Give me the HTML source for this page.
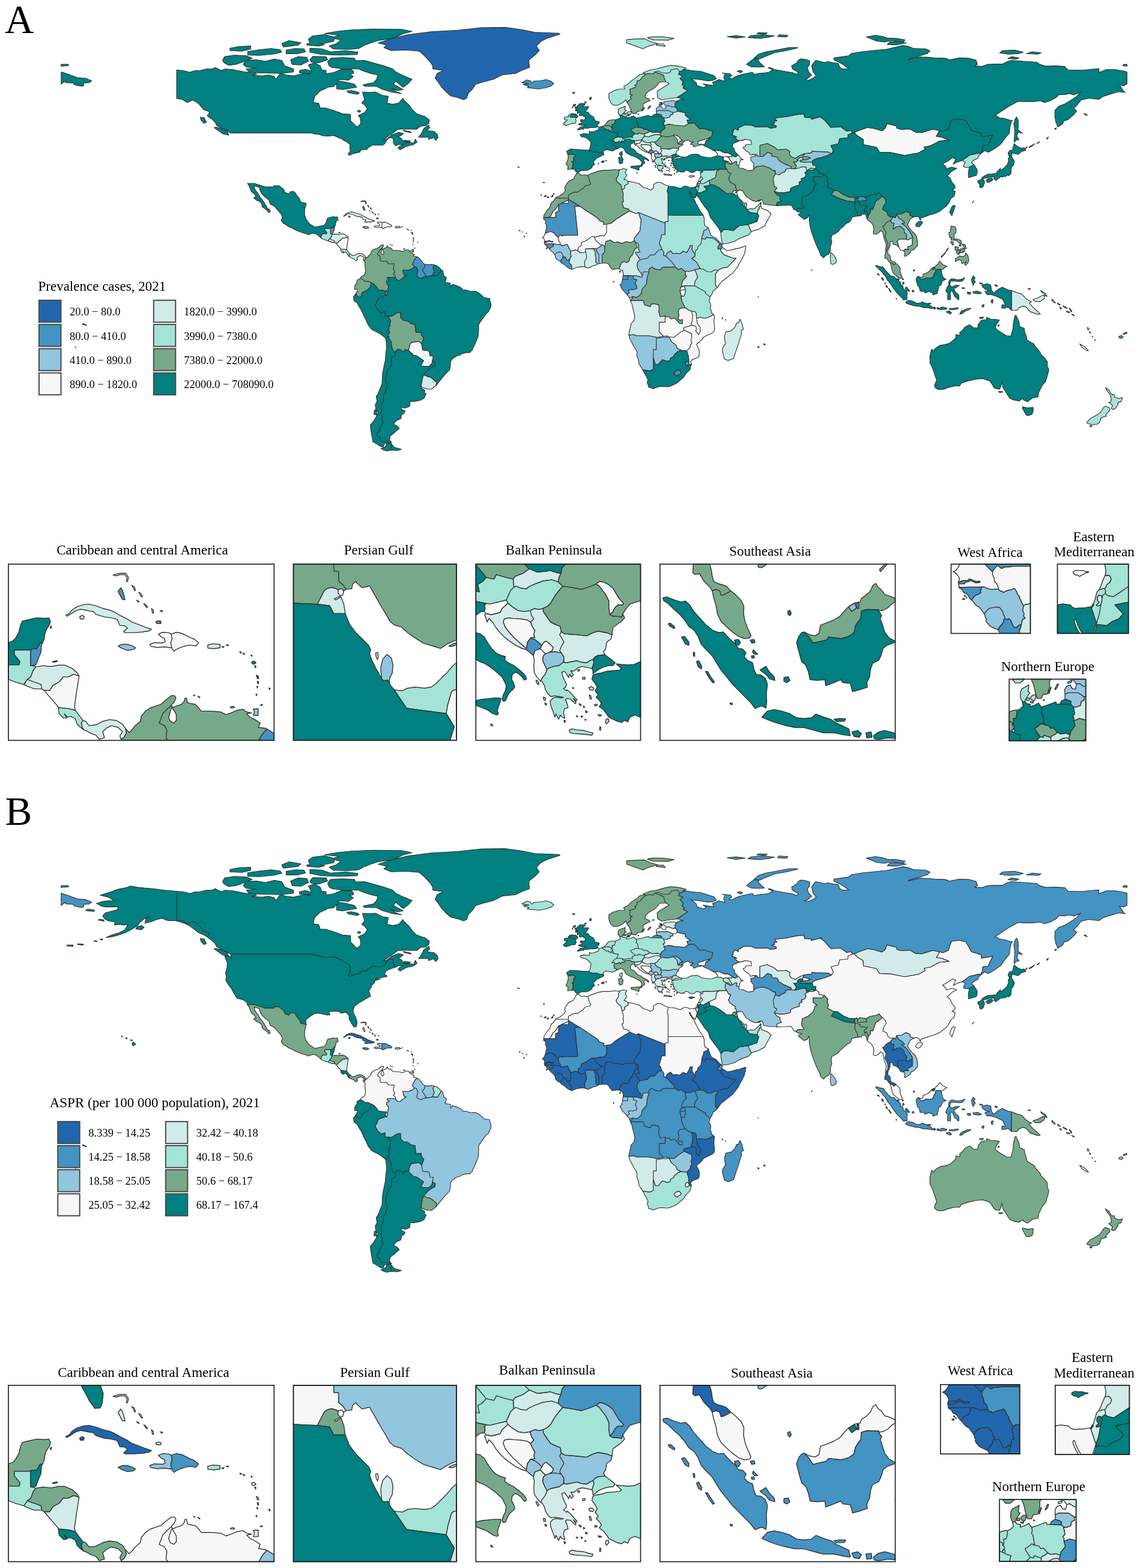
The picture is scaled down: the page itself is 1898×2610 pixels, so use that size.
<!DOCTYPE html><html><head><meta charset="utf-8"><title>Figure</title><style>html,body{margin:0;padding:0;background:#fff}svg{display:block}text{font-family:"Liberation Serif",serif;fill:#000}</style></head><body>
<svg xmlns="http://www.w3.org/2000/svg" width="1898" height="2610" viewBox="0 0 1898 2610">
<rect width="1898" height="2610" fill="#fff"/>
<g id="mapA"><g stroke="#333" stroke-width="1.15" stroke-linejoin="round"><path fill="#4393c3" d="M907.5,401.9 910,401.3 912.7,401.2 913.7,400.2 915.2,400.6 917.1,401.7 918.9,401.9 920.7,401.7 920.9,402.4 919.7,402.8 917.8,402.8 916,401.9 914.5,401.3 913,402.1 910.8,402.4 910.4,403.6 907.1,403.6 906.3,403.6 906.2,402.6ZM909,413.9 910,413.5 910.6,414 909.7,414.4ZM911.9,413.4 911.3,412.9 912,412.7ZM910.2,411.6 910.8,411.4 911,412.2 910.3,412.2ZM920,410.7 918.2,411.2 916.7,412.5 915.2,414.8 914.5,414 913.4,412.5 912.7,411.4 911.9,410.3 910,409.7 909.3,408.8 909,407.9 908.2,407.1 907.1,406.5 907.1,406.6 907.1,406.5 906.6,405.9 906.7,405.8 909,406 912.7,405.8 916.3,405.8 921.5,405.8 921.9,407.3 921.1,408.1 921.5,409.5ZM947.7,437.8 951.6,441.3 952.1,448.2 951.1,448.2 944.7,444.9 939.8,440.6 935.9,438.3 934.4,437.5 933.7,436.1 933,434.9 934,433.1 935.5,431.2 937,429.4 936.7,428.6 937.5,427.1 938.5,427.9 940.3,427.3 941.4,428.2 942.5,430.5 943.7,433.1 945.5,433.5 947,431.9 948.8,431.2 948.4,433.5 947.7,434.9 947.6,436ZM962,391.6 943.3,391.6 942.7,391.6 940.3,392 937.7,392 935.5,393.1 934.8,392.7 933.2,391.3 932.4,391.1 930,394 929.3,395.4 927.8,393.8 925.9,392 924.1,390.1 923.1,388.5 918.6,386 915.2,385.5 907.8,388.5 907.7,388.5 910.2,378.4 909.3,373.3 907.8,371.7 909,368.2 905.1,364.6 905.6,361.9 914.2,361.9 925,361.9 925,353.5 930,351.2 930,340.8 934.9,338.2 946.4,338.2 946.4,333.1 946.4,331.6 965.3,343.3 957.1,343.3 962,391.6ZM1036.4,465.2 1037.4,458.6 1045,458.6 1045,465.2ZM1033.2,452 1032,453.8 1031.5,451.2ZM1045,458.6 1054.2,459.1 1054.7,463.7 1060.6,465.7 1057.6,471.3 1060.1,476.9 1060.1,480.5 1053.2,482.5 1050.7,482 1046.3,482.5 1047.8,487.6 1043.8,490.4 1040.9,486.6 1036.4,482.5 1034.9,480 1032.2,473.9 1034.9,472.3 1035.7,468.3 1036.4,465.2 1045,465.2ZM1130.6,615.6 1134.3,619.7 1132.5,622.4 1128.6,624.2 1127.6,626 1124.2,624.2 1122.2,620.7 1125.6,617.1ZM1143.9,600.9 1146.8,602.4 1147.3,606.7 1143.4,609 1141.7,608.5 1140.9,606.4 1141.9,601.9ZM1202.5,407.3 1201.8,411.4 1202.3,412.1 1200.6,414.7 1195.1,414.4 1194.9,411.4 1198.1,406.8 1201.5,405.8ZM703.2,450 710.6,460.6 706.7,460.4 700.8,463.7 695.3,461.2 693.9,458.6 695.8,450.5 694.3,447.9 693.4,444.9 689.9,443.9 686.5,440.1 687.9,436.3 689.9,432.7 690.9,431.1 692.5,429 694.1,427.5 698.2,430 700.8,433.2 702.5,435.8 706.2,439.3 707.7,440.1 706.7,444.9ZM722.9,452 720,458.6 713.6,460.1 710.6,460.6 703.2,450 706.7,444.9 707.7,440.1 713.1,440.6 717.5,440.1 722.9,440.8 721,444.9ZM554.3,379.4 556.3,375.8 557.7,376.1 557.4,376.8 557.1,377.3 556.8,381.4 555.3,385 553.7,389.1 551.2,389.6 550.4,389.5 550.4,379.7ZM628.1,362.7 629.6,363 629.6,364.3 627,364.3 626.5,363.3ZM605.2,343 606.2,344.5 607.3,347.6 607.8,350.2 606.2,350 604.6,347.1 603.6,345ZM1082.8,249.3 1085.2,250 1087.7,251.5 1089.2,252.6 1088.3,254 1087,254.5 1085.2,254.9 1084.3,257 1082.8,256.1 1081,254.9 1080.3,254.5 1080.2,254.4 1080.3,254 1081,251.2ZM1439.1,327.8 1441.1,329.1 1442.6,330.6 1443.1,333.9 1431.7,334.7 1427.8,334.2 1427.3,331.6 1430.7,327ZM868.8,137.6 877.2,133 883.1,134.5 885.6,138.1 889,135 899.4,134.5 909.3,132.5 917.1,135 922.1,139.1 917.6,143.1 907.8,146.2 896.4,148.2 889,147.2 877.7,145.9 880.7,143.7 870.8,140.6 880.7,139.6ZM1605.2,516 1610.2,513.5 1616.6,513 1612.6,516 1605.7,518.6ZM1867.4,558.2 1869.9,561.2 1866.5,563.3 1863,562.2 1863,559.7ZM1875.8,552.6 1876.3,554.6 1871.4,556.7 1869.9,555.6Z"/><path fill="#f7f7f7" d="M930.7,402.1 932.2,403.6 933.1,405.8 933.3,407.3 931.1,407.1 928.5,407.5 925.9,406.7 923.7,405.8 921.5,405.8 916.3,405.8 912.7,405.8 909,406 906.7,405.8 906.6,405.9 906.5,405.8 906.7,405.1 906.3,404 906.2,402.6 906.9,400.6 906.7,399.3 905.8,398 904.9,396.6 903.4,395.5 902.6,395.4 904.5,394.4 906,392.4 907.1,390.1 907.5,389 907.6,388.5 907.7,388.5 907.8,388.5 915.2,385.5 918.6,386 923.1,388.5 924.1,390.1 925.9,392 927.8,393.8 929.3,395.4 929.4,397.6 930.3,399.5ZM906.3,403.6 907.1,403.6 910.4,403.6 910.8,402.4 913,402.1 914.5,401.3 916,401.9 917.8,402.8 919.7,402.8 920.9,402.4 920.7,401.7 918.9,401.9 917.1,401.7 915.2,400.6 913.7,400.2 912.7,401.2 910,401.3 907.5,401.9 906.2,402.6ZM967.4,409.3 967.9,403.8 974.3,401.2 979.2,398.2 985.6,393.6 990.1,394.6 991.1,399.2 994,402.2 999.9,407.3 1000.9,407.8 1000.9,409.8 996,412.4 993.5,414.4 988.4,413.9 975.3,414.4 974.8,417.5 975.2,419.5 974.3,420 966.4,421 962,417.5 963,411.4ZM1131.5,554.1 1138.9,549.5 1143.4,551.6 1151.3,555.1 1151.8,561.2 1150.3,566.3 1151.8,570.9 1149.3,574.9 1148.8,578.5 1143.4,584.1 1134,583.1 1127.1,579.5 1125.6,574.4 1118.2,568.9 1113.6,560.7 1122.2,561.5ZM1159.2,521.1 1159.6,529.2 1161.1,538.9 1165.6,544.5 1166.1,551.6 1163.1,557.2 1158.2,550.6 1159.6,548 1158.7,543.5 1152.7,541.4 1150.3,539.4 1152.7,533.8 1153.2,525.2 1151.5,518.1 1156.7,518.6ZM1146.8,601.9 1146.3,593.7 1143.4,584.1 1148.8,578.5 1149.3,574.9 1151.8,570.9 1150.3,566.3 1151.8,561.2 1151.3,555.1 1143.4,551.6 1138.9,549.5 1138,545.5 1152.7,541.4 1158.7,543.5 1159.6,548 1158.2,550.6 1163.1,557.2 1166.1,551.6 1165.6,544.5 1161.1,538.9 1159.6,529.2 1161.4,529.1 1165.6,528.2 1173.9,529.7 1178.9,528.2 1188.5,523.6 1189.4,525.7 1188.7,534.3 1188.7,536.3 1189.2,542.4 1190,546.5 1188.7,551.6 1185.8,554.1 1181.8,556.2 1176.9,558.2 1171.5,561.2 1168,565.8 1163.6,569.9 1160.9,571.1 1160.1,574.4 1162.1,578.5 1164.1,582.6 1164.3,587.6 1164.1,591.7 1162.6,594.8 1157.7,596.5 1151.8,599.1 1149.8,602.1 1151.3,606.7 1147.3,606.7 1146.8,602.4 1146.8,601.9ZM1151.5,518.1 1153.2,525.2 1152.7,533.8 1150.3,539.4 1152.7,541.4 1138,545.5 1138.9,549.5 1131.5,554.1 1122.2,561.5 1113.6,560.7 1110.4,559.2 1104.4,559.7 1097.5,552.6 1097.5,536.3 1107.4,536.3 1107.4,525.7 1109.4,527.7 1113.8,527.2 1117.3,530.8 1123.2,529.2 1127.1,533.3 1131.5,538.4 1136,538.6 1136,532 1132,533.3 1128.8,530.8 1130.3,524.7 1129.1,517.5 1131.5,513.5 1140.7,512 1146.8,516.3ZM1141.2,482 1136.7,482.2 1132,484.5 1133,478.4 1135,477.4 1139.4,475.6ZM1141.2,482 1141.2,487.1 1138.9,492.9 1134,492.9 1133,487.1 1132,484.5 1136.7,482.2ZM1191.2,455.8 1195.6,450.2 1196.1,449 1203.5,445.9 1210.9,444.9 1225.7,429.7 1220.8,429.7 1206,424.6 1201,419.5 1199.6,416.5 1200.6,414.7 1202.3,412.1 1203.5,412.6 1210.9,417.2 1218.3,415.9 1225.7,413.9 1231.6,412.9 1237,410.9 1241,409.3 1241.9,410.2 1241,413.4 1241,417.2 1240,418.5 1239.5,422.5 1236,429.2 1234.6,432.2 1231.1,438.3 1228.6,443.4 1224.2,449 1218.8,455.6 1212.6,460 1206.5,465 1201.5,468.8 1198.8,472.1 1194.1,478.7 1191.2,474.4ZM1063,353.5 1067.5,366.7 1065.5,384.4 1055.6,397.1 1056.1,400.7 1050.7,403.8 1041.8,402.2 1035.9,405.3 1028.5,402.7 1022.6,403.8 1016.2,399.7 1008.8,401.7 1006.8,410.9 1003.1,407.3 1000.9,407.8 999.9,407.3 994,402.2 991.1,399.2 990.1,394.6 999,392.6 1006.4,392.1 1009.8,387 1010,373 1017.7,371.5 1026.1,364.4 1048.2,350.9 1059.1,355.5ZM943.7,406.8 942.9,407.3 941,407.8 940.7,407.9 938.5,408.4 936.7,409.5 935.5,408.4 934.8,408.7 933.8,408 933.3,407.3 933.1,405.8 932.2,403.6 930.7,402.1 930.3,399.5 929.4,397.6 929.3,395.4 930,394 932.4,391.1 933.2,391.2 934.8,392.7 935.5,393.1 937.7,392 940.3,392 942.7,391.6 943.3,391.6 962,391.6 957.1,343.3 965.3,343.3 995,363.1 998,367.2 1005.4,369.7 1004.9,373.8 1010,373 1009.8,387 1006.4,392.1 999,392.6 990.1,394.6 985.6,393.6 979.2,398.2 974.3,401.2 967.9,403.8 967.4,409.3 963,411.4 962,417.5 958.5,415.9 952.7,417.7 952.1,417.4 950.6,418.3 950.3,418.5 949.2,416.7 948.7,415.8 948.2,414.4 947.3,413.1 947.7,412.5 946.2,410.7 945.5,408.8 944.4,407 943.7,406.8ZM713.1,583.6 715,585.6 716,592.2 721.5,592.5 720,600.3 719,605.4 714.6,609.5 710.6,610 700.3,609 705.2,600.3 699.3,596.3 693.4,592.2 688.4,591.2 680.3,583.3 682,574.4 685,569.9 697.8,568.3 702.2,572.7 703.7,582.6ZM562.1,404.4 564.1,401.4 567.8,399.3 570.4,396.2 573.5,396.2 576.6,394.7 579.9,395.7 579.2,400.3 578.2,406.5 577.6,410.6 577.1,414.2 577.6,416.2 573.5,415.2 567.8,414.7 567.2,414.2 564.1,410.6 561,407 558.7,404.4 560,404.4ZM622.8,376.8 623.6,378 627.5,378.7 631.7,378.3 635.8,378.9 636.1,378.9 635.6,375.8 636.3,373.2 635.8,370.6 634.3,369.8 630.7,369.6 628.1,370.6 629.6,372.2 631.7,373.2 632.2,375.3 630.7,376 625.4,375.8ZM635.8,370.6 638.9,369.6 642,370.1 645.2,371.6 647.3,372.7 649.9,373.7 652.4,375.8 650.9,377.8 647.3,377.3 644.2,377.8 641,378.9 638.9,379.9 637.4,380.9 636.1,378.9 635.6,375.8 636.3,373.2ZM1066.3,233.1 1068.8,232.6 1069.7,234 1068.2,235.1 1066.3,236.3 1065.1,238.2 1062.6,238.7 1060.2,239.1 1057.2,238.7 1055.9,237.7 1056.6,236.3 1055.9,234.9 1056.5,234.8 1056.6,234.1 1059.3,234.4 1062.6,233.7 1062.7,233.7ZM1070,240.5 1073,240.7 1077.3,240.9 1081,241.4 1082.8,242.4 1083.7,244.2 1085.2,246.1 1084.6,247.9 1085.2,249.1 1082.8,249.3 1081,251.2 1080.3,254 1079.2,253.3 1076.1,251.2 1073,249.1 1070.6,247 1068.2,244.7 1066.9,242.4 1067.5,240.9ZM1091.9,250.7 1094.1,252.1 1095.9,253.5 1095.3,254.9 1093.8,255.6 1091.3,256.3 1089.5,254.9 1088.3,254 1089.2,252.6 1090.7,251ZM1088.3,254 1089.5,254.9 1091.3,256.3 1090.1,257.3 1089.8,259.4 1091.3,261.9 1092.3,263.3 1091.3,265.2 1089.5,267 1088.6,268.4 1086.4,266.6 1084.9,264.7 1084.6,261.9 1084.9,259.1 1084.3,257 1085.2,254.9 1087,254.5ZM1124.9,224.7 1127.9,225.9 1130.4,227.5 1132.2,229.8 1134.1,232.1 1136.5,234 1135.9,234.9 1133.4,234.7 1131.6,235.9 1130.4,237.7 1128.5,239.1 1127.9,236.3 1127.9,233.1 1126.1,230.3 1124.3,228.4 1122.4,226.5 1120.6,225.6 1122.4,224.4ZM1019.4,215.5 1021.1,217.3 1020.4,219.1 1017.7,218.6 1017.4,216.8ZM1277.9,366.7 1274,373.8 1273.5,376.3 1267.6,378.9 1261.2,382.4 1255.3,383.9 1250.8,385.7 1245.4,373.8 1260.2,368.7 1262,363.3 1263.3,359.1 1260.7,355.2 1261.3,352.5 1262.5,348.7 1263,348.2 1264,348 1264.1,343.8 1266.8,343.6 1266.9,343.5 1268.1,346.9 1277.9,350.4 1283.9,356 1277.9,366.7ZM1267,339.9 1266.8,340.3 1265.9,340 1265.6,338 1267.1,336.8ZM1205.5,253.9 1212.4,254.4 1218.1,257.4 1218.8,261 1210.9,260.5 1204,261.5 1198.6,259.7 1193.7,259.5 1194.6,256.4 1191.2,251.9 1186.3,249.8 1198.6,250.8ZM1215.8,267.1 1218.3,269.6 1218.3,272.7 1216.3,272.9 1213.4,269.6 1209.9,268.6 1204.3,266.6 1204,261.5 1210.9,260.5 1213.9,263ZM1496.8,398.2 1507.6,397.7 1511.6,399.2 1519.2,395.6 1519,407.8 1511.1,411.4 1512.6,415.4 1507.1,414.9 1504.2,417.5 1499.3,416.5 1496.8,411.9 1496.3,411.1 1493.8,401.2ZM1444,212.2 1453.9,213.5 1468.7,217.6 1473.6,213.8 1476.6,205.6 1492.8,209.7 1493.3,213.3 1500.2,215.5 1515,214.5 1524.4,219.9 1534.7,220.6 1552.5,215 1564.3,217.3 1558.9,227 1567.8,228.2 1580.1,233.1 1564.3,234.8 1549,242.7 1538.2,244.7 1540.7,248.3 1528.8,254.7 1506.2,258.7 1482,253.9 1464.3,253.4 1459.3,245.3 1437.6,240.7 1437.1,232 1427.3,226 1421.9,220.4 1431.2,216.8Z"/><path fill="#92c5de" d="M949.8,421.3 949.8,421.4 949.9,422.2 950.7,423.8 950.3,425.6 951.4,427.1 949.6,427.9 949.2,429.7 948.8,431.2 947,431.9 945.5,433.5 943.7,433.1 942.5,430.5 941.4,428.2 940.3,427.3 938.5,427.9 937.5,427.1 937.5,426 936.7,424.5 936.3,422.6 935.2,421.1 934,419.7 931.8,419.4 929.3,419.8 927,420.4 925.2,422.2 923.7,424.1 923,423 921.9,421.5 921.1,420.4 920,419.2 918.5,418.5 917.4,417.4 916.3,415.9 915.2,414.8 916.7,412.5 918.2,411.2 920,410.7 921.5,409.5 921.1,408.1 921.9,407.3 921.5,405.8 923.7,405.8 925.9,406.7 928.5,407.5 931.1,407.1 933.3,407.3 933.8,408 934.8,408.7 935.5,408.4 936.7,409.5 938.5,408.4 940.7,407.9 942.9,407.3 943.7,406.7 944.4,407 945.5,408.8 946.2,410.7 947.7,412.5 947.3,413.1 948.2,414.4 948.7,415.8 949.2,416.7 950.3,418.5 949.8,421.3ZM927,420.4 929.3,419.8 931.8,419.4 934,419.7 935.2,421.1 936.3,422.6 936.7,424.5 937.5,426 937.5,427.1 936.7,428.6 937,429.4 935.5,431.2 934,433.1 933,434.9 930.3,433.8 928.5,432.9 927.4,432.1 926.6,431.2 925.6,430.1 924.8,428.6 925.2,427.5 924.4,426.8 924.3,425.2 923.7,424.1 925.2,422.2ZM992.1,428.6 991.1,425.6 991.1,419.5 989.1,416.5 988.4,413.9 993.5,414.4 993,417.5 996,422 997,424.6 997.2,438.8 997.2,438.9 995,439.3 991.6,435.8ZM995,439.3 997.2,438.9 997.2,438.8 997,424.6 996,422 993,417.5 993.5,414.4 996,412.4 1000.9,409.8 1000.9,407.8 1003.1,407.3 1006.8,410.9 1006.8,419.5 1002.4,424.6 1002.7,430.7 1002.4,438 1000.9,438.3 995,439.3ZM1046.3,482.5 1050.7,482 1053.2,482.5 1060.1,480.5 1060.1,476.9 1057.6,471.3 1060.6,465.7 1054.7,463.7 1054.2,459.1 1060.6,459.1 1068.5,461.7 1068.9,459.1 1070.4,456.1 1070.9,452.5 1080.8,452.5 1078.3,458.6 1077.3,465.2 1076.3,472.8 1068.9,481.5 1068,488.1 1064.5,492.1 1060.1,495.2 1053.7,493.7 1048.2,495.7 1047.9,495.5 1047.5,494.7 1043.8,490.4 1047.8,487.6ZM1059.1,558.7 1079.8,558.7 1094.6,561.5 1104.4,559.7 1110.4,559.2 1113.6,560.7 1108.4,561.7 1103.9,561.7 1092.6,563.3 1092.6,582.1 1087.7,582.1 1087.7,614.6 1082.8,617.1 1077.8,617.1 1074.9,616.1 1070.2,615.6 1063.8,605.7 1062.8,598.8 1060.3,592.2 1060.6,586.9 1059.3,582.6 1055.1,576.5 1052.2,570.4 1049.2,565.3 1047,557.9 1055.6,556.7ZM1108.4,561.7 1113.6,560.7 1118.2,568.9 1125.6,574.4 1127.1,579.5 1134,583.1 1128.6,585.1 1122.7,590.2 1121.4,593.5 1116.8,595.8 1115.3,600.3 1110.8,601.4 1102.5,598.8 1096.1,606.7 1091.1,606.7 1087.7,596.3 1087.7,582.1 1092.6,582.1 1092.6,563.3 1103.9,561.7ZM1194.6,401.7 1190.7,398.7 1186.3,396.6 1181.3,396.1 1175.9,394.6 1174.4,398.2 1168.5,397.1 1168.5,394.1 1171,388 1171.5,383.9 1175.9,381.9 1179.4,378.9 1183.5,391.1 1186.8,394.1 1192.2,396.6 1198.1,403.2 1201.5,405.8 1198.1,406.8ZM1116.3,417.5 1120.2,422 1126.6,421.5 1131.5,422.5 1134.5,420.5 1137,418 1143.4,420.5 1148.8,410.9 1148.3,409.3 1152.7,408.3 1152.2,415.9 1156.2,422 1157.2,422 1157.2,426.6 1151.8,430.2 1156.7,433.7 1160.1,436.8 1163.1,442.4 1166.1,446.9 1156.7,449 1151.8,450.7 1146.8,452 1142.9,451 1141.2,452.5 1134.5,446.9 1129.1,448.5 1124.2,444.4 1119.2,436.8 1113.3,430.7 1108.4,426.1 1111.3,420.5ZM1107.4,390.5 1102,390.5 1099.5,399.2 1097.5,405.8 1100,409.3 1102,414.9 1096.1,416.5 1089.7,424.1 1082.8,424.6 1077.8,429.7 1070.4,431.2 1065.5,432.2 1064,429.7 1057.9,421.5 1058.1,420 1065.5,419.5 1063,414.9 1063,408.8 1062.5,405.3 1058.6,403.8 1056.1,400.7 1055.6,397.1 1065.5,384.4 1067.5,366.7 1063,353.5 1107.4,371.2ZM1077.8,429.7 1082.8,424.6 1089.7,424.1 1096.1,416.5 1102,414.9 1105.4,420 1104.9,425.1 1108.4,426.1 1113.3,430.7 1119.2,436.8 1124.2,444.4 1113.8,444.9 1109.4,444.4 1102,445.9 1099.5,449.5 1090.6,447.9 1085.2,444.4 1080.3,448.5 1080.8,452.5 1070.9,452.5 1070.4,456.1 1068.9,459.1 1067.5,455.1 1063,449.5 1061.1,444.9 1060.6,440.3 1061.6,436.3 1065.5,432.2 1070.4,431.2ZM603.6,377.8 606.2,376.8 609.3,376.8 612.5,377.8 614.2,378.9 613,379.9 609.3,380.4 606.2,379.4ZM685.7,415.5 688.6,415.3 688.6,419.3 685.7,419.3 686.4,417.2ZM1093.2,262.6 1092.3,263.3 1091.3,261.9 1089.8,259.4 1090.1,257.2 1091.3,256.3 1093.8,255.6 1096.8,255.4 1100.5,255.9 1102,257.7 1101.7,260 1099.3,261.5 1096.2,261.9 1093.2,262.6ZM1111.8,183.8 1120.2,187.3 1120.2,190.4 1116.3,191.4 1115.3,195 1109.4,196.5 1104.9,196.2 1101.5,194.2 1101.5,191.4 1097.5,190.4 1093.1,189.4 1092.9,185.3 1097.5,183.8ZM1119.7,178.2 1123.9,177.9 1126.6,179.7 1128.1,185.1 1125.1,186.8 1120.2,187.3 1111.8,183.8 1097.5,183.8 1092.9,185.3 1092.6,180.7 1095.6,177.9 1100.5,176.9 1103.5,180.2 1107.9,180.5 1109.4,176.2 1113.8,175.7ZM1102,174.6 1097.5,175.7 1097,174.1 1103.5,172.6ZM1109.4,176.2 1104.9,172.6 1104.9,169.6 1111.1,168.3 1117.3,167.5 1127.1,168.3 1124.2,171.6 1123.9,177.9 1119.7,178.2 1113.8,175.7ZM1102,171.9 1099,171.9 1098,170.8 1102.5,170.6ZM1240.4,345.3 1239.7,344.9 1239.4,341.4 1240.1,338.8 1241.5,337.4 1242.8,338.5 1243.4,340.4 1243.2,342.9 1242.4,344.5 1242.2,345.6 1241.7,345.2ZM1262.7,260.5 1265.1,260.5 1270.1,260.5 1277.9,253.4 1284.8,255.9 1285.3,260 1294.2,261.5 1296.7,267.1 1305.5,272.4 1317.1,277.3 1316.9,280.6 1312.4,280.8 1308.5,281.8 1307,285.9 1300.6,288.2 1297.7,291.2 1290.8,289.5 1290.8,284.1 1287.3,284.1 1281.4,279.8 1271,276 1260.2,277.3 1254.8,280.6 1254.8,272.2 1250.3,267.1 1249.8,261.5 1258.7,259.5 1255.5,257.2 1258.7,256.7ZM1351.9,251.4 1358.8,252.4 1363.7,252.4 1379,252.9 1384.4,255.9 1376,259.5 1368.1,262 1357.8,264.6 1352.9,267.6 1352.4,269.6 1339.1,270.1 1332.2,269.1 1331.7,267.1 1337.1,266.1 1344,265.6 1349.4,262.8 1344,261 1336.6,260 1340,255.9 1338.6,255.7 1351.4,254.4ZM1492.8,356.5 1496.8,363.6 1501.7,366.2 1506.2,371.2 1501.2,372.3 1507.6,376.3 1514,384.4 1519,393.1 1519.2,395.6 1511.6,399.2 1507.6,397.7 1509.1,397.1 1509.6,391.1 1505.7,387 1505.2,381.9 1498.8,376.8 1492.4,377.8 1486.9,381.4 1488.4,371.2 1484.5,371.2 1482.5,366.9 1487.7,360.8 1490.9,362.6ZM1555.1,447.5 1552.9,449.2 1551.3,446.9 1554.4,445ZM1556.3,447.6 1555.5,447.6 1555.5,445.2 1556.2,444.5 1556.3,444.5Z"/><path fill="#76a98a" d="M980.7,299.1 983.2,305.2 982.7,307.2 974.3,309.3 971.1,313.3 964.5,317.9 961,319.9 954.1,320.4 946.4,324.5 946.4,329.7 924.7,329.7 925.5,328.3 931.4,326.5 934.4,324 938.8,320.9 941.5,315.9 940.3,314.9 940.8,310.3 943.5,306.2 947.2,301.4 951.6,299.6 955.3,297.3 958,292 960,288.4 963,287.9 967.9,291.5 974.3,291 978.3,292 980.2,295.5ZM946.4,333.1 941.8,335.2 934.9,338.2 930,340.8 925,348.4 920.6,352.4 917.1,359.6 914.2,361.9 905.6,361.9 905.1,364.6 905.3,361.6 905.8,357.5 908.8,353.5 910.7,349.9 915.2,345.8 917.6,337.7 921.1,335.2 923.1,332.6 924.7,329.7 946.4,329.7ZM1029.5,292.5 1026.1,297.6 1026.6,301.1 1030.5,305.2 1033.7,307.2 1035.9,316.4 1037.9,323 1037.4,328.1 1038.1,335.7 1035.4,337.7 1038.4,345.8 1046.3,347.9 1048.2,350.9 1026.1,364.4 1017.7,371.5 1010,373 1004.9,373.8 1005.4,369.7 998,367.2 995,363.1 965.3,343.3 946.4,331.6 946.4,329.7 946.4,324.5 954.1,320.4 961,319.9 964.5,317.9 971.1,313.3 974.3,309.3 982.7,307.2 983.2,305.2 980.7,299.1 980.2,295.5 978.3,292 984.2,288.9 989.6,287.4 995.5,284.9 1004.2,283.4 1013.7,283.4 1023.1,282.3 1027.5,282.8 1031.5,282.6 1030,287.4ZM1002.4,424.6 1006.8,419.5 1006.8,410.9 1008.8,401.7 1016.2,399.7 1022.6,403.8 1028.5,402.7 1035.9,405.3 1041.8,402.2 1050.7,403.8 1056.1,400.7 1058.6,403.8 1059.1,406.8 1061.1,411.9 1057.1,414.4 1052.2,425.6 1049.2,427.6 1047.3,434.7 1043.3,437.3 1038.9,435.2 1034.4,437.8 1031.5,445.9 1031,447.2 1026.1,447.7 1023.6,447.9 1019.2,448.5 1015.7,444.4 1013.7,440.3 1010.8,438.3 1005.9,437.8 1002.4,438 1002.7,430.7ZM1134.7,498.8 1134.8,498.8 1135,500.8 1137,504.7 1140.7,512 1131.5,513.5 1129.1,517.5 1130.3,524.7 1128.8,530.8 1132,533.3 1136,532 1136,538.6 1131.5,538.4 1127.1,533.3 1123.2,529.2 1117.3,530.8 1113.8,527.2 1109.4,527.7 1107.4,525.7 1099,527.2 1096.6,518.6 1097.5,513.5 1096.6,507.4 1090.1,505.9 1084.7,505.9 1082.8,510.4 1072.9,507.4 1070.9,500.3 1053.2,500.3 1049.7,501.3 1049.4,499.5 1050.7,499.8 1053.7,493.7 1060.1,495.2 1064.5,492.1 1068,488.1 1068.9,481.5 1076.3,472.8 1077.3,465.2 1078.3,458.6 1080.8,452.5 1080.3,448.5 1085.2,444.4 1090.6,447.9 1099.5,449.5 1102,445.9 1109.4,444.4 1113.8,444.9 1124.2,444.4 1129.1,448.5 1134.5,446.9 1141.2,452.5 1140.9,458.1 1143.4,459.4 1139.4,464.2 1136.7,467.3 1135,472.8 1135,477.4 1133,478.4 1132,484.5 1133,487.1 1134,492.9 1134.7,498.8ZM607.1,432.5 608.6,429.9 608.1,427.1 610.4,429.5 611.9,428 614,425.4 617.1,422.9 617.7,419.8 620.3,416.7 623.4,414.7 626.5,413.7 629.6,412.6 633.2,409.5 635.8,407.5 637.9,407.5 638.7,409 637.4,411.6 635.8,413.2 636,413.3 635.8,413.5 633.2,415.7 630.7,418.3 629.6,421.3 628.5,423.9 631.7,425.4 633.2,428 632.7,432.7 634.2,434.7 643.6,434.7 647,439.3 656.4,438.8 654.7,447.4 657.4,453 654.7,456.1 657.9,458.6 659.3,464.2 658.4,461.7 653.9,461.7 645.1,461.7 644.8,464.7 648,465.2 647,467.3 643.8,467.5 643.8,471.3 647,475.9 644.3,491.6 640.6,489.6 643.8,484 629.8,482.5 628.3,479.4 622.4,472.8 617.9,470.8 613,468.3 607.6,468.3 605.1,466.2 600.4,463.2 600.7,461.2 607.1,457.1 608.6,451 607.6,442.4 607.8,435.8 605.4,433.5ZM607.6,468.3 613,468.3 617.9,470.8 616.5,477.9 611,483.5 605.6,485.5 602.7,487.6 601.2,493.7 599.2,495.7 592.6,490.6 593.3,487.6 595.3,483.5 594.8,481.5 590.3,481.5 590.8,475.4 594.3,470.3 594.5,466.2 600.4,463.2 605.1,466.2ZM689.9,432.7 687.9,436.3 686.5,440.1 689.9,443.9 686.5,447.4 679.6,450 673.6,449.5 670.7,449.5 672.7,457.6 676.6,459.1 673.6,460.6 666.3,466.2 662.3,466.5 659.3,464.2 657.9,458.6 654.7,456.1 657.4,453 654.7,447.4 656.4,438.8 647,439.3 643.6,434.7 634.2,434.7 632.7,432.7 633.2,428 631.7,425.4 628.5,423.9 629.6,421.3 630.7,418.3 633.2,415.7 635.8,413.5 636,413.3 635.8,413.2 635.8,413.1 636.9,414.7 638.9,413.7 642,412.6 643.6,411.1 644.2,409 645.2,409 645.7,411.6 647.3,412.1 650.4,412.6 652.4,414.7 654,416.7 659.7,416.7 666,417.2 669.1,418.8 672.2,417.8 675.9,416.2 679.5,415.7 681.6,417.2 684.7,417.8 681.6,418.3 683.6,420.3 686.8,421.8 689.9,423.9 688.8,426.5 693,427 694.1,427.5 692.5,429 690.9,431.1ZM635.3,422.9 637.4,423.9 638.9,422.3 638.9,418.8 637.4,416.2 636.4,414.7 635.9,414.9 635.3,417.2 634.3,420.3ZM660.8,520.6 666.7,519.6 667.2,528.7 671.7,533.3 678.6,534.3 684.5,538.9 690.9,539.9 692.4,553.1 701.2,553.1 701.7,558.2 705.7,562.8 704.2,566.8 702.5,570.9 702.2,572.7 697.8,568.3 685,569.9 682,574.4 680.3,583.3 674.1,582.1 672.2,586.1 667.7,582.6 662.3,581 657.9,586.1 654.4,583.1 652.9,579.5 651.5,573.9 651.5,568.9 649,566.3 646.5,559.2 646,558.2 649,552.6 646,549.5 648,548 647,545.5 649.5,542.4 649,539.4 650.5,533.8 646,525.9 652.4,526.2ZM1107.2,227.2 1112.1,227.9 1115.7,227 1120.6,225.6 1122.4,226.5 1124.3,228.4 1126.1,230.3 1127.9,233.1 1127.9,236.3 1128.5,239.1 1130.4,239.8 1133.4,239.8 1135.2,240.3 1136,238.7 1137.1,240.5 1134.7,242.4 1130.4,244.7 1129.8,247.9 1126.7,247 1121.8,246.3 1118.8,247 1115.1,248.4 1109.6,247.9 1105.4,247.7 1102.3,247.5 1100.5,246.5 1099.9,244.2 1096.8,243.3 1094.4,242.4 1092.6,240.5 1090.1,237.7 1090.1,236.3 1092.6,235.4 1094.4,234 1096.8,230.7 1099.3,228.4 1101.4,226.5 1103.6,226.8ZM906.8,303.9 905.8,304.4 904.3,303.4ZM861.9,277.8 864.9,278 863.4,278.8ZM954.6,268.6 952.1,269.1 954.6,272.7 953.1,275.2 954.6,277.3 952.1,279.8 952.6,281.3 945.2,282.3 945.7,275.7 942.3,273.5 945.2,266.1 946.2,261.3 945.5,257.4 948.7,256.4 956.6,257.2 958.5,259 955.1,262ZM1013.7,208.9 1017.9,210.5 1017.2,212.2 1018.7,212.5 1020.6,214.5 1019.4,215.5 1017.4,216.8 1017.7,218.6 1013.3,217.3 1013,215.5 1009.8,216.3 1004.4,212.2 1001.7,210.7 1005.6,209.4 1010.3,209.2ZM1022.6,206.4 1018.7,206.9 1019.7,209.2 1018.7,212.5 1017.2,212.2 1017.9,210.5 1013.7,208.9 1010.3,209.2 1005.6,209.4 1008.8,206.4 1011.8,201.6 1015.7,200 1023.1,199 1024.6,199.5 1023.8,204.1ZM1069.4,213 1072.4,215.3 1076.3,214.8 1082,218.8 1078.3,220.9 1073.9,222.1 1072.6,223.4 1068.5,222.7 1063,221.4 1061.6,223.4 1057.1,222.7 1050.7,216.8 1049.7,215.3 1053.2,214 1059.6,211 1062,212 1064.5,212.2ZM1101.4,226.5 1098.7,224.7 1098.7,224.6 1099.1,223 1100.2,220.9 1101,218.3 1107.4,213.3 1105.4,208.7 1113.8,206.6 1123.2,208.2 1133.5,209.2 1139.9,209.7 1145.8,205.6 1155.7,204.4 1164.6,214.3 1173.4,214.3 1180.8,217.3 1186.8,218.3 1184.8,227.5 1177.4,231 1173.9,231.5 1170,233.1 1162.6,235.1 1161.6,238.1 1164.1,240.2 1169,239.7 1166.5,241.7 1163.6,241.7 1159.2,243 1155.2,244.7 1154.2,241.7 1149.3,239.7 1154.7,236.1 1149.3,236.1 1146,233.1 1143.8,233.5 1140.1,234.4 1137.7,236.8 1136,238.7 1135.3,240.2 1134.4,240.1 1133.4,239.8 1132,239.8 1129.8,239.6 1128.5,239.1 1130.4,237.7 1131.6,235.9 1133.4,234.7 1135.9,234.9 1136.5,234 1134.1,232.1 1132.2,229.8 1130.4,227.5 1127.9,225.9 1124.9,224.7 1122.4,224.4 1121.8,224.8 1120.6,225.6 1115.7,227 1112.1,227.9 1112,227.9 1107.2,227.2 1103.6,226.8 1101.4,226.5ZM1069.9,183.3 1072.4,179.2 1073.4,179 1069.9,184.8ZM1081.8,179.2 1079.3,181 1078.3,180.7 1081.8,176.2 1083.7,176.2ZM1048.7,156.9 1049.2,150.3 1048.2,148.7 1057.6,145.2 1058.6,142.6 1056.6,142.1 1060.6,138.6 1060.6,134.5 1065.5,133.5 1069.9,127.4 1074.4,124.4 1078.3,122.3 1087.7,122.8 1090.4,119.5 1104.9,125.4 1105.9,129.9 1107.4,133.5 1108.4,136 1098.5,136.5 1094.1,142.1 1089.2,146.7 1079.3,152.3 1074.9,156.9 1073.9,161.9 1080.8,165 1082.3,167.5 1078.3,169.1 1070.9,173.1 1070.9,178.7 1068,184.8 1061.6,185.3 1059.1,188.9 1053.2,188.9 1050.7,184.3 1048.2,177.2 1044.3,171.1 1043.8,170.1 1047.3,167 1050.7,164.5 1049.2,160.4 1052.7,158.4ZM1192.2,289.5 1193.2,284.9 1197.8,281.8 1209.9,281.6 1212.9,287.4 1216.8,288.9 1212.9,297.6 1215.8,302.7 1224.7,308.8 1224.1,310.4 1224.2,312.4 1225.6,312.5 1225.7,315.5 1227.2,316.6 1228.1,317.8 1227.5,318.2 1225.6,318.2 1225.1,317.7 1223.4,317.3 1222,317.5 1221,318.2 1218.7,322.3 1209.4,322 1196.6,312.3 1188.2,308 1182.3,307 1180.3,300.6 1191.2,295.5ZM1277.4,238.7 1289.8,244.7 1294.7,249.3 1309,248.3 1314.9,251.9 1314.4,256.9 1317.9,261.3 1324.3,263.5 1329.2,260 1338.6,255.7 1340,255.9 1336.6,260 1344,261 1349.4,262.8 1344,265.6 1337.1,266.1 1336.1,262 1330.7,263 1327.2,266.1 1329.2,266.6 1326.2,269.6 1321.3,269.6 1326.2,276.2 1323.3,281.3 1316.9,280.6 1317.1,277.3 1305.5,272.4 1296.7,267.1 1294.2,261.5 1285.3,260 1284.8,255.9 1277.9,253.4 1270.1,260.5 1265.1,260.5 1265.1,241.7ZM1263,334.2 1264,333.9 1266.1,333.4 1266.1,333.9 1262.5,335.1 1261.6,334.9ZM1218.3,272.7 1220.8,271.2 1225.7,268.6 1227.2,270.1 1225.7,273.2 1228.6,275.2 1230.1,275.2 1230.6,279.8 1237,280.3 1245.4,284.4 1255,282.9 1255.3,282.8 1254.8,280.6 1260.2,277.3 1271,276 1281.4,279.8 1287.3,284.1 1290.8,284.1 1290.8,289.5 1287.8,296.1 1287.3,299.1 1289.3,310.3 1293.7,312.8 1289,318.7 1293.7,324.5 1298.6,326.8 1298.4,331.6 1301.1,334.7 1293.7,337.2 1292.7,342.3 1279.9,341.3 1271.5,339.7 1269.1,332.6 1266.6,332.4 1264,333.1 1263,333.4 1260.9,334.4 1258.9,335.6 1256.8,335 1253.3,334.1 1250.6,332.5 1248.2,330.9 1246.3,329.3 1243.7,328.5 1242.4,327.4 1241.1,325.3 1239.7,323.3 1238.6,321.4 1236.8,318.5 1235.8,316.8 1233.4,317.4 1231.7,316 1231.3,315.5 1230.3,316.3 1229.9,317.7 1228.1,317.8 1227.2,316.6 1225.7,315.5 1225.6,312.5 1224.2,312.4 1224.1,310.4 1224.7,308.8 1215.8,302.7 1212.9,297.6 1216.8,288.9 1212.9,287.4 1209.9,281.6 1207,277.3 1207.9,270.1 1209.9,268.6 1210.7,270.1 1212.9,272.2 1216.3,272.9ZM1404.1,324 1413,328.1 1423.3,328.6 1423.3,336.2 1409.1,334.4 1399.7,331.1 1383.9,324 1388.8,316.9 1394.8,317.4ZM1449.5,353.5 1449,347.9 1452.9,349.1 1455.4,342.3 1457.8,335.2 1463.3,331.6 1468.9,326.8 1472.6,329.6 1475.6,335.7 1470.7,344.3 1469.7,348.9 1476.6,352.4 1478.1,358 1482.5,361.1 1487.7,360.8 1482.5,366.9 1476.6,370 1471.2,376.3 1469.2,376.3 1475.6,387.5 1473.1,393.6 1478.1,404.3 1478.1,411.9 1474.6,420 1474.6,414.4 1475.6,406.8 1472.6,399.2 1470.2,389 1470.2,386.5 1466.2,383.9 1463.3,387 1458.8,390 1453.9,389 1454.9,381.4 1453.4,374.8 1450,369.7 1447,368.2 1444,365.1 1445.5,358.6ZM1487.2,440.9 1488.7,440.6 1492,438.7 1492.1,438.6 1494.8,440.9 1497.4,443.6 1498.7,446.7 1498.5,450.6 1499.3,454.5 1500.7,458.3 1502.3,461.8 1501.5,463 1498.9,463.3 1495.9,462.2 1492.9,459.9 1489.9,457.1 1487.2,454.5 1485.4,450.6 1484.6,446 1483.5,442.1 1482.7,438.6 1484.6,437.8 1486.5,438.6 1487.2,440.9ZM1557.8,449.1 1557.4,452.9 1555.9,454.9 1554.8,456.8 1554,460.2 1551.4,462.2 1547.7,463.3 1541.2,462.6 1540.2,464.1 1536.4,464.9 1533.4,465.7 1531.1,462.2 1528.9,459.9 1531.9,461.4 1534.5,461.8 1536.4,460.6 1537.2,456.4 1540.2,455.2 1543.9,453.7 1546.9,451.8 1549.5,448.7 1551.3,446.9 1551.4,446.7 1554.4,444.8 1556.2,444.5 1555.5,445.2 1555.5,447.6 1556.3,447.6 1556.3,444.5 1557,444.4 1557.8,442.5 1560.4,440.5 1562.3,438.6 1563.4,435.9 1564.9,434.7 1566,436.7 1567.9,438.2 1569.4,440.5 1572.1,441.3 1574.8,442.7 1576.6,443.4 1573.1,445.2 1570.9,447.5 1568.7,448.7 1566.4,449.1 1566.4,448.4 1560.4,448.3ZM1552.9,449.2 1555.1,447.5 1554.4,445 1551.3,446.9ZM1508.1,351.9 1515,354.5 1515,358.5 1521.4,361.1 1515.5,364.6 1511.1,373.8 1513.5,378.9 1519.5,386 1522.9,388.5 1526.4,395.1 1527.8,404.3 1527.3,409.3 1521.4,415.4 1516.5,417.5 1515,421.5 1507.6,426.6 1506.5,426.6 1505.7,426.1 1506.6,419.5 1504.2,417.5 1507.1,414.9 1512.6,415.4 1511.1,411.4 1519,407.8 1519.2,395.6 1519,393.1 1514,384.4 1507.6,376.3 1501.2,372.3 1506.2,371.2 1501.7,366.2 1496.8,363.6 1492.8,356.5 1501.2,356ZM1484.6,437.8 1482.7,438.6 1481.6,436.7 1478.6,433.6 1476.4,429.7 1474.1,430.1 1473,429.3 1473.2,425.1 1474.6,420 1478.1,411.9 1478.1,404.3 1473.1,393.6 1475.6,387.5 1469.2,376.3 1471.2,376.3 1476.6,370 1482.5,366.9 1484.5,371.2 1488.4,371.2 1486.9,381.4 1492.4,377.8 1498.8,376.8 1505.2,381.9 1505.7,387 1509.6,391.1 1509.1,397.1 1507.6,397.7 1496.8,398.2 1493.8,401.2 1496.3,411.1 1492.8,408.3 1486.9,406.3 1486.4,402.2 1484.5,401.7 1482,402.7 1481.8,409.3 1478.1,417.5 1478.5,423.1 1481.6,425.1 1482.4,428.2 1482.7,430.9 1483.5,433.6 1485.4,434.7 1488,435.5 1489.9,436.3 1492.1,438.6 1492,438.7 1488.7,440.6 1487.2,440.9 1486.5,438.6 1484.6,437.8ZM1573.2,422 1567.3,428.6 1566.8,427.6 1570.7,423.6 1574.7,419.2ZM1597.8,415.4 1596.4,424.1 1593.4,422.5 1592.4,419.5 1594.9,414.9ZM1577.1,414.4 1579.1,412.4 1577.1,416.5 1574.7,419.2ZM1593.4,417 1590.4,417 1589.9,410.4 1595.9,411.9ZM1588,406.3 1586,408.3 1584.5,405.8 1582.1,402.2 1586.5,402.2ZM1600.8,406.3 1596.8,404.3 1593.4,401.2 1589,399.4 1583.5,399.7 1583.5,396.6 1585.3,396.1 1581.1,395.1 1580.1,390 1579.6,387.5 1582.1,386 1582.6,381.4 1583.5,376.3 1589.9,377.3 1591.9,381.9 1591.4,387.5 1588.5,389.5 1588.5,397.7 1593.9,397.7 1599.8,400.2ZM1613.1,433.2 1611.1,438.3 1607.2,441.9 1606.2,438.8 1608.7,435.2 1607.2,436.8 1601.3,438.8 1600.3,433.7 1596.8,432.2 1590.4,435.2 1590.9,430.7 1597.3,426.1 1603.7,427.1 1607.7,424.1 1607.7,420.5 1611.6,425.6ZM1602.8,421 1599.3,420.5 1602.8,419ZM1597.3,418.5 1600.3,413.4 1600.3,417.5 1597.3,422ZM1604.2,419.5 1602.3,416.5 1602.3,412.4 1605.2,414.4 1606.2,418.5ZM1608.7,413.9 1605.2,413.9 1604.7,410.4 1601.8,406.8 1606.7,406.8ZM1598.3,406.3 1599.8,408.3 1600.3,409.8 1596.4,409.3Z"/><path fill="#ffffff" d="M925,353.5 925,361.9 914.2,361.9 917.1,359.6 920.6,352.4 925,348.4 930,340.8 930,351.2ZM941.8,335.2 946.4,333.1 946.4,338.2 934.9,338.2ZM565,386.8 566.7,386.5 566.5,387 564.7,387.4 563.6,387.2ZM562.3,366.6 563.1,365.8 562.9,367.4ZM629.1,356.6 630.7,356.8 630.4,357.3ZM624.9,356.3 625.1,358 624.4,358 624.2,356.5 623.9,355.3ZM620,353.6 619.2,352.4 620.8,353.5 621.5,354.6 620.9,354.7ZM616.1,351.7 614.8,350.5 616.3,351.2ZM616.1,345.5 617.7,346.6 618.4,348.3 617.7,348.3 616.9,346.9ZM614.2,344.5 613.6,344.7 612.8,342.8 611.9,341.5 613.5,342.5ZM609,337.1 607.8,335.1 604.6,335.1 602.6,335.8 600.5,335.3 602.6,334.8 604.6,334.3 608.3,334.3 609.9,336.8 609.3,339.4 608.6,339.1ZM671.7,414.3 673.8,413.9 674.3,414.7 672.2,414.9ZM691.1,412.6 690.9,413.5 689.9,413.2ZM652,407.7 653.3,408.3 653.1,408.7ZM649.3,407 650.2,407.4 649.9,407.7ZM684.7,383.9 684.2,383.2 685,383.4ZM680.5,382.7 680.1,382.9 679.3,381.9ZM667.8,378 667.6,378.7 666.5,378.3ZM669.1,377.3 670.6,377.1 670.4,377.6ZM686.5,389.6 687.3,389.9 687.1,390.9ZM687.8,401.9 688.4,402.1 688.1,402.9ZM687.3,406.5 688,406.7 687.6,407.5ZM677.4,381.4 678.4,381.4 678.1,382.1ZM1786.6,525.2 1784.1,522.6 1789.1,525.2ZM1781.7,519.6 1779.7,520.6 1775.8,519.1 1775.8,517.5ZM1783.7,519.1 1780.7,514.5 1780.7,512.5 1784.6,518.1ZM1767.9,513.5 1765.9,514.5 1764.4,510.9ZM1775.8,513.5 1770.3,510.4 1770.3,508.9 1776.8,513ZM1760.5,504.3 1765.4,507.4 1763.9,507.9 1760.5,505.4ZM1822.6,566.3 1823.1,565.3 1824.1,566.8ZM1818.2,559.7 1819.6,560.7 1818.2,560.7ZM1814.2,554.1 1813.7,551.6 1816.2,554.1ZM1813.2,546.5 1812.2,549.5 1810.3,548 1810.3,545ZM1797.5,572.4 1804.8,576.5 1812.2,583.6 1809.3,583.6 1801.4,578ZM144.3,540.9 142.3,541.7 140.8,540.4ZM140.3,538.9 139.8,540.4 137.9,540.4 137.4,538.9ZM125,577.5 126.5,577.5 126,578.2ZM1147,293.4 1147.7,292.7 1149.1,292.3 1150.9,292.6 1152.7,292.4 1154.6,293 1155.8,293.1 1156.4,293.3 1155.7,293.6 1154.6,293.6 1153.7,294.3 1152.2,294.8 1150.9,295.6 1149.7,294.9 1148.2,294.7 1147.3,294ZM873.5,394.1 872.3,394.4 872.3,392.6ZM876.5,389 876,388 877.2,388.5ZM870.3,386 869.8,386.5 868.8,386ZM865.4,384.4 864.4,383.4 865.9,383.4ZM1208.4,532.8 1207.5,532.8 1207.5,531.8ZM1203.5,530.8 1202.3,530.2 1202.5,528.2ZM1272,571.9 1274,572.9 1273,574.4 1271.5,573.4ZM1261.7,576.5 1264.1,577.5 1263.2,578.8 1261.4,578ZM1262.2,493.7 1262.9,494.2 1262.4,494.4ZM1021.1,468.3 1022.4,468.8 1021.6,470ZM1350.9,449 1351.9,449 1351.4,450.5ZM1225.6,317.8 1226.8,317.7 1227.4,318.5 1227,319.6 1226.1,319.8 1225.4,318.8ZM1059.6,287.3 1060.5,287.4 1061,288.1 1060.1,288ZM953.1,153.8 957.1,153.8 955.6,155.8 953.6,155.3Z"/><path fill="#a3e4d7" d="M1039.9,309.3 1039.9,313.3 1035.9,316.4 1033.7,307.2 1030.5,305.2 1026.6,301.1 1026.1,297.6 1029.5,292.5 1030,287.4 1031.5,282.6 1037.9,280.7 1043.8,281.8 1041.3,285.4 1041.3,288.4 1043.8,291.5 1042.3,294 1038.9,298.1 1042.8,299.6 1045.8,301.9 1045.8,305.7ZM1140.7,512 1137,504.7 1135,500.8 1134,492.9 1138.9,492.9 1141.2,487.1 1141.2,482 1139.4,475.6 1156.2,475.4 1174.9,486 1174.4,488.1 1182.3,494.1 1181.8,496.2 1180.3,501.3 1182.8,505.1 1183.5,508.4 1182.3,513.5 1183.8,515.8 1184.8,521.1 1187.2,522.6 1188.5,523.6 1178.9,528.2 1173.9,529.7 1165.6,528.2 1161.4,529.1 1159.6,529.2 1159.2,521.1 1156.7,518.6 1151.5,518.1 1146.8,516.3 1140.7,512ZM1174.9,486 1156.2,475.4 1156.7,469.3 1159.2,464.7 1161.6,461.7 1159.2,454.6 1156.7,449 1166.1,446.9 1166.5,447.7 1171,447.9 1176.9,452 1183.8,452.8 1190.2,449 1195.6,450.2 1191.2,455.8 1191.2,474.4 1194.1,478.7 1190.7,482 1186.8,484.5 1186.8,486.6 1184.5,490.9 1182.3,494.1 1174.4,488.1ZM1171.5,383.9 1171,388 1168.5,394.1 1168.5,397.1 1167,405.8 1162.1,410.4 1161.1,414.9 1158.2,416.5 1157.2,422 1156.2,422 1152.2,415.9 1152.7,408.3 1148.3,409.3 1148.8,410.9 1143.4,420.5 1137,418 1134.5,420.5 1131.5,422.5 1126.6,421.5 1120.2,422 1116.3,417.5 1111.3,420.5 1108.4,426.1 1104.9,425.1 1105.4,420 1102,414.9 1100,409.3 1097.5,405.8 1099.5,399.2 1102,390.5 1107.4,390.5 1107.4,371.2 1107.4,368.7 1112.3,368.7 1112.3,358.5 1171,358.5 1172.5,363.6 1172.5,370.7 1173.7,375.8 1179.4,378.9 1175.9,381.9ZM1175.9,394.6 1181.3,396.1 1186.3,396.6 1190.7,398.7 1194.6,401.7 1198.1,406.8 1194.9,411.4 1195.1,414.4 1200.6,414.7 1199.6,416.5 1201,419.5 1206,424.6 1220.8,429.7 1225.7,429.7 1210.9,444.9 1203.5,445.9 1196.1,449 1195.6,450.2 1190.2,449 1183.8,452.8 1176.9,452 1171,447.9 1166.5,447.7 1166.1,446.9 1163.1,442.4 1160.1,436.8 1156.7,433.7 1151.8,430.2 1157.2,426.6 1157.2,422 1158.2,416.5 1161.1,414.9 1162.1,410.4 1167,405.8 1168.5,397.1 1174.4,398.2ZM543.5,389 544,387 540.6,382.9 540.6,380.1 550.4,380.1 550.4,389.5 551.2,389.6 552.4,389.8 553.7,390.3 552.2,392.2 550.6,396.2 548.5,397.8 546.5,400.9 541.3,399.3 537.1,397.8 534.6,396.4 534.6,393.6 536.9,389ZM573.5,415.2 577.6,416.2 580.7,420.3 582.3,422.3 581.3,423.9 581.8,426.5 582.9,428 580.7,426.5 578.7,424.4 577.6,421.3 574.5,419.8 572.9,420.3 570.9,418.3 572.5,420.8 570.4,420.8 567.8,418.3 567.2,414.2 567.8,414.7ZM1071.2,228.4 1073,227 1074.3,226.5 1077.3,227.5 1080.3,227.7 1081.9,226.8 1085.2,225.6 1090.1,224.2 1095,223.7 1098.7,224.7 1101.4,226.5 1099.3,228.4 1096.8,230.7 1094.4,234 1092.6,235.4 1090.1,236.3 1087.7,236.8 1085.2,236.3 1082.5,237.2 1079.2,237.7 1075.5,237.2 1071.8,235.4 1069.7,234 1068.8,232.6ZM1116.4,290.8 1118.8,291.2 1118.2,292.2 1115.1,291.9 1111.5,291.7 1107.8,291.5 1105.4,291 1105.1,290.1 1106.6,289.4 1109.6,289.9 1113.3,290.1ZM1103,285.9 1102.5,286.7 1102,285.6ZM1112.8,283.9 1112.3,284.4 1111.8,283.6ZM1109.1,283.6 1110.1,283.9 1109.4,284.1ZM1110.7,278.6 1110.8,278.2 1112.1,278.9 1111.8,279.2ZM1092.1,278.3 1091.8,278.9 1091.1,278.7 1091,278ZM1091.3,275.6 1091.3,276.8 1090.4,276.7 1090.1,275.4ZM1101.1,265.6 1102.3,268 1103.6,269.8 1102.9,271 1101.7,271.7 1103.6,272.6 1103.6,272.7 1103.8,272.2 1105.7,273.3 1107.5,275 1109.6,276.6 1109,277.1 1107.5,276 1107.8,276.3 1109,277.8 1108.7,278.3 1107.2,277.3 1106,276.3 1103.8,276 1102.9,276.6 1103.8,278.2 1104.4,280.1 1102.3,280.6 1101.7,282.4 1102.6,284.7 1101.1,284.3 1099.9,283.3 1099,285.2 1097.4,282.8 1096.8,284.3 1095.6,281.5 1094.4,279.1 1094.1,277.3 1095.6,275.9 1097.4,275.4 1100.5,275.8 1101.7,275.5 1096.8,274.9 1094.4,275.2 1092.9,274 1091.3,272.2 1090.7,270.3 1089.5,268.7 1088.6,268.4 1089.5,267 1091.3,265.2 1092.3,263.3 1093.2,262.6 1096.2,261.9 1099.3,261.5 1101.7,260 1103.6,260.3 1106.6,259.8 1109.6,259.4 1112.1,260 1115.1,260.3 1117.5,259.1 1118.8,258.9 1119.4,260 1118.2,262.8 1115.7,262.4 1112.7,261.9 1110.3,262.4 1109,263.3 1107.2,264 1106,263.8 1107.5,265.6 1106.3,266.6 1105.4,265.2 1104.7,266.8 1103.8,265.6 1103.2,264.9 1102.3,264 1100.8,264.5ZM1106.9,271.2 1107.9,271.4 1107.1,271.7ZM1086.7,268.2 1087.7,269.6 1087,269.9 1086.2,268.9 1085.9,268ZM1111,263.2 1111,263.8 1110.1,264 1110,263.3ZM1122.6,289.9 1122.8,288.4 1123.4,288.7 1123.2,290.1ZM1126.4,285.2 1127.7,285 1128,286.1 1126.7,287.2 1126,286.6ZM1114.3,285.6 1114.1,285.1 1114.8,285.4ZM1123.9,283.4 1122.7,283.9 1121.7,283.1ZM1115.4,281.6 1115.3,282.3 1114.5,282.2 1114.5,281.5ZM1114.1,279.8 1113.3,280.1 1113.3,279.3ZM1119.7,278.7 1121.2,278.6 1121.1,279.1 1119.9,279.2ZM1117.9,276.3 1117,276.1 1116.7,274.5 1117.5,274.7ZM1118.8,272.4 1117,272.2 1116.4,271.2 1117.9,270.8 1119.4,271.5ZM1112.7,266.8 1114.2,266.6 1114.2,267.5 1113,267.6ZM1036.4,228.7 1036.4,231 1040.6,232.3 1038.9,235.1 1034.9,234.6 1033.5,237.4 1031,235.1 1028,236.9 1023.6,237.1 1022.6,234.6 1018.7,235.9 1019.2,235.1 1023.6,229.5 1026.6,228.5 1031.5,228ZM1043.8,192.4 1043.3,191.7 1047.8,191.4 1047.3,192.9ZM1063,190.9 1061.6,189.9 1063.5,190.1ZM1047.3,185.8 1051.2,185.6 1051.2,187.9 1049.2,190.9 1044.3,189.9 1043.8,187.3ZM1036.4,189.9 1035.7,191.7 1031.7,191.4 1029,188.1 1029.3,182.8 1031.5,180.2 1041.3,176.9 1039.9,182.8 1042.8,183.8 1039.4,186.8 1037.9,188.4 1042.3,188.4 1041.8,190.6 1037.9,190.4 1037.5,188.8ZM1070.6,229.4 1068.8,232.6 1066.3,233.1 1066.1,233.1 1062.6,233.7 1059.3,234.4 1056.6,234.1 1050.2,233.1 1049.2,231.3 1044.3,231.8 1040.6,232.3 1036.4,231 1036.4,228.7 1039.4,230 1042.8,229 1049.2,228.2 1053.2,229 1052.2,225.7 1055.1,224.4 1057.1,222.7 1061.6,223.4 1063,221.4 1068.5,222.7 1072.6,223.4 1072.9,224.3 1072.7,224.4 1073,227 1071.2,228.4 1070.6,229.4ZM1116.3,119.8 1112.3,121.8 1102.5,121.3 1095.6,118.3 1090.4,119.5 1087.7,122.8 1078.3,122.3 1074.4,124.4 1069.9,127.4 1065.5,133.5 1060.6,134.5 1060.6,138.6 1056.6,142.1 1058.6,142.6 1057.6,145.2 1048.2,148.7 1049.2,150.3 1048.7,156.9 1052.7,158.4 1049.2,160.4 1050.7,164.5 1047.3,167 1043.8,170.1 1041.8,166 1037.4,170.6 1028.5,175.2 1021.6,175.2 1016.7,171.1 1013.7,163.5 1013.7,155.8 1021.1,151.3 1031,148.2 1040.4,148 1038.4,143.7 1045.8,140.1 1050.7,135 1060.1,128.4 1065.5,123.8 1074.9,122.6 1070.4,121.3 1082.3,116.5 1092.6,114.7 1105.9,111.1 1116.3,108.9 1125.6,109.6 1132,110.6 1142.4,113.2 1137,116 1141.4,115.7 1137,117.2 1131.5,119.5 1132,119.3 1127.1,114.2 1117.3,116.2ZM1104.9,73 1107.4,77.1 1092.6,75.1 1095.1,73ZM1095.1,72.5 1080.3,76.6 1070.4,81.2 1058.1,76.6 1043.3,71.5 1043.3,65.9 1058.1,64.9 1072.9,64.4 1082.8,69ZM1112.3,66.9 1087.7,66.4 1077.8,62.9 1085.2,61.4 1102.5,61.4 1122.2,63.9ZM1089.2,163.7 1088.7,165 1085.7,164.5ZM1112.3,121.8 1116.3,119.8 1117.3,116.2 1127.1,114.2 1132,119.3 1131.5,119.5 1129.6,123.8 1137,126.4 1132,130.4 1137.5,136.5 1135.5,141.1 1139.4,144.2 1137,146.4 1144.9,150.8 1132,159.4 1126.1,162.7 1112.3,164.5 1102,166.3 1094.6,162.5 1094.6,157.4 1094.1,152.3 1099,148.7 1109.9,142.1 1114.3,139.6 1108.4,136 1107.4,133.5 1105.9,129.9 1104.9,125.4 1090.4,119.5 1095.6,118.3 1102.5,121.3ZM1157.8,311.4 1158.2,311.8 1159.4,310.3 1159.2,309.8 1158.8,310.1 1158.7,310.2 1159.2,309.7 1160,307.6 1160.7,305.5 1161.3,303.6 1162.7,302.3 1163.5,302.4 1164.9,301.8 1165.9,302 1166.4,303.3 1166.1,304.4 1164.6,305.5 1164.3,307 1163.8,305.6 1162.8,305.3 1161.9,305.7 1161.4,306.5 1161.6,308.1 1162.5,308.9 1161.9,309.7 1161,310.3 1161.3,311 1162.5,310.7 1163.5,310.2 1163.1,312.9 1162.5,315.5 1161.6,318.2 1161.1,320 1161,319.9 1160,317.4 1158.9,314.2 1157.8,311.4ZM1162.5,315.5 1163.1,312.9 1163.5,310.2 1164,308.9 1164.3,307 1164.6,305.5 1166.1,304.4 1167.7,305.5 1171,306.1 1180.3,300.6 1182.3,307 1179.9,308.9 1171.9,310.3 1176.8,315 1174.3,317.5 1170.4,319 1167,321.1 1161.9,320.5 1160.9,321.5 1161.1,320 1161.6,318.2ZM1170,286.1 1169.5,283.4 1176.4,283.1 1186.3,283.4 1197.8,281.8 1193.2,284.9 1192.2,289.5 1191.2,295.5 1180.3,300.6 1171,306.1 1167.7,305.5 1166.1,304.4 1166.4,303.3 1165.9,302 1166.7,300.9 1167.3,299.6 1168.9,298.8 1169.8,297 1169.2,295.6 1168.3,294.9 1166.1,295.1 1166.6,293 1166.3,291.1 1165.9,289.1 1166.1,287.7 1167.5,287.4ZM1264.1,343.8 1264,348 1263,348.2 1262.5,348.7 1261.3,352.5 1260.7,355.2 1247.8,353.6 1243.7,348 1244.7,348.2 1246.4,348.3 1248.2,347.6 1250.6,347.3 1253.7,347.6 1255.8,347.3 1257.5,346.1 1259.2,344.5 1260.9,342.9 1262.7,341.1 1264,339.9 1265.6,338 1265.9,340 1266.8,340.3 1266.8,343.3 1266.8,343.6ZM1246.4,391.1 1238,394.1 1230.6,397.1 1223.2,401.7 1210.9,405.3 1203.5,406 1202,402.7 1200.6,394.6 1200.1,387 1202,385.5 1205,381.9 1212.9,382.4 1220.8,383.9 1230.6,375.8 1245.4,373.8 1250.8,385.7ZM1321.3,269.6 1326.2,269.6 1329.2,266.6 1327.2,266.1 1330.7,263 1336.1,262 1337.1,266.1 1331.7,267.1 1332.2,269.1 1339.1,270.1 1352.4,269.6 1353.4,274.7 1358.3,275.2 1358.3,281.1 1350.4,280.1 1343,283.9 1341.5,277.8 1335.1,277.8 1331.7,279.3 1323.3,281.3 1326.2,276.2ZM1222.2,227.5 1226.7,228 1218.3,224.4 1220.8,220.4 1219.8,219.9 1223.2,214 1229.1,216.8 1229.1,213.3 1239.5,207.7 1252.3,208.7 1257.7,211.2 1267.6,211.2 1277.4,210.7 1282.9,213.5 1291.7,212.2 1292.7,209.7 1284.8,206.1 1289.8,204.6 1288.8,201.6 1293.2,201.1 1289.8,196.5 1309.5,194.2 1325.3,190.9 1338.1,189.4 1340,195.5 1351.4,196 1350.9,198.5 1368.1,193.7 1366.2,195 1372.6,199.5 1383.4,212 1400.2,211.2 1409.5,218.3 1416.9,217.3 1419.6,220.9 1412,224.4 1411.5,229.5 1398.2,230.5 1395.7,239.2 1383.4,242.2 1387.4,250.8 1384.4,255.9 1379,252.9 1363.7,252.4 1358.8,252.4 1351.9,251.4 1351.4,254.4 1338.6,255.7 1329.2,260 1324.3,263.5 1317.9,261.3 1314.4,256.9 1314.9,251.9 1309,248.3 1294.7,249.3 1289.8,244.7 1277.4,238.7 1265.1,241.7 1265.1,260.5 1262.7,260.5 1258.7,256.7 1255.5,257.2 1254.3,256.4 1250.1,258.2 1249.8,258.2 1249.2,258 1247.9,254.4 1241.5,250.8 1237,245.3 1240.5,244.2 1242,240.7 1251.3,240.2 1250.3,233.6 1241.5,232 1231.2,234.5 1228.2,233.6ZM1620,256.9 1628.4,254.9 1632.8,254.9 1633.7,255.1 1633.3,255.4 1628.9,259.5 1628.4,263 1620,267.6 1617.5,270.7 1621.7,274.2 1613.6,278.3 1607.2,278.8 1603.7,276.8 1606.2,272.2 1606.7,269.6 1602,267.1 1614.6,258ZM953.6,189.2 953.1,190.6 951.9,190.9 948.9,193.7 950.2,195 953.1,195.2 956.1,195 958.3,195.5 959,195.7 959.5,195.7 962,194.5 959,196 958.5,199.5 959.5,201.3 957.6,205.1 951.6,205.6 948.2,207.2 942.3,208.9 938.3,207.2 937.8,205.4 941.8,203.1 940.3,203.1 943.3,200.6 944.7,200 939.3,198.5 939.8,195 946.7,194.5 945.7,192.7 947.7,190.9 948.2,190.1 952.6,189.1ZM1818.2,708.6 1817.2,710.1 1814.7,710.1 1814.7,708ZM1845.3,685.7 1840.8,690.8 1842.3,692.8 1833.4,695.3 1830.5,703.5 1825.6,706.5 1818.7,707 1809.8,704.5 1809.8,702.5 1816.2,695.9 1821.6,693.3 1829.5,688.7 1833.4,684.7 1837.4,678.1 1840.3,676 1846.3,678.1 1848.2,682.1ZM1851.7,657.2 1854.6,656.2 1856.1,660.8 1862.5,663.3 1868.9,661.8 1866.5,668.4 1861.5,669.9 1861.5,673.5 1856.6,680.1 1853.2,681.6 1850.2,680.1 1852.2,675 1849.7,672.5 1845.8,669.9 1849.7,667.9 1850.2,662.8 1848.2,656.7 1843.8,651.1 1841.8,648.1 1840.3,645.1 1846.3,649.1 1849.2,654.2ZM1382.7,420.8 1384.4,420.5 1387.9,425.1 1389.8,427.1 1392.5,432.7 1391.8,437.3 1388.8,439.1 1386.4,440.2 1383.7,439.3 1382.7,435.2 1382.4,429.7 1382.9,425.1Z"/><path fill="#d1ece8" d="M1112.3,322 1112.3,368.7 1107.4,368.7 1107.4,371.2 1063,353.5 1059.1,355.5 1048.2,350.9 1046.3,347.9 1038.4,345.8 1035.4,337.7 1038.1,335.7 1037.4,328.1 1037.9,323 1035.9,316.4 1039.9,313.3 1039.9,309.3 1045.8,305.7 1045.8,301.9 1054.2,303.2 1064,305.7 1070.9,311.8 1077.8,313.8 1083.2,316.4 1087.9,313.3 1087.9,307.2 1095.1,303.2 1100.5,303.7 1107.4,307.7 1113.1,309.8 1110.8,317.9ZM948.4,433.5 948.8,431.2 949.2,429.7 949.6,427.9 950.6,427.4 951.4,427.1 950.3,425.6 950.7,423.8 949.9,422.2 949.8,421.3 950.3,418.5 950.3,418.4 950.6,418.3 952.1,417.4 952.7,417.7 958.5,415.9 962,417.5 966.4,421 974.3,420 975.3,419.5 975.8,422 976.8,428.6 973.3,435.8 973.8,444.4 969.4,443.6 964.5,444.4 959.5,445.2 952.1,448.2 951.6,441.3 947.7,437.8 947.6,436 947.7,434.9ZM976.8,428.6 975.8,422 975.3,419.5 975.2,419.5 974.8,417.5 975.3,414.4 988.4,413.9 989.1,416.5 991.1,419.5 991.1,425.6 992.1,428.6 991.6,435.8 995,439.3 994,440.8 989.1,441.9 988.1,442.1 984.2,443.9 978.7,446.2 973.8,444.4 973.3,435.8ZM1034.4,437.8 1038.9,435.2 1043.3,437.3 1047.3,434.7 1049.2,427.6 1052.2,425.6 1057.1,414.4 1061.1,411.9 1059.1,406.8 1058.6,403.8 1062.5,405.3 1063,408.8 1063,414.9 1065.5,419.5 1058.1,420 1057.9,421.5 1064,429.7 1065.5,432.2 1061.6,436.3 1060.6,440.3 1061.1,444.9 1063,449.5 1067.5,455.1 1068.9,459.1 1068.5,461.7 1060.6,459.1 1054.2,459.1 1045,458.6 1037.4,458.6 1037.9,455.3 1036.4,452 1036.9,449.7 1033.5,450 1031,447.2 1031.5,445.9ZM1047.9,495.5 1048.2,495.7 1048.3,495.7 1053.7,493.7 1050.7,499.8 1049.4,499.5 1049.2,498.8 1047.9,495.5ZM1070.9,500.3 1072.9,507.4 1082.8,510.4 1084.7,505.9 1090.1,505.9 1096.6,507.4 1097.5,513.5 1096.6,518.6 1099,527.2 1107.4,525.7 1107.4,536.3 1097.5,536.3 1097.5,552.6 1104.4,559.7 1094.6,561.5 1079.8,558.7 1059.1,558.7 1055.6,556.7 1047,557.9 1047.3,554.1 1049,547.5 1050.7,538.9 1055.1,534.3 1056.9,527.7 1056.6,524.7 1054.2,515 1053.2,512 1052.2,505.9 1049.7,501.3 1053.2,500.3ZM1161.6,461.7 1159.2,464.7 1156.7,469.3 1156.2,475.4 1139.4,475.6 1135,477.4 1135,472.8 1136.7,467.3 1139.4,464.2 1143.4,459.4 1140.9,458.1 1141.2,452.5 1142.9,451 1146.8,452 1151.8,450.7 1156.7,449 1159.2,454.6ZM1232.1,531.3 1235.1,537.9 1237.8,548.5 1234.1,549.5 1234.6,555.6 1232.6,561.7 1229.6,571.9 1225.2,584.6 1221.3,596.8 1211.9,600.1 1206,597.3 1202.5,583.6 1203.5,578.5 1207.9,571.9 1206,560.7 1208.4,552.6 1217.3,550.6 1222.2,546 1225.2,541.4 1225.7,538.4 1229.6,537.4ZM702.2,635.4 703.2,630.3 705.2,623.7 713.1,627.3 715,627 720,630.3 726.9,636.4 725.9,641.8 718.3,647.8 712.1,647.6 704.2,645.3 701.2,643 701.2,642.5ZM551.2,398.8 554.3,399.8 556.8,400.9 557.4,403.4 552.7,403.4 548.5,401.9 546.5,400.9 548.5,397.8ZM554.3,399.8 551.2,398.8 548.5,397.8 550.6,396.2 552.2,392.2 553.7,390.3 557.9,389.6 563.1,390.1 567.2,389.3 571.4,389.3 575.6,391.1 578.7,393.7 579.9,395.7 576.6,394.7 573.5,396.2 570.4,396.2 567.8,399.3 564.1,401.4 562.1,404.4 560,404.4 558.7,404.4 557.4,403.4 556.8,400.9ZM581.3,423.9 582.3,422.3 583.9,422.9 586,425.4 590.1,424.9 594.3,422.9 598.4,421.8 602.6,422.3 606.2,424.4 608.1,427.1 608.6,429.9 607.1,432.5 605.4,433.5 604.6,431.6 606.2,429 603.6,426.5 599.5,425.4 596.4,427 594.3,429 595.3,432.6 592.2,433.6 590.1,431.1 587,430 584.4,428.5 582.9,428 581.8,426.5ZM574,358.3 575.6,356.3 578.7,354.3 582.9,353.1 586,352.7 590.1,353.8 594.3,355.3 598.4,356.3 601,357.3 604.6,359.4 608.8,361.4 611.9,363.5 616.1,365 620.3,366.6 623.9,367.8 622.3,368.8 618.1,369.4 613,369.8 607.8,369.8 607,369.1 609.3,367.1 607.8,365.8 604.6,365.5 603.1,361.9 599.5,360.9 595.3,360.4 590.1,358.8 588.6,357.1 586,356.8 583.9,356.3 580.7,355.8 577.6,356.8 575,358.5 572.5,360 571.9,359.4ZM581.8,359.4 583,360.2 582.6,361.6 580.7,361.6 580.2,360.4ZM658,377.3 660.8,376.5 665.5,376.8 665.5,378.9 661.8,379.4 658.2,379.1ZM1092.6,240.5 1094.4,242.4 1096.8,243.3 1099.9,244.2 1100.5,246.5 1099.6,247.9 1101.1,249.8 1102,251.2 1100.5,253.1 1099.6,254.9 1100.5,255.9 1096.8,255.4 1093.8,255.6 1095.3,254.9 1095.9,253.5 1094.1,252.1 1091.9,250.7 1090.7,251 1089.2,252.6 1087.7,251.5 1085.2,250 1082.8,249.3 1085.2,249.1 1084.6,247.9 1085.2,246.1 1083.7,244.2 1082.8,242.4 1084.6,240.9 1083.4,239.6 1082.5,237.2 1085.2,236.3 1087.7,236.8 1090.1,236.3 1090.1,237.7ZM1097.4,220.5 1098.1,220.6 1100.3,220.9 1099.1,223 1098.7,224.7 1095,223.7 1090.1,224.2 1085.2,225.6 1081.9,226.8 1080.3,227.7 1077.3,227.5 1074.3,226.5 1073,227 1072.7,224.4 1072.9,224.3 1072.6,223.4 1073.9,222.1 1078.3,220.9 1082,218.8 1086.3,220.2 1086.4,220.3 1086.5,220.3 1087.3,220.3 1092.1,219.8 1092.4,219.9 1093.8,219.6ZM1121.8,257 1121.8,257.1 1120,257.7 1118.8,258.9 1117.6,259.1 1117.5,259.1 1115.1,260.3 1112.1,260 1109.6,259.4 1106.6,259.8 1103.6,260.3 1102,260 1102,257.7 1100.5,255.9 1099.6,254.9 1100.5,253.1 1102,251.2 1101.1,249.8 1099.6,247.9 1100.5,246.5 1102.3,247.5 1105.4,247.7 1109.6,247.9 1115.1,248.4 1118.8,247 1121.8,246.3 1126.7,247 1129.8,247.9 1129.2,249.8 1126.7,251.2 1126.1,254 1124.9,255.4 1125.8,256.8 1121.8,257ZM1069.7,234 1071.8,235.4 1075.5,237.2 1079.2,237.7 1082.5,237.2 1083.4,239.6 1084.6,240.9 1082.8,242.4 1081,241.4 1077.3,240.9 1073,240.7 1070,240.5 1067.5,240.9 1066.9,242.4 1068.2,244.7 1070.6,247 1073,249.1 1076.1,251.2 1079.2,253.3 1080.3,254 1080.2,254.4 1080.3,254.4 1077.9,254 1074.3,252.6 1070.6,250.7 1067.5,248.9 1065.1,247 1062.6,244.7 1060.8,242.4 1058.7,240.7 1057.8,242.4 1056.2,239.1 1057.2,238.7 1060.2,239.1 1062.6,238.7 1065.1,238.2 1066.3,236.3 1068.2,235.1ZM1103.5,204.6 1106.9,202.6 1104.9,196.2 1109.4,196.5 1115.3,195 1116.3,191.4 1120.2,190.4 1120.2,187.3 1125.1,186.8 1128.1,185.1 1134,186.1 1141.4,187.9 1140.9,191.9 1145.8,196 1150.3,198.8 1143.9,200 1145.8,205.6 1139.9,209.7 1133.5,209.2 1123.2,208.2 1113.8,206.6 1105.4,208.7 1105.4,205.6ZM1169.2,295.6 1169.8,297 1168.9,298.8 1167.3,299.6 1166.7,300.9 1165.9,302 1164.9,301.8 1163.5,302.4 1162.7,302.3 1163.7,300.1 1164.6,298 1165.5,296.2 1166.1,295.1 1168.3,294.9ZM1158.2,311.8 1157.8,311.4 1158.8,310.1 1159.2,309.8 1159.4,310.3ZM1163.8,305.6 1164.3,307 1164,308.9 1163.5,310.2 1162.5,310.7 1161.3,311 1161,310.3 1161.9,309.7 1162.5,308.9 1161.6,308.1 1161.4,306.5 1161.9,305.7 1162.8,305.3ZM1222,317.5 1223.4,317.3 1225.1,317.7 1225.6,318.2 1226.3,319.8 1224.3,320.7 1224.8,321 1226.5,320.1 1227.4,322.3 1227.9,325.2 1224.1,325.2 1222.7,322.8 1218.7,322.3 1221,318.2ZM1212.9,272.2 1210.7,270.1 1209.9,268.6 1213.4,269.6 1216.3,272.9ZM1228.6,257.7 1231.6,260.5 1233.6,264.1 1237.5,265.6 1233.1,266.1 1231.6,270.7 1230.1,275.2 1228.6,275.2 1225.7,273.2 1227.2,270.1 1225.7,268.6 1220.8,271.2 1218.3,272.7 1218.3,269.6 1215.8,267.1 1213.9,263 1210.9,260.5 1218.8,261 1218.1,257.4 1222.2,260.5 1225.2,261ZM1289.3,310.3 1287.3,299.1 1287.8,296.1 1290.8,289.5 1297.7,291.2 1300.6,288.2 1307,285.9 1308.5,281.8 1312.4,280.8 1316.9,280.6 1323.3,281.3 1331.7,279.3 1335.1,277.8 1341.5,277.8 1343,283.9 1350.4,280.1 1358.3,281.1 1353.8,283.1 1346.9,283.4 1340,287.2 1342,291.5 1339.6,295.8 1333.6,297.6 1335.6,300.6 1330.7,302.7 1330.7,308.2 1324.3,309.8 1316.4,313.3 1315.9,318.7 1305,320.9 1297.2,320.9 1289,318.7 1293.7,312.8ZM1751.1,499.8 1751.6,497.7 1757.5,504.3 1754.1,503.3ZM1731.9,501.8 1723.5,501.8 1720.1,499.3 1720.1,498.2 1728.5,495.7 1735.8,491.6 1739.8,492.1 1738.3,497.2ZM1732.4,483.5 1740.8,488.6 1743.2,493.7 1741.8,492.7 1733.4,485ZM1715.1,481.5 1711.7,481.5 1711.7,480.5 1715.6,480.5ZM1237.8,336.9 1238.5,336.8 1238.6,338.2 1238.4,339 1237.9,338.2ZM1691.5,486.6 1696.9,488.3 1701.3,489.6 1707.7,496.7 1713.7,500.8 1717.6,502.3 1713.7,504.3 1719.6,511.4 1725,516 1731.9,522.6 1727.5,523.1 1714.6,518.6 1708.7,511.4 1703.3,509.4 1695.9,512.5 1693.9,516.5 1684.1,516.5 1684.1,483.5Z"/><path fill="#008080" d="M1112.3,322 1110.8,317.9 1113.1,309.8 1123.2,310.8 1132,313.6 1136.5,311.8 1137.7,310.3 1140.9,309.8 1143.9,310.2 1145.2,310.3 1146.7,311.7 1148.5,312.2 1151.2,312 1153.7,312 1155.8,311.6 1157.8,311.4 1158.9,314.2 1160,317.4 1161,319.9 1160.5,320.5 1159.7,322.9 1159,325.2 1157.9,329.4 1154.7,328.1 1152.4,325.2 1152.2,324.8 1150.9,322.9 1149.7,320.8 1148.9,318.6 1148.4,317.9 1147.7,318.3 1147.9,319.5 1148.8,321.6 1150,323.7 1150.9,325.2 1153.2,328.6 1154.7,329.1 1155.9,332.1 1158.7,338.2 1164.1,348.4 1164.1,348.9 1171,358.5 1112.3,358.5ZM1077.8,617.1 1082.8,617.1 1087.7,614.6 1087.7,596.3 1091.1,606.7 1096.1,606.7 1102.5,598.8 1110.8,601.4 1115.3,600.3 1116.8,595.8 1121.4,593.5 1122.7,590.2 1128.6,585.1 1134,583.1 1143.4,584.1 1146.3,593.7 1146.8,601.9 1146.8,602.4 1143.9,600.9 1141.9,601.9 1140.9,606.4 1141.7,608.5 1143.4,609 1147.3,606.7 1151.3,606.7 1149.8,610 1149.3,614.6 1147.3,616.6 1142.1,621.9 1138,628.3 1126.6,637.9 1119.2,641.5 1115.8,643 1110.8,644 1102.5,643.3 1097.5,643.5 1092.1,645.1 1087.7,647.2 1083.7,645.6 1082,644.8 1080.1,644.8 1079.8,642.5 1077.3,636.4 1079.1,632.9 1075.9,626.3 1073.4,622.2 1070.2,615.6 1074.9,616.1ZM1132.5,622.4 1134.3,619.7 1130.6,615.6 1125.6,617.1 1122.2,620.7 1124.2,624.2 1127.6,626 1128.6,624.2ZM728.4,459.1 720,458.6 722.9,452 721,444.9 722.9,440.8 727.9,442.6 731.3,445.4 734.3,448.5 734.5,449.5 730.3,456.1ZM599.2,495.7 601.2,493.7 602.7,487.6 605.6,485.5 611,483.5 616.5,477.9 617.9,470.8 622.4,472.8 628.3,479.4 629.8,482.5 643.8,484 640.6,489.6 644.3,491.6 639.1,492.7 629.8,496.2 628.3,501.3 624.4,507.9 629.3,516 632.7,518.6 633.2,521.1 641.1,518.6 641.1,526.2 646,525.9 650.5,533.8 649,539.4 649.5,542.4 647,545.5 648,548 646,549.5 649,552.6 646,558.2 646.5,559.2 642.3,563.5 637.2,558.7 630.8,554.6 622.9,550.6 618.4,548 613,540.9 608.8,531.5 606.1,526.2 601.7,516.5 597.2,509.4 594.8,504.3 589.4,500.8 588.4,494.2 593.3,487.6 592.6,490.6ZM644.1,750.7 639.1,749.2 634.2,746.7 639.6,744.6 642.6,742.1 643.6,739 647.5,737.5 651,737.8 651,749.2ZM625.8,682.6 624.8,673.5 627.8,668.4 626.3,659.3 628.8,656.7 631.3,650.6 636.2,637.9 636.7,624.2 637.7,617.6 639.6,608 641.6,599.3 642.1,590.2 643.6,579 643.3,572.9 642.3,563.5 646.5,559.2 649,566.3 651.5,568.9 651.5,573.9 652.9,579.5 654.4,583.1 657.9,586.1 658.9,587.1 657.4,592.2 652,594.8 651.5,603.9 652.4,607 648,612 644.6,618.6 644.1,624.7 641.6,629.8 643.6,638.4 645.1,644 642.1,649.1 642.1,653.7 638.6,656.2 638.2,667.4 635.7,671.5 634.7,677.6 635.4,684.2 633.7,688.7 636.7,693.8 635.7,698.4 637.7,702.5 634.7,708.6 632.2,712.6 631.3,718.7 627.3,720.7 628.3,726.3 632.7,727.9 632.7,731.4 634.7,734.5 644.1,734.5 652,736.5 646.5,737 639.6,738.5 639.6,740.3 637.7,744.1 631.7,742.1 626.8,738.5 620.9,735.5 619.4,726.8 617.5,716.7 616.5,707.5 621.9,701.4 626.3,693.8 629.8,686.2 626.8,683.6 627.3,690.8 622.4,689.8 623.4,682.6 626.3,683.1ZM652.7,740 656.4,744.6 668.2,747.9 661.3,750 651,749.2 651,737.8ZM672.2,586.1 674.1,582.1 680.3,583.3 688.4,591.2 693.4,592.2 699.3,596.3 705.2,600.3 700.3,609 710.6,610 714.6,609.5 719,605.4 720,600.3 724.7,603.4 723.9,608.2 718,611.5 713.1,615.1 705.2,623.7 703.2,630.3 702.2,635.4 701.2,642.5 701.2,643 701.2,646.1 707.2,649.6 706.7,654.2 709.6,655.2 705.7,663.3 699.3,666.4 688.4,668.4 683,667.9 682,676.5 674.6,679.3 668.7,677.6 668.2,681.1 674.6,684.2 672.2,688.2 668.7,690.3 667.2,696.9 660.3,699.9 656.4,704 655.9,706.5 661.3,709.1 664.8,713.1 655.9,720.7 649.5,725.8 648.5,732.4 652,736.5 644.1,734.5 634.7,734.5 632.7,731.4 632.7,727.9 628.3,726.3 627.3,720.7 631.3,718.7 632.2,712.6 634.7,708.6 637.7,702.5 635.7,698.4 636.7,693.8 633.7,688.7 635.4,684.2 634.7,677.6 635.7,671.5 638.2,667.4 638.6,656.2 642.1,653.7 642.1,649.1 645.1,644 643.6,638.4 641.6,629.8 644.1,624.7 644.6,618.6 648,612 652.4,607 651.5,603.9 652,594.8 657.4,592.2 658.9,587.1 657.9,586.1 662.3,581 667.7,582.6ZM787,582.1 782.1,586.9 781.2,586.9 776.2,586.9 769.3,588.7 765.3,591.2 760.9,592.2 753,597.3 750,601.9 749.6,610.5 748.6,615.6 742.6,621.7 736.7,628.3 732.3,633.9 725.9,641.8 726.9,636.4 720,630.3 715,627 713.1,627.3 705.2,623.7 713.1,615.1 718,611.5 723.9,608.2 724.7,603.4 720,600.3 721.5,592.5 716,592.2 715,585.6 713.1,583.6 703.7,582.6 702.2,572.7 702.5,570.9 704.2,566.8 705.7,562.8 701.7,558.2 701.2,553.1 692.4,553.1 690.9,539.9 684.5,538.9 678.6,534.3 671.7,533.3 667.2,528.7 666.7,519.6 660.8,520.6 652.4,526.2 646,525.9 641.1,526.2 641.1,518.6 633.2,521.1 632.7,518.6 629.3,516 624.4,507.9 628.3,501.3 629.8,496.2 639.1,492.7 644.3,491.6 647,475.9 643.8,471.3 643.8,467.5 647,467.3 648,465.2 644.8,464.7 645.1,461.7 653.9,461.7 658.4,461.7 659.3,464.2 662.3,466.5 666.3,466.2 673.6,460.6 676.6,459.1 672.7,457.6 670.7,449.5 673.6,449.5 679.6,450 686.5,447.4 689.9,443.9 693.4,444.9 694.3,447.9 695.8,450.5 693.9,458.6 695.3,461.2 700.8,463.7 706.7,460.4 710.6,460.6 713.6,460.1 720,458.6 728.4,459.1 730.3,456.1 734.5,449.5 737.2,450.5 739.2,459.6 743.1,461.7 742.6,465.7 740.7,469.8 749.6,471.3 750.5,477.4 753.5,473.3 759.9,475.4 765.8,477.9 769.3,480.5 770.7,483 775.2,482.5 783.1,485 791.9,484.8 799.3,489.1 805.7,495.2 815.1,496.7 815.6,499.8 817.6,506.4 817.1,511.2 813.1,519.1 807.2,524.7 806.5,526.2 799.3,536.3 796.9,540.4 796.9,550.6 795.9,560.2 793.4,566.3 790.5,573.4 790.4,573.5 790.4,573.6 787,580ZM550.4,380.1 540.6,380.1 540.6,382.7 540.6,382.9 544,387 543.5,389 536.9,389 536.5,389.7 534.6,393.6 534.6,396.4 530.7,392.6 525.8,389 519.9,388.3 513.5,390.8 511,389.5 503.6,387.5 496.7,384.7 491.3,382.4 485.4,379.1 481.4,377.8 475,373.3 471.6,371.7 468.1,366.7 469.1,364.6 470.1,361.1 468.6,357 464.7,352.4 456.8,343.3 449.9,339.7 447.9,333.1 442,328.6 436.1,323 433.1,316.9 431.6,311.8 423.3,309.3 424.2,314.9 429.2,321.5 433.1,328.1 437.1,333.1 440.5,338.2 443.5,343.3 445.4,347.4 448.4,348.4 449.9,352.4 447.2,354 445.4,350.9 439.5,346.3 436.6,344.3 435.6,338.2 431.1,334.7 426.7,333.1 422.3,329.1 426.2,327.6 423.7,323 418.8,319.4 417.3,315.9 414.4,308.8 411.9,305.2 423.3,305.2 441.6,311.1 455.8,311.1 455.8,309 464.2,309 472,314.9 474.5,320.4 480.9,323 483.9,318.9 489.3,318.9 491.8,321.2 494.2,325.5 498.7,330.6 500.6,336.2 510,338.5 507.3,348.4 507,357.3 510,365.7 515.4,372.8 519.9,375.3 523.8,378.1 530.7,376.8 536.6,375.6 537.1,375.8 539.7,374.7 541.3,373.2 543.3,369.6 544.4,365.5 545.4,363 549.6,361.9 554.3,360.9 559.4,361.2 561.5,360.9 562.5,363 562.1,365 560,368.1 559.1,370.6 558.7,373.7 557.7,376.1 556.3,375.8 554.3,379.4 550.4,379.7 550.4,380.1ZM371.5,214.8 378.9,219.9 380.9,224.9 370.5,222.4 356.2,212.2 360.7,211.7ZM343.4,203.6 339.5,205.1 334.5,199.5 333.5,195 340,196ZM427.2,123.3 419.8,125.4 437.1,126.4 446.9,124.9 456.8,127.4 459.2,132 466.6,122.3 476.5,124.9 488.8,126.4 503.6,122.8 508.5,122.3 515.9,123.8 517.4,119.9 515.9,122.3 498.7,121.3 498.7,117.2 508.5,115.2 518,118.2 518.4,117.2 513.5,108.1 523.3,104.5 533.2,109.6 535.6,116.2 543,117.2 543,122.8 555.3,120.8 567.7,115.7 584.9,115.7 588.4,118.8 588.4,122.3 582.5,123.8 588.4,127.4 580,133.5 567.7,132.5 561.8,133.5 564.7,135.5 565.2,135 575.1,136.5 589.9,140.1 593.8,145.2 584.9,146.7 570.1,149.2 560.3,147.7 560.3,140.1 562,138.3 560.3,138.6 555.3,144.2 545.5,145.2 541.5,147.7 533.2,151.3 524.8,159.4 522.3,165.5 521.8,170.6 530.7,172.1 533.2,179.7 542,179.7 555.3,183.8 570.1,189.4 583.4,190.4 583.9,201.1 587.9,205.1 592.3,209.7 596.3,210.7 600.7,205.1 599.7,196 596.3,192.4 607.1,187.3 611.5,180.7 607.1,174.6 602.2,171.6 607.1,165.5 604.6,157.9 603.7,153.3 617,153.8 625.3,153.1 636.7,158.9 646.5,160.4 645.1,168 644.1,171.6 653.9,173.6 663.8,171.6 670.7,163.7 673.6,168 681,174.6 686,181.8 693.4,189.4 703.2,192.9 706.7,193.4 714.6,199.5 714.1,205.1 708.6,209.2 699.8,210.2 693.4,215.3 678.6,214.8 661.8,215.3 656.4,219.9 649,224.4 644.1,228.5 638.2,232.6 644.1,231.5 651.5,224.9 663.8,220.4 671.7,222.4 666.3,226.5 662.3,226.5 669.2,231.5 670.7,235.6 676.1,237.1 684,237.1 688.4,238.7 691.4,231.5 694.3,236.6 688.4,240.7 676.1,243.7 666.3,249.3 662.8,246.8 664.8,243.7 671.7,240.2 666.3,240.4 663.3,240.4 658.9,242.7 656.9,240.7 654.9,238.1 654.9,231 652.4,229.8 648,229.3 644.1,233.1 642.6,235.6 640.1,239.7 636.7,241.7 619.4,241.7 613,245.8 610.6,248.8 604.6,248.8 599.5,250.6 599.7,252.9 587.4,255.9 582,258.5 579.5,256.4 583,251.9 582.5,240.2 577,236.1 572.6,234.1 570.6,232 555.3,225.4 548,226.5 538.1,226.2 530.7,223.4 522.8,222.9 520.1,221.4 384.1,221.4 381.8,219.9 375.4,216.3 368,212.7 360.7,208.7 358.2,203.6 353.3,198.5 347.3,194.5 344.9,192.4 347.8,189.9 348.3,185.8 339.5,182.8 331.6,173.6 328.6,171.1 321.2,166.5 311.4,170.6 303.5,165.5 294.1,164 294.1,116.5 304,117.2 316.3,120.3 323.7,117.7 333.5,117.2 343.4,114.7 353.3,114.7 358.2,112.2 368,117.2 375.4,114.7 387.8,115.7 407.5,119.8 418.6,120.2 414.9,119.8 409.9,114.7 427.2,113.2 409.9,111.7 405,107.1 409.4,101.2 405,103 392.7,107.1 380.4,108.6 373,104.5 370.5,100.5 374,94.4 390.2,91.8 409.9,92.9 419.8,96.9 411.4,100.4 427.2,99.5 442,102 456.8,98.4 469.1,100.5 474,109.6 488.8,114.7 488.8,119.8 469.1,122.3 446.9,121.8 429.7,121.3 422.8,120.6ZM511,95.4 513.5,102 501.1,108.1 486.3,107.1 483.9,99.5 496.2,94.4ZM530.7,104.5 518.4,103.5 515.9,99.5 520.8,93.9 543,94.4 545.5,99.5ZM412.4,91.8 412.4,85.7 432.1,82.7 451.8,80.7 466.6,82.7 469.1,86.8 456.8,89.8 432.1,92.3ZM476.5,89.3 476.5,83.2 491.3,80.7 506.1,81.2 508.5,86.3 496.2,89.3ZM402.5,85.2 382.8,84.2 382.8,80.2 397.6,77.6 417.3,76.6 417.3,81.7ZM496.2,75.1 471.6,78.1 469.1,72.5 481.4,67.5 501.1,71ZM671.7,233.6 683.5,234.3 681,236.6 673.6,235.6ZM722.9,218.8 727.9,223.4 729.3,229 725.4,233.6 721.9,229 713.6,232 713.1,228.5 696.8,228.5 700.8,223.4 705.7,213.8 713.6,208.2 715.5,212.7 710.6,217.3ZM671.2,216.8 683.5,219.3 684.5,220.9 673.6,218.8ZM594.8,185.8 597.2,183.3 600.7,184.8 598.7,186.8ZM577.5,151.3 584.9,150.8 594.8,152.8 598.2,155.3 594.8,156.9 580,154.3ZM671.2,149.2 661.3,150.8 651.5,146.7 659.8,152.8 668.7,155.8 653.9,153.8 636.7,148.7 626.8,143.7 607.1,143.7 604.6,141.1 621.9,137.6 626.8,132.5 629.3,124.9 617,122.3 602.2,117.2 597.2,114.7 584.9,114.7 570.1,114.7 552.9,112.2 548,109.6 545.5,103 550.4,96.9 570.1,95.9 589.9,96.9 592.3,101 607.1,100.5 624.4,105.6 639.1,109.6 653.9,114.7 658.9,119.8 671.2,125.9 686,132 678.6,140.1 671.2,145.2 658.9,135 654.9,140.1ZM594.8,90.8 565.2,91.8 535.6,90.8 515.9,86.8 515.9,80.2 535.6,81.2 550.4,86.3 575.1,84.2 595.8,86.8ZM565.2,58.8 540.6,55.8 560.3,52.2 584.9,49.7 619.4,48.2 668.7,48.7 686,52.2 671.2,56.3 653.9,63.9 629.3,67.5 617,71.5 607.1,75.1 597.2,80.7 580,82.2 555.3,81.7 548,76.6 560.3,72.5 567.7,66.4 557.1,64.3 555.3,69 535.6,73 532.6,73 540.6,74.1 530.7,76.6 511,75.1 511,72.5 515.9,72.4 513.5,64.9 520.8,59.8 540.6,57.3 555.1,61.6ZM695.1,402.9 695.9,403.1 695.6,403.9ZM688.1,398.8 688.8,399.1 688.8,400.3 688.2,400.1ZM684.7,387.2 686.3,386.8 687.3,387.9 686.3,388.8 684.9,388.3ZM687.5,395.2 688.6,395.7 689,397.2 688.1,397.2ZM995,272.7 997,271.7 996.5,272.9ZM1000.9,269.4 1004.4,267.4 1006.1,268.4 1004.4,270.7 1001.9,270.1ZM955.1,262 958.5,259 956.6,257.2 948.7,256.4 945.5,257.4 943.3,251.9 949.7,248.1 960.5,248.8 970.4,249.6 980.2,250.1 982.2,251.6 985.6,252.6 992.6,252.9 996.2,253.9 997.7,254.4 1004.6,254.7 1005.4,257.4 999.9,260.2 993.3,263.3 987.6,269.6 990.1,273.5 986.1,276.2 985.6,279.3 979.7,282.8 978.3,283.6 971.4,283.9 967.4,283.9 962.7,286.7 961.5,287.4 958,284.9 957.6,283.1 954.6,281.3 952.6,281.3 952.1,279.8 954.6,277.3 953.1,275.2 954.6,272.7 952.1,269.1 954.6,268.6ZM1009.8,267.9 1007.8,266.8 1010.3,267.6ZM1035.4,251.9 1036.2,256.4 1034.9,260 1031.5,257.4 1031.5,254.9ZM992.6,252.9 985.6,252.6 982.2,251.6 980.2,250.1 982.2,246.8 983.7,239.2 983.4,235.9 978.3,231 975.3,229 967.9,227.5 965.7,224.4 971.8,222.4 981.2,223.2 981.2,218.1 983.2,219.6 989.6,218.8 996.5,215.8 997,211.7 1001.7,210.7 1004.4,212.2 1009.8,216.3 1013,215.5 1013.3,217.3 1017.7,218.6 1020.4,219.1 1023.6,220.4 1029.5,221.4 1026.6,228.5 1023.6,229.5 1019.2,235.1 1018.7,235.9 1022.6,234.6 1023.6,237.1 1021.9,241.2 1023.6,243.2 1023.1,245 1027.1,246 1026.1,247.9 1023.1,249.8 1019.4,251.4 1015.5,250.3 1008.8,249.3 1004.4,251.4 1004.6,254.7 997.7,254.4 996.2,253.9ZM1058.8,201.8 1061.1,203.3 1061.8,205.9 1063,211.2 1062,212 1059.6,211 1053.2,214 1049.7,215.3 1050.7,216.8 1057.1,222.7 1055.1,224.4 1052.2,225.7 1053.2,229 1049.2,228.2 1042.8,229 1039.4,230 1036.4,228.7 1031.5,228 1026.6,228.5 1029.5,221.4 1023.6,220.4 1020.4,219.1 1021.1,217.3 1019.4,215.5 1020.6,214.5 1018.7,212.5 1019.7,209.2 1018.7,206.9 1022.6,206.4 1023.8,204.1 1024.6,199.5 1029,198 1031.5,196.5 1033,196 1031.7,191.4 1035.7,191.7 1038.4,193.4 1043.3,193.9 1042.8,196.2 1048.7,195 1055.1,192.9 1059.1,196.5 1060.1,199.5ZM1104.9,196.2 1106.9,202.6 1103.5,204.6 1105.4,205.6 1105.4,208.7 1107.4,213.3 1101,218.3 1100.2,220.9 1098,220.6 1097.4,220.5 1093.8,219.6 1092.4,219.9 1092.1,219.9 1087.3,220.3 1086.4,220.3 1086.3,220.2 1082,218.8 1076.3,214.8 1072.4,215.3 1069.4,213 1064.5,212.2 1062,212 1063,211.2 1061.8,205.9 1061.1,203.3 1058.8,201.8 1060.1,199.5 1059.1,196.5 1068.9,194.5 1079.8,191.9 1081.3,193.9 1085.7,193.7 1101.5,194.2ZM1101.5,191.4 1101.5,194.2 1085.7,193.7 1087.7,191.2 1093.1,189.4 1097.5,190.4ZM1058.4,276.1 1062,275.8 1065.7,275.9 1065.1,277.8 1064.2,279.6 1063.6,281.5 1064.2,282.8 1063.3,283.3 1060.8,282.6 1057.8,281 1054.7,280.1 1050.5,278.9 1050.5,277.1 1054.7,276.3ZM1037.4,264.6 1036.4,271.2 1033,272.7 1030.5,270.7 1030.5,265.6 1029.5,262.5 1034.4,260.8ZM1023.6,237.1 1028,236.9 1031,235.1 1033.5,237.4 1034.9,234.6 1038.9,235.1 1040.6,232.3 1044.3,231.8 1049.2,231.3 1050.2,233.1 1056.6,234.1 1056.5,234.8 1055.9,234.9 1056.4,235.9 1056.2,237.1 1055.9,237.7 1053.7,237.9 1049.7,240.2 1049.7,245.3 1051.2,247 1053.5,247.5 1055.9,248.9 1057.8,251.2 1060.2,254 1062.6,255.9 1065.7,257 1068.2,257.5 1067.9,259.1 1070,260.3 1073,261.5 1076.1,263.3 1078.5,264.9 1080,266.3 1080.3,267.5 1079.2,268 1077.3,266.1 1075.5,264.9 1073.6,264.5 1072.1,265.6 1071.8,267.5 1073,269.4 1073.6,271 1072.7,271.9 1070.9,273.1 1069.3,275 1068.8,276.3 1068.2,277.1 1066.9,277.3 1066.3,276.3 1066.9,274.5 1068.2,272.6 1068.8,270.3 1067.5,268.4 1066.3,266.6 1063.9,264.9 1061.5,263.3 1059,261.9 1055.9,260.5 1053.5,259.8 1051.2,258.9 1049.7,258.2 1043.3,254.9 1040.9,252.1 1039.6,248.8 1037.4,246.3 1033,244.7 1029,247.3 1026.1,247.9 1027.1,246 1023.1,245 1023.6,243.2 1021.9,241.2ZM1167,321.1 1170.4,319 1174.3,317.5 1176.8,315 1171.9,310.3 1179.9,308.9 1182.3,307 1188.2,308 1196.6,312.3 1209.4,322 1218.7,322.3 1222.7,322.8 1224.1,325.2 1227.9,325.2 1229.2,328.4 1231.3,330.9 1233.4,332.8 1235.5,334.7 1236.1,336 1235.8,337.3 1236.5,339.1 1237.9,341.7 1239.2,343.9 1239.7,344.9 1240.4,345.3 1241.7,345.2 1242.2,345.6 1242.5,346.6 1243.7,348 1247.8,353.6 1260.7,355.2 1263.3,359.1 1262,363.3 1260.2,368.7 1245.4,373.8 1230.6,375.8 1220.8,383.9 1212.9,382.4 1205,381.9 1202,385.5 1200.1,387 1196.6,379.9 1191.7,373.3 1182.3,361.1 1178.9,350.9 1172.5,343.3 1167.5,335.7 1162.6,328.1 1160.9,326.5 1159.7,325.2 1160.7,322.2 1160.8,321.6 1160.9,321.5 1161.9,320.5ZM1204.3,266.6 1209.9,268.6 1207.9,270.1 1207,277.3 1209.9,281.6 1197.8,281.8 1186.3,283.4 1176.4,283.1 1169.5,283.4 1170,286.1 1167.5,287.4 1166.1,287.7 1167.5,284.4 1164.6,284.4 1159.6,283.4 1155.2,286.7 1150.8,287.2 1146.8,284.9 1146,284.3 1143.2,283.3 1140.1,284.3 1138.9,286.4 1137.1,285.6 1135.2,286.6 1132.8,286.1 1130.4,285.2 1127.9,284.3 1126.7,282.8 1124.9,281 1122.4,279.6 1123.7,278.2 1122.4,276.8 1120.6,275.4 1121.8,274.5 1120,272.6 1121.2,271.2 1120,269.4 1118.2,267.5 1118.8,265.6 1120.6,265.2 1123.7,264.7 1126.7,264 1129.8,263.8 1134.1,263.5 1135.2,262.8 1132.2,260.8 1135.2,261 1138.9,261.2 1142.6,261 1146,259.8 1148.3,258.2 1153.2,256.9 1161.6,256.7 1168,260.5 1178.4,262.3 1184.8,262 1193.7,259.5 1198.6,259.7 1204,261.5ZM1120,257.7 1121.8,257 1125.8,256.8 1127.3,257.7 1129.8,259.1 1131.6,260.3 1130.4,261.5 1127.3,261.7 1124.3,262.4 1121.8,263.3 1120,264.5 1118.8,265.1 1118.8,263.8 1118.2,262.8 1119.4,260 1118.8,258.9ZM1301.1,334.7 1298.4,331.6 1298.6,326.8 1293.7,324.5 1289,318.7 1297.2,320.9 1305,320.9 1315.9,318.7 1316.4,313.3 1324.3,309.8 1330.7,308.2 1330.7,302.7 1335.6,300.6 1333.6,297.6 1339.6,295.8 1342,291.5 1340,287.2 1346.9,283.4 1353.8,283.1 1358.3,281.1 1363.2,284.1 1363.7,288.4 1372.6,290 1368.1,294.3 1353.8,294 1353.8,301.6 1360.7,306.2 1356.8,307.7 1355.8,312.8 1353.4,317.9 1345.5,324.5 1335.6,329.1 1334.6,339.7 1339.1,346.3 1328.2,346.9 1325.3,349.9 1321.3,348.4 1319.3,344.3 1316.9,341.3 1307,342 1297.2,342.3 1292.7,342.3 1293.7,337.2ZM1423.3,345.8 1423.3,339.2 1424.8,335.7 1431.7,338.2 1432.2,341.8 1444.5,343.3 1438.6,348.4 1440.1,353.5 1442.1,350.4 1444,353.5 1445.5,358.6 1444,365.1 1442.6,361.1 1441.6,357 1435.7,356 1434.2,359 1428.3,359.6 1427.3,354ZM1626.9,282.3 1626.9,287.4 1625.4,292 1620,293.5 1612.6,295.8 1612.1,290 1613.1,282.3 1613.6,278.3 1621.7,274.2ZM1371.4,429.2 1371.4,429.3 1371.3,429.3 1366.2,424.6 1364.7,419.5 1360.3,410.4 1357.8,404.8 1354.3,395.1 1352.9,391.6 1350.4,383.9 1348.2,373.8 1347.4,367.7 1347.4,362.6 1346.5,357.5 1344.5,362.6 1338.6,365.1 1330.2,358.5 1329.2,356.5 1335.1,353.5 1327.7,352.4 1325.3,349.9 1328.2,346.9 1339.1,346.3 1334.6,339.7 1335.6,329.1 1345.5,324.5 1353.4,317.9 1355.8,312.8 1356.8,307.7 1360.7,306.2 1353.8,301.6 1353.8,294 1368.1,294.3 1372.6,290 1378,296.1 1377,302.7 1379.5,305.2 1377.5,311.3 1388.8,316.9 1383.9,324 1399.7,331.1 1409.1,334.4 1423.3,336.2 1423.3,328.6 1426.8,327.6 1427.3,331.6 1427.8,334.2 1431.7,334.7 1443.1,333.9 1442.6,330.6 1441.1,329.1 1448.5,325 1459.3,323 1463.3,320.7 1468.9,326.8 1463.3,331.6 1457.8,335.2 1455.4,342.3 1452.9,349.1 1449,347.9 1449.5,353.5 1445.5,358.6 1444,353.5 1442.1,350.4 1440.1,353.5 1438.6,348.4 1444.5,343.3 1432.2,341.8 1431.7,338.2 1424.8,335.7 1423.3,339.2 1423.3,345.8 1427.3,354 1428.3,359.6 1423.8,360.1 1417.9,361.6 1417.4,365.1 1415,369 1408.6,372.3 1403.6,377.3 1399.7,380.4 1394.8,386 1389.3,389.5 1384.9,391.6 1383.9,396.6 1384.9,403.8 1382.4,410.9 1382.7,418 1379.5,423.1 1374.5,425.6 1371.4,429.2ZM1529.3,368.7 1534.7,368.2 1536.2,370.7 1531.3,376.8 1528.8,377.8 1524.9,376.3 1524.9,372.8ZM1352.4,269.6 1352.9,267.6 1357.8,264.6 1368.1,262 1376,259.5 1384.4,255.9 1387.4,250.8 1383.4,242.2 1395.7,239.2 1398.2,230.5 1411.5,229.5 1412,224.4 1419.6,220.9 1421.9,220.4 1427.3,226 1437.1,232 1437.6,240.7 1459.3,245.3 1464.3,253.4 1482,253.9 1506.2,258.7 1528.8,254.7 1540.7,248.3 1538.2,244.7 1549,242.7 1564.3,234.8 1580.1,233.1 1567.8,228.2 1558.9,227 1564.3,217.3 1569.7,218.8 1579.1,214.8 1580.6,208.2 1584.5,199.5 1598.3,198.3 1608.2,200.8 1617.5,217.3 1633.3,221.9 1634.3,228 1653,224.4 1645.1,241.2 1636.3,242.2 1635.8,249.3 1632.8,254.9 1628.4,254.9 1620,256.9 1614.6,258 1602,267.1 1595.4,269.1 1587,273.2 1591.4,264.6 1585.5,262.5 1578.1,268.1 1569.2,272.7 1574.7,277.3 1575.7,280.8 1584.5,278.3 1592.9,280.3 1585.5,284.4 1582.1,287.4 1577.1,292.5 1582.1,296.6 1585,303.7 1589.9,309.3 1589.9,313.3 1585,316.4 1590.4,318.4 1588.5,326.5 1583.5,330.1 1579.1,338.7 1574.2,344.3 1571.2,346.3 1564.3,351.9 1552,357 1548.5,357.5 1540.2,360.6 1533.3,362.6 1532.4,366.5 1531.9,366.3 1529.8,361.1 1524.4,360.1 1521.4,361.1 1515,358.5 1515,354.5 1508.1,351.9 1501.2,356 1492.8,356.5 1490.9,362.6 1487.7,360.8 1482.5,361.1 1478.1,358 1476.6,352.4 1469.7,348.9 1470.7,344.3 1475.6,335.7 1472.6,329.6 1468.9,326.8 1463.3,320.7 1459.3,323 1448.5,325 1441.1,329.1 1439.1,327.8 1430.7,327 1427.3,331.6 1426.8,327.6 1423.3,328.6 1413,328.1 1404.1,324 1394.8,317.4 1388.8,316.9 1377.5,311.3 1379.5,305.2 1377,302.7 1378,296.1 1372.6,290 1363.7,288.4 1363.2,284.1 1358.3,281.1 1358.3,275.2 1353.4,274.7ZM152.6,134.5 148.7,137.6 139.8,138.1 138.8,143.1 133.9,143.1 124.1,141.1 121.6,138.1 109.3,137.6 108.3,135 101.9,140.1 101.9,119.9 114.2,123.8 129,129.4 142.3,130.4ZM1233.1,121.3 1227.2,118.3 1232.1,117.2 1236.5,118.8ZM1281.4,112.2 1287.3,114.2 1286.3,116.2 1278.9,112.7ZM101.9,110.1 101.9,107.1 113.7,107.1 114.2,109.1ZM1255.3,97.4 1262.7,97.9 1262.7,102 1267.6,106.6 1272.5,111.1 1262.7,111.7 1250.3,111.1 1242.9,107.1 1247.9,103ZM1275,86.3 1294.7,82.7 1314.4,79.1 1328.2,79.1 1326.7,80.2 1309.5,84.2 1289.8,87.8 1275,93.4 1265.1,97.9 1255.3,96.9 1262.7,90.3ZM1491.9,74.6 1477.1,74.1 1482,69.5 1494.3,69 1509.1,71.5ZM1459.8,68.5 1450,64.4 1442.6,61.4 1457.4,58.8 1469.7,60.9 1477.1,63.4 1491.9,63.9 1506.6,66.4 1504.2,70 1484.5,67.5 1472.1,70ZM1210.9,60.9 1225.7,59.3 1240.5,61.4 1225.7,63.4ZM1245.4,62.4 1250.3,59.3 1270.1,57.8 1289.8,59.8 1279.9,61.9 1265.1,63.9ZM1309.5,61.4 1294.7,60.9 1297.2,57.8 1311.9,58.8ZM1277.4,54.8 1275,56.8 1260.2,56.3 1262.7,54.2ZM1705.8,247.8 1710.2,244.2 1708.7,246.8ZM1718.6,242.7 1713.7,245.8 1713.2,244.7 1722.5,239.2ZM1728.5,238.1 1726,238.7 1730.9,235.6ZM1742.3,230.5 1745.7,228 1743.7,231.5ZM1689,226.5 1689.5,216.3 1688,206.1 1690,198.5 1692.5,194.5 1694.9,199.5 1695.4,206.1 1694.9,216.3 1702.3,221.9 1694.9,219.9 1693,226.5 1696.4,232.6 1692,233.1 1688.5,237.1 1688.5,233.6ZM1755.6,214.8 1758.5,212.7 1758,215.3ZM1804.8,189.4 1807.3,189.4 1810.3,191.9 1808.8,191.9ZM1319.3,114.7 1317.9,109.6 1326.7,104.5 1329.2,100 1334.1,97.9 1341.5,99 1347.9,101 1347.9,107.1 1344,113.2 1346.5,119.8 1351.4,124.9 1344,131 1339.1,132.5 1346.5,133.5 1353.8,129.9 1358.8,125.9 1353.8,119.8 1351.4,109.6 1356.3,102 1358.8,100.5 1368.6,103 1373.6,104 1378.5,102.5 1388.3,104.5 1395.7,105.6 1398.2,112.2 1403.1,114.7 1413,114.2 1403.1,107.1 1388.3,99.5 1388.3,96.4 1413,92.9 1417.9,88.8 1437.6,85.7 1457.4,83.7 1477.1,81.7 1503.2,75.6 1511.6,77.1 1521.4,80.7 1541.1,81.2 1548.5,84.7 1543.6,89.3 1526.4,94.4 1514,97.9 1511.6,99.5 1531.3,94.9 1546.1,95.4 1555.9,96.4 1573.2,96.9 1580.6,99.5 1597.8,96.4 1612.6,96.9 1624.9,100 1627.4,107.1 1622.5,110.1 1629.9,110.1 1634.8,110.6 1644.7,107.1 1659.4,106.6 1669.3,106.6 1678.2,102 1684.1,100.5 1703.8,102 1726,103.5 1730.9,107.1 1740.8,110.1 1758,109.6 1772.8,110.6 1777.7,116.2 1790.1,116.7 1802.4,116.7 1817.2,115.2 1829.5,114.2 1829.5,119.8 1832,119.8 1841.8,115.7 1856.6,115.7 1871.4,118.3 1876.3,119.9 1876.3,140.1 1871.4,142.6 1864,141.6 1871.4,152.8 1873.9,153.8 1861.5,152.8 1849.2,156.4 1836.9,160.4 1829.5,165.5 1812.2,163.5 1799.9,166.5 1792.5,175.7 1787.6,180.7 1792.5,184.8 1787.6,190.9 1777.7,199.5 1771.3,201.1 1769.4,206.1 1761.5,211.2 1758,203.6 1756.1,193.4 1756.5,183.3 1763,176.7 1772.8,173.1 1785.1,165.5 1792.5,160.4 1797.5,154.3 1799.9,152.8 1787.6,157.9 1780.2,155.8 1772.8,157.4 1763,157.4 1758,162.5 1748.2,168 1738.3,170.6 1732.4,167.8 1721.1,169.1 1703.8,169.1 1694.9,168.8 1679.2,177.2 1669.3,183.8 1657,191.9 1664.4,196 1671.8,197 1681.6,200 1686.1,200.6 1684.1,201.6 1681.6,211.2 1680.6,221.4 1674.2,229 1666.8,239.2 1657,246.8 1645.6,253.4 1639.7,250.8 1633.3,255.4 1633.7,255.1 1632.8,254.9 1635.8,249.3 1636.3,242.2 1645.1,241.2 1653,224.4 1634.3,228 1633.3,221.9 1617.5,217.3 1608.2,200.8 1598.3,198.3 1584.5,199.5 1580.6,208.2 1579.1,214.8 1569.7,218.8 1564.3,217.3 1552.5,215 1534.7,220.6 1524.4,219.9 1515,214.5 1500.2,215.5 1493.3,213.3 1492.8,209.7 1476.6,205.6 1473.6,213.8 1468.7,217.6 1453.9,213.5 1444,212.2 1431.2,216.8 1421.9,220.4 1419.6,220.9 1416.9,217.3 1409.5,218.3 1400.2,211.2 1383.4,212 1372.6,199.5 1366.2,195 1368.1,193.7 1350.9,198.5 1351.4,196 1340,195.5 1338.1,189.4 1325.3,190.9 1309.5,194.2 1289.8,196.5 1293.2,201.1 1288.8,201.6 1289.8,204.6 1284.8,206.1 1292.7,209.7 1291.7,212.2 1282.9,213.5 1277.4,210.7 1267.6,211.2 1257.7,211.2 1252.3,208.7 1239.5,207.7 1229.1,213.3 1229.1,216.8 1223.2,214 1219.8,219.9 1220.8,220.4 1218.3,224.4 1226.7,228 1222.2,227.5 1228.2,233.6 1231.2,234.5 1241.5,232 1230.6,234.6 1225.7,236.6 1220.8,238.7 1219.3,244.2 1222.7,247.8 1223.2,251.9 1228.6,257.7 1225.2,261 1222.2,260.5 1218.1,257.4 1212.4,254.4 1205.5,253.9 1198.6,250.8 1186.3,249.8 1181.3,246.8 1176.4,244.7 1173,243.2 1169.5,240.7 1173.9,239.7 1175.4,233.6 1177.9,233.1 1182.3,230.5 1177.4,231 1184.8,227.5 1186.8,218.3 1180.8,217.3 1173.4,214.3 1164.6,214.3 1155.7,204.4 1145.8,205.6 1143.9,200 1150.3,198.8 1145.8,196 1140.9,191.9 1141.4,187.9 1134,186.1 1128.1,185.1 1126.6,179.7 1123.9,177.9 1124.2,171.6 1127.1,168.3 1132,165.8 1138,166 1130.6,163 1126.1,162.7 1132,159.4 1144.9,150.8 1137,146.4 1139.4,144.2 1135.5,141.1 1137.5,136.5 1132,130.4 1137,126.4 1129.6,123.8 1131.5,119.5 1137,117.2 1141.4,115.7 1151.8,117.5 1166.5,118.8 1188.7,125.9 1192.7,131 1186.3,134 1178.9,134.8 1161.6,132 1151.8,131.5 1149.3,129.4 1159.2,137.6 1160.6,142.6 1171.5,145.7 1176.4,143.1 1170.5,139.6 1178.9,141.1 1188.7,142.4 1186.3,137.1 1197.1,132.5 1207,135 1205,128.9 1207,122.3 1202.5,121.6 1215.8,122.8 1218.3,125.9 1213.4,129.9 1218.3,131 1225.7,126.9 1235.5,123.8 1252.8,120.3 1255.3,123.8 1262.7,122.3 1272.5,121.3 1279.9,120.3 1287.3,115.7 1289.8,115.7 1309.5,119.3 1319.3,120.8 1326.7,123.8 1329.2,120.3ZM1876.3,107.1 1876.3,110.1 1868.9,109.1 1871.4,107.1ZM1696.4,96.4 1691.5,98.4 1678.2,97.4 1684.1,94.4ZM1733.4,87.8 1728.5,90.3 1708.7,89.3 1718.6,86.3ZM1689,83.2 1703.8,86.8 1696.4,89.3 1679.2,90.3 1664.4,88.3 1669.3,84.2ZM968.9,201.6 965.9,202.1 967.4,200 966.4,199 973.8,199.5 974.3,196.5 974.8,195 971.4,193.4 972.3,191.4 967.4,192.4 964.9,192.7 964.5,189.4 965.9,187.9 964.9,186.3 961.5,189.4 961,185.3 962,183.3 958.5,182.3 960.2,180.2 957.6,180.2 957.1,177.7 959.5,178.2 960.4,180 961,179.2 960.5,176.7 964,174.1 964.5,172.6 974.3,172.4 973.8,174.1 969.4,177.2 979.2,177.2 980.2,178.2 978.7,180.2 976.8,183.3 975.3,184.3 973.3,185.8 979.2,186.8 981.7,190.9 986.6,193.4 988.6,195.5 989.6,198 990.6,200.6 991.1,201.3 997.5,202.6 997.7,203.6 997,206.1 994,207.2 993.5,208.7 996,209.4 995.8,210.7 993.5,211.7 990.1,212.5 983.2,212.5 979.2,213.3 977,213.8 971.8,213.3 971.4,215.3 968.4,214.5 964,216.3 961,216 964.5,213.3 966.9,211.2 974.3,210.2 975.8,208.2 973.3,209.2 968.4,208.4 964,207.7 963,206.6 968.9,204.6ZM953.1,190.6 953.6,189.2 959,189.9 961.7,192.7 962,194.5 959.5,195.7 959,195.7 958.3,195.5 956.1,195 953.1,195.2 950.2,195 948.9,193.7 951.9,190.9ZM958,184.3 958,182.8 961,183.3 960,184.3ZM952.6,179.2 954.1,177.4 953.6,179.7ZM954.6,174.6 958.5,173.4 958,175.7 954.6,176.7 954.1,177.4ZM975.3,171.3 972.8,170.1 976.3,169.6ZM984.7,161.9 983.7,166 981.7,165.5 981.7,162.5ZM1620,336.2 1618.5,337.7 1621.5,334.2ZM1633.3,312.8 1630.9,310.8 1630.9,306.2 1628.4,304.2 1627.9,301.1 1631.8,299.6 1634.3,298.1 1638.2,299.6 1639.2,303.7 1636.8,310.8ZM1644.7,303.9 1641.7,300.4 1644.7,297.6 1651.1,296.1 1653.3,298.3 1650.6,301.4ZM1677.7,291 1674.7,293 1673.5,294.5 1671.8,292.5 1670.3,294.5 1664.4,294.5 1663.9,296.1 1660.9,298.1 1658.5,300.4 1655,298.1 1655,294.5 1649.6,294.5 1642.2,296.1 1634.8,297.8 1634.8,295.5 1639.7,292.5 1645.1,289.7 1651.1,289.7 1656,288.9 1659.4,288.9 1659.9,285.9 1663.1,282.8 1665.9,279.8 1664.4,283.4 1669.3,281.8 1673.2,278.3 1676.7,274.7 1679.2,268.1 1678.7,264.1 1680.6,261 1683.6,259.5 1686.6,264.6 1689,269.1 1686.6,275.7 1684.1,278.3 1683.6,282.8 1683.1,288.9 1679.2,292.5ZM1700.4,246.8 1704.8,245.8 1707.7,250.1 1700.8,252.1 1695.4,256.9 1684.1,254.4 1685.1,258 1680.6,260 1679.7,259 1678.2,255.4 1681.1,250.3 1685.6,250.3 1687,244.2 1688.5,239.2 1693.9,243.7ZM1588,341.8 1590.4,343.3 1588.5,348.4 1584.8,359 1581.1,353.5 1583.5,346.9 1585.5,343.3ZM1545,507 1548.4,508.6 1551.4,510.1 1552.1,513.6 1549.1,513.2 1543.9,512.1 1538.6,512.1 1534.1,510.9 1528.9,509.4 1524.4,509.4 1519.1,508.2 1513.9,506.6 1510.1,505.1 1507.7,503.9 1510.5,500.8 1513.9,500.1 1517.6,500.8 1521.4,502 1525.1,504.3 1528.9,504.7 1532.6,504.3 1534.9,502.4 1538.6,503.9 1542.4,505.1ZM1549.9,504.8 1549.1,506.1 1545,506.3 1543.9,505.1 1546.9,504.7ZM1491.8,496.6 1492.9,496.8 1492.7,497.6 1491.9,497.4ZM1521,483.1 1521.8,485 1520.2,486.1 1518.8,485.4 1518.8,483.5ZM1482,483.1 1483.9,485.8 1483.1,486.3 1481.3,483.8 1479.4,480.4 1480.5,480.4ZM1506.7,479.6 1509.8,477.7 1511.6,480.8 1513.9,483.1 1514.2,485 1511.6,484.2 1509.8,481.9ZM1474.9,475.3 1476,474.8 1477.5,477.7 1477.3,479 1475.8,478ZM1502.7,473.4 1502.5,472.2 1503.7,472.1 1504,473.4ZM1474,470.7 1474,472.6 1473.4,472.2 1473.2,470.3ZM1482.7,472.2 1479.7,469.1 1477.1,466 1475.6,462.2 1473.7,459.1 1471.1,457.1 1468.9,453.7 1466.2,450.6 1463.6,448.3 1460.6,445.2 1458.3,443.6 1458,442.3 1459.9,441.7 1463.6,443.2 1467,444.4 1469.2,443.9 1471.5,446 1473.4,449.1 1476.4,452.5 1479.4,456 1483.1,459.1 1486.1,460.2 1488.4,459.9 1491.4,463.3 1494.4,466 1495.9,468.4 1498.1,468.8 1499.8,470.7 1498.9,472.6 1500.4,474.6 1503,475.7 1503.7,479.2 1504.9,481.9 1507.1,482.1 1509.4,483.8 1510.5,486.9 1510,491.6 1510.1,496.2 1509.8,499.3 1507.7,498.1 1505.6,498.9 1504.3,499.5 1501.9,496.2 1498.9,493.1 1495.9,490 1492.9,486.9 1489.9,483.1 1486.9,479.2 1485,476.1ZM1503.4,469.1 1504.9,470.7 1505.6,471.5 1504,471.5 1503,470.3ZM1563.4,476.1 1562.3,479.2 1561.9,483.1 1560.4,486.1 1560.8,488.5 1557.4,489.7 1553.3,490.8 1552.1,486.6 1548.4,486.1 1547.3,484.6 1543.9,486.1 1539.8,487.7 1539.4,484.6 1535.6,485 1531.9,484.6 1531.1,480.8 1529.7,476.9 1527.7,475.3 1526.7,471.5 1525.9,468.4 1525.1,465.3 1526.3,462.2 1527.7,460.2 1528.9,459.9 1531.1,462.2 1533.4,465.7 1536.4,464.9 1540.2,464.1 1541.2,462.6 1547.7,463.3 1551.4,462.2 1554,460.2 1554.8,456.8 1555.9,454.9 1557.4,452.9 1557.8,449.1 1560.4,448.3 1566.4,448.4 1566.4,449.1 1567.9,451.4 1567.2,452.9 1568.3,456 1569.4,459.9 1571.7,463 1575.2,465 1570.5,466.8 1568.7,468.4 1567.5,472.2 1566.4,474.6ZM1494,464.1 1495.9,463.7 1497,465.3 1495.9,466.8 1494.4,466ZM1503.7,463.7 1504.3,465.3 1502.7,465.7 1501.9,464.1ZM1469.2,466 1467.4,462.6 1468.9,462.2 1471.1,465.3 1471,466.8ZM1461.7,455.4 1464,457.4 1463.6,458.2 1461.3,456.8 1460.6,455.6ZM1520.6,449.2 1521.8,448.7 1522.5,450.2 1521.8,451.5 1520.8,450.7ZM1580.6,517.5 1584.5,521.1 1581.6,522.6 1576.6,520.1 1575.7,518.6ZM1600.3,518.1 1605.2,516 1605.7,518.6 1602.3,522.1 1597.8,522.6ZM1594.4,514.5 1585.5,515.5 1580.6,515 1580.1,513.5 1588,513 1595.4,512ZM1570.9,514.8 1566.4,515.6 1564.2,515.2 1563.8,513.6 1566.4,511.7 1569.4,510.9 1572.4,511.7 1576.6,513 1574.7,515ZM1562.6,511.7 1563,514.4 1560.4,514.8 1560,512.1ZM1554,514 1552.9,511.7 1555.9,510.9 1557.8,512.5 1556.6,514.4ZM1673,507.8 1673.7,506.9 1669.3,498.2 1659,493.2 1649.6,490.1 1643.7,490.6 1639.7,485 1648.1,483 1641.2,482 1635.8,477.9 1634.8,474.4 1643.2,472.3 1649.6,474.4 1650.6,482.5 1654.5,487.6 1661.9,481.5 1668.8,477.9 1678.2,482.5 1684.1,483.5 1684.1,516.5 1678.7,511.4 1673.7,512.3 1673.7,513 1669.3,513 1667.8,513 1668.3,507.4ZM1634.8,508.4 1638.2,506.9 1637.8,510.9 1635.3,510.9ZM1652.5,504.8 1650.1,503.3 1650.6,499.3 1653.5,498.7ZM1616.1,486.6 1615.6,489.6 1611.1,489.1 1610.2,486.6ZM1629.9,489.1 1621.5,488.1 1619.5,485.5 1627.4,484.5 1634.3,487.6ZM1590.4,494.7 1588,490.6 1585.5,484 1582.1,485.5 1582.6,494.7 1582.6,498.7 1577.6,498.7 1577.6,496.2 1578.1,488.1 1574.7,484.5 1577.1,477.9 1579.6,474.4 1579.6,469.3 1581.1,466.2 1585,463.7 1594.9,465.7 1602.3,464.2 1606.2,462.2 1602.8,467.8 1597.8,468.8 1588,467.8 1583,467.8 1581.1,474.9 1585.5,477.4 1590.4,474.9 1597.3,474.9 1591.9,478.9 1588,480 1589.5,484.5 1592.4,487.6 1595.9,490.6 1595.7,492.6 1596.4,492.1 1596.4,498.7 1593.4,497.7 1593.4,495.3ZM1606.7,479.4 1605.2,480.5 1601.8,480 1601.8,478.9ZM1657,475.4 1656.5,473.9 1660.9,475.4 1659.4,476.9ZM1634.8,472.8 1631.3,472.3 1630.9,470.8 1635.8,471.3ZM1624,468.8 1620,474.9 1618.5,470.3 1617.5,465.2 1620,459.1 1623.5,462.7 1621,466.2ZM1708.7,691.3 1705.3,685.2 1702.3,679.6 1702.3,677.1 1711.2,679.1 1720.1,678.1 1720.1,684.7 1718.1,689.8 1712.7,691.8ZM1669.8,652.7 1664.4,653.4 1662.4,651.7 1668.8,651.7ZM1712.7,567.8 1721.1,572.4 1724.5,578 1732.4,587.1 1732.4,589.2 1738.3,594.8 1743.7,601.9 1743.7,610 1745.2,612.5 1746.2,616.1 1743.2,627.3 1740.8,634.9 1734.9,642 1729.4,653.2 1728.2,660.8 1718.6,662.8 1710.7,668.9 1703.8,665.4 1703.3,663.3 1696.4,667.4 1686.6,665.4 1681.1,662.8 1677.7,657.8 1674.2,651.7 1671.8,648.1 1669.3,644 1668.8,637.9 1668.3,635.9 1666.3,643 1664.4,647.6 1659.4,647.1 1655.5,645.6 1650.6,637.9 1647.6,633.9 1635.8,630.3 1624.9,631.3 1610.6,634.4 1600.3,637.9 1597.8,642.5 1589.9,642.5 1578.1,645.1 1570.7,648.1 1560.9,648.1 1556.4,644.5 1555.9,641 1559.4,632.9 1555.9,622.7 1554,616.6 1551,609 1548,603.4 1548.5,601.4 1548,593.7 1550,585.1 1551.5,581 1554,584.1 1558.4,579 1564.8,574.9 1573.7,573.4 1580.6,571.4 1588,565.8 1591.4,561.7 1591.4,556.7 1598.3,558.2 1597.8,553.6 1603.3,549 1606.2,544.5 1610.2,542.4 1614.6,540.4 1620.5,545.5 1627.9,546 1628.4,540.4 1633.8,533.3 1642.7,531.8 1642.7,528.2 1649.6,531.3 1659,531.8 1663.9,532.8 1659.4,538.9 1657,546 1662.9,551.1 1669.3,555.1 1675.7,558.7 1683.1,559.2 1686.6,546.5 1687,538.9 1688.5,531.3 1689.5,526.2 1691.5,524.7 1696.4,535.3 1697.9,543.5 1705.3,546.5 1706.3,554.1 1707.7,556.2 1710.2,566.3ZM1661.4,542.4 1661.9,540.4 1663.9,541.4 1662.9,542.9ZM1637.3,527.7 1636.3,530.2 1631.8,530.2 1630.4,528.2ZM913.2,329.1 911.2,329.1 911.2,327.6 913.2,327.3ZM909.7,325.3 907.8,327.8 905.8,326.3ZM920.8,327 918.6,327.8 917.6,327.6 920.6,324.5ZM900.4,324 901.6,324 901.1,325.5ZM922.6,323.5 920.8,323 922.8,322Z"/><path fill="#2166ac" d="M629.3,71.5 653.9,63.9 678.6,57.8 718,52.7 762.4,50.2 801.8,46.1 841.2,45.6 870.8,49.7 890.5,53.7 930,55.3 932.4,56.8 910.2,63.9 900.4,69 893,76.6 897.9,84.2 890.5,91.8 880.7,99.5 880.7,104.5 881.6,112.2 868.3,117.2 858.5,122.3 836.3,124.4 821.5,132 804.3,136.5 791.9,140.1 787,147.7 779.6,155.3 777.2,163 772.2,166 762.4,162.5 750,159.4 742.6,152.8 735.3,145.2 730.3,137.6 724.4,129.9 727.9,122.3 737.7,117.2 720.5,114.7 720.5,109.6 715.5,102 705.7,91.8 698.3,85.2 676.1,83.2 651.5,84.2 639.1,79.1 644.1,75.1Z"/></g></g>
<g id="legA"><text x="63.5" y="483.9" font-size="23">Prevalence cases, 2021</text><rect x="65" y="499.8" width="36.5" height="36.5" fill="#2166ac" stroke="#4a4a4a" stroke-width="2"/><text x="116" y="525.2" font-size="18.5">20.0 − 80.0</text><rect x="65" y="540.1" width="36.5" height="36.5" fill="#4393c3" stroke="#4a4a4a" stroke-width="2"/><text x="116" y="565.5" font-size="18.5">80.0 − 410.0</text><rect x="65" y="580.4" width="36.5" height="36.5" fill="#92c5de" stroke="#4a4a4a" stroke-width="2"/><text x="116" y="605.8" font-size="18.5">410.0 − 890.0</text><rect x="65" y="620.7" width="36.5" height="36.5" fill="#f7f7f7" stroke="#4a4a4a" stroke-width="2"/><text x="116" y="646.1" font-size="18.5">890.0 − 1820.0</text><rect x="255.8" y="499.8" width="36.5" height="36.5" fill="#d1ece8" stroke="#4a4a4a" stroke-width="2"/><text x="306.3" y="525.2" font-size="18.5">1820.0 − 3990.0</text><rect x="255.8" y="540.1" width="36.5" height="36.5" fill="#a3e4d7" stroke="#4a4a4a" stroke-width="2"/><text x="306.3" y="565.5" font-size="18.5">3990.0 − 7380.0</text><rect x="255.8" y="580.4" width="36.5" height="36.5" fill="#76a98a" stroke="#4a4a4a" stroke-width="2"/><text x="306.3" y="605.8" font-size="18.5">7380.0 − 22000.0</text><rect x="255.8" y="620.7" width="36.5" height="36.5" fill="#008080" stroke="#4a4a4a" stroke-width="2"/><text x="306.3" y="646.1" font-size="18.5">22000.0 − 708090.0</text></g>
<g id="inA_car"><g stroke="#333" stroke-width="1.4" stroke-linejoin="round"><path fill="#76a98a" d="M210.3,1220.4 208.9,1212.6 215.1,1219.3 219.5,1215 225.1,1207.9 233.7,1200.7 235.2,1192.2 242.3,1183.6 250.8,1178 259.3,1175.1 267.9,1172.3 277.9,1163.7 285,1158 290.7,1158 293,1162.3 289.4,1169.5 285,1173.7 285.3,1174.2 285,1174.6 277.9,1180.8 270.8,1188 267.9,1196.5 265,1203.6 273.7,1207.9 277.9,1215 276.5,1228.2 279.6,1232.4 203.7,1232.4 201.5,1230.3 206.2,1227.5ZM431,1232.4 279.6,1232.4 276.5,1228.2 277.9,1215 273.7,1207.9 265,1203.6 267.9,1196.5 270.8,1188 277.9,1180.8 285,1174.6 285.3,1174.2 285,1173.7 287.9,1178 293.5,1175.1 302.1,1172.3 306.4,1167.9 307.9,1162.3 310.7,1162.3 312.1,1169.5 316.4,1170.9 324.9,1172.3 330.6,1178 334.9,1183.6 350.6,1183.6 367.6,1185 376.3,1189.4 384.8,1186.6 394.8,1182.2 404.8,1180.8 410.5,1185 419,1186.6 410.5,1188 416.2,1193.7 424.7,1197.9 433.2,1203.6 430.3,1210.8 441.8,1212.2 444.7,1213.6 440.3,1217.8 436,1223.6 433.3,1228.2ZM289.4,1203.6 293.5,1199.3 293.5,1189.4 289.4,1182.2 286.7,1178 285.3,1178.7 283.5,1185 280.7,1193.7 283.5,1200.7Z"/><path fill="#4393c3" d="M433.3,1228.2 436,1223.6 440.3,1217.8 444.7,1213.6 456,1220.7 456.3,1221 456.3,1232.4 431,1232.4ZM67,1069.7 70.7,1070.5 69.8,1072.5 69,1074 68.3,1085.3 64.2,1095.2 59.8,1106.7 52.8,1108.1 50.8,1108 50.8,1080.5 61.3,1079.7ZM267.9,1034 267.9,1037.7 260.8,1037.7 259.3,1034.9 263.7,1033.2ZM203.8,982.7 206.6,991.3 208.1,998.4 203.8,997.8 199.5,989.9 196.6,984.1 201,978.4Z"/><path fill="#a3e4d7" d="M33.2,1100.9 23.7,1089.6 23.7,1081.8 50.8,1081.8 50.8,1108 52.8,1108.1 56.2,1108.7 59.8,1110.1 55.6,1115.3 51.3,1126.6 45.6,1130.9 40,1139.5 25.6,1135.3 14.3,1130.9 14,1130.7 14,1106.6 31.8,1106.6ZM125.4,1182.2 133.9,1193.7 138.2,1199.3 135.4,1203.6 136.9,1210.8 139.7,1215 133.9,1210.8 128.2,1205.1 125.4,1196.5 116.9,1192.2 112.5,1193.7 106.9,1188 111.2,1195.1 105.5,1195.1 98.4,1188 96.9,1176.5 98.4,1178 114,1179.4Z"/><path fill="#d1ece8" d="M61.3,1136.7 68.3,1139.5 69.8,1146.6 57,1146.6 45.6,1142.3 40,1139.5 45.6,1130.9 52.8,1133.8ZM52.8,1133.8 45.6,1130.9 51.3,1126.6 55.6,1115.3 59.8,1110.1 71.3,1108.1 85.5,1109.5 96.9,1107.3 108.4,1107.3 119.7,1112.4 128.2,1119.6 131.7,1125.2 122.5,1122.4 114,1126.6 105.5,1126.6 98.4,1135.3 88.3,1140.9 82.7,1149.4 77,1149.4 73.5,1149.4 69.8,1146.6 68.3,1139.5 61.3,1136.7ZM138.2,1199.3 142.6,1200.7 148.2,1207.9 159.6,1206.5 171.1,1200.7 182.4,1197.9 193.8,1199.3 203.8,1205.1 208.9,1212.6 210.3,1220.4 206.2,1227.5 201.5,1230.3 199.5,1225 203.8,1217.8 196.6,1210.8 185.3,1207.9 176.8,1212.2 171.1,1217.8 173.9,1227.9 165.3,1230.7 159.6,1223.6 151.1,1220.7 143.9,1216.4 139.7,1215 136.9,1210.8 135.4,1203.6ZM119.7,1015.5 128.2,1009.8 139.7,1006.4 148.2,1005.6 159.6,1008.4 171.1,1012.7 182.4,1015.5 189.6,1018.3 199.5,1024.1 211,1029.8 219.5,1035.4 230.8,1039.7 242.3,1044.1 252.2,1047.5 248,1050.3 236.5,1052 222.3,1053.1 208.1,1053.1 205.8,1051.1 212.3,1045.5 208.1,1041.8 199.5,1041.1 195.3,1031.2 185.3,1028.4 173.9,1026.9 159.6,1022.6 155.4,1017.8 148.2,1016.9 142.6,1015.5 133.9,1014.1 125.4,1016.9 118.2,1021.7 111.2,1025.8 109.7,1024.1 115.4,1021.2ZM140.3,1026.4 139,1030.3 133.9,1030.3 132.6,1026.9 136.9,1024.1ZM353.4,1071.6 366.3,1072.5 366.3,1078.3 356.3,1079.7 346.3,1078.8 345.7,1073.9Z"/><path fill="#f7f7f7" d="M88.3,1140.9 98.4,1135.3 105.5,1126.6 114,1126.6 122.5,1122.4 131.7,1125.2 129.7,1138.1 126.9,1155.2 125.4,1166.5 124,1176.5 125.4,1182.2 114,1179.4 98.4,1178 96.9,1176.5 88.3,1166.5 79.8,1156.6 73.5,1149.4 77,1149.4 82.7,1149.4ZM256.5,1069.7 270.8,1070.2 275,1068.2 273.7,1062.6 267.9,1059.8 263.7,1055.4 270.8,1052.5 280.7,1053.1 285,1055.4 286.4,1062.6 284.5,1069.7 285.8,1078.3 285,1078.3 273.7,1076.7 262.2,1077.7 251.4,1075.9 249.3,1072.5ZM293.5,1052.5 302.1,1054 310.7,1058.2 316.4,1061.2 323.6,1064 330.6,1069.7 326.4,1075.3 316.4,1073.9 307.9,1075.3 299.2,1078.3 293.5,1081.1 289.4,1083.9 285.8,1078.3 284.5,1069.7 286.4,1062.6 285,1055.4Z"/><path fill="#008080" d="M50.8,1081.8 23.7,1081.8 23.7,1088.9 23.7,1089.6 33.2,1100.9 31.9,1106.6 31.8,1106.6 14,1106.6 14,1069.5 14.3,1069.7 21.4,1066.8 25.6,1062.6 31.3,1052.5 34.1,1041.1 37.1,1034 48.5,1031.2 61.3,1028.4 75.5,1029.2 81.2,1028.4 84,1034 82.7,1039.7 77,1048.3 74.7,1055.4 73.5,1064 70.7,1070.5 67,1069.7 61.3,1079.7 50.8,1080.6 50.8,1081.8ZM449.8,1145.7 448.9,1148 447.5,1145.2ZM430.3,1134.7 430.3,1138.1 428.7,1137.5 428.5,1133.8ZM423.3,1100.5 426.2,1103.3 423.3,1105.8 419.5,1104.4 419,1101.6ZM429.8,1125.2 430.9,1129.5 428.5,1129.5 426.7,1123.8Z"/><path fill="#92c5de" d="M203.8,1072.5 212.3,1072.5 221,1075.3 225.7,1078.3 222.3,1081.1 212.3,1082.5 203.8,1079.7 196.6,1075.3ZM429.8,1179.7 429.8,1190.8 421.8,1190.8 423.6,1185 421.8,1180.2Z"/><path fill="#ffffff" d="M95.5,1099.6 95,1101 89.8,1102.2 87,1101.6 90.6,1100.5ZM85.5,1041.8 85,1046.3 83.5,1044.1ZM270.8,1016.9 270.2,1018.3 266.5,1016.3ZM255.7,1020.3 253.7,1020.3 253.1,1016.1 252.2,1012.7 255.2,1015.5ZM239.5,1004.6 243.7,1007.6 245.7,1010.7 243.9,1011 241.6,1007.9ZM227.4,999.2 231.5,1001.2 230.8,1002.6ZM235.2,988.5 237.2,993.3 235.4,993.3 233.1,989.3 230.8,985.5ZM224.1,983.3 221.8,977.9 219.5,974.2 223.8,977 225.7,982.7ZM208.1,956.5 199.5,956.5 193.8,958.5 188.1,957.1 193.8,955.7 199.5,954.3 209.5,954.3 213.8,961.3 212.3,968.4 210.4,967.6 211.5,961.9ZM389.1,1175.7 390.5,1178 384.8,1178.5 383.3,1176.8ZM436,1174.6 433.2,1173.7 436.7,1172.3ZM332.9,1160.3 332.3,1161.4 329.2,1158.6ZM324.4,1157.7 323.6,1158.6 322.1,1156.6ZM417.8,1090.3 419.8,1091 419.1,1092.4ZM406.3,1089.6 404.3,1086.8 407.6,1088.9ZM372.2,1077.7 369.1,1076.7 372.8,1075.9ZM380.5,1073.3 379.9,1074.7 376.3,1073.9ZM426.2,1109 425.5,1111.8 423.9,1108.1ZM429.3,1142.9 428.5,1145.2 427.5,1142.3ZM428,1155.8 427,1158 426.2,1155.2ZM401.8,1085.3 401,1087.3 399,1085.3Z"/></g><rect x="14" y="939" width="442.3" height="293.4" fill="none" stroke="#1a1a1a" stroke-width="1.6"/></g>
<g id="inA_gulf"><g stroke="#333" stroke-width="1.4" stroke-linejoin="round"><path fill="#d1ece8" d="M552.2,977.8 560.8,980.1 563.6,982.9 567.1,991.6 556.5,996.9 559,998.6 567.8,993.3 572.4,1005.7 574.9,1021.4 555.7,1021.4 548.7,1008.2 528.3,1005.7 539.9,982.9 545.2,979.2ZM629,1086.1 629.8,1093.4 628.5,1097.9 626.3,1093.4 625.5,1086.4Z"/><path fill="#76a98a" d="M555.7,939.6 556,950.8 563.6,951.1 564.1,967.7 571.4,973.9 575.9,980.9 573.1,982.9 563.6,982.9 560.8,980.1 552.2,977.8 545.2,979.2 539.9,982.9 528.3,1005.7 488.5,1004 488.5,939 555.9,939ZM759.7,1069.8 760,1069.7 760,1073.4 751.7,1076.3 747.4,1075.2 754.5,1071.5ZM759.7,1065.3 754.5,1067.3 743.9,1072.3 733.3,1079.4 722.7,1076 705.1,1070.7 691,1061.9 678.7,1053.2 669.1,1044.2 656,1040 648.9,1033.8 642.6,1022.3 635.6,1011 629.5,1000.3 620.7,984.6 615.4,975.3 603.1,978.4 594.3,970.5 592.5,967.7 587.2,972.2 585.5,980.1 575.9,980.9 571.4,973.9 564.1,967.7 563.6,951.1 556,950.8 555.7,939.6 555.9,939 760,939 760,1065.2Z"/><path fill="#92c5de" d="M635.6,1130.6 633.8,1111.2 637.3,1097.1 644.4,1089.2 651.5,1095.4 654.2,1105.8 653.2,1119.9 648.9,1128.6 647.9,1134.8 645.4,1132.3 639.1,1133.1Z"/><path fill="#a3e4d7" d="M759.7,1148 754.5,1148.9 751.7,1151.7 745.6,1172.8 742.9,1187.7 676.9,1179 656,1148 661,1148.9 669.8,1149.7 678.7,1145.5 691,1143.8 706.9,1145.5 717.4,1143.8 726.3,1137.6 735.1,1128.6 743.9,1119.9 752.7,1109.5 759.7,1103.3 760,1102.9 760,1136.3Z"/><path fill="#f7f7f7" d="M756.2,1209.6 742.9,1187.7 745.6,1172.8 751.7,1151.7 754.5,1148.9 759.7,1148 760,1136.3 760,1232.4 749.2,1232.4Z"/><path fill="#008080" d="M528.3,1005.7 548.7,1008.2 555.7,1021.4 574.9,1021.4 581.9,1039.1 592.5,1053.2 603.1,1063.6 613.7,1074.3 617.2,1081.3 615.4,1088.4 619,1098.8 626,1112.8 633.1,1125.2 635.6,1130.6 639.1,1133.1 645.4,1132.3 647.9,1134.8 649.7,1140.1 656,1148 676.9,1179 742.9,1187.7 756.2,1209.6 749.2,1232.4 488.5,1232.4 488.5,1004Z"/><path fill="#ffffff" d="M569.6,980.1 572.4,984.6 570.6,990.8 566.1,991.6 562.5,986.3 563.6,980.9Z"/></g><rect x="488.5" y="939" width="271.5" height="293.4" fill="none" stroke="#1a1a1a" stroke-width="1.6"/></g>
<g id="inA_balk"><g stroke="#333" stroke-width="1.4" stroke-linejoin="round"><path fill="#f7f7f7" d="M843,998.7 845.7,1003.9 841.3,1008.3 836.1,1012.7 832.5,1019.8 825.4,1021.5 818.4,1023.2 809.6,1021.5 806.1,1017.9 807.9,1012.7 806.1,1007.3 807.8,1007 808,1004.2 808.1,1004.2 815.7,1005.3 825.4,1002.9 836.1,1000.4ZM855.4,1029.4 867.6,1030.1 878.3,1032.1 883.5,1035.5 886.1,1042.6 890.5,1049.5 888.8,1056.6 890.5,1061 883.5,1061.8 878.3,1068.9 876.4,1079.5 873,1076.8 864.2,1068.9 855.4,1061 848.3,1053.2 841.3,1044.3 837.8,1035.5 839.5,1030.1 846.6,1028.4ZM916,1072.4 921.3,1077.7 919.6,1082.9 915.2,1085.6 908.1,1088.3 902.8,1082.9 899.3,1079.5 902,1074.3 906.4,1068.1 909.8,1067.2ZM902.8,1082.9 908.1,1088.3 904.6,1091.8 904.5,1091.8 903.7,1099.8 908.1,1109.4 910.8,1114.6 908.1,1121.7 902.8,1128.8 900.1,1134 894,1127.1 889.6,1120 888.8,1109.4 889.6,1098.8 887.9,1091 890.5,1082.9 895.7,1081.2 899.3,1079.5ZM1013.6,973.2 1020.6,979.3 1025.9,988.1 1031.3,996.8 1038.2,1003.9 1036.5,1007.3 1029.4,1006.5 1024.2,1011 1020.6,1017.9 1015.4,1023.2 1013.6,1012.7 1013.6,1000.4 1008.4,989.9 1003.1,982.8 997.7,975.7 992.5,972.2 997.7,967.8 1004.8,968.7Z"/><path fill="#4393c3" d="M890.5,1064.5 897.6,1069.9 902,1074.3 899.3,1079.5 895.7,1081.2 890.5,1082.9 887.9,1091 883.5,1087.3 878.3,1082.9 876.4,1081.2 875.9,1081.1 876.4,1079.5 878.3,1068.9 883.5,1061.8Z"/><path fill="#92c5de" d="M913.4,1112.1 910.8,1114.6 908.1,1109.4 903.7,1099.8 904.5,1091.7 908.1,1088.3 915.2,1085.6 924,1084.8 934.5,1086.6 938.9,1093.5 938.1,1102.3 931,1107.7 922.2,1109.4 913.4,1112.1Z"/><path fill="#d1ece8" d="M916.9,1035.5 924,1039 932.7,1042.6 934.5,1051.3 931.8,1056.6 936.2,1063.7 938.9,1068.9 934.5,1076 931.8,1082.9 934.5,1086.6 924,1084.8 915.2,1085.6 919.6,1082.9 921.3,1077.7 916,1072.4 909.8,1067.2 906.4,1068.1 902,1074.3 897.6,1069.9 890.5,1064.5 883.5,1061.8 890.5,1061 888.8,1056.6 890.5,1049.5 886.1,1042.6 883.5,1035.5 888.8,1030.1 885.2,1025 882.7,1016.1 890.5,1012.7 897.5,1014.4 897.6,1014.4 904.5,1012.6 904.5,1012.7 904.6,1012.7 904.6,1017.9 911.6,1028.4ZM925.7,952.8 927.5,953.3 933.8,954.3 933.8,954.4 930.4,962.4 929.3,968.7 918.6,965.1 904.5,967 890.5,972.2 880.8,976.6 876.4,980.1 867.6,979.3 858.9,975.7 855.4,977.6 854.5,967.8 855,967.3 854.2,964 854.2,963.9 857.8,959.1 870.6,954.3 881.2,946.6 893.6,951.9 894,952 894.1,952 894.1,952.1 896.4,952.2 910.4,950.5 911.2,950.6 915.2,949.4 925.7,952.8ZM996.1,1091 996,1091 990.8,1093.5 987.2,1097.9 983.7,1098.9 983.6,1098.9 976.7,1103.3 967.9,1102.3 960.8,1099.8 952.1,1101.5 943.3,1103.3 938.9,1102.3 938.9,1093.5 934.5,1086.6 931.8,1082.9 934.5,1076 938.9,1068.9 936.2,1063.7 931.8,1056.6 934.5,1051.3 939.8,1054.9 948.6,1055.7 960.8,1056.6 976.7,1058.4 987.2,1053.2 996,1050.5 1010.1,1053.2 1018.9,1056.6 1017.2,1063.7 1010.1,1068.9 1008.4,1079.5 1004.8,1084.8 1007.4,1090 996.1,1091ZM851.8,1009.2 862.3,1016.1 873,1017.9 882.7,1016.1 885.2,1025 888.8,1030.1 883.5,1035.5 878.3,1032.1 867.6,1030.1 855.4,1029.4 846.6,1028.4 839.5,1030.1 837.8,1035.5 841.3,1044.3 848.3,1053.2 855.4,1061 864.2,1068.9 873,1076.8 876.4,1079.5 875.9,1081.1 876.4,1081.2 869.4,1079.5 858.9,1074.3 848.3,1067.2 839.5,1060.1 832.5,1053.2 825.4,1044.3 820.1,1035.5 814,1029.4 811.3,1035.5 806.9,1023.2 809.6,1021.5 818.4,1023.2 825.4,1021.5 832.5,1019.8 836.1,1012.7 841.3,1008.3 845.7,1003.9Z"/><path fill="#a3e4d7" d="M855.4,977.6 858.9,975.7 867.6,979.3 876.4,980.1 880.8,976.6 890.5,972.2 904.5,967 918.6,965.1 929.3,968.7 937.1,975.7 931,982.8 924,991.6 916.9,1003.9 911.6,1009.2 904.5,1012.7 897.6,1014.4 890.5,1012.7 882.7,1016.1 873,1017.9 862.3,1016.1 851.8,1009.2 845.7,1003.9 843,998.7 850.1,982.8ZM987.2,1220.1 985.5,1223.8 976.7,1222.8 966.2,1221.8 955.5,1221.1 948.6,1219.4 947.7,1215.7 952.1,1213.2 960.8,1214.9 971.5,1215.7 980.3,1218.4ZM940.2,1202.8 938.8,1199 941.6,1200ZM968.6,1194.2 967.2,1191.3 970,1192.3ZM962.2,1192.3 960.1,1193.3 959.4,1191.3ZM964.3,1171 967.9,1173.5 967,1174.8 964.1,1172.3ZM909.5,1173.5 907.5,1172.7 907.2,1170 910.2,1171.4ZM908.1,1165.6 905.5,1165.2 904.5,1160.4 908.1,1161.2ZM939.8,1132.2 943.3,1139.3 941.5,1143.7 938.1,1146.2 943.3,1149.9 943.5,1150.1 944.2,1148.2 949.4,1152.4 954.7,1158.7 960.8,1164.9 959.1,1166.6 954.6,1162.6 955.5,1163.9 959.1,1169.3 958.2,1171.4 953.8,1167.3 950.3,1163.9 944.2,1162.6 941.5,1164.9 944.2,1171 945.9,1177.9 939.8,1179.8 938.1,1186.7 940.6,1195.6 936.2,1193.8 932.7,1190.2 930.1,1197.3 925.7,1188.5 924,1193.8 920.4,1183.3 916.9,1174.4 916,1167.3 920.4,1162.2 925.7,1160.4 934.5,1161.8 938.1,1160.8 924,1158.3 916.9,1159.5 912.5,1155.1 908.1,1148.2 906.4,1141.1 902.8,1134.9 900.1,1134 902.8,1128.8 908.1,1121.7 910.8,1114.6 913.3,1112.1 922.2,1109.4 931,1107.7 938.1,1102.3 943.3,1103.3 952.1,1101.5 960.8,1099.8 967.9,1102.3 976.7,1103.3 983.7,1098.8 987.2,1097.9 989.1,1102.3 985.5,1112.9 978.4,1111.1 969.6,1109.4 962.6,1111.1 959.1,1114.6 953.8,1117.3 950.3,1116.5 954.7,1123.4 951.1,1127.1 948.6,1121.7 946.7,1127.8 944.2,1123.4 942.3,1120.7 939.8,1117.3 935.4,1119 936.2,1123.4ZM955.8,1145.3 953.7,1146.2 953,1144.3ZM897.6,1138.4 895.7,1139.7 893.2,1135.7 892.3,1132.2 894.9,1133.2ZM964.8,1116.7 962.2,1117.1 961.8,1114.6 964.8,1114.4ZM998.7,1209.6 1000.4,1210.5 999.9,1215.7 998.2,1214.9ZM1012.8,1196.5 1013.9,1200.7 1010.1,1204.8 1008,1202.7 1009.2,1197.3ZM973.6,1197.1 975.7,1198.1 974.3,1199ZM998.4,1192.3 995.6,1189.4 1002,1190.4ZM977.3,1186.3 974.9,1186 974.9,1183.3 977.6,1183.7ZM971.5,1177.9 971.5,1175 973.6,1176.9ZM994.3,1172.3 993.9,1174.4 990.3,1174.8 989.9,1172.7ZM982,1162.9 981.1,1156.8 983.7,1157.8 984.7,1163.9ZM982,1148.2 980.3,1144.5 984.7,1142.8 989.1,1145.5 987.2,1148.9ZM974,1127.2 974,1130.5 970.6,1130.9 969.6,1127.8ZM848.4,986.6 843,998.7 836.1,1000.4 835.3,1000.6 825.4,1002.9 815.7,1005.4 808.1,1004.2 792.3,1001 792.3,983.6 798.1,985.1 795.3,972.6 803.8,967.8 809.5,961.1 822.3,963.9 826.5,956.3 842.2,961.1 854.2,963.9 855.1,967.2 854.5,967.8 855.4,977.6 850.1,982.8 848.4,986.6Z"/><path fill="#76a98a" d="M967.9,981 978.4,977.6 992.5,972.2 997.7,975.7 1003.1,982.8 1008.4,989.9 1013.6,1000.4 1013.6,1012.7 1015.4,1023.2 1020.6,1025.9 1029.4,1025.9 1034.7,1027.7 1036.8,1021.5 1039.9,1028.4 1033,1035.5 1020.6,1044.3 1018.9,1056.6 1010.1,1053.2 996,1050.5 987.2,1053.2 976.7,1058.4 960.8,1056.6 948.6,1055.7 939.8,1054.9 934.5,1051.3 932.7,1042.6 924,1039 916.9,1035.5 911.6,1028.4 904.5,1017.9 904.5,1012.7 911.6,1009.2 916.9,1003.9 924,991.6 931,982.8 937.1,975.7 943.3,976.6 953.8,978.3ZM881.2,946.7 870.6,954.4 857.8,959.1 854.2,963.9 842.2,961.1 826.5,956.3 822.3,963.9 809.5,961.1 792.3,940.5 792.3,939 873.1,939ZM937.1,975.7 929.2,968.8 929.2,968.7 929.3,968.6 930.4,962.4 933.8,954.4 935.9,944.8 941.5,939 1066.5,939 1066.5,1001.3 1065.8,1000.4 1059.4,1002.1 1048.7,1005.6 1041.8,1014.4 1036.8,1021.5 1034.8,1027.2 1032.2,1026.8 1029.4,1025.9 1025.4,1025.9 1018.9,1025 1015.4,1023.2 1020.6,1017.9 1024.2,1011 1029.4,1006.5 1036.5,1007.3 1038.2,1003.9 1031.2,996.8 1025.8,988.1 1020.6,979.3 1013.6,973.2 1004.8,968.8 997.7,967.8 996,969.3 992.5,972.2 978.4,977.6 967.9,981.1 967.7,981 953.9,978.3 953.9,978.4 953.8,978.4 943.3,976.6 937.1,975.7Z"/><path fill="#008080" d="M809.5,961.1 803.8,967.8 795.3,972.6 798.1,985.1 792.3,983.6 792.3,940.5ZM935.9,944.8 933.8,954.4 927.5,953.3 925.7,952.8 915.2,949.4 911.2,950.7 910.4,950.5 896.4,952.2 894,952 893.6,951.9 881.2,946.7 873.1,939 941.5,939ZM823.7,1161.8 834.2,1162.2 832.5,1169.3 829.8,1176.2 828.1,1183.3 829.8,1188.5 827.2,1190.2 820.1,1187.7 811.3,1181.5 802.5,1177.9 792.3,1174.2 792.3,1166.1 802.5,1163.9 813.2,1162.9ZM808.1,1004.2 807.8,1007 806.1,1007.3 807.4,1011 806.9,1015.7 806.1,1017.9 799.5,1018.6 792.3,1024.1 792.3,1001ZM792.4,1053.2 799.1,1054.9 806.1,1060.1 811.3,1068.9 818.4,1079.5 825.4,1086.6 834.2,1091 841.3,1092.7 840.5,1098.8 846.6,1103.3 855.4,1107.7 864.2,1114.6 871.2,1120.7 875.6,1126.1 876.4,1130.5 873,1132.2 867.6,1125.1 862.3,1120.7 857.1,1119 852.7,1123.4 851.8,1130.5 855.4,1137.6 857.1,1143.7 854.5,1147.2 849.1,1151.6 844.7,1158.7 843,1163.9 841.3,1166.6 837.8,1167.3 836.1,1163.9 837.8,1156.8 841.3,1149.9 843,1141.1 839.5,1134 836.1,1127.1 829,1120.7 822,1114.6 814.9,1109.4 806.1,1104 799.1,1101.5 792.4,1097.9 792.3,1097.8 792.3,1053ZM1065.8,1193.8 1057.5,1190.2 1048.7,1193.8 1045.3,1201.7 1039.9,1199 1034.7,1202.7 1027.7,1200.7 1020.6,1197.3 1013.6,1193.8 1010.1,1188.5 1004.8,1181.5 997.7,1176.2 1001.3,1171 997.7,1165.6 992.5,1160.4 996,1156.8 990.8,1149.9 994.3,1144.5 990.8,1137.6 985.5,1130.5 987.2,1123.4 992.5,1121.7 1001.3,1120 1010.1,1117.3 1018.9,1116.5 1031.3,1115.5 1034.7,1112.9 1025.9,1105 1034.7,1105.9 1045.3,1106.7 1055.8,1105.9 1065.8,1101.5 1066.5,1100.9 1066.5,1194.5ZM996,1091 1007.4,1090 1011.8,1093.5 1018.9,1098.8 1024.2,1103.3 1020.6,1107.7 1011.8,1108.4 1003.1,1111.1 996,1114.6 990.8,1119 987.2,1121.3 987.2,1116.5 985.5,1112.9 989.1,1102.3 987.2,1097.9 990.8,1093.5Z"/><path fill="#ffffff" d="M819.3,1205.7 820.6,1208.2 818,1207.8 816.6,1205.2Z"/></g><rect x="792.3" y="939" width="274.2" height="293.4" fill="none" stroke="#1a1a1a" stroke-width="1.6"/></g>
<g id="inA_sea"><g stroke="#333" stroke-width="1.4" stroke-linejoin="round"><path fill="#76a98a" d="M1200.6,990.9 1205.4,989.9 1216.4,983.9 1216.7,983.4 1216.8,983.4 1216.8,983.5 1225.6,990.9 1234.2,999.6 1238.5,1009.6 1238,1022 1240.4,1034.4 1245.3,1046.8 1250.4,1058.1 1247.9,1061.8 1239.1,1063 1229.3,1059.2 1219.3,1051.9 1209.4,1043.1 1200.6,1034.4 1194.4,1022 1191.9,1007.1 1188.1,994.7 1185.7,983.4 1191.9,981 1198.1,983.4 1200.6,990.9ZM1433.2,1029.5 1428.1,1035.7 1424.3,1041.9 1421.9,1053 1413.2,1059.2 1400.8,1063 1379.6,1060.5 1376,1065.4 1363.4,1068.1 1353.6,1070.5 1346.1,1059.2 1338.6,1051.9 1348.6,1056.8 1357.2,1058.1 1363.4,1054.3 1366,1040.6 1376,1036.9 1388.4,1032 1398.4,1025.7 1407,1015.8 1412.7,1010.1 1413.2,1009.6 1423.2,1003.4 1429.2,1002.5 1427,1004.7 1427,1012.5 1429.6,1012.5 1429.6,1002.4 1431.9,1002.1 1434.3,995.9 1443.1,989.6 1449.3,983.4 1452.9,974.8 1458,971 1461.8,977.2 1468,982.3 1472.9,989.6 1481.7,992.1 1490.5,996.5 1490.5,1002 1485.3,1004.7 1477.9,1012 1470.4,1015.8 1462.9,1017.1 1462.9,1015 1443.1,1014.5 1434.3,1017.1ZM1418.1,1017.6 1425.7,1012 1423.2,1003.9 1412.7,1010.1ZM1268.2,944.9 1264.6,944.9 1261.9,943.3 1262.5,939 1277,939ZM1191.9,981 1185.7,983.5 1181.9,977.2 1172,967.3 1164.6,954.8 1157.1,956.2 1153.4,953.5 1154.2,940 1154.4,939 1180.4,939 1181.9,940 1184.6,949.9 1185.7,958.6 1188.1,967.3 1194.4,971 1203.2,973.5 1209.4,975.9 1216.7,983.4 1216.4,983.9 1205.4,990 1200.6,990.9 1198.1,983.4 1191.9,981ZM1465.8,951.4 1464.2,948.1 1473.3,939 1477.3,939Z"/><path fill="#008080" d="M1403.3,1208.5 1413.2,1213.4 1415.7,1224.6 1405.7,1223.4 1388.4,1219.7 1370.9,1219.7 1356.1,1215.9 1338.6,1211 1323.7,1211 1306.2,1207.2 1288.9,1202.2 1276.5,1197.3 1268.5,1193.5 1277.7,1183.6 1288.9,1181.1 1301.3,1183.6 1313.8,1187.3 1326.2,1194.8 1338.6,1196 1351,1194.8 1358.5,1188.6 1370.9,1193.5 1383.3,1197.3 1392.2,1203.5ZM1405.7,1200.5 1392.2,1201 1388.4,1197.3 1398.4,1196 1408.2,1196.5ZM1219.3,1170.6 1218.9,1173.1 1216.1,1172.4 1215.6,1170ZM1315.1,1132.6 1310,1136.3 1305.1,1133.9 1305.1,1127.7 1312.5,1126.4ZM1189.5,1135.2 1187,1136.8 1180.8,1128.8 1174.6,1117.7 1178.2,1117.7 1183.2,1126.4ZM1275.2,1109.1 1281.4,1119 1288.9,1126.4 1290.1,1132.6 1281.4,1130.1 1275.2,1122.6 1265.2,1115.3ZM1163.3,1099.7 1168.4,1109.1 1167.6,1113.5 1162.7,1110.2 1159.6,1101.5ZM1251,1091.6 1255.3,1091.1 1256.1,1095.3 1251.7,1095.3ZM1156.6,1092.9 1154.7,1091.6 1154.2,1085.4 1156.6,1086.7ZM1175.7,1081.6 1167.1,1071.7 1162.2,1059.2 1155.8,1049.3 1147.1,1043.1 1139.8,1032 1131,1022 1122.3,1014.5 1112.4,1004.7 1104.8,999.6 1103.7,995.2 1109.9,993.4 1122.3,998.3 1133.6,1002.1 1140.9,1000.4 1148.5,1007.1 1154.7,1017.1 1164.6,1028.2 1174.6,1039.5 1187,1049.3 1197,1053 1204.3,1051.9 1214.3,1063 1224.2,1071.7 1229.3,1079.2 1236.7,1080.5 1242.2,1086.7 1239.1,1092.9 1244.2,1099.1 1252.8,1102.9 1255.3,1114 1259,1122.6 1266.6,1123.4 1274.1,1128.8 1277.7,1138.8 1276,1153.8 1276.5,1168.7 1275.2,1178.7 1268.5,1174.9 1261.5,1177.3 1257.1,1179.3 1249.1,1168.7 1239.1,1158.7 1229.3,1148.8 1219.3,1138.8 1209.4,1126.4 1199.4,1114 1193.2,1104 1185.7,1091.6ZM1259,1086.7 1261.5,1089.1 1256.1,1089.1 1252.8,1085.4 1254.1,1081.6ZM1449.3,1114 1448,1126.4 1443.1,1136.3 1444.3,1143.9 1433.2,1147.6 1419.4,1151.2 1415.7,1137.6 1403.3,1136.3 1399.5,1131.4 1388.4,1136.3 1374.7,1141.4 1373.4,1131.4 1361,1132.6 1348.6,1131.4 1346.1,1119 1341.2,1106.6 1334.8,1101.5 1331.2,1089.1 1328.6,1079.2 1326.2,1069.2 1329.9,1059.2 1334.8,1053 1338.6,1051.9 1346.1,1059.2 1353.6,1070.5 1363.4,1068.1 1376,1065.4 1379.6,1060.5 1400.8,1063 1413.2,1059.2 1421.9,1053 1424.3,1041.9 1428.1,1035.7 1433.2,1029.5 1434.3,1017.1 1443.1,1014.5 1462.9,1015 1462.9,1017.1 1468,1024.4 1465.5,1029.5 1469.1,1039.5 1472.9,1051.9 1480.4,1061.8 1490.5,1067.4 1490.5,1068.8 1476.6,1074.3 1470.4,1079.2 1466.7,1091.6 1462.9,1099.1 1452.9,1104ZM1229.3,1064.3 1232.9,1069.2 1229.3,1074.3 1224.2,1071.7 1222.9,1065.4ZM1257.1,1069.2 1251.7,1070.5 1249.1,1065.4 1255.3,1064.3ZM1134.7,1060.5 1139.8,1059.2 1147.1,1069.2 1146.7,1074.3 1140.9,1071.7ZM1123.6,1043.9 1122.3,1046.3 1114.8,1041.9 1112.4,1038.2 1116.1,1037.3ZM1315.1,1015.8 1317.5,1020.7 1315.1,1024.9 1312,1022.5 1311.3,1017.6ZM1462.9,1230.9 1455.5,1229.6 1454.2,1224.6 1462.9,1218.4 1472.9,1215.9 1482.8,1218.4 1490.5,1220.7 1490.5,1229 1490.3,1229.1 1477.9,1228.3ZM1451.8,1227.2 1443.1,1228.3 1441.8,1219.7 1450.5,1218.4ZM1418.1,1218.4 1428.1,1215.9 1434.3,1221 1430.6,1227.2 1421.9,1225.9ZM1490.3,1131.1 1490.5,1130.7 1490.5,1131.3Z"/><path fill="#92c5de" d="M1418.1,1017.6 1412.7,1010.1 1423.2,1003.9 1425.7,1012ZM1427,1012.5 1427,1004.7 1429.2,1002.5 1429.6,1002.4 1429.6,1012.5Z"/></g><rect x="1098.8" y="939" width="391.7" height="293.4" fill="none" stroke="#1a1a1a" stroke-width="1.6"/></g>
<g id="inA_waf"><g stroke="#333" stroke-width="1.4" stroke-linejoin="round"><path fill="#4393c3" d="M1605,966.3 1611.4,966 1614.1,963.6 1617.7,964.6 1622.4,967.3 1626.9,967.7 1631.3,967.3 1631.8,969.1 1628.7,970 1624.2,970 1619.6,967.7 1615.9,966.3 1612.3,968.2 1606.8,969.1 1606,971.9 1597.7,971.9 1595.8,971.8 1595.5,969.6 1598.7,967.7ZM1605,995.9 1606.3,997.3 1604.1,998.2 1602.3,996.9ZM1608.2,994.5 1609.7,994.2 1609.6,995.6ZM1606.8,990.9 1607.3,992.8 1605.7,992.9 1605.5,991.4ZM1625,990.5 1621.4,993.7 1617.7,999.1 1615.9,997.3 1613.3,993.7 1611.4,990.9 1609.6,988.2 1605,986.9 1603.2,984.5 1602.3,982.3 1600.5,980.4 1597.7,979.1 1596.4,977.4 1596.9,977.3 1602.3,977.7 1611.4,977.3 1620.5,977.3 1633.2,977.3 1634.1,980.9 1632.3,982.8 1633.2,986.4 1629.5,989.1ZM1663.3,1050.9 1661.5,1048.2 1664.1,1043.8 1667.8,1039.2 1671.4,1034.6 1670.6,1032.8 1672.8,1029.2 1675.1,1031 1679.6,1029.7 1682.3,1031.9 1685,1037.3 1687.8,1043.8 1692.3,1044.6 1695.9,1040.9 1700.6,1039.2 1699.6,1044.6 1697.8,1048.2 1697.4,1050.8 1697.7,1054.4 1665.1,1054.4ZM1686.8,942.6 1685.5,942.7 1679.6,943.7 1673.2,943.7 1667.8,946.4 1666,945.4 1662,941.8 1660.1,941.4 1654.3,948.6 1652.4,951.9 1652.3,951.9 1648.7,948.2 1644.1,943.7 1639.6,939.1 1639.5,939 1715.5,939 1715.5,942.6Z"/><path fill="#f7f7f7" d="M1659.6,971.9 1661.8,977.3 1662.3,980.9 1656.8,980.4 1650.5,981.4 1644.1,979.6 1638.6,977.3 1633.2,977.3 1620.5,977.3 1611.4,977.3 1602.3,977.7 1596.9,977.3 1596.4,977.4 1596.4,977.3 1596.9,975.5 1595.9,972.8 1595.5,969.6 1597.3,964.6 1596.9,961.4 1594.6,958.2 1592.2,955 1588.6,952.2 1586.8,951.9 1591.4,949.5 1595,944.6 1597.7,939.1 1597.8,939 1639.5,939 1639.6,939.1 1644.1,943.7 1648.7,948.2 1652.4,951.9 1652.7,957.3 1655,961.9 1656,968.2ZM1595.8,971.8 1597.7,971.9 1606,971.9 1606.8,969.1 1612.3,968.2 1615.9,966.3 1619.6,967.7 1624.2,970 1628.7,970 1631.8,969.1 1631.3,967.3 1626.9,967.7 1622.4,967.3 1617.7,964.6 1614.1,963.6 1611.4,966 1605,966.3 1598.7,967.7 1595.5,969.6ZM1687.8,979.6 1686,980.9 1681.4,982.1 1680.5,982.3 1675.1,983.7 1670.6,986.4 1667.8,983.7 1665.9,984.3 1663.6,982.6 1662.3,980.9 1661.8,977.3 1659.6,971.9 1656,968.2 1655,961.9 1652.7,957.3 1652.4,951.9 1654.2,948.6 1660.1,941.4 1662,941.8 1666,945.4 1667.8,946.4 1673.2,943.7 1679.6,943.7 1685.5,942.7 1686.8,942.6 1715.5,942.6 1715.5,1004.6 1710.2,1006.2 1708.7,1005.5 1705,1007.8 1704.1,1008.1 1701.4,1003.7 1700.3,1001.7 1699,998.2 1696.8,994.9 1697.8,993.7 1694.1,989.1 1692.3,984.5 1689.6,980.1 1687.8,979.6Z"/><path fill="#92c5de" d="M1702.9,1015.1 1703.2,1017.3 1705.1,1021 1704.2,1025.5 1706.9,1029.2 1702.4,1031 1701.4,1035.5 1700.6,1039.2 1695.9,1040.9 1692.3,1044.6 1687.8,1043.8 1685,1037.3 1682.3,1031.9 1679.6,1029.7 1675.1,1031 1672.8,1029.2 1672.8,1026.4 1670.6,1022.7 1669.6,1018.3 1666.9,1014.6 1664.1,1011 1658.7,1010.5 1652.4,1011.4 1646.9,1012.7 1642.3,1017.3 1638.6,1021.9 1636.8,1019.1 1634.1,1015.6 1632.3,1012.7 1629.5,1010 1625.9,1008.3 1623.2,1005.5 1620.5,1001.8 1617.7,999.1 1621.4,993.7 1625,990.5 1629.5,989.1 1633.2,986.4 1632.3,982.8 1634.1,980.9 1633.2,977.3 1638.6,977.3 1644.1,979.6 1650.5,981.4 1656.8,980.4 1662.3,980.9 1663.6,982.6 1663.6,982.5 1663.6,982.6 1665.9,984.2 1665.9,984.3 1667.8,983.7 1670.6,986.4 1675.1,983.7 1680.5,982.3 1686,980.9 1687.8,979.6 1689.6,980.1 1692.3,984.5 1694.1,989.1 1697.8,993.7 1696.8,994.9 1699,998.2 1700.3,1001.7 1701.4,1003.7 1704.2,1008.3 1702.9,1015.1ZM1652.4,1011.4 1658.7,1010.5 1664.1,1011 1666.9,1014.6 1669.6,1018.3 1670.6,1022.7 1672.8,1026.4 1672.8,1029.2 1670.6,1032.8 1671.4,1034.6 1667.8,1039.2 1664.1,1043.8 1661.5,1048.2 1655,1045.5 1650.5,1043.3 1647.7,1041.4 1645.9,1039.2 1643.2,1036.5 1641.4,1032.8 1642.3,1030 1640.5,1028.3 1640.1,1024.6 1638.6,1021.9 1642.3,1017.3 1646.9,1012.7Z"/><path fill="#d1ece8" d="M1700.6,1039.2 1701.4,1035.5 1702.4,1031 1704.9,1030 1705,1030 1706.9,1029.2 1704.2,1025.5 1705.1,1021 1703.2,1017.3 1702.9,1015.1 1704.2,1008.3 1704.1,1008.1 1705,1007.8 1708.7,1005.5 1710.2,1006.2 1715.5,1004.6 1715.5,1054.4 1697.7,1054.4 1697.4,1050.8 1697.8,1048.2 1699.6,1044.6Z"/></g><rect x="1583.5" y="939" width="132.0" height="115.4" fill="none" stroke="#1a1a1a" stroke-width="1.6"/></g>
<g id="inA_emed"><g stroke="#333" stroke-width="1.4" stroke-linejoin="round"><path fill="#008080" d="M1760.6,1006.8 1769.6,1005.2 1778,1006.5 1781.4,1006.8 1785.7,1011 1790.8,1012.8 1798.3,1012 1805.2,1012 1811.1,1010.7 1816.6,1010.2 1819.7,1019.1 1823,1029.4 1825.6,1037.3 1824.3,1039.4 1822.1,1047.1 1820.1,1054.4 1801.8,1054.4 1801,1053.1 1797.5,1047.1 1794.2,1040.4 1792,1033.1 1790.4,1031 1788.6,1032.3 1789.1,1036.2 1791.6,1042.9 1795,1049.7 1797.5,1054.4 1760.5,1054.4 1760.5,1007ZM1851.9,1034.4 1862.9,1029.7 1869.8,1021.7 1856.1,1006.8 1878.4,1002.2 1878.7,1002 1878.7,1054.4 1822.1,1054.4 1824.8,1044.6 1825,1042.9 1825.3,1042.4 1828.1,1039.4 1842.5,1041.2Z"/><path fill="#d1ece8" d="M1850.2,964 1847.6,969.9 1843.3,972.5 1841.7,976.7 1839.2,980.1 1836.6,979.6 1832.7,981.4 1830.3,980.9 1833.2,974.1 1835.8,967.3 1838.2,961.4 1840,958 1846,957.5 1848.4,959.6ZM1816.7,1010.1 1819.5,1006.1 1820.5,1005 1821.2,1006.6 1817.7,1011.5ZM1834.9,996.2 1834.1,1002.2 1832.7,1006.5 1829.9,1008.1 1826.4,1008.9 1825.6,1006.8 1828.1,1004.7 1829.9,1002.2 1827.2,999.6 1826.8,994.6 1828.1,992 1830.7,990.7 1833.6,991.5Z"/><path fill="#a3e4d7" d="M1817.7,1011.5 1821.2,1006.6 1820.5,1005 1819.5,1006.1 1819.2,1006.5 1820.5,1004.7 1823,998 1824.8,991.2 1826.4,985.2 1830.3,980.9 1832.7,981.4 1836.6,979.6 1839.2,980.1 1840.9,984.3 1840,987.8 1835.8,991.2 1834.9,996.2 1833.6,991.5 1830.7,990.7 1828.1,992 1826.8,994.6 1827.2,999.6 1829.9,1002.2 1828.1,1004.7 1825.6,1006.8 1826.4,1008.9 1829.9,1008.1 1832.7,1006.5 1831.5,1014.9 1829.9,1023.4 1827.2,1031.8 1825.9,1037.7 1825.6,1037.3 1823,1029.4 1819.7,1019.1 1816.6,1010.2 1816.7,1010.1ZM1831.5,1014.9 1832.7,1006.5 1834.1,1002.2 1834.9,996.2 1835.8,991.2 1840,987.8 1844.3,991.2 1853.5,993.3 1878.7,976.4 1878.7,1002 1878.4,1002.2 1856.1,1006.8 1869.8,1021.7 1862.9,1029.7 1851.9,1034.4 1842.5,1041.2 1828.1,1039.4 1825.3,1042.4 1825.9,1037.7 1827.2,1031.8 1829.9,1023.4ZM1853.5,993.3 1844.3,991.2 1840,987.8 1840.9,984.3 1839.2,980.1 1841.7,976.7 1843.3,972.5 1847.6,969.9 1850.2,964 1848.4,959.6 1846,957.5 1840,958 1841.3,951.2 1840.4,945.3 1839.2,939 1878.7,939 1878.7,976.4Z"/><path fill="#ffffff" d="M1788.6,950.4 1792.4,949.1 1797.5,949.9 1802.6,949.6 1807.7,951.2 1811.1,951.7 1812.8,952.2 1810.7,953.3 1807.7,953.3 1805.2,955.4 1801,957.2 1797.5,959.6 1794.2,957.5 1789.9,956.7 1787.3,954.6 1786.5,952.5Z"/></g><rect x="1760.5" y="939" width="118.2" height="115.4" fill="none" stroke="#1a1a1a" stroke-width="1.6"/></g>
<g id="inA_neu"><g stroke="#333" stroke-width="1.4" stroke-linejoin="round"><path fill="#a3e4d7" d="M1764.1,1231.6 1769.8,1229 1775.4,1228.1 1779.7,1229.9 1782.8,1233.2 1761.2,1233.2ZM1715.4,1167.9 1720.5,1167.4 1720,1170.3 1716,1169.3ZM1736.6,1164.5 1738.9,1165 1738.3,1166.4ZM1724.6,1156.4 1724.6,1160.7 1722.3,1166.4 1716.5,1164.5 1716,1159.8 1720,1156.9ZM1706.5,1167.9 1701.9,1167.4 1698.8,1161.2 1699.1,1151.2 1701.6,1146.4 1713.1,1140.2 1711.4,1151.2 1714.8,1153.1 1710.8,1158.8 1709.1,1161.7 1714.2,1161.7 1713.7,1166 1709.1,1165.5 1708.6,1162.4 1707.4,1164.5ZM1725.7,1231.8 1729.1,1229.4 1731.4,1226 1736.6,1227.5 1738.3,1223.7 1744.6,1226 1749.5,1227.5 1749.8,1229.1 1749.6,1229.4 1749.9,1233.2 1726,1233.2ZM1698.2,1136.9 1690.2,1136.9 1685.4,1130.5 1705.9,1130.5Z"/><path fill="#d1ece8" d="M1778.3,1221.9 1779,1222.2 1781.6,1222.7 1780.2,1226.7 1779.7,1229.9 1775.4,1228.1 1769.8,1229 1764.1,1231.6 1761.2,1233.2 1749.9,1233.2 1749.6,1229.4 1749.8,1229.1 1749.5,1227.5 1750.9,1225.1 1756.1,1222.7 1760.4,1218.9 1765.3,1221.5 1765.5,1221.5 1765.5,1221.6 1766.5,1221.7 1766.5,1221.6 1772.1,1220.8 1772.5,1220.9 1774.1,1220.2 1778.3,1221.9ZM1789.3,1188.4 1787,1176.5 1792.2,1176.9 1799,1174.1 1800.2,1167.4 1804.8,1165.5 1804.8,1159.8 1807.7,1159.3 1807.7,1198.7 1797.3,1196 1787.6,1199.8 1787.6,1194.1 1785.3,1192.2Z"/><path fill="#f7f7f7" d="M1805.2,1231.6 1807.4,1229.4 1807.7,1229.4 1807.7,1233.2 1807.2,1233.2ZM1689.6,1216 1688.7,1219.4 1685.6,1218.4 1685.3,1215.1 1687.6,1212.7Z"/><path fill="#76a98a" d="M1805.2,1231.6 1807.2,1233.2 1801.8,1233.2ZM1685.9,1203.2 1685,1206.5 1686.7,1207 1689,1210.8 1687.6,1212.7 1685.3,1215.1 1685.6,1218.4 1680.4,1216 1680.2,1213.4 1680.2,1200.4 1681,1200.3ZM1686.7,1196.5 1687.9,1200.8 1686.7,1207 1685,1206.5 1685.9,1203.2 1681,1200.3 1680.2,1200.4 1680.2,1185.5 1683.3,1183.6 1691.9,1181.7 1693.6,1182.7 1692.7,1191.2 1691.3,1195.5ZM1749.2,1212.2 1753.8,1211.3 1760.4,1218.9 1756.1,1222.7 1750.9,1225.1 1749.5,1227.5 1744.6,1226 1738.3,1223.7 1736.6,1227.5 1731.4,1226 1724,1215.1 1722.8,1212.2 1726.8,1209.8 1734.3,1204.1 1737.2,1206 1740,1206.5 1745.8,1207.9ZM1779.7,1229.9 1779.7,1229.8 1780.2,1226.7 1781.6,1222.7 1782.4,1217.9 1789.9,1208.4 1787.6,1199.8 1797.3,1196 1807.7,1198.7 1807.7,1229.5 1807.4,1229.4 1807.3,1229.4 1806.6,1230.1 1806.7,1230.1 1806.6,1230.1 1805.2,1231.6 1801.8,1233.2 1782.8,1233.2ZM1749.2,1144.5 1750.3,1144 1746.3,1155 1746.3,1152.1ZM1757.2,1147.9 1756.1,1147.4 1760.1,1138.8 1762.4,1138.8 1760.1,1144.5ZM1747.5,1133.1 1747.5,1143.6 1744,1155 1736.6,1156 1733.7,1162.6 1726.8,1162.6 1724,1154.1 1721.1,1140.7 1717,1130.5 1750.4,1130.5Z"/><path fill="#008080" d="M1680.4,1216 1685.6,1218.4 1688.7,1219.4 1692.5,1221.8 1699.3,1223.7 1696.9,1233.2 1680.2,1233.2 1680.2,1213.4ZM1736,1189.8 1736.9,1194.6 1738.3,1204.6 1737.2,1206 1734.3,1204.1 1726.8,1209.8 1722.8,1212.2 1724,1215.1 1731.4,1226 1729.1,1229.4 1725.7,1231.8 1726,1233.2 1696.9,1233.2 1699.3,1223.7 1692.5,1221.8 1688.7,1219.4 1689.6,1216 1687.6,1212.7 1689,1210.8 1686.7,1207 1687.9,1200.8 1686.7,1196.5 1691.3,1195.5 1692.7,1191.2 1693.6,1182.7 1698.8,1179.8 1701.6,1176.9 1703.4,1176 1701.9,1167.4 1706.5,1167.9 1709.7,1171.2 1715.4,1172.2 1714.8,1176.5 1721.7,1174.1 1729.1,1170.3 1733.7,1176.9 1734.9,1182.7 1733.4,1187ZM1789.3,1188.4 1785.3,1192.2 1787.6,1194.1 1787.6,1199.8 1789.9,1208.4 1782.4,1217.9 1781.6,1222.7 1779,1222.2 1778.3,1221.9 1774.1,1220.2 1772.5,1220.9 1772.1,1220.8 1766.5,1221.7 1765.5,1221.6 1765.3,1221.5 1760.4,1218.9 1753.8,1211.3 1749.2,1212.2 1745.8,1207.9 1740,1206.5 1737.2,1206 1738.3,1204.6 1736.9,1194.6 1736,1189.8 1733.4,1187 1734.9,1182.7 1733.7,1176.9 1745.2,1173.1 1757.8,1168.4 1759.5,1172.2 1764.7,1171.7 1783,1172.6 1787,1176.5ZM1783,1172.6 1764.7,1171.7 1767,1166.9 1773.3,1163.6 1778.4,1165.5 1783,1167.4Z"/><path fill="#92c5de" d="M1804.8,1159.8 1804.8,1165.5 1800.2,1167.4 1799,1174.1 1792.2,1176.9 1787,1176.5 1783,1172.6 1783,1167.4 1778.4,1165.5 1773.3,1163.6 1773,1156 1778.4,1153.1 1795,1153.1ZM1807.7,1142.3 1807.7,1159.3 1804.8,1159.8 1795,1153.1 1778.4,1153.1 1773,1156 1772.7,1147.4 1776.1,1142.1 1781.9,1140.2 1785.3,1146.4 1790.5,1146.9 1792.2,1138.8 1797.3,1137.8 1804.2,1142.6ZM1778.4,1137.8 1777.8,1135 1785.3,1132.1 1783.6,1135.9ZM1787,1132.1 1787,1130.5 1807.7,1130.5 1807.7,1142.3 1804.2,1142.6 1797.3,1137.8 1792.2,1138.8ZM1780.1,1130.7 1780,1130.5 1783.6,1130.5 1783.6,1130.7Z"/></g><rect x="1680.2" y="1130.5" width="127.5" height="102.7" fill="none" stroke="#1a1a1a" stroke-width="1.6"/></g>
<text x="236.9" y="923.1" font-size="23" text-anchor="middle">Caribbean and central America</text><text x="630.5" y="923" font-size="23" text-anchor="middle">Persian Gulf</text><text x="922" y="923" font-size="23" text-anchor="middle">Balkan Peninsula</text><text x="1282.2" y="925.4" font-size="23" text-anchor="middle">Southeast Asia</text><text x="1648.4" y="926.5" font-size="23" text-anchor="middle">West Africa</text><text x="1821" y="900.8" font-size="23" text-anchor="middle">Eastern</text><text x="1821.7" y="925.8" font-size="23" text-anchor="middle">Mediterranean</text><text x="1744.3" y="1116.7" font-size="23" text-anchor="middle">Northern Europe</text>
<g id="mapB"><g stroke="#333" stroke-width="1.15" stroke-linejoin="round"><path fill="#2166ac" d="M907.5,1768.9 910,1768.3 912.7,1768.2 913.7,1767.2 915.2,1767.6 917.1,1768.7 918.9,1768.9 920.7,1768.7 920.9,1769.4 919.7,1769.8 917.8,1769.8 916,1768.9 914.5,1768.3 913,1769.1 910.8,1769.4 910.4,1770.6 907.1,1770.6 906.3,1770.6 906.2,1769.6ZM930.7,1769.1 932.2,1770.6 933.1,1772.8 933.3,1774.3 931.1,1774.1 928.5,1774.5 925.9,1773.7 923.7,1772.8 921.5,1772.8 916.3,1772.8 912.7,1772.8 909,1773 906.7,1772.8 906.6,1772.9 906.5,1772.8 906.7,1772.1 906.3,1771 906.2,1769.6 906.9,1767.6 906.7,1766.3 905.8,1765 904.9,1763.6 903.4,1762.5 902.6,1762.4 904.5,1761.4 906,1759.4 907.1,1757.1 907.5,1756 907.6,1755.5 907.7,1755.5 907.8,1755.5 915.2,1752.5 918.6,1753 923.1,1755.5 924.1,1757.1 925.9,1759 927.8,1760.8 929.3,1762.4 929.4,1764.6 930.3,1766.5ZM906.3,1770.6 907.1,1770.6 910.4,1770.6 910.8,1769.4 913,1769.1 914.5,1768.3 916,1768.9 917.8,1769.8 919.7,1769.8 920.9,1769.4 920.7,1768.7 918.9,1768.9 917.1,1768.7 915.2,1767.6 913.7,1767.2 912.7,1768.2 910,1768.3 907.5,1768.9 906.2,1769.6ZM909,1780.9 910,1780.5 910.6,1781 909.7,1781.4ZM911.9,1780.4 911.3,1779.9 912,1779.7ZM910.2,1778.6 910.8,1778.4 911,1779.2 910.3,1779.2ZM920,1777.7 918.2,1778.2 916.7,1779.5 915.2,1781.8 914.5,1781 913.4,1779.5 912.7,1778.4 911.9,1777.3 910,1776.7 909.3,1775.8 909,1774.9 908.2,1774.1 907.1,1773.5 907.1,1773.6 907.1,1773.5 906.6,1772.9 906.7,1772.8 909,1773 912.7,1772.8 916.3,1772.8 921.5,1772.8 921.9,1774.3 921.1,1775.1 921.5,1776.5ZM949.8,1788.3 949.8,1788.4 949.9,1789.2 950.7,1790.8 950.3,1792.6 951.4,1794.1 949.6,1794.9 949.2,1796.7 948.8,1798.2 947,1798.9 945.5,1800.5 943.7,1800.1 942.5,1797.5 941.4,1795.2 940.3,1794.3 938.5,1794.9 937.5,1794.1 937.5,1793 936.7,1791.5 936.3,1789.6 935.2,1788.1 934,1786.7 931.8,1786.4 929.3,1786.8 927,1787.4 925.2,1789.2 923.7,1791.1 923,1790 921.9,1788.5 921.1,1787.4 920,1786.2 918.5,1785.5 917.4,1784.4 916.3,1782.9 915.2,1781.8 916.7,1779.5 918.2,1778.2 920,1777.7 921.5,1776.5 921.1,1775.1 921.9,1774.3 921.5,1772.8 923.7,1772.8 925.9,1773.7 928.5,1774.5 931.1,1774.1 933.3,1774.3 933.8,1775 934.8,1775.7 935.5,1775.4 936.7,1776.5 938.5,1775.4 940.7,1774.9 942.9,1774.3 943.7,1773.7 944.4,1774 945.5,1775.8 946.2,1777.7 947.7,1779.5 947.3,1780.1 948.2,1781.4 948.7,1782.8 949.2,1783.7 950.3,1785.5 949.8,1788.3ZM927,1787.4 929.3,1786.8 931.8,1786.4 934,1786.7 935.2,1788.1 936.3,1789.6 936.7,1791.5 937.5,1793 937.5,1794.1 936.7,1795.6 937,1796.4 935.5,1798.2 934,1800.1 933,1801.9 930.3,1800.8 928.5,1799.9 927.4,1799.1 926.6,1798.2 925.6,1797.1 924.8,1795.6 925.2,1794.5 924.4,1793.8 924.3,1792.2 923.7,1791.1 925.2,1789.2ZM947.7,1804.8 951.6,1808.3 952.1,1815.2 951.1,1815.2 944.7,1811.9 939.8,1807.6 935.9,1805.3 934.4,1804.5 933.7,1803.1 933,1801.9 934,1800.1 935.5,1798.2 937,1796.4 936.7,1795.6 937.5,1794.1 938.5,1794.9 940.3,1794.3 941.4,1795.2 942.5,1797.5 943.7,1800.1 945.5,1800.5 947,1798.9 948.8,1798.2 948.4,1800.5 947.7,1801.9 947.6,1803ZM962,1758.6 943.3,1758.6 942.7,1758.6 940.3,1759 937.7,1759 935.5,1760.1 934.8,1759.7 933.2,1758.3 932.4,1758.1 930,1761 929.3,1762.4 927.8,1760.8 925.9,1759 924.1,1757.1 923.1,1755.5 918.6,1753 915.2,1752.5 907.8,1755.5 907.7,1755.5 910.2,1745.4 909.3,1740.3 907.8,1738.7 909,1735.2 905.1,1731.6 905.6,1728.9 914.2,1728.9 925,1728.9 925,1720.5 930,1718.2 930,1707.8 934.9,1705.2 946.4,1705.2 946.4,1700.1 946.4,1698.6 965.3,1710.3 957.1,1710.3 962,1758.6ZM948.4,1800.5 948.8,1798.2 949.2,1796.7 949.6,1794.9 950.6,1794.4 951.4,1794.1 950.3,1792.6 950.7,1790.8 949.9,1789.2 949.8,1788.3 950.3,1785.5 950.3,1785.4 950.6,1785.3 952.1,1784.4 952.7,1784.7 958.5,1782.9 962,1784.5 966.4,1788 974.3,1787 975.3,1786.5 975.8,1789 976.8,1795.6 973.3,1802.8 973.8,1811.4 969.4,1810.6 964.5,1811.4 959.5,1812.2 952.1,1815.2 951.6,1808.3 947.7,1804.8 947.6,1803 947.7,1801.9ZM992.1,1795.6 991.1,1792.6 991.1,1786.5 989.1,1783.5 988.4,1780.9 993.5,1781.4 993,1784.5 996,1789 997,1791.6 997.2,1805.8 997.2,1805.9 995,1806.3 991.6,1802.8ZM995,1806.3 997.2,1805.9 997.2,1805.8 997,1791.6 996,1789 993,1784.5 993.5,1781.4 996,1779.4 1000.9,1776.8 1000.9,1774.8 1003.1,1774.3 1006.8,1777.9 1006.8,1786.5 1002.4,1791.6 1002.7,1797.7 1002.4,1805 1000.9,1805.3 995,1806.3ZM967.4,1776.3 967.9,1770.8 974.3,1768.2 979.2,1765.2 985.6,1760.6 990.1,1761.6 991.1,1766.2 994,1769.2 999.9,1774.3 1000.9,1774.8 1000.9,1776.8 996,1779.4 993.5,1781.4 988.4,1780.9 975.3,1781.4 974.8,1784.5 975.2,1786.5 974.3,1787 966.4,1788 962,1784.5 963,1778.4ZM1002.4,1791.6 1006.8,1786.5 1006.8,1777.9 1008.8,1768.7 1016.2,1766.7 1022.6,1770.8 1028.5,1769.7 1035.9,1772.3 1041.8,1769.2 1050.7,1770.8 1056.1,1767.7 1058.6,1770.8 1059.1,1773.8 1061.1,1778.9 1057.1,1781.4 1052.2,1792.6 1049.2,1794.6 1047.3,1801.7 1043.3,1804.3 1038.9,1802.2 1034.4,1804.8 1031.5,1812.9 1031,1814.2 1026.1,1814.7 1023.6,1814.9 1019.2,1815.5 1015.7,1811.4 1013.7,1807.3 1010.8,1805.3 1005.9,1804.8 1002.4,1805 1002.7,1797.7ZM1034.4,1804.8 1038.9,1802.2 1043.3,1804.3 1047.3,1801.7 1049.2,1794.6 1052.2,1792.6 1057.1,1781.4 1061.1,1778.9 1059.1,1773.8 1058.6,1770.8 1062.5,1772.3 1063,1775.8 1063,1781.9 1065.5,1786.5 1058.1,1787 1057.9,1788.5 1064,1796.7 1065.5,1799.2 1061.6,1803.3 1060.6,1807.3 1061.1,1811.9 1063,1816.5 1067.5,1822.1 1068.9,1826.1 1068.5,1828.7 1060.6,1826.1 1054.2,1826.1 1045,1825.6 1037.4,1825.6 1037.9,1822.3 1036.4,1819 1036.9,1816.7 1033.5,1817 1031,1814.2 1031.5,1812.9ZM1159.2,1888.1 1159.6,1896.2 1161.1,1905.9 1165.6,1911.5 1166.1,1918.6 1163.1,1924.2 1158.2,1917.6 1159.6,1915 1158.7,1910.5 1152.7,1908.4 1150.3,1906.4 1152.7,1900.8 1153.2,1892.2 1151.5,1885.1 1156.7,1885.6ZM1146.8,1968.9 1146.3,1960.7 1143.4,1951.1 1148.8,1945.5 1149.3,1941.9 1151.8,1937.9 1150.3,1933.3 1151.8,1928.2 1151.3,1922.1 1143.4,1918.6 1138.9,1916.5 1138,1912.5 1152.7,1908.4 1158.7,1910.5 1159.6,1915 1158.2,1917.6 1163.1,1924.2 1166.1,1918.6 1165.6,1911.5 1161.1,1905.9 1159.6,1896.2 1161.4,1896.1 1165.6,1895.2 1173.9,1896.7 1178.9,1895.2 1188.5,1890.6 1189.4,1892.7 1188.7,1901.3 1188.7,1903.3 1189.2,1909.4 1190,1913.5 1188.7,1918.6 1185.8,1921.1 1181.8,1923.2 1176.9,1925.2 1171.5,1928.2 1168,1932.8 1163.6,1936.9 1160.9,1938.1 1160.1,1941.4 1162.1,1945.5 1164.1,1949.6 1164.3,1954.6 1164.1,1958.7 1162.6,1961.8 1157.7,1963.5 1151.8,1966.1 1149.8,1969.1 1151.3,1973.7 1147.3,1973.7 1146.8,1969.4 1146.8,1968.9ZM1191.2,1822.8 1195.6,1817.2 1196.1,1816 1203.5,1812.9 1210.9,1811.9 1225.7,1796.7 1220.8,1796.7 1206,1791.6 1201,1786.5 1199.6,1783.5 1200.6,1781.7 1202.3,1779.1 1203.5,1779.6 1210.9,1784.2 1218.3,1782.9 1225.7,1780.9 1231.6,1779.9 1237,1777.9 1241,1776.3 1241.9,1777.2 1241,1780.4 1241,1784.2 1240,1785.5 1239.5,1789.5 1236,1796.2 1234.6,1799.2 1231.1,1805.3 1228.6,1810.4 1224.2,1816 1218.8,1822.6 1212.6,1827 1206.5,1832 1201.5,1835.8 1198.8,1839.1 1194.1,1845.7 1191.2,1841.4ZM1194.6,1768.7 1190.7,1765.7 1186.3,1763.6 1181.3,1763.1 1175.9,1761.6 1174.4,1765.2 1168.5,1764.1 1168.5,1761.1 1171,1755 1171.5,1750.9 1175.9,1748.9 1179.4,1745.9 1183.5,1758.1 1186.8,1761.1 1192.2,1763.6 1198.1,1770.2 1201.5,1772.8 1198.1,1773.8ZM1116.3,1784.5 1120.2,1789 1126.6,1788.5 1131.5,1789.5 1134.5,1787.5 1137,1785 1143.4,1787.5 1148.8,1777.9 1148.3,1776.3 1152.7,1775.3 1152.2,1782.9 1156.2,1789 1157.2,1789 1157.2,1793.6 1151.8,1797.2 1156.7,1800.7 1160.1,1803.8 1163.1,1809.4 1166.1,1813.9 1156.7,1816 1151.8,1817.7 1146.8,1819 1142.9,1818 1141.2,1819.5 1134.5,1813.9 1129.1,1815.5 1124.2,1811.4 1119.2,1803.8 1113.3,1797.7 1108.4,1793.1 1111.3,1787.5ZM1175.9,1761.6 1181.3,1763.1 1186.3,1763.6 1190.7,1765.7 1194.6,1768.7 1198.1,1773.8 1194.9,1778.4 1195.1,1781.4 1200.6,1781.7 1199.6,1783.5 1201,1786.5 1206,1791.6 1220.8,1796.7 1225.7,1796.7 1210.9,1811.9 1203.5,1812.9 1196.1,1816 1195.6,1817.2 1190.2,1816 1183.8,1819.8 1176.9,1819 1171,1814.9 1166.5,1814.7 1166.1,1813.9 1163.1,1809.4 1160.1,1803.8 1156.7,1800.7 1151.8,1797.2 1157.2,1793.6 1157.2,1789 1158.2,1783.5 1161.1,1781.9 1162.1,1777.4 1167,1772.8 1168.5,1764.1 1174.4,1765.2ZM1107.4,1757.5 1102,1757.5 1099.5,1766.2 1097.5,1772.8 1100,1776.3 1102,1781.9 1096.1,1783.5 1089.7,1791.1 1082.8,1791.6 1077.8,1796.7 1070.4,1798.2 1065.5,1799.2 1064,1796.7 1057.9,1788.5 1058.1,1787 1065.5,1786.5 1063,1781.9 1063,1775.8 1062.5,1772.3 1058.6,1770.8 1056.1,1767.7 1055.6,1764.1 1065.5,1751.4 1067.5,1733.7 1063,1720.5 1107.4,1738.2ZM1063,1720.5 1067.5,1733.7 1065.5,1751.4 1055.6,1764.1 1056.1,1767.7 1050.7,1770.8 1041.8,1769.2 1035.9,1772.3 1028.5,1769.7 1022.6,1770.8 1016.2,1766.7 1008.8,1768.7 1006.8,1777.9 1003.1,1774.3 1000.9,1774.8 999.9,1774.3 994,1769.2 991.1,1766.2 990.1,1761.6 999,1759.6 1006.4,1759.1 1009.8,1754 1010,1740 1017.7,1738.5 1026.1,1731.4 1048.2,1717.9 1059.1,1722.5ZM574,1725.3 575.6,1723.3 578.7,1721.3 582.9,1720.1 586,1719.7 590.1,1720.8 594.3,1722.3 598.4,1723.3 601,1724.3 604.6,1726.4 608.8,1728.4 611.9,1730.5 616.1,1732 620.3,1733.6 623.9,1734.8 622.3,1735.8 618.1,1736.4 613,1736.8 607.8,1736.8 607,1736.1 609.3,1734.1 607.8,1732.8 604.6,1732.5 603.1,1728.9 599.5,1727.9 595.3,1727.4 590.1,1725.8 588.6,1724.1 586,1723.8 583.9,1723.3 580.7,1722.8 577.6,1723.8 575,1725.5 572.5,1727 571.9,1726.4ZM581.8,1726.4 583,1727.2 582.6,1728.6 580.7,1728.6 580.2,1727.4ZM1496.8,1765.2 1507.6,1764.7 1511.6,1766.2 1519.2,1762.6 1519,1774.8 1511.1,1778.4 1512.6,1782.4 1507.1,1781.9 1504.2,1784.5 1499.3,1783.5 1496.8,1778.9 1496.3,1778.1 1493.8,1768.2ZM1484.6,1804.8 1482.7,1805.6 1481.6,1803.7 1478.6,1800.6 1476.4,1796.7 1474.1,1797.1 1473,1796.3 1473.2,1792.1 1474.6,1787 1478.1,1778.9 1478.1,1771.3 1473.1,1760.6 1475.6,1754.5 1469.2,1743.3 1471.2,1743.3 1476.6,1737 1482.5,1733.9 1484.5,1738.2 1488.4,1738.2 1486.9,1748.4 1492.4,1744.8 1498.8,1743.8 1505.2,1748.9 1505.7,1754 1509.6,1758.1 1509.1,1764.1 1507.6,1764.7 1496.8,1765.2 1493.8,1768.2 1496.3,1778.1 1492.8,1775.3 1486.9,1773.3 1486.4,1769.2 1484.5,1768.7 1482,1769.7 1481.8,1776.3 1478.1,1784.5 1478.5,1790.1 1481.6,1792.1 1482.4,1795.2 1482.7,1797.9 1483.5,1800.6 1485.4,1801.7 1488,1802.5 1489.9,1803.3 1492.1,1805.6 1492,1805.7 1488.7,1807.6 1487.2,1807.9 1486.5,1805.6 1484.6,1804.8Z"/><path fill="#f7f7f7" d="M980.7,1666.1 983.2,1672.2 982.7,1674.2 974.3,1676.3 971.1,1680.3 964.5,1684.9 961,1686.9 954.1,1687.4 946.4,1691.5 946.4,1696.7 924.7,1696.7 925.5,1695.3 931.4,1693.5 934.4,1691 938.8,1687.9 941.5,1682.9 940.3,1681.9 940.8,1677.3 943.5,1673.2 947.2,1668.4 951.6,1666.6 955.3,1664.3 958,1659 960,1655.4 963,1654.9 967.9,1658.5 974.3,1658 978.3,1659 980.2,1662.5ZM946.4,1700.1 941.8,1702.2 934.9,1705.2 930,1707.8 925,1715.4 920.6,1719.4 917.1,1726.6 914.2,1728.9 905.6,1728.9 905.1,1731.6 905.3,1728.6 905.8,1724.5 908.8,1720.5 910.7,1716.9 915.2,1712.8 917.6,1704.7 921.1,1702.2 923.1,1699.6 924.7,1696.7 946.4,1696.7ZM1029.5,1659.5 1026.1,1664.6 1026.6,1668.1 1030.5,1672.2 1033.7,1674.2 1035.9,1683.4 1037.9,1690 1037.4,1695.1 1038.1,1702.7 1035.4,1704.7 1038.4,1712.8 1046.3,1714.9 1048.2,1717.9 1026.1,1731.4 1017.7,1738.5 1010,1740 1004.9,1740.8 1005.4,1736.7 998,1734.2 995,1730.1 965.3,1710.3 946.4,1698.6 946.4,1696.7 946.4,1691.5 954.1,1687.4 961,1686.9 964.5,1684.9 971.1,1680.3 974.3,1676.3 982.7,1674.2 983.2,1672.2 980.7,1666.1 980.2,1662.5 978.3,1659 984.2,1655.9 989.6,1654.4 995.5,1651.9 1004.2,1650.4 1013.7,1650.4 1023.1,1649.3 1027.5,1649.8 1031.5,1649.6 1030,1654.4ZM1112.3,1689 1112.3,1735.7 1107.4,1735.7 1107.4,1738.2 1063,1720.5 1059.1,1722.5 1048.2,1717.9 1046.3,1714.9 1038.4,1712.8 1035.4,1704.7 1038.1,1702.7 1037.4,1695.1 1037.9,1690 1035.9,1683.4 1039.9,1680.3 1039.9,1676.3 1045.8,1672.7 1045.8,1668.9 1054.2,1670.2 1064,1672.7 1070.9,1678.8 1077.8,1680.8 1083.2,1683.4 1087.9,1680.3 1087.9,1674.2 1095.1,1670.2 1100.5,1670.7 1107.4,1674.7 1113.1,1676.8 1110.8,1684.9ZM1112.3,1689 1110.8,1684.9 1113.1,1676.8 1123.2,1677.8 1132,1680.6 1136.5,1678.8 1137.7,1677.3 1140.9,1676.8 1143.9,1677.2 1145.2,1677.3 1146.7,1678.7 1148.5,1679.2 1151.2,1679 1153.7,1679 1155.8,1678.5 1157.8,1678.4 1158.9,1681.2 1160,1684.4 1161,1686.9 1160.5,1687.5 1159.7,1689.9 1159,1692.2 1157.9,1696.4 1154.7,1695.1 1152.4,1692.2 1152.2,1691.8 1150.9,1689.9 1149.7,1687.8 1148.9,1685.6 1148.4,1684.9 1147.7,1685.3 1147.9,1686.5 1148.8,1688.6 1150,1690.7 1150.9,1692.2 1153.2,1695.6 1154.7,1696.1 1155.9,1699.1 1158.7,1705.2 1164.1,1715.4 1164.1,1715.9 1171,1725.5 1112.3,1725.5ZM1130.6,1982.6 1134.3,1986.7 1132.5,1989.4 1128.6,1991.2 1127.6,1993 1124.2,1991.2 1122.2,1987.7 1125.6,1984.1ZM1143.9,1967.9 1146.8,1969.4 1147.3,1973.7 1143.4,1976 1141.7,1975.5 1140.9,1973.4 1141.9,1968.9ZM1171.5,1750.9 1171,1755 1168.5,1761.1 1168.5,1764.1 1167,1772.8 1162.1,1777.4 1161.1,1781.9 1158.2,1783.5 1157.2,1789 1156.2,1789 1152.2,1782.9 1152.7,1775.3 1148.3,1776.3 1148.8,1777.9 1143.4,1787.5 1137,1785 1134.5,1787.5 1131.5,1789.5 1126.6,1788.5 1120.2,1789 1116.3,1784.5 1111.3,1787.5 1108.4,1793.1 1104.9,1792.1 1105.4,1787 1102,1781.9 1100,1776.3 1097.5,1772.8 1099.5,1766.2 1102,1757.5 1107.4,1757.5 1107.4,1738.2 1107.4,1735.7 1112.3,1735.7 1112.3,1725.5 1171,1725.5 1172.5,1730.6 1172.5,1737.7 1173.7,1742.8 1179.4,1745.9 1175.9,1748.9ZM607.1,1799.5 608.6,1796.9 608.1,1794.1 610.4,1796.5 611.9,1795 614,1792.4 617.1,1789.9 617.7,1786.8 620.3,1783.7 623.4,1781.7 626.5,1780.7 629.6,1779.6 633.2,1776.5 635.8,1774.5 637.9,1774.5 638.7,1776 637.4,1778.6 635.8,1780.2 636,1780.3 635.8,1780.5 633.2,1782.7 630.7,1785.3 629.6,1788.3 628.5,1790.9 631.7,1792.4 633.2,1795 632.7,1799.7 634.2,1801.7 643.6,1801.7 647,1806.3 656.4,1805.8 654.7,1814.4 657.4,1820 654.7,1823.1 657.9,1825.6 659.3,1831.2 658.4,1828.7 653.9,1828.7 645.1,1828.7 644.8,1831.7 648,1832.2 647,1834.3 643.8,1834.5 643.8,1838.3 647,1842.9 644.3,1858.6 640.6,1856.6 643.8,1851 629.8,1849.5 628.3,1846.4 622.4,1839.8 617.9,1837.8 613,1835.3 607.6,1835.3 605.1,1833.2 600.4,1830.2 600.7,1828.2 607.1,1824.1 608.6,1818 607.6,1809.4 607.8,1802.8 605.4,1800.5ZM689.9,1799.7 687.9,1803.3 686.5,1807.1 689.9,1810.9 686.5,1814.4 679.6,1817 673.6,1816.5 670.7,1816.5 672.7,1824.6 676.6,1826.1 673.6,1827.6 666.3,1833.2 662.3,1833.5 659.3,1831.2 657.9,1825.6 654.7,1823.1 657.4,1820 654.7,1814.4 656.4,1805.8 647,1806.3 643.6,1801.7 634.2,1801.7 632.7,1799.7 633.2,1795 631.7,1792.4 628.5,1790.9 629.6,1788.3 630.7,1785.3 633.2,1782.7 635.8,1780.5 636,1780.3 635.8,1780.2 635.8,1780.1 636.9,1781.7 638.9,1780.7 642,1779.6 643.6,1778.1 644.2,1776 645.2,1776 645.7,1778.6 647.3,1779.1 650.4,1779.6 652.4,1781.7 654,1783.7 659.7,1783.7 666,1784.2 669.1,1785.8 672.2,1784.8 675.9,1783.2 679.5,1782.7 681.6,1784.2 684.7,1784.8 681.6,1785.3 683.6,1787.3 686.8,1788.8 689.9,1790.9 688.8,1793.5 693,1794 694.1,1794.5 692.5,1796 690.9,1798.1ZM635.3,1789.9 637.4,1790.9 638.9,1789.3 638.9,1785.8 637.4,1783.2 636.4,1781.7 635.9,1781.9 635.3,1784.2 634.3,1787.3ZM1070,1607.5 1073,1607.7 1077.3,1607.9 1081,1608.4 1082.8,1609.4 1083.7,1611.2 1085.2,1613.1 1084.6,1614.9 1085.2,1616.1 1082.8,1616.3 1081,1618.2 1080.3,1621 1079.2,1620.3 1076.1,1618.2 1073,1616.1 1070.6,1614 1068.2,1611.7 1066.9,1609.4 1067.5,1607.9ZM1091.9,1617.7 1094.1,1619.1 1095.9,1620.5 1095.3,1621.9 1093.8,1622.6 1091.3,1623.3 1089.5,1621.9 1088.3,1621 1089.2,1619.6 1090.7,1618ZM1069.7,1601 1071.8,1602.4 1075.5,1604.2 1079.2,1604.7 1082.5,1604.2 1083.4,1606.6 1084.6,1607.9 1082.8,1609.4 1081,1608.4 1077.3,1607.9 1073,1607.7 1070,1607.5 1067.5,1607.9 1066.9,1609.4 1068.2,1611.7 1070.6,1614 1073,1616.1 1076.1,1618.2 1079.2,1620.3 1080.3,1621 1080.2,1621.4 1080.3,1621.4 1077.9,1621 1074.3,1619.6 1070.6,1617.7 1067.5,1615.9 1065.1,1614 1062.6,1611.7 1060.8,1609.4 1058.7,1607.7 1057.8,1609.4 1056.2,1606.1 1057.2,1605.7 1060.2,1606.1 1062.6,1605.7 1065.1,1605.2 1066.3,1603.3 1068.2,1602.1ZM1119.7,1545.2 1123.9,1544.9 1126.6,1546.7 1128.1,1552.1 1125.1,1553.8 1120.2,1554.3 1111.8,1550.8 1097.5,1550.8 1092.9,1552.3 1092.6,1547.7 1095.6,1544.9 1100.5,1543.9 1103.5,1547.2 1107.9,1547.5 1109.4,1543.2 1113.8,1542.7ZM1103.5,1571.6 1106.9,1569.6 1104.9,1563.2 1109.4,1563.5 1115.3,1562 1116.3,1558.4 1120.2,1557.4 1120.2,1554.3 1125.1,1553.8 1128.1,1552.1 1134,1553.1 1141.4,1554.9 1140.9,1558.9 1145.8,1563 1150.3,1565.8 1143.9,1567 1145.8,1572.6 1139.9,1576.7 1133.5,1576.2 1123.2,1575.2 1113.8,1573.6 1105.4,1575.7 1105.4,1572.6ZM1192.2,1656.5 1193.2,1651.9 1197.8,1648.8 1209.9,1648.6 1212.9,1654.4 1216.8,1655.9 1212.9,1664.6 1215.8,1669.7 1224.7,1675.8 1224.1,1677.4 1224.2,1679.4 1225.6,1679.5 1225.7,1682.5 1227.2,1683.6 1228.1,1684.8 1227.5,1685.2 1225.6,1685.2 1225.1,1684.7 1223.4,1684.3 1222,1684.5 1221,1685.2 1218.7,1689.3 1209.4,1689 1196.6,1679.3 1188.2,1675 1182.3,1674 1180.3,1667.6 1191.2,1662.5ZM1205.5,1620.9 1212.4,1621.4 1218.1,1624.4 1218.8,1628 1210.9,1627.5 1204,1628.5 1198.6,1626.7 1193.7,1626.5 1194.6,1623.4 1191.2,1618.9 1186.3,1616.8 1198.6,1617.8ZM1222.2,1594.5 1226.7,1595 1218.3,1591.4 1220.8,1587.4 1219.8,1586.9 1223.2,1581 1229.1,1583.8 1229.1,1580.3 1239.5,1574.7 1252.3,1575.7 1257.7,1578.2 1267.6,1578.2 1277.4,1577.7 1282.9,1580.5 1291.7,1579.2 1292.7,1576.7 1284.8,1573.1 1289.8,1571.6 1288.8,1568.6 1293.2,1568.1 1289.8,1563.5 1309.5,1561.2 1325.3,1557.9 1338.1,1556.4 1340,1562.5 1351.4,1563 1350.9,1565.5 1368.1,1560.7 1366.2,1562 1372.6,1566.5 1383.4,1579 1400.2,1578.2 1409.5,1585.3 1416.9,1584.3 1419.6,1587.9 1412,1591.4 1411.5,1596.5 1398.2,1597.5 1395.7,1606.2 1383.4,1609.2 1387.4,1617.8 1384.4,1622.9 1379,1619.9 1363.7,1619.4 1358.8,1619.4 1351.9,1618.4 1351.4,1621.4 1338.6,1622.7 1329.2,1627 1324.3,1630.5 1317.9,1628.3 1314.4,1623.9 1314.9,1618.9 1309,1615.3 1294.7,1616.3 1289.8,1611.7 1277.4,1605.7 1265.1,1608.7 1265.1,1627.5 1262.7,1627.5 1258.7,1623.7 1255.5,1624.2 1254.3,1623.4 1250.1,1625.2 1249.8,1625.2 1249.2,1625 1247.9,1621.4 1241.5,1617.8 1237,1612.3 1240.5,1611.2 1242,1607.7 1251.3,1607.2 1250.3,1600.6 1241.5,1599 1231.2,1601.5 1228.2,1600.6ZM1301.1,1701.7 1298.4,1698.6 1298.6,1693.8 1293.7,1691.5 1289,1685.7 1297.2,1687.9 1305,1687.9 1315.9,1685.7 1316.4,1680.3 1324.3,1676.8 1330.7,1675.2 1330.7,1669.7 1335.6,1667.6 1333.6,1664.6 1339.6,1662.8 1342,1658.5 1340,1654.2 1346.9,1650.4 1353.8,1650.1 1358.3,1648.1 1363.2,1651.1 1363.7,1655.4 1372.6,1657 1368.1,1661.3 1353.8,1661 1353.8,1668.6 1360.7,1673.2 1356.8,1674.7 1355.8,1679.8 1353.4,1684.9 1345.5,1691.5 1335.6,1696.1 1334.6,1706.7 1339.1,1713.3 1328.2,1713.9 1325.3,1716.9 1321.3,1715.4 1319.3,1711.3 1316.9,1708.3 1307,1709 1297.2,1709.3 1292.7,1709.3 1293.7,1704.2ZM1449.5,1720.5 1449,1714.9 1452.9,1716.1 1455.4,1709.3 1457.8,1702.2 1463.3,1698.6 1468.9,1693.8 1472.6,1696.6 1475.6,1702.7 1470.7,1711.3 1469.7,1715.9 1476.6,1719.4 1478.1,1725 1482.5,1728.1 1487.7,1727.8 1482.5,1733.9 1476.6,1737 1471.2,1743.3 1469.2,1743.3 1475.6,1754.5 1473.1,1760.6 1478.1,1771.3 1478.1,1778.9 1474.6,1787 1474.6,1781.4 1475.6,1773.8 1472.6,1766.2 1470.2,1756 1470.2,1753.5 1466.2,1750.9 1463.3,1754 1458.8,1757 1453.9,1756 1454.9,1748.4 1453.4,1741.8 1450,1736.7 1447,1735.2 1444,1732.1 1445.5,1725.6ZM1487.2,1807.9 1488.7,1807.6 1492,1805.7 1492.1,1805.6 1494.8,1807.9 1497.4,1810.6 1498.7,1813.7 1498.5,1817.6 1499.3,1821.5 1500.7,1825.3 1502.3,1828.8 1501.5,1830 1498.9,1830.3 1495.9,1829.2 1492.9,1826.9 1489.9,1824.1 1487.2,1821.5 1485.4,1817.6 1484.6,1813 1483.5,1809.1 1482.7,1805.6 1484.6,1804.8 1486.5,1805.6 1487.2,1807.9ZM1557.8,1816.1 1557.4,1819.9 1555.9,1821.9 1554.8,1823.8 1554,1827.2 1551.4,1829.2 1547.7,1830.3 1541.2,1829.6 1540.2,1831.1 1536.4,1831.9 1533.4,1832.7 1531.1,1829.2 1528.9,1826.9 1531.9,1828.4 1534.5,1828.8 1536.4,1827.6 1537.2,1823.4 1540.2,1822.2 1543.9,1820.7 1546.9,1818.8 1549.5,1815.7 1551.3,1813.9 1551.4,1813.7 1554.4,1811.8 1556.2,1811.5 1555.5,1812.2 1555.5,1814.6 1556.3,1814.6 1556.3,1811.5 1557,1811.4 1557.8,1809.5 1560.4,1807.5 1562.3,1805.6 1563.4,1802.9 1564.9,1801.7 1566,1803.7 1567.9,1805.2 1569.4,1807.5 1572.1,1808.3 1574.8,1809.7 1576.6,1810.4 1573.1,1812.2 1570.9,1814.5 1568.7,1815.7 1566.4,1816.1 1566.4,1815.4 1560.4,1815.3ZM1552.9,1816.2 1555.1,1814.5 1554.4,1812 1551.3,1813.9ZM1529.3,1735.7 1534.7,1735.2 1536.2,1737.7 1531.3,1743.8 1528.8,1744.8 1524.9,1743.3 1524.9,1739.8ZM1352.4,1636.6 1352.9,1634.6 1357.8,1631.6 1368.1,1629 1376,1626.5 1384.4,1622.9 1387.4,1617.8 1383.4,1609.2 1395.7,1606.2 1398.2,1597.5 1411.5,1596.5 1412,1591.4 1419.6,1587.9 1421.9,1587.4 1427.3,1593 1437.1,1599 1437.6,1607.7 1459.3,1612.3 1464.3,1620.4 1482,1620.9 1506.2,1625.7 1528.8,1621.7 1540.7,1615.3 1538.2,1611.7 1549,1609.7 1564.3,1601.8 1580.1,1600.1 1567.8,1595.2 1558.9,1594 1564.3,1584.3 1569.7,1585.8 1579.1,1581.8 1580.6,1575.2 1584.5,1566.5 1598.3,1565.3 1608.2,1567.8 1617.5,1584.3 1633.3,1588.9 1634.3,1595 1653,1591.4 1645.1,1608.2 1636.3,1609.2 1635.8,1616.3 1632.8,1621.9 1628.4,1621.9 1620,1623.9 1614.6,1625 1602,1634.1 1595.4,1636.1 1587,1640.2 1591.4,1631.6 1585.5,1629.5 1578.1,1635.1 1569.2,1639.7 1574.7,1644.3 1575.7,1647.8 1584.5,1645.3 1592.9,1647.3 1585.5,1651.4 1582.1,1654.4 1577.1,1659.5 1582.1,1663.6 1585,1670.7 1589.9,1676.3 1589.9,1680.3 1585,1683.4 1590.4,1685.4 1588.5,1693.5 1583.5,1697.1 1579.1,1705.7 1574.2,1711.3 1571.2,1713.3 1564.3,1718.9 1552,1724 1548.5,1724.5 1540.2,1727.6 1533.3,1729.6 1532.4,1733.5 1531.9,1733.3 1529.8,1728.1 1524.4,1727.1 1521.4,1728.1 1515,1725.5 1515,1721.5 1508.1,1718.9 1501.2,1723 1492.8,1723.5 1490.9,1729.6 1487.7,1727.8 1482.5,1728.1 1478.1,1725 1476.6,1719.4 1469.7,1715.9 1470.7,1711.3 1475.6,1702.7 1472.6,1696.6 1468.9,1693.8 1463.3,1687.7 1459.3,1690 1448.5,1692 1441.1,1696.1 1439.1,1694.8 1430.7,1694 1427.3,1698.6 1426.8,1694.6 1423.3,1695.6 1413,1695.1 1404.1,1691 1394.8,1684.4 1388.8,1683.9 1377.5,1678.3 1379.5,1672.2 1377,1669.7 1378,1663.1 1372.6,1657 1363.7,1655.4 1363.2,1651.1 1358.3,1648.1 1358.3,1642.2 1353.4,1641.7Z"/><path fill="#ffffff" d="M925,1720.5 925,1728.9 914.2,1728.9 917.1,1726.6 920.6,1719.4 925,1715.4 930,1707.8 930,1718.2ZM941.8,1702.2 946.4,1700.1 946.4,1705.2 934.9,1705.2ZM565,1753.8 566.7,1753.5 566.5,1754 564.7,1754.4 563.6,1754.2ZM562.3,1733.6 563.1,1732.8 562.9,1734.4ZM629.1,1723.6 630.7,1723.8 630.4,1724.3ZM624.9,1723.3 625.1,1725 624.4,1725 624.2,1723.5 623.9,1722.3ZM620,1720.6 619.2,1719.4 620.8,1720.5 621.5,1721.6 620.9,1721.7ZM616.1,1718.7 614.8,1717.5 616.3,1718.2ZM616.1,1712.5 617.7,1713.6 618.4,1715.3 617.7,1715.3 616.9,1713.9ZM614.2,1711.5 613.6,1711.7 612.8,1709.8 611.9,1708.5 613.5,1709.5ZM609,1704.1 607.8,1702.1 604.6,1702.1 602.6,1702.8 600.5,1702.3 602.6,1701.8 604.6,1701.3 608.3,1701.3 609.9,1703.8 609.3,1706.4 608.6,1706.1ZM671.7,1781.3 673.8,1780.9 674.3,1781.7 672.2,1781.9ZM691.1,1779.6 690.9,1780.5 689.9,1780.2ZM652,1774.7 653.3,1775.3 653.1,1775.7ZM649.3,1774 650.2,1774.4 649.9,1774.7ZM684.7,1750.9 684.2,1750.2 685,1750.4ZM680.5,1749.7 680.1,1749.9 679.3,1748.9ZM667.8,1745 667.6,1745.7 666.5,1745.3ZM669.1,1744.3 670.6,1744.1 670.4,1744.6ZM695.1,1769.9 695.9,1770.1 695.6,1770.9ZM688.1,1765.8 688.8,1766.1 688.8,1767.3 688.2,1767.1ZM684.7,1754.2 686.3,1753.8 687.3,1754.9 686.3,1755.8 684.9,1755.3ZM687.5,1762.2 688.6,1762.7 689,1764.2 688.1,1764.2ZM686.5,1756.6 687.3,1756.9 687.1,1757.9ZM687.8,1768.9 688.4,1769.1 688.1,1769.9ZM687.3,1773.5 688,1773.7 687.6,1774.5ZM677.4,1748.4 678.4,1748.4 678.1,1749.1ZM1588,1708.8 1590.4,1710.3 1588.5,1715.4 1584.8,1726 1581.1,1720.5 1583.5,1713.9 1585.5,1710.3ZM1786.6,1892.2 1784.1,1889.6 1789.1,1892.2ZM1781.7,1886.6 1779.7,1887.6 1775.8,1886.1 1775.8,1884.5ZM1783.7,1886.1 1780.7,1881.5 1780.7,1879.5 1784.6,1885.1ZM1767.9,1880.5 1765.9,1881.5 1764.4,1877.9ZM1775.8,1880.5 1770.3,1877.4 1770.3,1875.9 1776.8,1880ZM1760.5,1871.3 1765.4,1874.4 1763.9,1874.9 1760.5,1872.4ZM1822.6,1933.3 1823.1,1932.3 1824.1,1933.8ZM1818.2,1926.7 1819.6,1927.7 1818.2,1927.7ZM1814.2,1921.1 1813.7,1918.6 1816.2,1921.1ZM1813.2,1913.5 1812.2,1916.5 1810.3,1915 1810.3,1912ZM1797.5,1939.4 1804.8,1943.5 1812.2,1950.6 1809.3,1950.6 1801.4,1945ZM144.3,1907.9 142.3,1908.7 140.8,1907.4ZM140.3,1905.9 139.8,1907.4 137.9,1907.4 137.4,1905.9ZM125,1944.5 126.5,1944.5 126,1945.2ZM913.2,1696.1 911.2,1696.1 911.2,1694.6 913.2,1694.3ZM909.7,1692.3 907.8,1694.8 905.8,1693.3ZM920.8,1694 918.6,1694.8 917.6,1694.6 920.6,1691.5ZM900.4,1691 901.6,1691 901.1,1692.5ZM922.6,1690.5 920.8,1690 922.8,1689ZM873.5,1761.1 872.3,1761.4 872.3,1759.6ZM876.5,1756 876,1755 877.2,1755.5ZM870.3,1753 869.8,1753.5 868.8,1753ZM865.4,1751.4 864.4,1750.4 865.9,1750.4ZM1208.4,1899.8 1207.5,1899.8 1207.5,1898.8ZM1203.5,1897.8 1202.3,1897.2 1202.5,1895.2ZM1272,1938.9 1274,1939.9 1273,1941.4 1271.5,1940.4ZM1261.7,1943.5 1264.1,1944.5 1263.2,1945.8 1261.4,1945ZM1262.2,1860.7 1262.9,1861.2 1262.4,1861.4ZM1021.1,1835.3 1022.4,1835.8 1021.6,1837ZM1350.9,1816 1351.9,1816 1351.4,1817.5ZM1237.8,1703.9 1238.5,1703.8 1238.6,1705.2 1238.4,1706 1237.9,1705.2ZM1225.6,1684.8 1226.8,1684.7 1227.4,1685.5 1227,1686.6 1226.1,1686.8 1225.4,1685.8ZM1059.6,1654.3 1060.5,1654.4 1061,1655.1 1060.1,1655ZM953.1,1520.8 957.1,1520.8 955.6,1522.8 953.6,1522.3Z"/><path fill="#d1ece8" d="M1039.9,1676.3 1039.9,1680.3 1035.9,1683.4 1033.7,1674.2 1030.5,1672.2 1026.6,1668.1 1026.1,1664.6 1029.5,1659.5 1030,1654.4 1031.5,1649.6 1037.9,1647.7 1043.8,1648.8 1041.3,1652.4 1041.3,1655.4 1043.8,1658.5 1042.3,1661 1038.9,1665.1 1042.8,1666.6 1045.8,1668.9 1045.8,1672.7ZM1059.1,1925.7 1079.8,1925.7 1094.6,1928.5 1104.4,1926.7 1110.4,1926.2 1113.6,1927.7 1108.4,1928.7 1103.9,1928.7 1092.6,1930.3 1092.6,1949.1 1087.7,1949.1 1087.7,1981.6 1082.8,1984.1 1077.8,1984.1 1074.9,1983.1 1070.2,1982.6 1063.8,1972.7 1062.8,1965.8 1060.3,1959.2 1060.6,1953.9 1059.3,1949.6 1055.1,1943.5 1052.2,1937.4 1049.2,1932.3 1047,1924.9 1055.6,1923.7ZM1108.4,1928.7 1113.6,1927.7 1118.2,1935.9 1125.6,1941.4 1127.1,1946.5 1134,1950.1 1128.6,1952.1 1122.7,1957.2 1121.4,1960.5 1116.8,1962.8 1115.3,1967.3 1110.8,1968.4 1102.5,1965.8 1096.1,1973.7 1091.1,1973.7 1087.7,1963.3 1087.7,1949.1 1092.6,1949.1 1092.6,1930.3 1103.9,1928.7ZM562.1,1771.4 564.1,1768.4 567.8,1766.3 570.4,1763.2 573.5,1763.2 576.6,1761.7 579.9,1762.7 579.2,1767.3 578.2,1773.5 577.6,1777.6 577.1,1781.2 577.6,1783.2 573.5,1782.2 567.8,1781.7 567.2,1781.2 564.1,1777.6 561,1774 558.7,1771.4 560,1771.4ZM628.1,1729.7 629.6,1730 629.6,1731.3 627,1731.3 626.5,1730.3ZM605.2,1710 606.2,1711.5 607.3,1714.6 607.8,1717.2 606.2,1717 604.6,1714.1 603.6,1712ZM685.7,1782.5 688.6,1782.3 688.6,1786.3 685.7,1786.3 686.4,1784.2ZM1066.3,1600.1 1068.8,1599.6 1069.7,1601 1068.2,1602.1 1066.3,1603.3 1065.1,1605.2 1062.6,1605.7 1060.2,1606.1 1057.2,1605.7 1055.9,1604.7 1056.6,1603.3 1055.9,1601.9 1056.5,1601.8 1056.6,1601.1 1059.3,1601.4 1062.6,1600.7 1062.7,1600.7ZM1088.3,1621 1089.5,1621.9 1091.3,1623.3 1090.1,1624.3 1089.8,1626.4 1091.3,1628.9 1092.3,1630.3 1091.3,1632.2 1089.5,1634 1088.6,1635.4 1086.4,1633.6 1084.9,1631.7 1084.6,1628.9 1084.9,1626.1 1084.3,1624 1085.2,1621.9 1087,1621.5ZM1071.2,1595.4 1073,1594 1074.3,1593.5 1077.3,1594.5 1080.3,1594.7 1081.9,1593.8 1085.2,1592.6 1090.1,1591.2 1095,1590.7 1098.7,1591.7 1101.4,1593.5 1099.3,1595.4 1096.8,1597.7 1094.4,1601 1092.6,1602.4 1090.1,1603.3 1087.7,1603.8 1085.2,1603.3 1082.5,1604.2 1079.2,1604.7 1075.5,1604.2 1071.8,1602.4 1069.7,1601 1068.8,1599.6ZM1097.4,1587.5 1098.1,1587.6 1100.3,1587.9 1099.1,1590 1098.7,1591.7 1095,1590.7 1090.1,1591.2 1085.2,1592.6 1081.9,1593.8 1080.3,1594.7 1077.3,1594.5 1074.3,1593.5 1073,1594 1072.7,1591.4 1072.9,1591.3 1072.6,1590.4 1073.9,1589.1 1078.3,1587.9 1082,1585.8 1086.3,1587.2 1086.4,1587.3 1086.5,1587.3 1087.3,1587.3 1092.1,1586.8 1092.4,1586.9 1093.8,1586.6ZM1116.4,1657.8 1118.8,1658.2 1118.2,1659.2 1115.1,1658.9 1111.5,1658.7 1107.8,1658.5 1105.4,1658 1105.1,1657.1 1106.6,1656.4 1109.6,1656.9 1113.3,1657.1ZM1103,1652.9 1102.5,1653.7 1102,1652.6ZM1112.8,1650.9 1112.3,1651.4 1111.8,1650.6ZM1109.1,1650.6 1110.1,1650.9 1109.4,1651.1ZM1110.7,1645.6 1110.8,1645.2 1112.1,1645.9 1111.8,1646.2ZM1092.1,1645.3 1091.8,1645.9 1091.1,1645.7 1091,1645ZM1091.3,1642.6 1091.3,1643.8 1090.4,1643.7 1090.1,1642.4ZM1101.1,1632.6 1102.3,1635 1103.6,1636.8 1102.9,1638 1101.7,1638.7 1103.6,1639.6 1103.6,1639.7 1103.8,1639.2 1105.7,1640.3 1107.5,1642 1109.6,1643.6 1109,1644.1 1107.5,1643 1107.8,1643.3 1109,1644.8 1108.7,1645.3 1107.2,1644.3 1106,1643.3 1103.8,1643 1102.9,1643.6 1103.8,1645.2 1104.4,1647.1 1102.3,1647.6 1101.7,1649.4 1102.6,1651.7 1101.1,1651.3 1099.9,1650.3 1099,1652.2 1097.4,1649.8 1096.8,1651.3 1095.6,1648.5 1094.4,1646.1 1094.1,1644.3 1095.6,1642.9 1097.4,1642.4 1100.5,1642.8 1101.7,1642.5 1096.8,1641.9 1094.4,1642.2 1092.9,1641 1091.3,1639.2 1090.7,1637.3 1089.5,1635.7 1088.6,1635.4 1089.5,1634 1091.3,1632.2 1092.3,1630.3 1093.2,1629.6 1096.2,1628.9 1099.3,1628.5 1101.7,1627 1103.6,1627.3 1106.6,1626.8 1109.6,1626.4 1112.1,1627 1115.1,1627.3 1117.5,1626.1 1118.8,1625.9 1119.4,1627 1118.2,1629.8 1115.7,1629.4 1112.7,1628.9 1110.3,1629.4 1109,1630.3 1107.2,1631 1106,1630.8 1107.5,1632.6 1106.3,1633.6 1105.4,1632.2 1104.7,1633.8 1103.8,1632.6 1103.2,1631.9 1102.3,1631 1100.8,1631.5ZM1106.9,1638.2 1107.9,1638.4 1107.1,1638.7ZM1086.7,1635.2 1087.7,1636.6 1087,1636.9 1086.2,1635.9 1085.9,1635ZM1111,1630.2 1111,1630.8 1110.1,1631 1110,1630.3ZM1122.6,1656.9 1122.8,1655.4 1123.4,1655.7 1123.2,1657.1ZM1126.4,1652.2 1127.7,1652 1128,1653.1 1126.7,1654.2 1126,1653.6ZM1114.3,1652.6 1114.1,1652.1 1114.8,1652.4ZM1123.9,1650.4 1122.7,1650.9 1121.7,1650.1ZM1115.4,1648.6 1115.3,1649.3 1114.5,1649.2 1114.5,1648.5ZM1114.1,1646.8 1113.3,1647.1 1113.3,1646.3ZM1119.7,1645.7 1121.2,1645.6 1121.1,1646.1 1119.9,1646.2ZM1117.9,1643.3 1117,1643.1 1116.7,1641.5 1117.5,1641.7ZM1118.8,1639.4 1117,1639.2 1116.4,1638.2 1117.9,1637.8 1119.4,1638.5ZM1112.7,1633.8 1114.2,1633.6 1114.2,1634.5 1113,1634.6ZM1102,1541.6 1097.5,1542.7 1097,1541.1 1103.5,1539.6ZM1109.4,1543.2 1104.9,1539.6 1104.9,1536.6 1111.1,1535.3 1117.3,1534.5 1127.1,1535.3 1124.2,1538.6 1123.9,1544.9 1119.7,1545.2 1113.8,1542.7ZM1102,1538.8 1099,1538.8 1098,1537.8 1102.5,1537.6ZM1169.2,1662.6 1169.8,1664 1168.9,1665.8 1167.3,1666.6 1166.7,1667.9 1165.9,1669 1164.9,1668.8 1163.5,1669.4 1162.7,1669.3 1163.7,1667.1 1164.6,1665 1165.5,1663.2 1166.1,1662.1 1168.3,1661.9ZM1157.8,1678.4 1158.2,1678.8 1159.4,1677.3 1159.2,1676.8 1158.8,1677.1 1158.7,1677.2 1159.2,1676.7 1160,1674.6 1160.7,1672.5 1161.3,1670.6 1162.7,1669.3 1163.5,1669.4 1164.9,1668.8 1165.9,1669 1166.4,1670.3 1166.1,1671.4 1164.6,1672.5 1164.3,1674 1163.8,1672.6 1162.8,1672.3 1161.9,1672.7 1161.4,1673.5 1161.6,1675.1 1162.5,1675.9 1161.9,1676.7 1161,1677.3 1161.3,1678 1162.5,1677.7 1163.5,1677.2 1163.1,1679.9 1162.5,1682.5 1161.6,1685.2 1161.1,1687 1161,1686.9 1160,1684.4 1158.9,1681.2 1157.8,1678.4ZM1170,1653.2 1169.5,1650.4 1176.4,1650.1 1186.3,1650.4 1197.8,1648.8 1193.2,1651.9 1192.2,1656.5 1191.2,1662.5 1180.3,1667.6 1171,1673.1 1167.7,1672.5 1166.1,1671.4 1166.4,1670.3 1165.9,1669 1166.7,1667.9 1167.3,1666.6 1168.9,1665.8 1169.8,1664 1169.2,1662.6 1168.3,1661.9 1166.1,1662.1 1166.6,1660 1166.3,1658.1 1165.9,1656.1 1166.1,1654.7 1167.5,1654.4ZM1240.4,1712.3 1239.7,1711.9 1239.4,1708.4 1240.1,1705.8 1241.5,1704.4 1242.8,1705.5 1243.4,1707.4 1243.2,1709.9 1242.4,1711.5 1242.2,1712.6 1241.7,1712.2ZM1277.9,1733.7 1274,1740.8 1273.5,1743.3 1267.6,1745.9 1261.2,1749.4 1255.3,1750.9 1250.8,1752.7 1245.4,1740.8 1260.2,1735.7 1262,1730.3 1263.3,1726.1 1260.7,1722.2 1261.3,1719.5 1262.5,1715.7 1263,1715.2 1264,1715 1264.1,1710.8 1266.8,1710.6 1266.9,1710.5 1268.1,1713.9 1277.9,1717.4 1283.9,1723 1277.9,1733.7ZM1267,1706.9 1266.8,1707.3 1265.9,1707 1265.6,1705 1267.1,1703.8ZM1212.9,1639.2 1210.7,1637.1 1209.9,1635.6 1213.4,1636.6 1216.3,1639.9ZM1228.6,1624.7 1231.6,1627.5 1233.6,1631.1 1237.5,1632.6 1233.1,1633.1 1231.6,1637.7 1230.1,1642.2 1228.6,1642.2 1225.7,1640.2 1227.2,1637.1 1225.7,1635.6 1220.8,1638.2 1218.3,1639.7 1218.3,1636.6 1215.8,1634.1 1213.9,1630 1210.9,1627.5 1218.8,1628 1218.1,1624.4 1222.2,1627.5 1225.2,1628ZM1277.4,1605.7 1289.8,1611.7 1294.7,1616.3 1309,1615.3 1314.9,1618.9 1314.4,1623.9 1317.9,1628.3 1324.3,1630.5 1329.2,1627 1338.6,1622.7 1340,1622.9 1336.6,1627 1344,1628 1349.4,1629.8 1344,1632.6 1337.1,1633.1 1336.1,1629 1330.7,1630 1327.2,1633.1 1329.2,1633.6 1326.2,1636.6 1321.3,1636.6 1326.2,1643.2 1323.3,1648.3 1316.9,1647.6 1317.1,1644.3 1305.5,1639.4 1296.7,1634.1 1294.2,1628.5 1285.3,1627 1284.8,1622.9 1277.9,1620.4 1270.1,1627.5 1265.1,1627.5 1265.1,1608.7ZM1444,1579.2 1453.9,1580.5 1468.7,1584.6 1473.6,1580.8 1476.6,1572.6 1492.8,1576.7 1493.3,1580.3 1500.2,1582.5 1515,1581.5 1524.4,1586.9 1534.7,1587.6 1552.5,1582 1564.3,1584.3 1558.9,1594 1567.8,1595.2 1580.1,1600.1 1564.3,1601.8 1549,1609.7 1538.2,1611.7 1540.7,1615.3 1528.8,1621.7 1506.2,1625.7 1482,1620.9 1464.3,1620.4 1459.3,1612.3 1437.6,1607.7 1437.1,1599 1427.3,1593 1421.9,1587.4 1431.2,1583.8Z"/><path fill="#4393c3" d="M976.8,1795.6 975.8,1789 975.3,1786.5 975.2,1786.5 974.8,1784.5 975.3,1781.4 988.4,1780.9 989.1,1783.5 991.1,1786.5 991.1,1792.6 992.1,1795.6 991.6,1802.8 995,1806.3 994,1807.8 989.1,1808.9 988.1,1809.1 984.2,1810.9 978.7,1813.2 973.8,1811.4 973.3,1802.8ZM1047.9,1862.5 1048.2,1862.7 1048.3,1862.7 1053.7,1860.7 1050.7,1866.8 1049.4,1866.5 1049.2,1865.8 1047.9,1862.5ZM1070.9,1867.3 1072.9,1874.4 1082.8,1877.4 1084.7,1872.9 1090.1,1872.9 1096.6,1874.4 1097.5,1880.5 1096.6,1885.6 1099,1894.2 1107.4,1892.7 1107.4,1903.3 1097.5,1903.3 1097.5,1919.6 1104.4,1926.7 1094.6,1928.5 1079.8,1925.7 1059.1,1925.7 1055.6,1923.7 1047,1924.9 1047.3,1921.1 1049,1914.5 1050.7,1905.9 1055.1,1901.3 1056.9,1894.7 1056.6,1891.7 1054.2,1882 1053.2,1879 1052.2,1872.9 1049.7,1868.3 1053.2,1867.3ZM1151.5,1885.1 1153.2,1892.2 1152.7,1900.8 1150.3,1906.4 1152.7,1908.4 1138,1912.5 1138.9,1916.5 1131.5,1921.1 1122.2,1928.5 1113.6,1927.7 1110.4,1926.2 1104.4,1926.7 1097.5,1919.6 1097.5,1903.3 1107.4,1903.3 1107.4,1892.7 1109.4,1894.7 1113.8,1894.2 1117.3,1897.8 1123.2,1896.2 1127.1,1900.3 1131.5,1905.4 1136,1905.6 1136,1899 1132,1900.3 1128.8,1897.8 1130.3,1891.7 1129.1,1884.5 1131.5,1880.5 1140.7,1879 1146.8,1883.3ZM1140.7,1879 1137,1871.7 1135,1867.8 1134,1859.9 1138.9,1859.9 1141.2,1854.1 1141.2,1849 1139.4,1842.6 1156.2,1842.4 1174.9,1853 1174.4,1855.1 1182.3,1861.1 1181.8,1863.2 1180.3,1868.3 1182.8,1872.1 1183.5,1875.4 1182.3,1880.5 1183.8,1882.8 1184.8,1888.1 1187.2,1889.6 1188.5,1890.6 1178.9,1895.2 1173.9,1896.7 1165.6,1895.2 1161.4,1896.1 1159.6,1896.2 1159.2,1888.1 1156.7,1885.6 1151.5,1885.1 1146.8,1883.3 1140.7,1879ZM1141.2,1849 1136.7,1849.2 1132,1851.5 1133,1845.4 1135,1844.4 1139.4,1842.6ZM1141.2,1849 1141.2,1854.1 1138.9,1859.9 1134,1859.9 1133,1854.1 1132,1851.5 1136.7,1849.2ZM1161.6,1828.7 1159.2,1831.7 1156.7,1836.3 1156.2,1842.4 1139.4,1842.6 1135,1844.4 1135,1839.8 1136.7,1834.3 1139.4,1831.2 1143.4,1826.4 1140.9,1825.1 1141.2,1819.5 1142.9,1818 1146.8,1819 1151.8,1817.7 1156.7,1816 1159.2,1821.6ZM1174.9,1853 1156.2,1842.4 1156.7,1836.3 1159.2,1831.7 1161.6,1828.7 1159.2,1821.6 1156.7,1816 1166.1,1813.9 1166.5,1814.7 1171,1814.9 1176.9,1819 1183.8,1819.8 1190.2,1816 1195.6,1817.2 1191.2,1822.8 1191.2,1841.4 1194.1,1845.7 1190.7,1849 1186.8,1851.5 1186.8,1853.6 1184.5,1857.9 1182.3,1861.1 1174.4,1855.1ZM1202.5,1774.3 1201.8,1778.4 1202.3,1779.1 1200.6,1781.7 1195.1,1781.4 1194.9,1778.4 1198.1,1773.8 1201.5,1772.8ZM1077.8,1796.7 1082.8,1791.6 1089.7,1791.1 1096.1,1783.5 1102,1781.9 1105.4,1787 1104.9,1792.1 1108.4,1793.1 1113.3,1797.7 1119.2,1803.8 1124.2,1811.4 1113.8,1811.9 1109.4,1811.4 1102,1812.9 1099.5,1816.5 1090.6,1814.9 1085.2,1811.4 1080.3,1815.5 1080.8,1819.5 1070.9,1819.5 1070.4,1823.1 1068.9,1826.1 1067.5,1822.1 1063,1816.5 1061.1,1811.9 1060.6,1807.3 1061.6,1803.3 1065.5,1799.2 1070.4,1798.2ZM943.7,1773.8 942.9,1774.3 941,1774.8 940.7,1774.9 938.5,1775.4 936.7,1776.5 935.5,1775.4 934.8,1775.7 933.8,1775 933.3,1774.3 933.1,1772.8 932.2,1770.6 930.7,1769.1 930.3,1766.5 929.4,1764.6 929.3,1762.4 930,1761 932.4,1758.1 933.2,1758.2 934.8,1759.7 935.5,1760.1 937.7,1759 940.3,1759 942.7,1758.6 943.3,1758.6 962,1758.6 957.1,1710.3 965.3,1710.3 995,1730.1 998,1734.2 1005.4,1736.7 1004.9,1740.8 1010,1740 1009.8,1754 1006.4,1759.1 999,1759.6 990.1,1761.6 985.6,1760.6 979.2,1765.2 974.3,1768.2 967.9,1770.8 967.4,1776.3 963,1778.4 962,1784.5 958.5,1782.9 952.7,1784.7 952.1,1784.4 950.6,1785.3 950.3,1785.5 949.2,1783.7 948.7,1782.8 948.2,1781.4 947.3,1780.1 947.7,1779.5 946.2,1777.7 945.5,1775.8 944.4,1774 943.7,1773.8ZM1134.7,1865.8 1134.8,1865.8 1135,1867.8 1137,1871.7 1140.7,1879 1131.5,1880.5 1129.1,1884.5 1130.3,1891.7 1128.8,1897.8 1132,1900.3 1136,1899 1136,1905.6 1131.5,1905.4 1127.1,1900.3 1123.2,1896.2 1117.3,1897.8 1113.8,1894.2 1109.4,1894.7 1107.4,1892.7 1099,1894.2 1096.6,1885.6 1097.5,1880.5 1096.6,1874.4 1090.1,1872.9 1084.7,1872.9 1082.8,1877.4 1072.9,1874.4 1070.9,1867.3 1053.2,1867.3 1049.7,1868.3 1049.4,1866.5 1050.7,1866.8 1053.7,1860.7 1060.1,1862.2 1064.5,1859.1 1068,1855.1 1068.9,1848.5 1076.3,1839.8 1077.3,1832.2 1078.3,1825.6 1080.8,1819.5 1080.3,1815.5 1085.2,1811.4 1090.6,1814.9 1099.5,1816.5 1102,1812.9 1109.4,1811.4 1113.8,1811.9 1124.2,1811.4 1129.1,1815.5 1134.5,1813.9 1141.2,1819.5 1140.9,1825.1 1143.4,1826.4 1139.4,1831.2 1136.7,1834.3 1135,1839.8 1135,1844.4 1133,1845.4 1132,1851.5 1133,1854.1 1134,1859.9 1134.7,1865.8ZM1232.1,1898.3 1235.1,1904.9 1237.8,1915.5 1234.1,1916.5 1234.6,1922.6 1232.6,1928.7 1229.6,1938.9 1225.2,1951.6 1221.3,1963.8 1211.9,1967.1 1206,1964.3 1202.5,1950.6 1203.5,1945.5 1207.9,1938.9 1206,1927.7 1208.4,1919.6 1217.3,1917.6 1222.2,1913 1225.2,1908.4 1225.7,1905.4 1229.6,1904.4ZM635.8,1737.6 638.9,1736.6 642,1737.1 645.2,1738.6 647.3,1739.7 649.9,1740.7 652.4,1742.8 650.9,1744.8 647.3,1744.3 644.2,1744.8 641,1745.9 638.9,1746.9 637.4,1747.9 636.1,1745.9 635.6,1742.8 636.3,1740.2ZM603.6,1744.8 606.2,1743.8 609.3,1743.8 612.5,1744.8 614.2,1745.9 613,1746.9 609.3,1747.4 606.2,1746.4ZM1101.5,1558.4 1101.5,1561.2 1085.7,1560.7 1087.7,1558.2 1093.1,1556.4 1097.5,1557.4ZM1101.4,1593.5 1098.7,1591.7 1098.7,1591.6 1099.1,1590 1100.2,1587.9 1101,1585.3 1107.4,1580.3 1105.4,1575.7 1113.8,1573.6 1123.2,1575.2 1133.5,1576.2 1139.9,1576.7 1145.8,1572.6 1155.7,1571.4 1164.6,1581.3 1173.4,1581.3 1180.8,1584.3 1186.8,1585.3 1184.8,1594.5 1177.4,1598 1173.9,1598.5 1170,1600.1 1162.6,1602.1 1161.6,1605.1 1164.1,1607.2 1169,1606.7 1166.5,1608.7 1163.6,1608.7 1159.2,1610 1155.2,1611.7 1154.2,1608.7 1149.3,1606.7 1154.7,1603.1 1149.3,1603.1 1146,1600.1 1143.8,1600.5 1140.1,1601.4 1137.7,1603.8 1136,1605.7 1135.3,1607.2 1134.4,1607.1 1133.4,1606.8 1132,1606.8 1129.8,1606.6 1128.5,1606.1 1130.4,1604.7 1131.6,1602.9 1133.4,1601.7 1135.9,1601.9 1136.5,1601 1134.1,1599.1 1132.2,1596.8 1130.4,1594.5 1127.9,1592.9 1124.9,1591.7 1122.4,1591.4 1121.8,1591.8 1120.6,1592.6 1115.7,1594 1112.1,1594.9 1112,1594.9 1107.2,1594.2 1103.6,1593.8 1101.4,1593.5ZM1262.7,1627.5 1265.1,1627.5 1270.1,1627.5 1277.9,1620.4 1284.8,1622.9 1285.3,1627 1294.2,1628.5 1296.7,1634.1 1305.5,1639.4 1317.1,1644.3 1316.9,1647.6 1312.4,1647.8 1308.5,1648.8 1307,1652.9 1300.6,1655.2 1297.7,1658.2 1290.8,1656.5 1290.8,1651.1 1287.3,1651.1 1281.4,1646.8 1271,1643 1260.2,1644.3 1254.8,1647.6 1254.8,1639.2 1250.3,1634.1 1249.8,1628.5 1258.7,1626.5 1255.5,1624.2 1258.7,1623.7ZM1351.9,1618.4 1358.8,1619.4 1363.7,1619.4 1379,1619.9 1384.4,1622.9 1376,1626.5 1368.1,1629 1357.8,1631.6 1352.9,1634.6 1352.4,1636.6 1339.1,1637.1 1332.2,1636.1 1331.7,1634.1 1337.1,1633.1 1344,1632.6 1349.4,1629.8 1344,1628 1336.6,1627 1340,1622.9 1338.6,1622.7 1351.4,1621.4ZM1492.8,1723.5 1496.8,1730.6 1501.7,1733.2 1506.2,1738.2 1501.2,1739.3 1507.6,1743.3 1514,1751.4 1519,1760.1 1519.2,1762.6 1511.6,1766.2 1507.6,1764.7 1509.1,1764.1 1509.6,1758.1 1505.7,1754 1505.2,1748.9 1498.8,1743.8 1492.4,1744.8 1486.9,1748.4 1488.4,1738.2 1484.5,1738.2 1482.5,1733.9 1487.7,1727.8 1490.9,1729.6ZM1620,1623.9 1628.4,1621.9 1632.8,1621.9 1633.7,1622.1 1633.3,1622.4 1628.9,1626.5 1628.4,1630 1620,1634.6 1617.5,1637.7 1621.7,1641.2 1613.6,1645.3 1607.2,1645.8 1603.7,1643.8 1606.2,1639.2 1606.7,1636.6 1602,1634.1 1614.6,1625ZM152.6,1501.5 148.7,1504.6 139.8,1505.1 138.8,1510.1 133.9,1510.1 124.1,1508.1 121.6,1505.1 109.3,1504.6 108.3,1502 101.9,1507.1 101.9,1486.9 114.2,1490.8 129,1496.4 142.3,1497.4ZM1233.1,1488.3 1227.2,1485.3 1232.1,1484.2 1236.5,1485.8ZM1281.4,1479.2 1287.3,1481.2 1286.3,1483.2 1278.9,1479.7ZM101.9,1477.1 101.9,1474.1 113.7,1474.1 114.2,1476.1ZM1255.3,1464.4 1262.7,1464.9 1262.7,1469 1267.6,1473.6 1272.5,1478.1 1262.7,1478.7 1250.3,1478.1 1242.9,1474.1 1247.9,1470ZM1275,1453.3 1294.7,1449.7 1314.4,1446.1 1328.2,1446.1 1326.7,1447.2 1309.5,1451.2 1289.8,1454.8 1275,1460.4 1265.1,1464.9 1255.3,1463.9 1262.7,1457.3ZM1491.9,1441.6 1477.1,1441.1 1482,1436.5 1494.3,1436 1509.1,1438.5ZM1459.8,1435.5 1450,1431.4 1442.6,1428.4 1457.4,1425.8 1469.7,1427.9 1477.1,1430.4 1491.9,1430.9 1506.6,1433.4 1504.2,1437 1484.5,1434.5 1472.1,1437ZM1210.9,1427.9 1225.7,1426.3 1240.5,1428.4 1225.7,1430.4ZM1245.4,1429.4 1250.3,1426.3 1270.1,1424.8 1289.8,1426.8 1279.9,1428.9 1265.1,1430.9ZM1309.5,1428.4 1294.7,1427.9 1297.2,1424.8 1311.9,1425.8ZM1277.4,1421.8 1275,1423.8 1260.2,1423.3 1262.7,1421.2ZM1705.8,1614.8 1710.2,1611.2 1708.7,1613.8ZM1718.6,1609.7 1713.7,1612.8 1713.2,1611.7 1722.5,1606.2ZM1728.5,1605.1 1726,1605.7 1730.9,1602.6ZM1742.3,1597.5 1745.7,1595 1743.7,1598.5ZM1689,1593.5 1689.5,1583.3 1688,1573.1 1690,1565.5 1692.5,1561.5 1694.9,1566.5 1695.4,1573.1 1694.9,1583.3 1702.3,1588.9 1694.9,1586.9 1693,1593.5 1696.4,1599.6 1692,1600.1 1688.5,1604.1 1688.5,1600.6ZM1755.6,1581.8 1758.5,1579.7 1758,1582.3ZM1804.8,1556.4 1807.3,1556.4 1810.3,1558.9 1808.8,1558.9ZM1319.3,1481.7 1317.9,1476.6 1326.7,1471.5 1329.2,1467 1334.1,1464.9 1341.5,1466 1347.9,1468 1347.9,1474.1 1344,1480.2 1346.5,1486.8 1351.4,1491.9 1344,1498 1339.1,1499.5 1346.5,1500.5 1353.8,1496.9 1358.8,1492.9 1353.8,1486.8 1351.4,1476.6 1356.3,1469 1358.8,1467.5 1368.6,1470 1373.6,1471 1378.5,1469.5 1388.3,1471.5 1395.7,1472.6 1398.2,1479.2 1403.1,1481.7 1413,1481.2 1403.1,1474.1 1388.3,1466.5 1388.3,1463.4 1413,1459.9 1417.9,1455.8 1437.6,1452.7 1457.4,1450.7 1477.1,1448.7 1503.2,1442.6 1511.6,1444.1 1521.4,1447.7 1541.1,1448.2 1548.5,1451.7 1543.6,1456.3 1526.4,1461.4 1514,1464.9 1511.6,1466.5 1531.3,1461.9 1546.1,1462.4 1555.9,1463.4 1573.2,1463.9 1580.6,1466.5 1597.8,1463.4 1612.6,1463.9 1624.9,1467 1627.4,1474.1 1622.5,1477.1 1629.9,1477.1 1634.8,1477.6 1644.7,1474.1 1659.4,1473.6 1669.3,1473.6 1678.2,1469 1684.1,1467.5 1703.8,1469 1726,1470.5 1730.9,1474.1 1740.8,1477.1 1758,1476.6 1772.8,1477.6 1777.7,1483.2 1790.1,1483.7 1802.4,1483.7 1817.2,1482.2 1829.5,1481.2 1829.5,1486.8 1832,1486.8 1841.8,1482.7 1856.6,1482.7 1871.4,1485.3 1876.3,1486.9 1876.3,1507.1 1871.4,1509.6 1864,1508.6 1871.4,1519.8 1873.9,1520.8 1861.5,1519.8 1849.2,1523.4 1836.9,1527.4 1829.5,1532.5 1812.2,1530.5 1799.9,1533.5 1792.5,1542.7 1787.6,1547.7 1792.5,1551.8 1787.6,1557.9 1777.7,1566.5 1771.3,1568.1 1769.4,1573.1 1761.5,1578.2 1758,1570.6 1756.1,1560.4 1756.5,1550.3 1763,1543.7 1772.8,1540.1 1785.1,1532.5 1792.5,1527.4 1797.5,1521.3 1799.9,1519.8 1787.6,1524.9 1780.2,1522.8 1772.8,1524.4 1763,1524.4 1758,1529.5 1748.2,1535 1738.3,1537.6 1732.4,1534.8 1721.1,1536.1 1703.8,1536.1 1694.9,1535.8 1679.2,1544.2 1669.3,1550.8 1657,1558.9 1664.4,1563 1671.8,1564 1681.6,1567 1686.1,1567.6 1684.1,1568.6 1681.6,1578.2 1680.6,1588.4 1674.2,1596 1666.8,1606.2 1657,1613.8 1645.6,1620.4 1639.7,1617.8 1633.3,1622.4 1633.7,1622.1 1632.8,1621.9 1635.8,1616.3 1636.3,1609.2 1645.1,1608.2 1653,1591.4 1634.3,1595 1633.3,1588.9 1617.5,1584.3 1608.2,1567.8 1598.3,1565.3 1584.5,1566.5 1580.6,1575.2 1579.1,1581.8 1569.7,1585.8 1564.3,1584.3 1552.5,1582 1534.7,1587.6 1524.4,1586.9 1515,1581.5 1500.2,1582.5 1493.3,1580.3 1492.8,1576.7 1476.6,1572.6 1473.6,1580.8 1468.7,1584.6 1453.9,1580.5 1444,1579.2 1431.2,1583.8 1421.9,1587.4 1419.6,1587.9 1416.9,1584.3 1409.5,1585.3 1400.2,1578.2 1383.4,1579 1372.6,1566.5 1366.2,1562 1368.1,1560.7 1350.9,1565.5 1351.4,1563 1340,1562.5 1338.1,1556.4 1325.3,1557.9 1309.5,1561.2 1289.8,1563.5 1293.2,1568.1 1288.8,1568.6 1289.8,1571.6 1284.8,1573.1 1292.7,1576.7 1291.7,1579.2 1282.9,1580.5 1277.4,1577.7 1267.6,1578.2 1257.7,1578.2 1252.3,1575.7 1239.5,1574.7 1229.1,1580.3 1229.1,1583.8 1223.2,1581 1219.8,1586.9 1220.8,1587.4 1218.3,1591.4 1226.7,1595 1222.2,1594.5 1228.2,1600.6 1231.2,1601.5 1241.5,1599 1230.6,1601.6 1225.7,1603.6 1220.8,1605.7 1219.3,1611.2 1222.7,1614.8 1223.2,1618.9 1228.6,1624.7 1225.2,1628 1222.2,1627.5 1218.1,1624.4 1212.4,1621.4 1205.5,1620.9 1198.6,1617.8 1186.3,1616.8 1181.3,1613.8 1176.4,1611.7 1173,1610.2 1169.5,1607.7 1173.9,1606.7 1175.4,1600.6 1177.9,1600.1 1182.3,1597.5 1177.4,1598 1184.8,1594.5 1186.8,1585.3 1180.8,1584.3 1173.4,1581.3 1164.6,1581.3 1155.7,1571.4 1145.8,1572.6 1143.9,1567 1150.3,1565.8 1145.8,1563 1140.9,1558.9 1141.4,1554.9 1134,1553.1 1128.1,1552.1 1126.6,1546.7 1123.9,1544.9 1124.2,1538.6 1127.1,1535.3 1132,1532.8 1138,1533 1130.6,1530 1126.1,1529.7 1132,1526.4 1144.9,1517.8 1137,1513.5 1139.4,1511.2 1135.5,1508.1 1137.5,1503.5 1132,1497.4 1137,1493.4 1129.6,1490.8 1131.5,1486.5 1137,1484.2 1141.4,1482.7 1151.8,1484.5 1166.5,1485.8 1188.7,1492.9 1192.7,1498 1186.3,1501 1178.9,1501.8 1161.6,1499 1151.8,1498.5 1149.3,1496.4 1159.2,1504.6 1160.6,1509.6 1171.5,1512.7 1176.4,1510.1 1170.5,1506.6 1178.9,1508.1 1188.7,1509.4 1186.3,1504.1 1197.1,1499.5 1207,1502 1205,1495.9 1207,1489.3 1202.5,1488.6 1215.8,1489.8 1218.3,1492.9 1213.4,1496.9 1218.3,1498 1225.7,1493.9 1235.5,1490.8 1252.8,1487.3 1255.3,1490.8 1262.7,1489.3 1272.5,1488.3 1279.9,1487.3 1287.3,1482.7 1289.8,1482.7 1309.5,1486.3 1319.3,1487.8 1326.7,1490.8 1329.2,1487.3ZM1876.3,1474.1 1876.3,1477.1 1868.9,1476.1 1871.4,1474.1ZM1696.4,1463.4 1691.5,1465.4 1678.2,1464.4 1684.1,1461.4ZM1733.4,1454.8 1728.5,1457.3 1708.7,1456.3 1718.6,1453.3ZM1689,1450.2 1703.8,1453.8 1696.4,1456.3 1679.2,1457.3 1664.4,1455.3 1669.3,1451.2ZM1545,1874 1548.4,1875.6 1551.4,1877.1 1552.1,1880.6 1549.1,1880.2 1543.9,1879.1 1538.6,1879.1 1534.1,1877.9 1528.9,1876.4 1524.4,1876.4 1519.1,1875.2 1513.9,1873.6 1510.1,1872.1 1507.7,1870.9 1510.5,1867.8 1513.9,1867.1 1517.6,1867.8 1521.4,1869 1525.1,1871.3 1528.9,1871.7 1532.6,1871.3 1534.9,1869.4 1538.6,1870.9 1542.4,1872.1ZM1549.9,1871.8 1549.1,1873.1 1545,1873.3 1543.9,1872.1 1546.9,1871.7ZM1491.8,1863.6 1492.9,1863.8 1492.7,1864.6 1491.9,1864.4ZM1521,1850.1 1521.8,1852 1520.2,1853.1 1518.8,1852.4 1518.8,1850.5ZM1482,1850.1 1483.9,1852.8 1483.1,1853.3 1481.3,1850.8 1479.4,1847.4 1480.5,1847.4ZM1506.7,1846.6 1509.8,1844.7 1511.6,1847.8 1513.9,1850.1 1514.2,1852 1511.6,1851.2 1509.8,1848.9ZM1474.9,1842.3 1476,1841.8 1477.5,1844.7 1477.3,1846 1475.8,1845ZM1502.7,1840.4 1502.5,1839.2 1503.7,1839.1 1504,1840.4ZM1474,1837.7 1474,1839.6 1473.4,1839.2 1473.2,1837.3ZM1482.7,1839.2 1479.7,1836.1 1477.1,1833 1475.6,1829.2 1473.7,1826.1 1471.1,1824.1 1468.9,1820.7 1466.2,1817.6 1463.6,1815.3 1460.6,1812.2 1458.3,1810.6 1458,1809.3 1459.9,1808.7 1463.6,1810.2 1467,1811.4 1469.2,1810.9 1471.5,1813 1473.4,1816.1 1476.4,1819.5 1479.4,1823 1483.1,1826.1 1486.1,1827.2 1488.4,1826.9 1491.4,1830.3 1494.4,1833 1495.9,1835.4 1498.1,1835.8 1499.8,1837.7 1498.9,1839.6 1500.4,1841.6 1503,1842.7 1503.7,1846.2 1504.9,1848.9 1507.1,1849.1 1509.4,1850.8 1510.5,1853.9 1510,1858.6 1510.1,1863.2 1509.8,1866.3 1507.7,1865.1 1505.6,1865.9 1504.3,1866.5 1501.9,1863.2 1498.9,1860.1 1495.9,1857 1492.9,1853.9 1489.9,1850.1 1486.9,1846.2 1485,1843.1ZM1503.4,1836.1 1504.9,1837.7 1505.6,1838.5 1504,1838.5 1503,1837.3ZM1563.4,1843.1 1562.3,1846.2 1561.9,1850.1 1560.4,1853.1 1560.8,1855.5 1557.4,1856.7 1553.3,1857.8 1552.1,1853.6 1548.4,1853.1 1547.3,1851.6 1543.9,1853.1 1539.8,1854.7 1539.4,1851.6 1535.6,1852 1531.9,1851.6 1531.1,1847.8 1529.7,1843.9 1527.7,1842.3 1526.7,1838.5 1525.9,1835.4 1525.1,1832.3 1526.3,1829.2 1527.7,1827.2 1528.9,1826.9 1531.1,1829.2 1533.4,1832.7 1536.4,1831.9 1540.2,1831.1 1541.2,1829.6 1547.7,1830.3 1551.4,1829.2 1554,1827.2 1554.8,1823.8 1555.9,1821.9 1557.4,1819.9 1557.8,1816.1 1560.4,1815.3 1566.4,1815.4 1566.4,1816.1 1567.9,1818.4 1567.2,1819.9 1568.3,1823 1569.4,1826.9 1571.7,1830 1575.2,1832 1570.5,1833.8 1568.7,1835.4 1567.5,1839.2 1566.4,1841.6ZM1494,1831.1 1495.9,1830.7 1497,1832.3 1495.9,1833.8 1494.4,1833ZM1503.7,1830.7 1504.3,1832.3 1502.7,1832.7 1501.9,1831.1ZM1469.2,1833 1467.4,1829.6 1468.9,1829.2 1471.1,1832.3 1471,1833.8ZM1461.7,1822.4 1464,1824.4 1463.6,1825.2 1461.3,1823.8 1460.6,1822.6ZM1520.6,1816.2 1521.8,1815.7 1522.5,1817.2 1521.8,1818.5 1520.8,1817.7ZM1580.6,1884.5 1584.5,1888.1 1581.6,1889.6 1576.6,1887.1 1575.7,1885.6ZM1600.3,1885.1 1605.2,1883 1605.7,1885.6 1602.3,1889.1 1597.8,1889.6ZM1594.4,1881.5 1585.5,1882.5 1580.6,1882 1580.1,1880.5 1588,1880 1595.4,1879ZM1570.9,1881.8 1566.4,1882.6 1564.2,1882.2 1563.8,1880.6 1566.4,1878.7 1569.4,1877.9 1572.4,1878.7 1576.6,1880 1574.7,1882ZM1562.6,1878.7 1563,1881.4 1560.4,1881.8 1560,1879.1ZM1554,1881 1552.9,1878.7 1555.9,1877.9 1557.8,1879.5 1556.6,1881.4ZM1673,1874.8 1673.7,1873.9 1669.3,1865.2 1659,1860.2 1649.6,1857.1 1643.7,1857.6 1639.7,1852 1648.1,1850 1641.2,1849 1635.8,1844.9 1634.8,1841.4 1643.2,1839.3 1649.6,1841.4 1650.6,1849.5 1654.5,1854.6 1661.9,1848.5 1668.8,1844.9 1678.2,1849.5 1684.1,1850.5 1684.1,1883.5 1678.7,1878.4 1673.7,1879.3 1673.7,1880 1669.3,1880 1667.8,1880 1668.3,1874.4ZM1634.8,1875.4 1638.2,1873.9 1637.8,1877.9 1635.3,1877.9ZM1652.5,1871.8 1650.1,1870.3 1650.6,1866.3 1653.5,1865.7ZM1616.1,1853.6 1615.6,1856.6 1611.1,1856.1 1610.2,1853.6ZM1629.9,1856.1 1621.5,1855.1 1619.5,1852.5 1627.4,1851.5 1634.3,1854.6ZM1590.4,1861.7 1588,1857.6 1585.5,1851 1582.1,1852.5 1582.6,1861.7 1582.6,1865.7 1577.6,1865.7 1577.6,1863.2 1578.1,1855.1 1574.7,1851.5 1577.1,1844.9 1579.6,1841.4 1579.6,1836.3 1581.1,1833.2 1585,1830.7 1594.9,1832.7 1602.3,1831.2 1606.2,1829.2 1602.8,1834.8 1597.8,1835.8 1588,1834.8 1583,1834.8 1581.1,1841.9 1585.5,1844.4 1590.4,1841.9 1597.3,1841.9 1591.9,1845.9 1588,1847 1589.5,1851.5 1592.4,1854.6 1595.9,1857.6 1595.7,1859.6 1596.4,1859.1 1596.4,1865.7 1593.4,1864.7 1593.4,1862.3ZM1606.7,1846.4 1605.2,1847.5 1601.8,1847 1601.8,1845.9ZM1657,1842.4 1656.5,1840.9 1660.9,1842.4 1659.4,1843.9ZM1634.8,1839.8 1631.3,1839.3 1630.9,1837.8 1635.8,1838.3ZM1624,1835.8 1620,1841.9 1618.5,1837.3 1617.5,1832.2 1620,1826.1 1623.5,1829.7 1621,1833.2ZM1605.2,1883 1610.2,1880.5 1616.6,1880 1612.6,1883 1605.7,1885.6Z"/><path fill="#92c5de" d="M1036.4,1832.2 1037.4,1825.6 1045,1825.6 1045,1832.2ZM1033.2,1819 1032,1820.8 1031.5,1818.2ZM1045,1825.6 1054.2,1826.1 1054.7,1830.7 1060.6,1832.7 1057.6,1838.3 1060.1,1843.9 1060.1,1847.5 1053.2,1849.5 1050.7,1849 1046.3,1849.5 1047.8,1854.6 1043.8,1857.4 1040.9,1853.6 1036.4,1849.5 1034.9,1847 1032.2,1840.9 1034.9,1839.3 1035.7,1835.3 1036.4,1832.2 1045,1832.2ZM1046.3,1849.5 1050.7,1849 1053.2,1849.5 1060.1,1847.5 1060.1,1843.9 1057.6,1838.3 1060.6,1832.7 1054.7,1830.7 1054.2,1826.1 1060.6,1826.1 1068.5,1828.7 1068.9,1826.1 1070.4,1823.1 1070.9,1819.5 1080.8,1819.5 1078.3,1825.6 1077.3,1832.2 1076.3,1839.8 1068.9,1848.5 1068,1855.1 1064.5,1859.1 1060.1,1862.2 1053.7,1860.7 1048.2,1862.7 1047.9,1862.5 1047.5,1861.7 1043.8,1857.4 1047.8,1854.6ZM1131.5,1921.1 1138.9,1916.5 1143.4,1918.6 1151.3,1922.1 1151.8,1928.2 1150.3,1933.3 1151.8,1937.9 1149.3,1941.9 1148.8,1945.5 1143.4,1951.1 1134,1950.1 1127.1,1946.5 1125.6,1941.4 1118.2,1935.9 1113.6,1927.7 1122.2,1928.5ZM703.2,1817 710.6,1827.6 706.7,1827.4 700.8,1830.7 695.3,1828.2 693.9,1825.6 695.8,1817.5 694.3,1814.9 693.4,1811.9 689.9,1810.9 686.5,1807.1 687.9,1803.3 689.9,1799.7 690.9,1798.1 692.5,1796 694.1,1794.5 698.2,1797 700.8,1800.2 702.5,1802.8 706.2,1806.3 707.7,1807.1 706.7,1811.9ZM722.9,1819 720,1825.6 713.6,1827.1 710.6,1827.6 703.2,1817 706.7,1811.9 707.7,1807.1 713.1,1807.6 717.5,1807.1 722.9,1807.8 721,1811.9ZM713.1,1950.6 715,1952.6 716,1959.2 721.5,1959.5 720,1967.3 719,1972.4 714.6,1976.5 710.6,1977 700.3,1976 705.2,1967.3 699.3,1963.3 693.4,1959.2 688.4,1958.2 680.3,1950.3 682,1941.4 685,1936.9 697.8,1935.3 702.2,1939.7 703.7,1949.6ZM787,1949.1 782.1,1953.9 781.2,1953.9 776.2,1953.9 769.3,1955.7 765.3,1958.2 760.9,1959.2 753,1964.3 750,1968.9 749.6,1977.5 748.6,1982.6 742.6,1988.7 736.7,1995.3 732.3,2000.9 725.9,2008.8 726.9,2003.4 720,1997.3 715,1994 713.1,1994.3 705.2,1990.7 713.1,1982.1 718,1978.5 723.9,1975.2 724.7,1970.4 720,1967.3 721.5,1959.5 716,1959.2 715,1952.6 713.1,1950.6 703.7,1949.6 702.2,1939.7 702.5,1937.9 704.2,1933.8 705.7,1929.8 701.7,1925.2 701.2,1920.1 692.4,1920.1 690.9,1906.9 684.5,1905.9 678.6,1901.3 671.7,1900.3 667.2,1895.7 666.7,1886.6 660.8,1887.6 652.4,1893.2 646,1892.9 641.1,1893.2 641.1,1885.6 633.2,1888.1 632.7,1885.6 629.3,1883 624.4,1874.9 628.3,1868.3 629.8,1863.2 639.1,1859.7 644.3,1858.6 647,1842.9 643.8,1838.3 643.8,1834.5 647,1834.3 648,1832.2 644.8,1831.7 645.1,1828.7 653.9,1828.7 658.4,1828.7 659.3,1831.2 662.3,1833.5 666.3,1833.2 673.6,1827.6 676.6,1826.1 672.7,1824.6 670.7,1816.5 673.6,1816.5 679.6,1817 686.5,1814.4 689.9,1810.9 693.4,1811.9 694.3,1814.9 695.8,1817.5 693.9,1825.6 695.3,1828.2 700.8,1830.7 706.7,1827.4 710.6,1827.6 713.6,1827.1 720,1825.6 728.4,1826.1 730.3,1823.1 734.5,1816.5 737.2,1817.5 739.2,1826.6 743.1,1828.7 742.6,1832.7 740.7,1836.8 749.6,1838.3 750.5,1844.4 753.5,1840.3 759.9,1842.4 765.8,1844.9 769.3,1847.5 770.7,1850 775.2,1849.5 783.1,1852 791.9,1851.8 799.3,1856.1 805.7,1862.2 815.1,1863.7 815.6,1866.8 817.6,1873.4 817.1,1878.2 813.1,1886.1 807.2,1891.7 806.5,1893.2 799.3,1903.3 796.9,1907.4 796.9,1917.6 795.9,1927.2 793.4,1933.3 790.5,1940.4 790.4,1940.5 790.4,1940.6 787,1947ZM622.8,1743.8 623.6,1745 627.5,1745.7 631.7,1745.3 635.8,1745.9 636.1,1745.9 635.6,1742.8 636.3,1740.2 635.8,1737.6 634.3,1736.8 630.7,1736.6 628.1,1737.6 629.6,1739.2 631.7,1740.2 632.2,1742.3 630.7,1743 625.4,1742.8ZM1082.8,1616.3 1085.2,1617 1087.7,1618.5 1089.2,1619.6 1088.3,1621 1087,1621.5 1085.2,1621.9 1084.3,1624 1082.8,1623.1 1081,1621.9 1080.3,1621.5 1080.2,1621.4 1080.3,1621 1081,1618.2ZM1093.2,1629.6 1092.3,1630.3 1091.3,1628.9 1089.8,1626.4 1090.1,1624.2 1091.3,1623.3 1093.8,1622.6 1096.8,1622.4 1100.5,1622.9 1102,1624.7 1101.7,1627 1099.3,1628.5 1096.2,1628.9 1093.2,1629.6ZM1092.6,1607.5 1094.4,1609.4 1096.8,1610.3 1099.9,1611.2 1100.5,1613.5 1099.6,1614.9 1101.1,1616.8 1102,1618.2 1100.5,1620.1 1099.6,1621.9 1100.5,1622.9 1096.8,1622.4 1093.8,1622.6 1095.3,1621.9 1095.9,1620.5 1094.1,1619.1 1091.9,1617.7 1090.7,1618 1089.2,1619.6 1087.7,1618.5 1085.2,1617 1082.8,1616.3 1085.2,1616.1 1084.6,1614.9 1085.2,1613.1 1083.7,1611.2 1082.8,1609.4 1084.6,1607.9 1083.4,1606.6 1082.5,1604.2 1085.2,1603.3 1087.7,1603.8 1090.1,1603.3 1090.1,1604.7ZM1124.9,1591.7 1127.9,1592.9 1130.4,1594.5 1132.2,1596.8 1134.1,1599.1 1136.5,1601 1135.9,1601.9 1133.4,1601.7 1131.6,1602.9 1130.4,1604.7 1128.5,1606.1 1127.9,1603.3 1127.9,1600.1 1126.1,1597.3 1124.3,1595.4 1122.4,1593.5 1120.6,1592.6 1122.4,1591.4ZM1121.8,1624 1121.8,1624.1 1120,1624.7 1118.8,1625.9 1117.6,1626.1 1117.5,1626.1 1115.1,1627.3 1112.1,1627 1109.6,1626.4 1106.6,1626.8 1103.6,1627.3 1102,1627 1102,1624.7 1100.5,1622.9 1099.6,1621.9 1100.5,1620.1 1102,1618.2 1101.1,1616.8 1099.6,1614.9 1100.5,1613.5 1102.3,1614.5 1105.4,1614.7 1109.6,1614.9 1115.1,1615.4 1118.8,1614 1121.8,1613.3 1126.7,1614 1129.8,1614.9 1129.2,1616.8 1126.7,1618.2 1126.1,1621 1124.9,1622.4 1125.8,1623.8 1121.8,1624ZM1111.8,1550.8 1120.2,1554.3 1120.2,1557.4 1116.3,1558.4 1115.3,1562 1109.4,1563.5 1104.9,1563.2 1101.5,1561.2 1101.5,1558.4 1097.5,1557.4 1093.1,1556.4 1092.9,1552.3 1097.5,1550.8ZM1246.4,1758.1 1238,1761.1 1230.6,1764.1 1223.2,1768.7 1210.9,1772.3 1203.5,1773 1202,1769.7 1200.6,1761.6 1200.1,1754 1202,1752.5 1205,1748.9 1212.9,1749.4 1220.8,1750.9 1230.6,1742.8 1245.4,1740.8 1250.8,1752.7ZM1289.3,1677.3 1287.3,1666.1 1287.8,1663.1 1290.8,1656.5 1297.7,1658.2 1300.6,1655.2 1307,1652.9 1308.5,1648.8 1312.4,1647.8 1316.9,1647.6 1323.3,1648.3 1331.7,1646.3 1335.1,1644.8 1341.5,1644.8 1343,1650.9 1350.4,1647.1 1358.3,1648.1 1353.8,1650.1 1346.9,1650.4 1340,1654.2 1342,1658.5 1339.6,1662.8 1333.6,1664.6 1335.6,1667.6 1330.7,1669.7 1330.7,1675.2 1324.3,1676.8 1316.4,1680.3 1315.9,1685.7 1305,1687.9 1297.2,1687.9 1289,1685.7 1293.7,1679.8ZM1263,1701.2 1264,1700.9 1266.1,1700.4 1266.1,1700.9 1262.5,1702.1 1261.6,1701.9ZM1218.3,1639.7 1220.8,1638.2 1225.7,1635.6 1227.2,1637.1 1225.7,1640.2 1228.6,1642.2 1230.1,1642.2 1230.6,1646.8 1237,1647.3 1245.4,1651.4 1255,1649.9 1255.3,1649.8 1254.8,1647.6 1260.2,1644.3 1271,1643 1281.4,1646.8 1287.3,1651.1 1290.8,1651.1 1290.8,1656.5 1287.8,1663.1 1287.3,1666.1 1289.3,1677.3 1293.7,1679.8 1289,1685.7 1293.7,1691.5 1298.6,1693.8 1298.4,1698.6 1301.1,1701.7 1293.7,1704.2 1292.7,1709.3 1279.9,1708.3 1271.5,1706.7 1269.1,1699.6 1266.6,1699.4 1264,1700.1 1263,1700.4 1260.9,1701.4 1258.9,1702.6 1256.8,1702 1253.3,1701.1 1250.6,1699.5 1248.2,1697.9 1246.3,1696.3 1243.7,1695.5 1242.4,1694.4 1241.1,1692.3 1239.7,1690.3 1238.6,1688.4 1236.8,1685.5 1235.8,1683.8 1233.4,1684.4 1231.7,1683 1231.3,1682.5 1230.3,1683.3 1229.9,1684.7 1228.1,1684.8 1227.2,1683.6 1225.7,1682.5 1225.6,1679.5 1224.2,1679.4 1224.1,1677.4 1224.7,1675.8 1215.8,1669.7 1212.9,1664.6 1216.8,1655.9 1212.9,1654.4 1209.9,1648.6 1207,1644.3 1207.9,1637.1 1209.9,1635.6 1210.7,1637.1 1212.9,1639.2 1216.3,1639.9ZM1508.1,1718.9 1515,1721.5 1515,1725.5 1521.4,1728.1 1515.5,1731.6 1511.1,1740.8 1513.5,1745.9 1519.5,1753 1522.9,1755.5 1526.4,1762.1 1527.8,1771.3 1527.3,1776.3 1521.4,1782.4 1516.5,1784.5 1515,1788.5 1507.6,1793.6 1506.5,1793.6 1505.7,1793.1 1506.6,1786.5 1504.2,1784.5 1507.1,1781.9 1512.6,1782.4 1511.1,1778.4 1519,1774.8 1519.2,1762.6 1519,1760.1 1514,1751.4 1507.6,1743.3 1501.2,1739.3 1506.2,1738.2 1501.7,1733.2 1496.8,1730.6 1492.8,1723.5 1501.2,1723ZM1867.4,1925.2 1869.9,1928.2 1866.5,1930.3 1863,1929.2 1863,1926.7ZM1875.8,1919.6 1876.3,1921.6 1871.4,1923.7 1869.9,1922.6ZM1382.7,1787.8 1384.4,1787.5 1387.9,1792.1 1389.8,1794.1 1392.5,1799.7 1391.8,1804.3 1388.8,1806.1 1386.4,1807.2 1383.7,1806.3 1382.7,1802.2 1382.4,1796.7 1382.9,1792.1Z"/><path fill="#a3e4d7" d="M1077.8,1984.1 1082.8,1984.1 1087.7,1981.6 1087.7,1963.3 1091.1,1973.7 1096.1,1973.7 1102.5,1965.8 1110.8,1968.4 1115.3,1967.3 1116.8,1962.8 1121.4,1960.5 1122.7,1957.2 1128.6,1952.1 1134,1950.1 1143.4,1951.1 1146.3,1960.7 1146.8,1968.9 1146.8,1969.4 1143.9,1967.9 1141.9,1968.9 1140.9,1973.4 1141.7,1975.5 1143.4,1976 1147.3,1973.7 1151.3,1973.7 1149.8,1977 1149.3,1981.6 1147.3,1983.6 1142.1,1988.9 1138,1995.3 1126.6,2004.9 1119.2,2008.5 1115.8,2010 1110.8,2011 1102.5,2010.3 1097.5,2010.5 1092.1,2012.1 1087.7,2014.2 1083.7,2012.6 1082,2011.8 1080.1,2011.8 1079.8,2009.5 1077.3,2003.4 1079.1,1999.9 1075.9,1993.3 1073.4,1989.2 1070.2,1982.6 1074.9,1983.1ZM1132.5,1989.4 1134.3,1986.7 1130.6,1982.6 1125.6,1984.1 1122.2,1987.7 1124.2,1991.2 1127.6,1993 1128.6,1991.2ZM728.4,1826.1 720,1825.6 722.9,1819 721,1811.9 722.9,1807.8 727.9,1809.6 731.3,1812.4 734.3,1815.5 734.5,1816.5 730.3,1823.1ZM543.5,1756 544,1754 540.6,1749.9 540.6,1747.1 550.4,1747.1 550.4,1756.5 551.2,1756.6 552.4,1756.8 553.7,1757.3 552.2,1759.2 550.6,1763.2 548.5,1764.8 546.5,1767.9 541.3,1766.3 537.1,1764.8 534.6,1763.4 534.6,1760.6 536.9,1756ZM551.2,1765.8 554.3,1766.8 556.8,1767.9 557.4,1770.4 552.7,1770.4 548.5,1768.9 546.5,1767.9 548.5,1764.8ZM658,1744.3 660.8,1743.5 665.5,1743.8 665.5,1745.9 661.8,1746.4 658.2,1746.1ZM1107.2,1594.2 1112.1,1594.9 1115.7,1594 1120.6,1592.6 1122.4,1593.5 1124.3,1595.4 1126.1,1597.3 1127.9,1600.1 1127.9,1603.3 1128.5,1606.1 1130.4,1606.8 1133.4,1606.8 1135.2,1607.3 1136,1605.7 1137.1,1607.5 1134.7,1609.4 1130.4,1611.7 1129.8,1614.9 1126.7,1614 1121.8,1613.3 1118.8,1614 1115.1,1615.4 1109.6,1614.9 1105.4,1614.7 1102.3,1614.5 1100.5,1613.5 1099.9,1611.2 1096.8,1610.3 1094.4,1609.4 1092.6,1607.5 1090.1,1604.7 1090.1,1603.3 1092.6,1602.4 1094.4,1601 1096.8,1597.7 1099.3,1595.4 1101.4,1593.5 1103.6,1593.8ZM1019.4,1582.5 1021.1,1584.3 1020.4,1586.1 1017.7,1585.6 1017.4,1583.8ZM1013.7,1575.9 1017.9,1577.5 1017.2,1579.2 1018.7,1579.5 1020.6,1581.5 1019.4,1582.5 1017.4,1583.8 1017.7,1585.6 1013.3,1584.3 1013,1582.5 1009.8,1583.3 1004.4,1579.2 1001.7,1577.7 1005.6,1576.4 1010.3,1576.2ZM1022.6,1573.4 1018.7,1573.9 1019.7,1576.2 1018.7,1579.5 1017.2,1579.2 1017.9,1577.5 1013.7,1575.9 1010.3,1576.2 1005.6,1576.4 1008.8,1573.4 1011.8,1568.6 1015.7,1567 1023.1,1566 1024.6,1566.5 1023.8,1571.1ZM1036.4,1595.7 1036.4,1598 1040.6,1599.3 1038.9,1602.1 1034.9,1601.6 1033.5,1604.4 1031,1602.1 1028,1603.9 1023.6,1604.1 1022.6,1601.6 1018.7,1602.9 1019.2,1602.1 1023.6,1596.5 1026.6,1595.5 1031.5,1595ZM1035.4,1618.9 1036.2,1623.4 1034.9,1627 1031.5,1624.4 1031.5,1621.9ZM992.6,1619.9 985.6,1619.6 982.2,1618.6 980.2,1617.1 982.2,1613.8 983.7,1606.2 983.4,1602.9 978.3,1598 975.3,1596 967.9,1594.5 965.7,1591.4 971.8,1589.4 981.2,1590.2 981.2,1585.1 983.2,1586.6 989.6,1585.8 996.5,1582.8 997,1578.7 1001.7,1577.7 1004.4,1579.2 1009.8,1583.3 1013,1582.5 1013.3,1584.3 1017.7,1585.6 1020.4,1586.1 1023.6,1587.4 1029.5,1588.4 1026.6,1595.5 1023.6,1596.5 1019.2,1602.1 1018.7,1602.9 1022.6,1601.6 1023.6,1604.1 1021.9,1608.2 1023.6,1610.2 1023.1,1612 1027.1,1613 1026.1,1614.9 1023.1,1616.8 1019.4,1618.4 1015.5,1617.3 1008.8,1616.3 1004.4,1618.4 1004.6,1621.7 997.7,1621.4 996.2,1620.9ZM1070.6,1596.4 1068.8,1599.6 1066.3,1600.1 1066.1,1600.1 1062.6,1600.7 1059.3,1601.4 1056.6,1601.1 1050.2,1600.1 1049.2,1598.3 1044.3,1598.8 1040.6,1599.3 1036.4,1598 1036.4,1595.7 1039.4,1597 1042.8,1596 1049.2,1595.2 1053.2,1596 1052.2,1592.7 1055.1,1591.4 1057.1,1589.7 1061.6,1590.4 1063,1588.4 1068.5,1589.7 1072.6,1590.4 1072.9,1591.3 1072.7,1591.4 1073,1594 1071.2,1595.4 1070.6,1596.4ZM1069.4,1580 1072.4,1582.3 1076.3,1581.8 1082,1585.8 1078.3,1587.9 1073.9,1589.1 1072.6,1590.4 1068.5,1589.7 1063,1588.4 1061.6,1590.4 1057.1,1589.7 1050.7,1583.8 1049.7,1582.3 1053.2,1581 1059.6,1578 1062,1579 1064.5,1579.2ZM1058.8,1568.8 1061.1,1570.3 1061.8,1572.9 1063,1578.2 1062,1579 1059.6,1578 1053.2,1581 1049.7,1582.3 1050.7,1583.8 1057.1,1589.7 1055.1,1591.4 1052.2,1592.7 1053.2,1596 1049.2,1595.2 1042.8,1596 1039.4,1597 1036.4,1595.7 1031.5,1595 1026.6,1595.5 1029.5,1588.4 1023.6,1587.4 1020.4,1586.1 1021.1,1584.3 1019.4,1582.5 1020.6,1581.5 1018.7,1579.5 1019.7,1576.2 1018.7,1573.9 1022.6,1573.4 1023.8,1571.1 1024.6,1566.5 1029,1565 1031.5,1563.5 1033,1563 1031.7,1558.4 1035.7,1558.7 1038.4,1560.4 1043.3,1560.9 1042.8,1563.2 1048.7,1562 1055.1,1559.9 1059.1,1563.5 1060.1,1566.5ZM1104.9,1563.2 1106.9,1569.6 1103.5,1571.6 1105.4,1572.6 1105.4,1575.7 1107.4,1580.3 1101,1585.3 1100.2,1587.9 1098,1587.6 1097.4,1587.5 1093.8,1586.6 1092.4,1586.9 1092.1,1586.9 1087.3,1587.3 1086.4,1587.3 1086.3,1587.2 1082,1585.8 1076.3,1581.8 1072.4,1582.3 1069.4,1580 1064.5,1579.2 1062,1579 1063,1578.2 1061.8,1572.9 1061.1,1570.3 1058.8,1568.8 1060.1,1566.5 1059.1,1563.5 1068.9,1561.5 1079.8,1558.9 1081.3,1560.9 1085.7,1560.7 1101.5,1561.2ZM1264.1,1710.8 1264,1715 1263,1715.2 1262.5,1715.7 1261.3,1719.5 1260.7,1722.2 1247.8,1720.6 1243.7,1715 1244.7,1715.2 1246.4,1715.3 1248.2,1714.6 1250.6,1714.3 1253.7,1714.6 1255.8,1714.3 1257.5,1713.1 1259.2,1711.5 1260.9,1709.9 1262.7,1708.1 1264,1706.9 1265.6,1705 1265.9,1707 1266.8,1707.3 1266.8,1710.3 1266.8,1710.6ZM1215.8,1634.1 1218.3,1636.6 1218.3,1639.7 1216.3,1639.9 1213.4,1636.6 1209.9,1635.6 1204.3,1633.6 1204,1628.5 1210.9,1627.5 1213.9,1630ZM1204.3,1633.6 1209.9,1635.6 1207.9,1637.1 1207,1644.3 1209.9,1648.6 1197.8,1648.8 1186.3,1650.4 1176.4,1650.1 1169.5,1650.4 1170,1653.2 1167.5,1654.4 1166.1,1654.7 1167.5,1651.4 1164.6,1651.4 1159.6,1650.4 1155.2,1653.7 1150.8,1654.2 1146.8,1651.9 1146,1651.3 1143.2,1650.3 1140.1,1651.3 1138.9,1653.4 1137.1,1652.6 1135.2,1653.6 1132.8,1653.1 1130.4,1652.2 1127.9,1651.3 1126.7,1649.8 1124.9,1648 1122.4,1646.6 1123.7,1645.2 1122.4,1643.8 1120.6,1642.4 1121.8,1641.5 1120,1639.6 1121.2,1638.2 1120,1636.4 1118.2,1634.5 1118.8,1632.6 1120.6,1632.2 1123.7,1631.7 1126.7,1631 1129.8,1630.8 1134.1,1630.5 1135.2,1629.8 1132.2,1627.8 1135.2,1628 1138.9,1628.2 1142.6,1628 1146,1626.8 1148.3,1625.2 1153.2,1623.9 1161.6,1623.7 1168,1627.5 1178.4,1629.3 1184.8,1629 1193.7,1626.5 1198.6,1626.7 1204,1628.5ZM1120,1624.7 1121.8,1624 1125.8,1623.8 1127.3,1624.7 1129.8,1626.1 1131.6,1627.3 1130.4,1628.5 1127.3,1628.7 1124.3,1629.4 1121.8,1630.3 1120,1631.5 1118.8,1632.1 1118.8,1630.8 1118.2,1629.8 1119.4,1627 1118.8,1625.9ZM868.8,1504.6 877.2,1500 883.1,1501.5 885.6,1505.1 889,1502 899.4,1501.5 909.3,1499.5 917.1,1502 922.1,1506.1 917.6,1510.1 907.8,1513.2 896.4,1515.2 889,1514.2 877.7,1512.9 880.7,1510.7 870.8,1507.6 880.7,1506.6Z"/><path fill="#008080" d="M607.6,1835.3 613,1835.3 617.9,1837.8 616.5,1844.9 611,1850.5 605.6,1852.5 602.7,1854.6 601.2,1860.7 599.2,1862.7 592.6,1857.6 593.3,1854.6 595.3,1850.5 594.8,1848.5 590.3,1848.5 590.8,1842.4 594.3,1837.3 594.5,1833.2 600.4,1830.2 605.1,1833.2ZM599.2,1862.7 601.2,1860.7 602.7,1854.6 605.6,1852.5 611,1850.5 616.5,1844.9 617.9,1837.8 622.4,1839.8 628.3,1846.4 629.8,1849.5 643.8,1851 640.6,1856.6 644.3,1858.6 639.1,1859.7 629.8,1863.2 628.3,1868.3 624.4,1874.9 629.3,1883 632.7,1885.6 633.2,1888.1 641.1,1885.6 641.1,1893.2 646,1892.9 650.5,1900.8 649,1906.4 649.5,1909.4 647,1912.5 648,1915 646,1916.5 649,1919.6 646,1925.2 646.5,1926.2 642.3,1930.5 637.2,1925.7 630.8,1921.6 622.9,1917.6 618.4,1915 613,1907.9 608.8,1898.5 606.1,1893.2 601.7,1883.5 597.2,1876.4 594.8,1871.3 589.4,1867.8 588.4,1861.2 593.3,1854.6 592.6,1857.6ZM660.8,1887.6 666.7,1886.6 667.2,1895.7 671.7,1900.3 678.6,1901.3 684.5,1905.9 690.9,1906.9 692.4,1920.1 701.2,1920.1 701.7,1925.2 705.7,1929.8 704.2,1933.8 702.5,1937.9 702.2,1939.7 697.8,1935.3 685,1936.9 682,1941.4 680.3,1950.3 674.1,1949.1 672.2,1953.1 667.7,1949.6 662.3,1948 657.9,1953.1 654.4,1950.1 652.9,1946.5 651.5,1940.9 651.5,1935.9 649,1933.3 646.5,1926.2 646,1925.2 649,1919.6 646,1916.5 648,1915 647,1912.5 649.5,1909.4 649,1906.4 650.5,1900.8 646,1892.9 652.4,1893.2ZM644.1,2117.7 639.1,2116.2 634.2,2113.7 639.6,2111.6 642.6,2109.1 643.6,2106 647.5,2104.5 651,2104.8 651,2116.2ZM625.8,2049.6 624.8,2040.5 627.8,2035.4 626.3,2026.3 628.8,2023.7 631.3,2017.6 636.2,2004.9 636.7,1991.2 637.7,1984.6 639.6,1975 641.6,1966.3 642.1,1957.2 643.6,1946 643.3,1939.9 642.3,1930.5 646.5,1926.2 649,1933.3 651.5,1935.9 651.5,1940.9 652.9,1946.5 654.4,1950.1 657.9,1953.1 658.9,1954.1 657.4,1959.2 652,1961.8 651.5,1970.9 652.4,1974 648,1979 644.6,1985.6 644.1,1991.7 641.6,1996.8 643.6,2005.4 645.1,2011 642.1,2016.1 642.1,2020.7 638.6,2023.2 638.2,2034.4 635.7,2038.5 634.7,2044.6 635.4,2051.2 633.7,2055.7 636.7,2060.8 635.7,2065.4 637.7,2069.5 634.7,2075.6 632.2,2079.6 631.3,2085.7 627.3,2087.7 628.3,2093.3 632.7,2094.9 632.7,2098.4 634.7,2101.5 644.1,2101.5 652,2103.5 646.5,2104 639.6,2105.5 639.6,2107.3 637.7,2111.1 631.7,2109.1 626.8,2105.5 620.9,2102.5 619.4,2093.8 617.5,2083.7 616.5,2074.5 621.9,2068.4 626.3,2060.8 629.8,2053.2 626.8,2050.6 627.3,2057.8 622.4,2056.8 623.4,2049.6 626.3,2050.1ZM652.7,2107 656.4,2111.6 668.2,2114.9 661.3,2117 651,2116.2 651,2104.8ZM672.2,1953.1 674.1,1949.1 680.3,1950.3 688.4,1958.2 693.4,1959.2 699.3,1963.3 705.2,1967.3 700.3,1976 710.6,1977 714.6,1976.5 719,1972.4 720,1967.3 724.7,1970.4 723.9,1975.2 718,1978.5 713.1,1982.1 705.2,1990.7 703.2,1997.3 702.2,2002.4 701.2,2009.5 701.2,2010 701.2,2013.1 707.2,2016.6 706.7,2021.2 709.6,2022.2 705.7,2030.3 699.3,2033.4 688.4,2035.4 683,2034.9 682,2043.5 674.6,2046.3 668.7,2044.6 668.2,2048.1 674.6,2051.2 672.2,2055.2 668.7,2057.3 667.2,2063.9 660.3,2066.9 656.4,2071 655.9,2073.5 661.3,2076.1 664.8,2080.1 655.9,2087.7 649.5,2092.8 648.5,2099.4 652,2103.5 644.1,2101.5 634.7,2101.5 632.7,2098.4 632.7,2094.9 628.3,2093.3 627.3,2087.7 631.3,2085.7 632.2,2079.6 634.7,2075.6 637.7,2069.5 635.7,2065.4 636.7,2060.8 633.7,2055.7 635.4,2051.2 634.7,2044.6 635.7,2038.5 638.2,2034.4 638.6,2023.2 642.1,2020.7 642.1,2016.1 645.1,2011 643.6,2005.4 641.6,1996.8 644.1,1991.7 644.6,1985.6 648,1979 652.4,1974 651.5,1970.9 652,1961.8 657.4,1959.2 658.9,1954.1 657.9,1953.1 662.3,1948 667.7,1949.6ZM554.3,1746.4 556.3,1742.8 557.7,1743.1 557.4,1743.8 557.1,1744.3 556.8,1748.4 555.3,1752 553.7,1756.1 551.2,1756.6 550.4,1756.5 550.4,1746.7ZM573.5,1782.2 577.6,1783.2 580.7,1787.3 582.3,1789.3 581.3,1790.9 581.8,1793.5 582.9,1795 580.7,1793.5 578.7,1791.4 577.6,1788.3 574.5,1786.8 572.9,1787.3 570.9,1785.3 572.5,1787.8 570.4,1787.8 567.8,1785.3 567.2,1781.2 567.8,1781.7ZM201.7,1725 203.7,1724.5 203.9,1726ZM111.7,1574.7 111.7,1573.1 121.6,1573.1 121.6,1575.2ZM129,1571.1 138.8,1571.6 138.8,1573.1 129,1572.1ZM162,1567.6 156.1,1566.5 159.5,1565.5ZM170.9,1565 166,1563.5 169.9,1562.5ZM163.5,1531.5 166,1530 172.4,1531 173.4,1533.5ZM142.3,1515.7 146.2,1513.2 157.6,1514.7 156.1,1517.3ZM225.8,1738.2 221.7,1741 219.9,1737.2 222.1,1734.4ZM216.7,1731.1 220.2,1731.1 220.2,1732.4ZM211.8,1729.1 209.1,1728.1 210.8,1727.1ZM658.9,1609.7 651.5,1612.3 643.1,1615.8 640.6,1620.4 639.6,1622.4 644.1,1623.9 644.3,1625.5 637.2,1626.7 629.8,1628 624.8,1630.5 634.2,1629 624.4,1632.1 622.9,1636.6 619.7,1639.4 617,1637.7 618.9,1641.7 615,1648.3 613,1649.3 614.5,1650.4 617,1658.2 611.5,1661 605.1,1665.1 598.7,1668.6 590.3,1674.7 587.9,1681.3 588.4,1685.9 591.8,1692.5 594.5,1700.6 594,1706.2 592.8,1709.3 589.4,1709.5 585.9,1704.7 584.4,1701.7 581.2,1696.1 581,1690 575.6,1684.9 573.1,1685.4 568.7,1686.4 562.7,1682.9 555.3,1683.4 549.4,1683.4 547.5,1683.9 549.4,1689.5 544.5,1689.5 539.1,1688.5 534.6,1687.2 526.8,1686.4 522.3,1687.9 515.9,1692 510,1697.1 509,1700.6 510,1705.5 500.6,1703.2 498.7,1697.6 494.2,1692.5 491.8,1688.2 489.3,1685.9 483.9,1685.9 480.9,1690 474.5,1687.4 472,1681.9 464.2,1676 455.8,1676 455.8,1678.1 441.6,1678.1 423.3,1672.2 411.9,1672.2 410.9,1668.6 405.5,1664.6 401.1,1663.1 394.7,1661.8 388.3,1651.4 385.3,1645.3 382.8,1642.7 378.9,1636.6 375.9,1632.1 376.9,1625 375.4,1619.9 377.9,1611.2 378.4,1602.6 374.9,1594 374.5,1591.4 382.8,1591.9 385.8,1596 384.1,1588.4 520.1,1588.4 522.8,1589.9 530.7,1590.4 538.1,1593.2 548,1593.5 555.3,1592.4 570.6,1599 572.6,1601.1 577,1603.1 582.5,1607.2 583,1618.9 579.5,1623.4 582,1625.5 587.4,1622.9 599.7,1619.9 599.5,1617.6 604.6,1615.8 610.6,1615.8 613,1612.8 619.4,1608.7 636.7,1608.7 640.1,1606.7 642.6,1602.6 644.1,1600.1 648,1596.3 652.4,1596.8 654.9,1598 654.9,1605.1 656.9,1607.7ZM239.9,1543.7 235,1547.7 226.1,1546.2 228.6,1542.7 235.9,1540.6ZM198,1538.6 190.6,1539.6 191.6,1534.5 180.7,1533 174.3,1529.5 170.9,1524.4 175.8,1519.3 185.7,1516.8 195.5,1514.2 196.5,1509.1 188.1,1509.6 175.8,1509.6 168.4,1508.1 160.5,1503.8 170.9,1500.5 181.7,1499 191.1,1500.5 185.7,1496.9 180.7,1493.4 166.9,1490.1 175.8,1487.3 185.7,1484.2 195.5,1480.2 210.3,1477.6 217.2,1474.8 230,1477.1 239.9,1478.1 254.7,1479.2 274.4,1481.7 294.1,1483.5 294.1,1531 303.5,1532.5 311.4,1537.6 321.2,1533.5 328.6,1538.1 331.6,1540.6 339.5,1549.8 348.3,1552.8 347.8,1556.9 344.9,1559.4 340,1556.4 331.1,1552.8 324.7,1547.7 316.3,1541.6 308.9,1537.6 300,1534.5 291.6,1532.5 279.8,1532.5 269.5,1528.4 259.6,1531 252.2,1534 241.4,1536.6 242.8,1528.9 249.8,1526.4 241.4,1528.4 236.9,1532 232.5,1535.5 229,1541.1 217.7,1547.7 207.9,1552.8 195.5,1556.9 185.7,1559.4 176.8,1560.4 186.2,1556.4 198,1552.8 207.9,1547.7 212.8,1539.1 206.4,1539.6ZM371.5,1581.8 378.9,1586.9 380.9,1591.9 370.5,1589.4 356.2,1579.2 360.7,1578.7ZM343.4,1570.6 339.5,1572.1 334.5,1566.5 333.5,1562 340,1563ZM427.2,1490.3 419.8,1492.4 437.1,1493.4 446.9,1491.9 456.8,1494.4 459.2,1499 466.6,1489.3 476.5,1491.9 488.8,1493.4 503.6,1489.8 508.5,1489.3 515.9,1490.8 517.4,1486.9 515.9,1489.3 498.7,1488.3 498.7,1484.2 508.5,1482.2 518,1485.2 518.4,1484.2 513.5,1475.1 523.3,1471.5 533.2,1476.6 535.6,1483.2 543,1484.2 543,1489.8 555.3,1487.8 567.7,1482.7 584.9,1482.7 588.4,1485.8 588.4,1489.3 582.5,1490.8 588.4,1494.4 580,1500.5 567.7,1499.5 561.8,1500.5 564.7,1502.5 565.2,1502 575.1,1503.5 589.9,1507.1 593.8,1512.2 584.9,1513.7 570.1,1516.2 560.3,1514.7 560.3,1507.1 562,1505.3 560.3,1505.6 555.3,1511.2 545.5,1512.2 541.5,1514.7 533.2,1518.3 524.8,1526.4 522.3,1532.5 521.8,1537.6 530.7,1539.1 533.2,1546.7 542,1546.7 555.3,1550.8 570.1,1556.4 583.4,1557.4 583.9,1568.1 587.9,1572.1 592.3,1576.7 596.3,1577.7 600.7,1572.1 599.7,1563 596.3,1559.4 607.1,1554.3 611.5,1547.7 607.1,1541.6 602.2,1538.6 607.1,1532.5 604.6,1524.9 603.7,1520.3 617,1520.8 625.3,1520.1 636.7,1525.9 646.5,1527.4 645.1,1535 644.1,1538.6 653.9,1540.6 663.8,1538.6 670.7,1530.7 673.6,1535 681,1541.6 686,1548.8 693.4,1556.4 703.2,1559.9 706.7,1560.4 714.6,1566.5 714.1,1572.1 708.6,1576.2 699.8,1577.2 693.4,1582.3 678.6,1581.8 661.8,1582.3 656.4,1586.9 649,1591.4 644.1,1595.5 638.2,1599.6 644.1,1598.5 651.5,1591.9 663.8,1587.4 671.7,1589.4 666.3,1593.5 662.3,1593.5 669.2,1598.5 670.7,1602.6 676.1,1604.1 684,1604.1 688.4,1605.7 691.4,1598.5 694.3,1603.6 688.4,1607.7 676.1,1610.7 666.3,1616.3 662.8,1613.8 664.8,1610.7 671.7,1607.2 666.3,1607.4 663.3,1607.4 658.9,1609.7 656.9,1607.7 654.9,1605.1 654.9,1598 652.4,1596.8 648,1596.3 644.1,1600.1 642.6,1602.6 640.1,1606.7 636.7,1608.7 619.4,1608.7 613,1612.8 610.6,1615.8 604.6,1615.8 599.5,1617.6 599.7,1619.9 587.4,1622.9 582,1625.5 579.5,1623.4 583,1618.9 582.5,1607.2 577,1603.1 572.6,1601.1 570.6,1599 555.3,1592.4 548,1593.5 538.1,1593.2 530.7,1590.4 522.8,1589.9 520.1,1588.4 384.1,1588.4 381.8,1586.9 375.4,1583.3 368,1579.7 360.7,1575.7 358.2,1570.6 353.3,1565.5 347.3,1561.5 344.9,1559.4 347.8,1556.9 348.3,1552.8 339.5,1549.8 331.6,1540.6 328.6,1538.1 321.2,1533.5 311.4,1537.6 303.5,1532.5 294.1,1531 294.1,1483.5 304,1484.2 316.3,1487.3 323.7,1484.7 333.5,1484.2 343.4,1481.7 353.3,1481.7 358.2,1479.2 368,1484.2 375.4,1481.7 387.8,1482.7 407.5,1486.8 418.6,1487.2 414.9,1486.8 409.9,1481.7 427.2,1480.2 409.9,1478.7 405,1474.1 409.4,1468.2 405,1470 392.7,1474.1 380.4,1475.6 373,1471.5 370.5,1467.5 374,1461.4 390.2,1458.8 409.9,1459.9 419.8,1463.9 411.4,1467.4 427.2,1466.5 442,1469 456.8,1465.4 469.1,1467.5 474,1476.6 488.8,1481.7 488.8,1486.8 469.1,1489.3 446.9,1488.8 429.7,1488.3 422.8,1487.6ZM511,1462.4 513.5,1469 501.1,1475.1 486.3,1474.1 483.9,1466.5 496.2,1461.4ZM530.7,1471.5 518.4,1470.5 515.9,1466.5 520.8,1460.9 543,1461.4 545.5,1466.5ZM412.4,1458.8 412.4,1452.7 432.1,1449.7 451.8,1447.7 466.6,1449.7 469.1,1453.8 456.8,1456.8 432.1,1459.3ZM476.5,1456.3 476.5,1450.2 491.3,1447.7 506.1,1448.2 508.5,1453.3 496.2,1456.3ZM402.5,1452.2 382.8,1451.2 382.8,1447.2 397.6,1444.6 417.3,1443.6 417.3,1448.7ZM496.2,1442.1 471.6,1445.1 469.1,1439.5 481.4,1434.5 501.1,1438ZM671.7,1600.6 683.5,1601.3 681,1603.6 673.6,1602.6ZM722.9,1585.8 727.9,1590.4 729.3,1596 725.4,1600.6 721.9,1596 713.6,1599 713.1,1595.5 696.8,1595.5 700.8,1590.4 705.7,1580.8 713.6,1575.2 715.5,1579.7 710.6,1584.3ZM671.2,1583.8 683.5,1586.3 684.5,1587.9 673.6,1585.8ZM594.8,1552.8 597.2,1550.3 600.7,1551.8 598.7,1553.8ZM577.5,1518.3 584.9,1517.8 594.8,1519.8 598.2,1522.3 594.8,1523.9 580,1521.3ZM671.2,1516.2 661.3,1517.8 651.5,1513.7 659.8,1519.8 668.7,1522.8 653.9,1520.8 636.7,1515.7 626.8,1510.7 607.1,1510.7 604.6,1508.1 621.9,1504.6 626.8,1499.5 629.3,1491.9 617,1489.3 602.2,1484.2 597.2,1481.7 584.9,1481.7 570.1,1481.7 552.9,1479.2 548,1476.6 545.5,1470 550.4,1463.9 570.1,1462.9 589.9,1463.9 592.3,1468 607.1,1467.5 624.4,1472.6 639.1,1476.6 653.9,1481.7 658.9,1486.8 671.2,1492.9 686,1499 678.6,1507.1 671.2,1512.2 658.9,1502 654.9,1507.1ZM594.8,1457.8 565.2,1458.8 535.6,1457.8 515.9,1453.8 515.9,1447.2 535.6,1448.2 550.4,1453.3 575.1,1451.2 595.8,1453.8ZM565.2,1425.8 540.6,1422.8 560.3,1419.2 584.9,1416.7 619.4,1415.2 668.7,1415.7 686,1419.2 671.2,1423.3 653.9,1430.9 629.3,1434.5 617,1438.5 607.1,1442.1 597.2,1447.7 580,1449.2 555.3,1448.7 548,1443.6 560.3,1439.5 567.7,1433.4 557.1,1431.3 555.3,1436 535.6,1440 532.6,1440 540.6,1441.1 530.7,1443.6 511,1442.1 511,1439.5 515.9,1439.4 513.5,1431.9 520.8,1426.8 540.6,1424.3 555.1,1428.6ZM629.3,1438.5 653.9,1430.9 678.6,1424.8 718,1419.7 762.4,1417.2 801.8,1413.1 841.2,1412.6 870.8,1416.7 890.5,1420.7 930,1422.3 932.4,1423.8 910.2,1430.9 900.4,1436 893,1443.6 897.9,1451.2 890.5,1458.8 880.7,1466.5 880.7,1471.5 881.6,1479.2 868.3,1484.2 858.5,1489.3 836.3,1491.4 821.5,1499 804.3,1503.5 791.9,1507.1 787,1514.7 779.6,1522.3 777.2,1530 772.2,1533 762.4,1529.5 750,1526.4 742.6,1519.8 735.3,1512.2 730.3,1504.6 724.4,1496.9 727.9,1489.3 737.7,1484.2 720.5,1481.7 720.5,1476.6 715.5,1469 705.7,1458.8 698.3,1452.2 676.1,1450.2 651.5,1451.2 639.1,1446.1 644.1,1442.1ZM995,1639.7 997,1638.7 996.5,1639.9ZM1000.9,1636.4 1004.4,1634.4 1006.1,1635.4 1004.4,1637.7 1001.9,1637.1ZM955.1,1629 958.5,1626 956.6,1624.2 948.7,1623.4 945.5,1624.4 943.3,1618.9 949.7,1615 960.5,1615.8 970.4,1616.6 980.2,1617.1 982.2,1618.6 985.6,1619.6 992.6,1619.9 996.2,1620.9 997.7,1621.4 1004.6,1621.7 1005.4,1624.4 999.9,1627.2 993.3,1630.3 987.6,1636.6 990.1,1640.5 986.1,1643.2 985.6,1646.3 979.7,1649.8 978.3,1650.6 971.4,1650.9 967.4,1650.9 962.7,1653.7 961.5,1654.4 958,1651.9 957.6,1650.1 954.6,1648.3 952.6,1648.3 952.1,1646.8 954.6,1644.3 953.1,1642.2 954.6,1639.7 952.1,1636.1 954.6,1635.6ZM1009.8,1634.9 1007.8,1633.8 1010.3,1634.6ZM1158.2,1678.8 1157.8,1678.4 1158.8,1677.1 1159.2,1676.8 1159.4,1677.3ZM1163.8,1672.6 1164.3,1674 1164,1675.9 1163.5,1677.2 1162.5,1677.7 1161.3,1678 1161,1677.3 1161.9,1676.7 1162.5,1675.9 1161.6,1675.1 1161.4,1673.5 1161.9,1672.7 1162.8,1672.3ZM1162.5,1682.5 1163.1,1679.9 1163.5,1677.2 1164,1675.9 1164.3,1674 1164.6,1672.5 1166.1,1671.4 1167.7,1672.5 1171,1673.1 1180.3,1667.6 1182.3,1674 1179.9,1675.9 1171.9,1677.3 1176.8,1682 1174.3,1684.5 1170.4,1686 1167,1688.1 1161.9,1687.5 1160.9,1688.5 1161.1,1687 1161.6,1685.2ZM1167,1688.1 1170.4,1686 1174.3,1684.5 1176.8,1682 1171.9,1677.3 1179.9,1675.9 1182.3,1674 1188.2,1675 1196.6,1679.3 1209.4,1689 1218.7,1689.3 1222.7,1689.8 1224.1,1692.2 1227.9,1692.2 1229.2,1695.4 1231.3,1697.9 1233.4,1699.8 1235.5,1701.7 1236.1,1703 1235.8,1704.3 1236.5,1706.1 1237.9,1708.7 1239.2,1710.9 1239.7,1711.9 1240.4,1712.3 1241.7,1712.2 1242.2,1712.6 1242.5,1713.6 1243.7,1715 1247.8,1720.6 1260.7,1722.2 1263.3,1726.1 1262,1730.3 1260.2,1735.7 1245.4,1740.8 1230.6,1742.8 1220.8,1750.9 1212.9,1749.4 1205,1748.9 1202,1752.5 1200.1,1754 1196.6,1746.9 1191.7,1740.3 1182.3,1728.1 1178.9,1717.9 1172.5,1710.3 1167.5,1702.7 1162.6,1695.1 1160.9,1693.5 1159.7,1692.2 1160.7,1689.2 1160.8,1688.6 1160.9,1688.5 1161.9,1687.5ZM1321.3,1636.6 1326.2,1636.6 1329.2,1633.6 1327.2,1633.1 1330.7,1630 1336.1,1629 1337.1,1633.1 1331.7,1634.1 1332.2,1636.1 1339.1,1637.1 1352.4,1636.6 1353.4,1641.7 1358.3,1642.2 1358.3,1648.1 1350.4,1647.1 1343,1650.9 1341.5,1644.8 1335.1,1644.8 1331.7,1646.3 1323.3,1648.3 1326.2,1643.2ZM1404.1,1691 1413,1695.1 1423.3,1695.6 1423.3,1703.2 1409.1,1701.4 1399.7,1698.1 1383.9,1691 1388.8,1683.9 1394.8,1684.4ZM1626.9,1649.3 1626.9,1654.4 1625.4,1659 1620,1660.5 1612.6,1662.8 1612.1,1657 1613.1,1649.3 1613.6,1645.3 1621.7,1641.2ZM968.9,1568.6 965.9,1569.1 967.4,1567 966.4,1566 973.8,1566.5 974.3,1563.5 974.8,1562 971.4,1560.4 972.3,1558.4 967.4,1559.4 964.9,1559.7 964.5,1556.4 965.9,1554.9 964.9,1553.3 961.5,1556.4 961,1552.3 962,1550.3 958.5,1549.3 960.2,1547.2 957.6,1547.2 957.1,1544.7 959.5,1545.2 960.4,1547 961,1546.2 960.5,1543.7 964,1541.1 964.5,1539.6 974.3,1539.4 973.8,1541.1 969.4,1544.2 979.2,1544.2 980.2,1545.2 978.7,1547.2 976.8,1550.3 975.3,1551.3 973.3,1552.8 979.2,1553.8 981.7,1557.9 986.6,1560.4 988.6,1562.5 989.6,1565 990.6,1567.6 991.1,1568.3 997.5,1569.6 997.7,1570.6 997,1573.1 994,1574.2 993.5,1575.7 996,1576.4 995.8,1577.7 993.5,1578.7 990.1,1579.5 983.2,1579.5 979.2,1580.3 977,1580.8 971.8,1580.3 971.4,1582.3 968.4,1581.5 964,1583.3 961,1583 964.5,1580.3 966.9,1578.2 974.3,1577.2 975.8,1575.2 973.3,1576.2 968.4,1575.4 964,1574.7 963,1573.6 968.9,1571.6ZM953.1,1557.6 953.6,1556.2 959,1556.9 961.7,1559.7 962,1561.5 959.5,1562.7 959,1562.7 958.3,1562.5 956.1,1562 953.1,1562.2 950.2,1562 948.9,1560.7 951.9,1557.9ZM958,1551.3 958,1549.8 961,1550.3 960,1551.3ZM952.6,1546.2 954.1,1544.4 953.6,1546.7ZM954.6,1541.6 958.5,1540.4 958,1542.7 954.6,1543.7 954.1,1544.4ZM975.3,1538.3 972.8,1537.1 976.3,1536.6ZM984.7,1528.9 983.7,1533 981.7,1532.5 981.7,1529.5ZM953.6,1556.2 953.1,1557.6 951.9,1557.9 948.9,1560.7 950.2,1562 953.1,1562.2 956.1,1562 958.3,1562.5 959,1562.7 959.5,1562.7 962,1561.5 959,1563 958.5,1566.5 959.5,1568.3 957.6,1572.1 951.6,1572.6 948.2,1574.2 942.3,1575.9 938.3,1574.2 937.8,1572.4 941.8,1570.1 940.3,1570.1 943.3,1567.6 944.7,1567 939.3,1565.5 939.8,1562 946.7,1561.5 945.7,1559.7 947.7,1557.9 948.2,1557.1 952.6,1556.1ZM1620,1703.2 1618.5,1704.7 1621.5,1701.2ZM1633.3,1679.8 1630.9,1677.8 1630.9,1673.2 1628.4,1671.2 1627.9,1668.1 1631.8,1666.6 1634.3,1665.1 1638.2,1666.6 1639.2,1670.7 1636.8,1677.8ZM1644.7,1670.9 1641.7,1667.4 1644.7,1664.6 1651.1,1663.1 1653.3,1665.3 1650.6,1668.4ZM1677.7,1658 1674.7,1660 1673.5,1661.5 1671.8,1659.5 1670.3,1661.5 1664.4,1661.5 1663.9,1663.1 1660.9,1665.1 1658.5,1667.4 1655,1665.1 1655,1661.5 1649.6,1661.5 1642.2,1663.1 1634.8,1664.8 1634.8,1662.5 1639.7,1659.5 1645.1,1656.7 1651.1,1656.7 1656,1655.9 1659.4,1655.9 1659.9,1652.9 1663.1,1649.8 1665.9,1646.8 1664.4,1650.4 1669.3,1648.8 1673.2,1645.3 1676.7,1641.7 1679.2,1635.1 1678.7,1631.1 1680.6,1628 1683.6,1626.5 1686.6,1631.6 1689,1636.1 1686.6,1642.7 1684.1,1645.3 1683.6,1649.8 1683.1,1655.9 1679.2,1659.5ZM1700.4,1613.8 1704.8,1612.8 1707.7,1617.1 1700.8,1619.1 1695.4,1623.9 1684.1,1621.4 1685.1,1625 1680.6,1627 1679.7,1626 1678.2,1622.4 1681.1,1617.3 1685.6,1617.3 1687,1611.2 1688.5,1606.2 1693.9,1610.7ZM1147,1660.4 1147.7,1659.7 1149.1,1659.3 1150.9,1659.6 1152.7,1659.4 1154.6,1660 1155.8,1660.1 1156.4,1660.3 1155.7,1660.6 1154.6,1660.6 1153.7,1661.3 1152.2,1661.8 1150.9,1662.6 1149.7,1661.9 1148.2,1661.7 1147.3,1661ZM1555.1,1814.5 1552.9,1816.2 1551.3,1813.9 1554.4,1812ZM1556.3,1814.6 1555.5,1814.6 1555.5,1812.2 1556.2,1811.5 1556.3,1811.5Z"/><path fill="#76a98a" d="M702.2,2002.4 703.2,1997.3 705.2,1990.7 713.1,1994.3 715,1994 720,1997.3 726.9,2003.4 725.9,2008.8 718.3,2014.8 712.1,2014.6 704.2,2012.3 701.2,2010 701.2,2009.5ZM554.3,1766.8 551.2,1765.8 548.5,1764.8 550.6,1763.2 552.2,1759.2 553.7,1757.3 557.9,1756.6 563.1,1757.1 567.2,1756.3 571.4,1756.3 575.6,1758.1 578.7,1760.7 579.9,1762.7 576.6,1761.7 573.5,1763.2 570.4,1763.2 567.8,1766.3 564.1,1768.4 562.1,1771.4 560,1771.4 558.7,1771.4 557.4,1770.4 556.8,1767.9ZM581.3,1790.9 582.3,1789.3 583.9,1789.9 586,1792.4 590.1,1791.9 594.3,1789.9 598.4,1788.8 602.6,1789.3 606.2,1791.4 608.1,1794.1 608.6,1796.9 607.1,1799.5 605.4,1800.5 604.6,1798.6 606.2,1796 603.6,1793.5 599.5,1792.4 596.4,1794 594.3,1796 595.3,1799.6 592.2,1800.6 590.1,1798.1 587,1797 584.4,1795.5 582.9,1795 581.8,1793.5ZM550.4,1747.1 540.6,1747.1 540.6,1749.7 540.6,1749.9 544,1754 543.5,1756 536.9,1756 536.5,1756.7 534.6,1760.6 534.6,1763.4 530.7,1759.6 525.8,1756 519.9,1755.3 513.5,1757.8 511,1756.5 503.6,1754.5 496.7,1751.7 491.3,1749.4 485.4,1746.1 481.4,1744.8 475,1740.3 471.6,1738.7 468.1,1733.7 469.1,1731.6 470.1,1728.1 468.6,1724 464.7,1719.4 456.8,1710.3 449.9,1706.7 447.9,1700.1 442,1695.6 436.1,1690 433.1,1683.9 431.6,1678.8 423.3,1676.3 424.2,1681.9 429.2,1688.5 433.1,1695.1 437.1,1700.1 440.5,1705.2 443.5,1710.3 445.4,1714.4 448.4,1715.4 449.9,1719.4 447.2,1721 445.4,1717.9 439.5,1713.3 436.6,1711.3 435.6,1705.2 431.1,1701.7 426.7,1700.1 422.3,1696.1 426.2,1694.6 423.7,1690 418.8,1686.4 417.3,1682.9 414.4,1675.8 411.9,1672.2 423.3,1672.2 441.6,1678.1 455.8,1678.1 455.8,1676 464.2,1676 472,1681.9 474.5,1687.4 480.9,1690 483.9,1685.9 489.3,1685.9 491.8,1688.2 494.2,1692.5 498.7,1697.6 500.6,1703.2 510,1705.5 507.3,1715.4 507,1724.3 510,1732.7 515.4,1739.8 519.9,1742.3 523.8,1745.1 530.7,1743.8 536.6,1742.6 537.1,1742.8 539.7,1741.7 541.3,1740.2 543.3,1736.6 544.4,1732.5 545.4,1730 549.6,1728.9 554.3,1727.9 559.4,1728.2 561.5,1727.9 562.5,1730 562.1,1732 560,1735.1 559.1,1737.6 558.7,1740.7 557.7,1743.1 556.3,1742.8 554.3,1746.4 550.4,1746.7 550.4,1747.1ZM906.8,1670.9 905.8,1671.4 904.3,1670.4ZM861.9,1644.8 864.9,1645 863.4,1645.8ZM954.6,1635.6 952.1,1636.1 954.6,1639.7 953.1,1642.2 954.6,1644.3 952.1,1646.8 952.6,1648.3 945.2,1649.3 945.7,1642.7 942.3,1640.5 945.2,1633.1 946.2,1628.3 945.5,1624.4 948.7,1623.4 956.6,1624.2 958.5,1626 955.1,1629ZM1043.8,1559.4 1043.3,1558.7 1047.8,1558.4 1047.3,1559.9ZM1063,1557.9 1061.6,1556.9 1063.5,1557.1ZM1047.3,1552.8 1051.2,1552.6 1051.2,1554.9 1049.2,1557.9 1044.3,1556.9 1043.8,1554.3ZM1036.4,1556.9 1035.7,1558.7 1031.7,1558.4 1029,1555.1 1029.3,1549.8 1031.5,1547.2 1041.3,1543.9 1039.9,1549.8 1042.8,1550.8 1039.4,1553.8 1037.9,1555.4 1042.3,1555.4 1041.8,1557.6 1037.9,1557.4 1037.5,1555.8ZM1058.4,1643.1 1062,1642.8 1065.7,1642.9 1065.1,1644.8 1064.2,1646.6 1063.6,1648.5 1064.2,1649.8 1063.3,1650.3 1060.8,1649.6 1057.8,1648 1054.7,1647.1 1050.5,1645.9 1050.5,1644.1 1054.7,1643.3ZM1037.4,1631.6 1036.4,1638.2 1033,1639.7 1030.5,1637.7 1030.5,1632.6 1029.5,1629.5 1034.4,1627.8ZM1023.6,1604.1 1028,1603.9 1031,1602.1 1033.5,1604.4 1034.9,1601.6 1038.9,1602.1 1040.6,1599.3 1044.3,1598.8 1049.2,1598.3 1050.2,1600.1 1056.6,1601.1 1056.5,1601.8 1055.9,1601.9 1056.4,1602.9 1056.2,1604.1 1055.9,1604.7 1053.7,1604.9 1049.7,1607.2 1049.7,1612.3 1051.2,1614 1053.5,1614.5 1055.9,1615.9 1057.8,1618.2 1060.2,1621 1062.6,1622.9 1065.7,1624 1068.2,1624.5 1067.9,1626.1 1070,1627.3 1073,1628.5 1076.1,1630.3 1078.5,1631.9 1080,1633.3 1080.3,1634.5 1079.2,1635 1077.3,1633.1 1075.5,1631.9 1073.6,1631.5 1072.1,1632.6 1071.8,1634.5 1073,1636.4 1073.6,1638 1072.7,1638.9 1070.9,1640.1 1069.3,1642 1068.8,1643.3 1068.2,1644.1 1066.9,1644.3 1066.3,1643.3 1066.9,1641.5 1068.2,1639.6 1068.8,1637.3 1067.5,1635.4 1066.3,1633.6 1063.9,1631.9 1061.5,1630.3 1059,1628.9 1055.9,1627.5 1053.5,1626.8 1051.2,1625.9 1049.7,1625.2 1043.3,1621.9 1040.9,1619.1 1039.6,1615.8 1037.4,1613.3 1033,1611.7 1029,1614.3 1026.1,1614.9 1027.1,1613 1023.1,1612 1023.6,1610.2 1021.9,1608.2ZM1116.3,1486.8 1112.3,1488.8 1102.5,1488.3 1095.6,1485.3 1090.4,1486.5 1087.7,1489.8 1078.3,1489.3 1074.4,1491.4 1069.9,1494.4 1065.5,1500.5 1060.6,1501.5 1060.6,1505.6 1056.6,1509.1 1058.6,1509.6 1057.6,1512.2 1048.2,1515.7 1049.2,1517.3 1048.7,1523.9 1052.7,1525.4 1049.2,1527.4 1050.7,1531.5 1047.3,1534 1043.8,1537.1 1041.8,1533 1037.4,1537.6 1028.5,1542.2 1021.6,1542.2 1016.7,1538.1 1013.7,1530.5 1013.7,1522.8 1021.1,1518.3 1031,1515.2 1040.4,1515 1038.4,1510.7 1045.8,1507.1 1050.7,1502 1060.1,1495.4 1065.5,1490.8 1074.9,1489.6 1070.4,1488.3 1082.3,1483.5 1092.6,1481.7 1105.9,1478.1 1116.3,1475.9 1125.6,1476.6 1132,1477.6 1142.4,1480.2 1137,1483 1141.4,1482.7 1137,1484.2 1131.5,1486.5 1132,1486.3 1127.1,1481.2 1117.3,1483.2ZM1104.9,1440 1107.4,1444.1 1092.6,1442.1 1095.1,1440ZM1095.1,1439.5 1080.3,1443.6 1070.4,1448.2 1058.1,1443.6 1043.3,1438.5 1043.3,1432.9 1058.1,1431.9 1072.9,1431.4 1082.8,1436ZM1112.3,1433.9 1087.7,1433.4 1077.8,1429.9 1085.2,1428.4 1102.5,1428.4 1122.2,1430.9ZM1069.9,1550.3 1072.4,1546.2 1073.4,1546 1069.9,1551.8ZM1081.8,1546.2 1079.3,1548 1078.3,1547.7 1081.8,1543.2 1083.7,1543.2ZM1048.7,1523.9 1049.2,1517.3 1048.2,1515.7 1057.6,1512.2 1058.6,1509.6 1056.6,1509.1 1060.6,1505.6 1060.6,1501.5 1065.5,1500.5 1069.9,1494.4 1074.4,1491.4 1078.3,1489.3 1087.7,1489.8 1090.4,1486.5 1104.9,1492.4 1105.9,1496.9 1107.4,1500.5 1108.4,1503 1098.5,1503.5 1094.1,1509.1 1089.2,1513.7 1079.3,1519.3 1074.9,1523.9 1073.9,1528.9 1080.8,1532 1082.3,1534.5 1078.3,1536.1 1070.9,1540.1 1070.9,1545.7 1068,1551.8 1061.6,1552.3 1059.1,1555.9 1053.2,1555.9 1050.7,1551.3 1048.2,1544.2 1044.3,1538.1 1043.8,1537.1 1047.3,1534 1050.7,1531.5 1049.2,1527.4 1052.7,1525.4ZM1089.2,1530.7 1088.7,1532 1085.7,1531.5ZM1112.3,1488.8 1116.3,1486.8 1117.3,1483.2 1127.1,1481.2 1132,1486.3 1131.5,1486.5 1129.6,1490.8 1137,1493.4 1132,1497.4 1137.5,1503.5 1135.5,1508.1 1139.4,1511.2 1137,1513.5 1144.9,1517.8 1132,1526.4 1126.1,1529.7 1112.3,1531.5 1102,1533.3 1094.6,1529.5 1094.6,1524.4 1094.1,1519.3 1099,1515.7 1109.9,1509.1 1114.3,1506.6 1108.4,1503 1107.4,1500.5 1105.9,1496.9 1104.9,1492.4 1090.4,1486.5 1095.6,1485.3 1102.5,1488.3ZM1222,1684.5 1223.4,1684.3 1225.1,1684.7 1225.6,1685.2 1226.3,1686.8 1224.3,1687.7 1224.8,1688 1226.5,1687.1 1227.4,1689.3 1227.9,1692.2 1224.1,1692.2 1222.7,1689.8 1218.7,1689.3 1221,1685.2ZM1439.1,1694.8 1441.1,1696.1 1442.6,1697.6 1443.1,1700.9 1431.7,1701.7 1427.8,1701.2 1427.3,1698.6 1430.7,1694ZM1423.3,1712.8 1423.3,1706.2 1424.8,1702.7 1431.7,1705.2 1432.2,1708.8 1444.5,1710.3 1438.6,1715.4 1440.1,1720.5 1442.1,1717.4 1444,1720.5 1445.5,1725.6 1444,1732.1 1442.6,1728.1 1441.6,1724 1435.7,1723 1434.2,1726 1428.3,1726.6 1427.3,1721ZM1371.4,1796.2 1371.4,1796.3 1371.3,1796.3 1366.2,1791.6 1364.7,1786.5 1360.3,1777.4 1357.8,1771.8 1354.3,1762.1 1352.9,1758.6 1350.4,1750.9 1348.2,1740.8 1347.4,1734.7 1347.4,1729.6 1346.5,1724.5 1344.5,1729.6 1338.6,1732.1 1330.2,1725.5 1329.2,1723.5 1335.1,1720.5 1327.7,1719.4 1325.3,1716.9 1328.2,1713.9 1339.1,1713.3 1334.6,1706.7 1335.6,1696.1 1345.5,1691.5 1353.4,1684.9 1355.8,1679.8 1356.8,1674.7 1360.7,1673.2 1353.8,1668.6 1353.8,1661 1368.1,1661.3 1372.6,1657 1378,1663.1 1377,1669.7 1379.5,1672.2 1377.5,1678.3 1388.8,1683.9 1383.9,1691 1399.7,1698.1 1409.1,1701.4 1423.3,1703.2 1423.3,1695.6 1426.8,1694.6 1427.3,1698.6 1427.8,1701.2 1431.7,1701.7 1443.1,1700.9 1442.6,1697.6 1441.1,1696.1 1448.5,1692 1459.3,1690 1463.3,1687.7 1468.9,1693.8 1463.3,1698.6 1457.8,1702.2 1455.4,1709.3 1452.9,1716.1 1449,1714.9 1449.5,1720.5 1445.5,1725.6 1444,1720.5 1442.1,1717.4 1440.1,1720.5 1438.6,1715.4 1444.5,1710.3 1432.2,1708.8 1431.7,1705.2 1424.8,1702.7 1423.3,1706.2 1423.3,1712.8 1427.3,1721 1428.3,1726.6 1423.8,1727.1 1417.9,1728.6 1417.4,1732.1 1415,1736 1408.6,1739.3 1403.6,1744.3 1399.7,1747.4 1394.8,1753 1389.3,1756.5 1384.9,1758.6 1383.9,1763.6 1384.9,1770.8 1382.4,1777.9 1382.7,1785 1379.5,1790.1 1374.5,1792.6 1371.4,1796.2ZM1751.1,1866.8 1751.6,1864.7 1757.5,1871.3 1754.1,1870.3ZM1731.9,1868.8 1723.5,1868.8 1720.1,1866.3 1720.1,1865.2 1728.5,1862.7 1735.8,1858.6 1739.8,1859.1 1738.3,1864.2ZM1732.4,1850.5 1740.8,1855.6 1743.2,1860.7 1741.8,1859.7 1733.4,1852ZM1715.1,1848.5 1711.7,1848.5 1711.7,1847.5 1715.6,1847.5ZM1708.7,2058.3 1705.3,2052.2 1702.3,2046.6 1702.3,2044.1 1711.2,2046.1 1720.1,2045.1 1720.1,2051.7 1718.1,2056.8 1712.7,2058.8ZM1669.8,2019.7 1664.4,2020.4 1662.4,2018.7 1668.8,2018.7ZM1712.7,1934.8 1721.1,1939.4 1724.5,1945 1732.4,1954.1 1732.4,1956.2 1738.3,1961.8 1743.7,1968.9 1743.7,1977 1745.2,1979.5 1746.2,1983.1 1743.2,1994.3 1740.8,2001.9 1734.9,2009 1729.4,2020.2 1728.2,2027.8 1718.6,2029.8 1710.7,2035.9 1703.8,2032.4 1703.3,2030.3 1696.4,2034.4 1686.6,2032.4 1681.1,2029.8 1677.7,2024.8 1674.2,2018.7 1671.8,2015.1 1669.3,2011 1668.8,2004.9 1668.3,2002.9 1666.3,2010 1664.4,2014.6 1659.4,2014.1 1655.5,2012.6 1650.6,2004.9 1647.6,2000.9 1635.8,1997.3 1624.9,1998.3 1610.6,2001.4 1600.3,2004.9 1597.8,2009.5 1589.9,2009.5 1578.1,2012.1 1570.7,2015.1 1560.9,2015.1 1556.4,2011.5 1555.9,2008 1559.4,1999.9 1555.9,1989.7 1554,1983.6 1551,1976 1548,1970.4 1548.5,1968.4 1548,1960.7 1550,1952.1 1551.5,1948 1554,1951.1 1558.4,1946 1564.8,1941.9 1573.7,1940.4 1580.6,1938.4 1588,1932.8 1591.4,1928.7 1591.4,1923.7 1598.3,1925.2 1597.8,1920.6 1603.3,1916 1606.2,1911.5 1610.2,1909.4 1614.6,1907.4 1620.5,1912.5 1627.9,1913 1628.4,1907.4 1633.8,1900.3 1642.7,1898.8 1642.7,1895.2 1649.6,1898.3 1659,1898.8 1663.9,1899.8 1659.4,1905.9 1657,1913 1662.9,1918.1 1669.3,1922.1 1675.7,1925.7 1683.1,1926.2 1686.6,1913.5 1687,1905.9 1688.5,1898.3 1689.5,1893.2 1691.5,1891.7 1696.4,1902.3 1697.9,1910.5 1705.3,1913.5 1706.3,1921.1 1707.7,1923.2 1710.2,1933.3ZM1661.4,1909.4 1661.9,1907.4 1663.9,1908.4 1662.9,1909.9ZM1637.3,1894.7 1636.3,1897.2 1631.8,1897.2 1630.4,1895.2ZM1818.2,2075.6 1817.2,2077.1 1814.7,2077.1 1814.7,2075ZM1845.3,2052.7 1840.8,2057.8 1842.3,2059.8 1833.4,2062.3 1830.5,2070.5 1825.6,2073.5 1818.7,2074 1809.8,2071.5 1809.8,2069.5 1816.2,2062.9 1821.6,2060.3 1829.5,2055.7 1833.4,2051.7 1837.4,2045.1 1840.3,2043 1846.3,2045.1 1848.2,2049.1ZM1851.7,2024.2 1854.6,2023.2 1856.1,2027.8 1862.5,2030.3 1868.9,2028.8 1866.5,2035.4 1861.5,2036.9 1861.5,2040.5 1856.6,2047.1 1853.2,2048.6 1850.2,2047.1 1852.2,2042 1849.7,2039.5 1845.8,2036.9 1849.7,2034.9 1850.2,2029.8 1848.2,2023.7 1843.8,2018.1 1841.8,2015.1 1840.3,2012.1 1846.3,2016.1 1849.2,2021.2ZM1691.5,1853.6 1696.9,1855.3 1701.3,1856.6 1707.7,1863.7 1713.7,1867.8 1717.6,1869.3 1713.7,1871.3 1719.6,1878.4 1725,1883 1731.9,1889.6 1727.5,1890.1 1714.6,1885.6 1708.7,1878.4 1703.3,1876.4 1695.9,1879.5 1693.9,1883.5 1684.1,1883.5 1684.1,1850.5Z"/></g></g>
<g id="legB"><text x="82.7" y="1843.2" font-size="23">ASPR (per 100 000 population), 2021</text><rect x="96.2" y="1866.9" width="36.5" height="36.5" fill="#2166ac" stroke="#4a4a4a" stroke-width="2"/><text x="147.3" y="1892.0" font-size="18.5">8.339 − 14.25</text><rect x="96.2" y="1907.0" width="36.5" height="36.5" fill="#4393c3" stroke="#4a4a4a" stroke-width="2"/><text x="147.3" y="1932.1" font-size="18.5">14.25 − 18.58</text><rect x="96.2" y="1947.1000000000001" width="36.5" height="36.5" fill="#92c5de" stroke="#4a4a4a" stroke-width="2"/><text x="147.3" y="1972.2" font-size="18.5">18.58 − 25.05</text><rect x="96.2" y="1987.2" width="36.5" height="36.5" fill="#f7f7f7" stroke="#4a4a4a" stroke-width="2"/><text x="147.3" y="2012.3" font-size="18.5">25.05 − 32.42</text><rect x="275.8" y="1866.9" width="36.5" height="36.5" fill="#d1ece8" stroke="#4a4a4a" stroke-width="2"/><text x="326.8" y="1892.0" font-size="18.5">32.42 − 40.18</text><rect x="275.8" y="1907.0" width="36.5" height="36.5" fill="#a3e4d7" stroke="#4a4a4a" stroke-width="2"/><text x="326.8" y="1932.1" font-size="18.5">40.18 − 50.6</text><rect x="275.8" y="1947.1000000000001" width="36.5" height="36.5" fill="#76a98a" stroke="#4a4a4a" stroke-width="2"/><text x="326.8" y="1972.2" font-size="18.5">50.6 − 68.17</text><rect x="275.8" y="1987.2" width="36.5" height="36.5" fill="#008080" stroke="#4a4a4a" stroke-width="2"/><text x="326.8" y="2012.3" font-size="18.5">68.17 − 167.4</text></g>
<g id="inB_car"><g stroke="#333" stroke-width="1.4" stroke-linejoin="round"><path fill="#f7f7f7" d="M210.3,2587.5 208.9,2579.7 215.1,2586.3 219.5,2582.1 225.1,2575 233.7,2567.8 235.2,2559.3 242.3,2550.7 250.8,2545 259.3,2542.2 267.9,2539.4 277.9,2530.8 285,2525.1 290.7,2525.1 293,2529.3 289.4,2536.6 285,2540.8 285.3,2541.3 285,2541.6 277.9,2547.9 270.8,2555.1 267.9,2563.6 265,2570.6 273.7,2575 277.9,2582.1 276.5,2595.3 279.6,2599.5 203.7,2599.5 201.5,2597.4 206.2,2594.5ZM431,2599.5 279.6,2599.5 276.5,2595.3 277.9,2582.1 273.7,2575 265,2570.6 267.9,2563.6 270.8,2555.1 277.9,2547.9 285,2541.6 285.3,2541.3 285,2540.8 287.9,2545 293.5,2542.2 302.1,2539.4 306.4,2535 307.9,2529.3 310.7,2529.3 312.1,2536.6 316.4,2538 324.9,2539.4 330.6,2545 334.9,2550.7 350.6,2550.7 367.6,2552.1 376.3,2556.5 384.8,2553.7 394.8,2549.3 404.8,2547.9 410.5,2552.1 419,2553.7 410.5,2555.1 416.2,2560.7 424.7,2565 433.2,2570.6 430.3,2577.9 441.8,2579.3 444.7,2580.7 440.3,2584.9 436,2590.7 433.3,2595.3ZM289.4,2570.6 293.5,2566.4 293.5,2556.5 289.4,2549.3 286.7,2545 285.3,2545.8 283.5,2552.1 280.7,2560.7 283.5,2567.8Z"/><path fill="#92c5de" d="M433.3,2595.3 436,2590.7 440.3,2584.9 444.7,2580.7 456,2587.8 456.3,2588.1 456.3,2599.5 431,2599.5ZM256.5,2436.7 270.8,2437.3 275,2435.3 273.7,2429.6 267.9,2426.8 263.7,2422.4 270.8,2419.6 280.7,2420.1 285,2422.4 286.4,2429.6 284.5,2436.7 285.8,2445.3 285,2445.3 273.7,2443.8 262.2,2444.8 251.4,2442.9 249.3,2439.5Z"/><path fill="#008080" d="M67,2436.7 70.7,2437.5 69.8,2439.5 69,2441.1 68.3,2452.4 64.2,2462.3 59.8,2473.8 52.8,2475.2 50.8,2475 50.8,2447.6 61.3,2446.7ZM125.4,2549.3 133.9,2560.7 138.2,2566.4 135.4,2570.6 136.9,2577.9 139.7,2582.1 133.9,2577.9 128.2,2572.2 125.4,2563.6 116.9,2559.3 112.5,2560.7 106.9,2555.1 111.2,2562.2 105.5,2562.2 98.4,2555.1 96.9,2543.6 98.4,2545 114,2546.5ZM171.8,2319.4 170.4,2335 167,2343.5 157.6,2344.2 148.1,2330.8 144,2322.3 135.3,2306.7 135.2,2306 167.3,2306Z"/><path fill="#a3e4d7" d="M33.2,2468 23.7,2456.6 23.7,2448.9 50.8,2448.9 50.8,2475 52.8,2475.2 56.2,2475.7 59.8,2477.1 59.8,2477.2 55.6,2482.4 51.3,2493.7 45.6,2497.9 40,2506.6 25.6,2502.3 14.3,2497.9 14,2497.8 14,2473.6 31.8,2473.6ZM61.3,2503.7 68.3,2506.6 69.8,2513.6 57,2513.6 45.6,2509.4 40,2506.6 45.6,2497.9 52.8,2500.9ZM353.4,2438.7 366.3,2439.5 366.3,2445.3 356.3,2446.7 346.3,2445.9 345.7,2440.9Z"/><path fill="#76a98a" d="M52.8,2500.9 45.6,2497.9 51.3,2493.7 55.6,2482.4 59.8,2477.1 71.3,2475.2 85.5,2476.6 96.9,2474.3 108.4,2474.3 119.7,2479.4 128.2,2486.6 131.7,2492.3 122.5,2489.5 114,2493.7 105.5,2493.7 98.4,2502.3 88.3,2508 82.7,2516.5 77,2516.5 73.5,2516.5 69.8,2513.6 68.3,2506.6 61.3,2503.7ZM138.2,2566.4 142.6,2567.8 148.2,2575 159.6,2573.6 171.1,2567.8 182.4,2565 193.8,2566.4 203.8,2572.2 208.9,2579.7 210.3,2587.5 206.2,2594.5 201.5,2597.4 199.5,2592.1 203.8,2584.9 196.6,2577.9 185.3,2575 176.8,2579.3 171.1,2584.9 173.9,2595 165.3,2597.8 159.6,2590.7 151.1,2587.8 143.9,2583.5 139.7,2582.1 136.9,2577.9 135.4,2570.6ZM50.8,2448.9 23.7,2448.9 23.7,2455.9 23.7,2456.6 33.2,2467.9 33.2,2468 31.9,2473.6 31.8,2473.6 14,2473.6 14,2436.6 14.3,2436.7 21.4,2433.9 25.6,2429.6 31.3,2419.6 34.1,2408.1 37.1,2401.1 48.5,2398.2 61.3,2395.4 75.5,2396.2 81.2,2395.4 84,2401.1 82.7,2406.7 77,2415.3 74.7,2422.4 73.5,2431 70.7,2437.5 67,2436.7 61.3,2446.7 61.3,2446.8 50.8,2447.6 50.8,2448.9Z"/><path fill="#d1ece8" d="M88.3,2508 98.4,2502.3 105.5,2493.7 114,2493.7 122.5,2489.5 131.7,2492.3 129.7,2505.2 126.9,2522.3 125.4,2533.6 124,2543.6 125.4,2549.3 114,2546.5 98.4,2545 96.9,2543.6 88.3,2533.6 79.8,2523.7 73.5,2516.5 77,2516.5 82.7,2516.5ZM267.9,2401.1 267.9,2404.7 260.8,2404.7 259.3,2401.9 263.7,2400.2ZM203.8,2349.7 206.6,2358.3 208.1,2365.4 203.8,2364.8 199.5,2356.9 196.6,2351.1 201,2345.5ZM429.8,2546.7 429.8,2557.9 421.8,2557.9 423.6,2552.1 421.8,2547.3Z"/><path fill="#2166ac" d="M119.7,2382.5 128.2,2376.9 139.7,2373.5 148.2,2372.6 159.6,2375.4 171.1,2379.7 182.4,2382.5 189.6,2385.4 199.5,2391.2 211,2396.8 219.5,2402.5 230.8,2406.7 242.3,2411.1 252.2,2414.5 248,2417.3 236.5,2419 222.3,2420.1 208.1,2420.1 205.8,2418.2 212.3,2412.5 208.1,2408.8 199.5,2408.1 195.3,2398.2 185.3,2395.4 173.9,2394 159.6,2389.6 155.4,2384.8 148.2,2383.9 142.6,2382.5 133.9,2381.1 125.4,2383.9 118.2,2388.7 111.2,2392.8 109.7,2391.2 115.4,2388.2ZM140.3,2393.4 139,2397.4 133.9,2397.4 132.6,2394 136.9,2391.2Z"/><path fill="#4393c3" d="M293.5,2419.6 302.1,2421 310.7,2425.2 316.4,2428.2 323.6,2431 330.6,2436.7 326.4,2442.4 316.4,2440.9 307.9,2442.4 299.2,2445.3 293.5,2448.2 289.4,2451 285.8,2445.3 284.5,2436.7 286.4,2429.6 285,2422.4ZM203.8,2439.5 212.3,2439.5 221,2442.4 225.7,2445.3 222.3,2448.2 212.3,2449.6 203.8,2446.7 196.6,2442.4Z"/><path fill="#ffffff" d="M95.5,2466.7 95,2468.1 89.8,2469.2 87,2468.7 90.6,2467.5ZM85.5,2408.8 85,2413.4 83.5,2411.1ZM270.8,2383.9 270.2,2385.4 266.5,2383.4ZM255.7,2387.3 253.7,2387.3 253.1,2383.1 252.2,2379.7 255.2,2382.5ZM239.5,2371.6 243.7,2374.6 245.7,2377.7 243.9,2378 241.6,2374.9ZM227.4,2366.3 231.5,2368.2 230.8,2369.7ZM235.2,2355.5 237.2,2360.3 235.4,2360.3 233.1,2356.4 230.8,2352.5ZM224.1,2350.3 221.8,2344.9 219.5,2341.2 223.8,2344 225.7,2349.7ZM208.1,2323.5 199.5,2323.5 193.8,2325.5 188.1,2324.1 193.8,2322.7 199.5,2321.3 209.5,2321.3 213.8,2328.3 212.3,2335.4 210.4,2334.6 211.5,2328.9ZM389.1,2542.8 390.5,2545 384.8,2545.6 383.3,2543.9ZM436,2541.6 433.2,2540.8 436.7,2539.4ZM332.9,2527.4 332.3,2528.5 329.2,2525.7ZM324.4,2524.8 323.6,2525.7 322.1,2523.7ZM417.8,2457.3 419.8,2458.1 419.1,2459.5ZM406.3,2456.6 404.3,2453.8 407.6,2455.9ZM372.2,2444.8 369.1,2443.8 372.8,2442.9ZM380.5,2440.4 379.9,2441.8 376.3,2440.9ZM449.8,2512.8 448.9,2515.1 447.5,2512.2ZM430.3,2501.8 430.3,2505.2 428.7,2504.6 428.5,2500.9ZM423.3,2467.5 426.2,2470.4 423.3,2472.9 419.5,2471.5 419,2468.7ZM429.8,2492.3 430.9,2496.5 428.5,2496.5 426.7,2490.9ZM426.2,2476 425.5,2478.8 423.9,2475.2ZM429.3,2510 428.5,2512.2 427.5,2509.4ZM428,2522.8 427,2525.1 426.2,2522.3ZM401.8,2452.4 401,2454.4 399,2452.4Z"/></g><rect x="14" y="2306" width="442.3" height="293.5" fill="none" stroke="#1a1a1a" stroke-width="1.6"/></g>
<g id="inB_gulf"><g stroke="#333" stroke-width="1.4" stroke-linejoin="round"><path fill="#76a98a" d="M552.2,2344.8 560.8,2347.1 563.6,2349.9 567.1,2358.6 556.5,2364 559,2365.7 567.8,2360.3 572.4,2372.7 574.9,2388.5 555.7,2388.5 548.7,2375.2 528.3,2372.7 539.9,2349.9 545.2,2346.2Z"/><path fill="#f7f7f7" d="M555.7,2306.6 556,2317.8 563.6,2318.1 564.1,2334.7 571.4,2340.9 575.9,2347.9 573.1,2349.9 563.6,2349.9 560.8,2347.1 552.2,2344.8 545.2,2346.2 539.9,2349.9 528.3,2372.7 488.5,2371 488.5,2306 555.9,2306Z"/><path fill="#d1ece8" d="M635.6,2497.6 633.8,2478.2 637.3,2464.1 644.4,2456.3 651.5,2462.5 654.2,2472.9 653.2,2486.9 648.9,2495.7 647.9,2501.9 645.4,2499.3 639.1,2500.2ZM756.2,2576.7 742.9,2554.8 745.6,2539.8 751.7,2518.7 754.5,2515.9 759.7,2515.1 760,2503.4 760,2599.5 749.2,2599.5Z"/><path fill="#a3e4d7" d="M759.7,2515.1 754.5,2515.9 751.7,2518.7 745.6,2539.8 742.9,2554.8 676.9,2546 656,2515.1 661,2515.9 669.8,2516.8 678.7,2512.5 691,2510.9 706.9,2512.5 717.4,2510.9 726.3,2504.7 735.1,2495.7 743.9,2486.9 752.7,2476.5 759.7,2470.3 760,2470 760,2503.4Z"/><path fill="#008080" d="M528.3,2372.7 548.7,2375.2 555.7,2388.5 574.9,2388.5 581.9,2406.2 592.5,2420.2 603.1,2430.7 613.7,2441.4 617.2,2448.4 615.4,2455.4 619,2465.8 626,2479.9 633.1,2492.3 635.6,2497.6 639.1,2500.2 645.4,2499.3 647.9,2501.9 649.7,2507.2 656,2515.1 676.9,2546 742.9,2554.8 756.2,2576.7 749.2,2599.5 488.5,2599.5 488.5,2371Z"/><path fill="#92c5de" d="M759.7,2436.9 760,2436.8 760,2440.4 751.7,2443.3 747.4,2442.2 754.5,2438.5ZM759.7,2432.3 754.5,2434.3 743.9,2439.4 733.3,2446.4 722.7,2443 705.1,2437.7 691,2429 678.7,2420.2 669.1,2411.2 656,2407 648.9,2400.8 642.6,2389.3 635.6,2378 629.5,2367.3 620.7,2351.6 615.4,2342.3 603.1,2345.4 594.3,2337.5 592.5,2334.7 587.2,2339.2 585.5,2347.1 575.9,2347.9 571.4,2340.9 564.1,2334.7 563.6,2318.1 556,2317.8 555.7,2306.6 555.9,2306 760,2306 760,2432.3Z"/><path fill="#ffffff" d="M629,2453.2 629.8,2460.5 628.5,2465 626.3,2460.5 625.5,2453.5ZM569.6,2347.1 572.4,2351.6 570.6,2357.8 566.1,2358.6 562.5,2353.3 563.6,2347.9Z"/></g><rect x="488.5" y="2306" width="271.5" height="293.5" fill="none" stroke="#1a1a1a" stroke-width="1.6"/></g>
<g id="inB_balk"><g stroke="#333" stroke-width="1.4" stroke-linejoin="round"><path fill="#d1ece8" d="M843,2365.7 845.7,2370.9 841.3,2375.3 836.1,2379.7 832.5,2386.8 825.4,2388.5 818.4,2390.3 809.6,2388.5 806.1,2384.9 807.9,2379.7 806.1,2374.3 807.8,2374 808,2371.3 808,2371.2 808.1,2371.2 815.7,2372.4 825.4,2369.9 836.1,2367.4ZM902.8,2449.9 908.1,2455.3 908.1,2455.4 904.6,2458.8 904.5,2458.8 903.7,2466.9 908.1,2476.5 910.8,2481.6 908.1,2488.7 902.8,2495.8 900.1,2501 894,2494.1 889.6,2487 888.8,2476.5 889.6,2465.9 887.9,2458 890.5,2450 895.7,2448.2 899.3,2446.5ZM855.4,2344.6 858.9,2342.7 867.6,2346.3 876.4,2347.1 880.8,2343.6 890.5,2339.2 904.5,2334 918.6,2332.1 929.3,2335.8 937.1,2342.7 931,2349.8 924,2358.6 916.9,2370.9 911.6,2376.3 904.5,2379.7 897.6,2381.4 890.5,2379.7 882.7,2383.2 873,2384.9 862.3,2383.2 851.8,2376.3 845.7,2370.9 843,2365.7 850.1,2349.8ZM925.7,2319.8 927.5,2320.3 933.8,2321.3 933.8,2321.4 930.4,2329.4 929.3,2335.8 918.6,2332.1 904.5,2334 890.5,2339.2 880.8,2343.6 876.4,2347.1 867.6,2346.3 858.9,2342.7 855.4,2344.6 854.5,2334.8 855,2334.3 854.2,2331 854.2,2330.9 857.8,2326.1 870.6,2321.3 881.2,2313.6 893.6,2318.9 894,2319 894.1,2319 894.1,2319.1 896.4,2319.2 910.4,2317.5 911.2,2317.6 915.2,2316.4 925.7,2319.8ZM987.2,2587.2 985.5,2590.9 976.7,2589.9 966.2,2588.9 955.5,2588.2 948.6,2586.4 947.7,2582.8 952.1,2580.3 960.8,2582 971.5,2582.8 980.3,2585.5ZM940.2,2569.9 938.8,2566.1 941.6,2567.1ZM968.6,2561.3 967.2,2558.4 970,2559.4ZM962.2,2559.4 960.1,2560.3 959.4,2558.4ZM964.3,2538.1 967.9,2540.6 967,2541.9 964.1,2539.4ZM909.5,2540.6 907.5,2539.8 907.2,2537.1 910.2,2538.5ZM908.1,2532.7 905.5,2532.3 904.5,2527.5 908.1,2528.3ZM939.8,2499.3 943.3,2506.4 941.5,2510.8 938.1,2513.3 943.3,2517 943.5,2517.2 944.2,2515.2 949.4,2519.5 954.7,2525.8 960.8,2531.9 959.1,2533.7 954.6,2529.7 955.5,2531 959.1,2536.3 958.2,2538.5 953.8,2534.4 950.3,2531 944.2,2529.6 941.5,2531.9 944.2,2538.1 945.9,2545 939.8,2546.9 938.1,2553.8 940.6,2562.6 936.2,2560.9 932.7,2557.3 930.1,2564.4 925.7,2555.5 924,2560.9 920.4,2550.4 916.9,2541.5 916,2534.4 920.4,2529.2 925.7,2527.5 934.5,2528.9 938.1,2527.9 924,2525.4 916.9,2526.6 912.5,2522.1 908.1,2515.2 906.4,2508.1 902.8,2502 900.1,2501 902.8,2495.8 908.1,2488.7 910.8,2481.6 913.3,2479.1 922.2,2476.5 931,2474.7 938.1,2469.4 943.3,2470.3 952.1,2468.6 960.8,2466.9 967.9,2469.4 976.7,2470.3 983.7,2465.9 987.2,2464.9 989.1,2469.4 985.5,2479.9 978.4,2478.2 969.6,2476.5 962.6,2478.2 959.1,2481.6 953.8,2484.3 950.3,2483.6 954.7,2490.5 951.1,2494.1 948.6,2488.7 946.7,2494.9 944.2,2490.5 942.3,2487.8 939.8,2484.3 935.4,2486.1 936.2,2490.5ZM955.8,2512.4 953.7,2513.3 953,2511.4ZM897.6,2505.4 895.7,2506.8 893.2,2502.8 892.3,2499.3 894.9,2500.3ZM964.8,2483.8 962.2,2484.1 961.8,2481.6 964.8,2481.4ZM998.7,2576.7 1000.4,2577.6 999.9,2582.8 998.2,2582ZM1012.8,2563.6 1013.9,2567.8 1010.1,2571.9 1008,2569.7 1009.2,2564.4ZM973.6,2564.2 975.7,2565.1 974.3,2566.1ZM998.4,2559.4 995.6,2556.5 1002,2557.5ZM977.3,2553.4 974.9,2553 974.9,2550.4 977.6,2550.7ZM971.5,2545 971.5,2542.1 973.6,2544ZM994.3,2539.4 993.9,2541.5 990.3,2541.9 989.9,2539.8ZM982,2530 981.1,2523.9 983.7,2524.8 984.7,2531ZM982,2515.2 980.3,2511.6 984.7,2509.9 989.1,2512.5 987.2,2516ZM974,2494.3 974,2497.6 970.6,2498 969.6,2494.9Z"/><path fill="#f7f7f7" d="M855.4,2396.4 867.6,2397.2 878.3,2399.1 883.5,2402.6 886.1,2409.7 890.5,2416.6 888.8,2423.7 890.5,2428.1 883.5,2428.9 878.3,2436 876.4,2446.5 873,2443.8 864.2,2436 855.4,2428.1 848.3,2420.2 841.3,2411.4 837.8,2402.6 839.5,2397.2 846.6,2395.5ZM916,2439.4 921.3,2444.8 919.6,2450 915.2,2452.7 908.1,2455.3 902.8,2450 899.3,2446.5 902,2441.3 906.4,2435.2 909.8,2434.2ZM851.8,2376.3 862.3,2383.2 873,2384.9 882.7,2383.2 885.2,2392 888.8,2397.2 883.5,2402.6 878.3,2399.1 867.6,2397.2 855.4,2396.4 846.6,2395.5 839.5,2397.2 837.8,2402.6 841.3,2411.4 848.3,2420.2 855.4,2428.1 864.2,2436 873,2443.8 876.4,2446.5 875.9,2448.1 876.4,2448.2 869.4,2446.5 858.9,2441.3 848.3,2434.2 839.5,2427.1 832.5,2420.2 825.4,2411.4 820.1,2402.6 814,2396.4 811.3,2402.6 806.9,2390.3 809.6,2388.5 818.4,2390.3 825.4,2388.5 832.5,2386.8 836.1,2379.7 841.3,2375.3 845.7,2370.9Z"/><path fill="#92c5de" d="M890.5,2431.5 897.6,2436.9 902,2441.3 899.3,2446.5 895.7,2448.2 890.5,2450 887.9,2458 883.5,2454.4 878.3,2450 876.4,2448.2 875.9,2448.1 876.4,2446.5 878.3,2436 883.5,2428.9ZM913.4,2479.1 913.4,2479.2 910.8,2481.7 908.1,2476.5 908.1,2476.4 903.7,2466.9 904.5,2458.8 908.1,2455.3 915.2,2452.7 924,2451.9 934.5,2453.6 938.9,2460.5 938.1,2469.4 931,2474.7 922.2,2476.5 913.4,2479.1ZM916.9,2402.6 924,2406 932.7,2409.7 934.5,2418.3 931.8,2423.7 936.2,2430.8 938.9,2436 934.5,2443.1 931.8,2450 934.5,2453.6 924,2451.9 915.2,2452.7 919.6,2450 921.3,2444.8 916,2439.4 909.8,2434.2 906.4,2435.2 902,2441.3 897.6,2436.9 890.5,2431.5 883.5,2428.9 890.5,2428.1 888.8,2423.7 890.5,2416.6 886.1,2409.7 883.5,2402.6 888.8,2397.2 885.2,2392 882.7,2383.2 890.5,2379.7 897.5,2381.4 897.6,2381.4 904.5,2379.7 904.6,2379.7 904.6,2384.9 911.6,2395.5ZM1013.6,2340.2 1020.6,2346.3 1025.9,2355.1 1031.3,2363.8 1038.2,2370.9 1036.5,2374.3 1029.4,2373.6 1024.2,2378 1020.6,2384.9 1015.4,2390.3 1013.6,2379.7 1013.6,2367.4 1008.4,2356.9 1003.1,2349.8 997.7,2342.7 992.5,2339.2 997.7,2334.8 1004.8,2335.8ZM996.1,2458 996.1,2458.1 996,2458.1 990.8,2460.6 987.2,2465 983.7,2465.9 983.6,2465.9 976.7,2470.3 967.9,2469.4 960.8,2466.9 952.1,2468.6 943.3,2470.3 938.9,2469.4 938.9,2460.5 934.5,2453.6 931.8,2450 934.5,2443.1 938.9,2436 936.2,2430.8 931.8,2423.7 934.5,2418.3 939.8,2421.9 948.6,2422.7 960.8,2423.7 976.7,2425.4 987.2,2420.2 996,2417.5 1010.1,2420.2 1018.9,2423.7 1017.2,2430.8 1010.1,2436 1008.4,2446.5 1004.8,2451.9 1007.4,2457.1 996.1,2458Z"/><path fill="#a3e4d7" d="M967.9,2348 978.4,2344.6 992.5,2339.2 997.7,2342.7 1003.1,2349.8 1008.4,2356.9 1013.6,2367.4 1013.6,2379.7 1015.4,2390.3 1020.6,2393 1029.4,2393 1034.7,2394.7 1036.8,2388.5 1039.9,2395.5 1033,2402.6 1020.6,2411.4 1018.9,2423.7 1010.1,2420.2 996,2417.5 987.2,2420.2 976.7,2425.4 960.8,2423.7 948.6,2422.7 939.8,2421.9 934.5,2418.3 932.7,2409.7 924,2406 916.9,2402.6 911.6,2395.5 904.5,2384.9 904.5,2379.7 911.6,2376.3 916.9,2370.9 924,2358.6 931,2349.8 937.1,2342.7 943.3,2343.6 953.8,2345.4ZM848.4,2353.6 843,2365.7 836.1,2367.5 835.3,2367.6 825.4,2369.9 815.7,2372.4 808.1,2371.3 792.3,2368 792.3,2350.6 798.1,2352.1 795.3,2339.6 803.8,2334.8 809.5,2328.1 822.3,2331 826.5,2323.3 842.2,2328.1 854.2,2331 855.1,2334.3 854.5,2334.8 855.4,2344.6 850.1,2349.8 848.4,2353.6ZM881.2,2313.7 870.6,2321.4 857.8,2326.2 854.2,2331 842.2,2328.1 826.5,2323.3 822.3,2331 809.5,2328.1 792.3,2307.5 792.3,2306 873.1,2306ZM809.5,2328.1 803.8,2334.8 795.3,2339.6 798.1,2352.1 792.3,2350.6 792.3,2307.5ZM935.9,2311.8 933.8,2321.4 927.5,2320.3 925.7,2319.8 915.2,2316.4 911.2,2317.7 910.4,2317.5 896.4,2319.2 894,2319.1 893.6,2318.9 881.2,2313.7 873.1,2306 941.5,2306ZM1065.8,2560.9 1057.5,2557.3 1048.7,2560.9 1045.3,2568.8 1039.9,2566.1 1034.7,2569.7 1027.7,2567.8 1020.6,2564.4 1013.6,2560.9 1010.1,2555.5 1004.8,2548.6 997.7,2543.3 1001.3,2538.1 997.7,2532.7 992.5,2527.5 996,2523.9 990.8,2517 994.3,2511.6 990.8,2504.7 985.5,2497.6 987.2,2490.5 992.5,2488.7 1001.3,2487 1010.1,2484.3 1018.9,2483.6 1031.3,2482.6 1034.7,2479.9 1025.9,2472 1034.7,2473 1045.3,2473.8 1055.8,2473 1065.8,2468.6 1066.5,2467.9 1066.5,2561.6ZM996,2458 1007.4,2457.1 1011.8,2460.5 1018.9,2465.9 1024.2,2470.3 1020.6,2474.7 1011.8,2475.5 1003.1,2478.2 996,2481.6 990.8,2486.1 987.2,2488.4 987.2,2483.6 985.5,2479.9 989.1,2469.4 987.2,2464.9 990.8,2460.5Z"/><path fill="#4393c3" d="M937.1,2342.7 929.2,2335.8 929.2,2335.7 929.3,2335.6 930.4,2329.4 933.8,2321.4 935.9,2311.8 941.5,2306 1066.5,2306 1066.5,2368.3 1065.8,2367.4 1059.4,2369.2 1048.7,2372.6 1041.8,2381.4 1036.8,2388.5 1034.8,2394.2 1032.2,2393.9 1029.4,2393 1025.4,2393 1018.9,2392.1 1015.4,2390.3 1020.6,2384.9 1024.2,2378 1029.4,2373.6 1036.5,2374.3 1038.2,2370.9 1031.2,2363.8 1025.8,2355.2 1020.6,2346.3 1013.6,2340.2 1004.8,2335.8 997.7,2334.8 996,2336.3 992.5,2339.2 978.4,2344.6 967.9,2348.1 967.7,2348 953.9,2345.4 953.8,2345.4 943.3,2343.7 937.1,2342.7Z"/><path fill="#76a98a" d="M823.7,2528.9 834.2,2529.2 832.5,2536.3 829.8,2543.3 828.1,2550.4 829.8,2555.5 827.2,2557.3 820.1,2554.8 811.3,2548.6 802.5,2545 792.3,2541.3 792.3,2533.2 802.5,2531 813.2,2530ZM808.1,2371.3 807.8,2374 806.1,2374.3 807.4,2378 806.9,2382.7 806.1,2384.9 799.5,2385.7 792.3,2391.2 792.3,2368ZM792.4,2420.2 799.1,2421.9 806.1,2427.1 811.3,2436 818.4,2446.5 825.4,2453.6 834.2,2458 841.3,2459.8 840.5,2465.9 846.6,2470.3 855.4,2474.7 864.2,2481.6 871.2,2487.8 875.6,2493.2 876.4,2497.6 873,2499.3 867.6,2492.2 862.3,2487.8 857.1,2486.1 852.7,2490.5 851.8,2497.6 855.4,2504.7 857.1,2510.8 854.5,2514.3 849.1,2518.7 844.7,2525.8 843,2531 841.3,2533.7 837.8,2534.4 836.1,2531 837.8,2523.9 841.3,2517 843,2508.1 839.5,2501 836.1,2494.1 829,2487.8 822,2481.6 814.9,2476.5 806.1,2471.1 799.1,2468.6 792.4,2464.9 792.3,2464.9 792.3,2420Z"/><path fill="#ffffff" d="M819.3,2572.8 820.6,2575.3 818,2574.9 816.6,2572.2Z"/></g><rect x="792.3" y="2306" width="274.2" height="293.5" fill="none" stroke="#1a1a1a" stroke-width="1.6"/></g>
<g id="inB_sea"><g stroke="#333" stroke-width="1.4" stroke-linejoin="round"><path fill="#f7f7f7" d="M1200.6,2357.9 1205.4,2356.9 1216.4,2350.9 1216.7,2350.4 1216.8,2350.4 1216.8,2350.5 1225.6,2358 1234.2,2366.6 1238.5,2376.6 1238,2389 1240.4,2401.4 1245.3,2413.9 1250.4,2425.1 1247.9,2428.9 1239.1,2430 1229.3,2426.3 1219.3,2418.9 1209.4,2410.1 1200.6,2401.4 1194.4,2389 1191.9,2374.1 1188.1,2361.7 1185.7,2350.4 1191.9,2348 1198.1,2350.4 1200.6,2357.9ZM1433.2,2396.5 1428.1,2402.7 1424.3,2409 1421.9,2420.1 1413.2,2426.3 1400.8,2430 1379.6,2427.6 1376,2432.5 1363.4,2435.1 1353.6,2437.6 1346.1,2426.3 1338.6,2418.9 1348.6,2423.8 1357.2,2425.1 1363.4,2421.4 1366,2407.6 1376,2403.9 1388.4,2399 1398.4,2392.8 1407,2382.8 1412.7,2377.1 1413.2,2376.6 1423.2,2370.4 1429.2,2369.5 1427,2371.7 1427,2379.5 1429.6,2379.5 1429.6,2369.4 1431.9,2369.1 1434.3,2362.9 1443.1,2356.7 1449.3,2350.4 1452.9,2341.8 1458,2338 1461.8,2344.2 1468,2349.3 1472.9,2356.7 1481.7,2359.1 1490.5,2363.5 1490.5,2369 1485.3,2371.7 1477.9,2379 1470.4,2382.8 1462.9,2384.1 1462.9,2382 1443.1,2381.5 1434.3,2384.1ZM1418.1,2384.6 1425.7,2379 1423.2,2370.9 1412.7,2377.1Z"/><path fill="#92c5de" d="M1268.2,2311.9 1264.6,2311.9 1261.9,2310.3 1262.5,2306 1277,2306Z"/><path fill="#2166ac" d="M1191.9,2348 1185.7,2350.5 1181.9,2344.3 1181.9,2344.2 1172,2334.3 1164.6,2321.9 1157.1,2323.2 1153.4,2320.5 1154.2,2307 1154.4,2306 1180.4,2306 1181.9,2307 1184.6,2316.9 1185.7,2325.6 1188.1,2334.3 1194.4,2338 1203.2,2340.5 1209.4,2342.9 1216.7,2350.4 1216.4,2350.9 1205.4,2357 1200.6,2358 1198.1,2350.4 1191.9,2348Z"/><path fill="#4393c3" d="M1403.3,2575.6 1413.2,2580.5 1415.7,2591.7 1405.7,2590.5 1388.4,2586.8 1370.9,2586.8 1356.1,2583 1338.6,2578.1 1323.7,2578.1 1306.2,2574.3 1288.9,2569.3 1276.5,2564.4 1268.5,2560.6 1277.7,2550.6 1288.9,2548.2 1301.3,2550.6 1313.8,2554.4 1326.2,2561.9 1338.6,2563.1 1351,2561.9 1358.5,2555.7 1370.9,2560.6 1383.3,2564.4 1392.2,2570.6ZM1405.7,2567.6 1392.2,2568.1 1388.4,2564.4 1398.4,2563.1 1408.2,2563.5ZM1219.3,2537.7 1218.9,2540.2 1216.1,2539.5 1215.6,2537.1ZM1315.1,2499.7 1310,2503.4 1305.1,2501 1305.1,2494.7 1312.5,2493.4ZM1189.5,2502.3 1187,2503.9 1180.8,2495.9 1174.6,2484.8 1178.2,2484.8 1183.2,2493.4ZM1275.2,2476.1 1281.4,2486.1 1288.9,2493.4 1290.1,2499.7 1281.4,2497.2 1275.2,2489.7 1265.2,2482.3ZM1163.3,2466.8 1168.4,2476.1 1167.6,2480.5 1162.7,2477.3 1159.6,2468.6ZM1251,2458.6 1255.3,2458.1 1256.1,2462.4 1251.7,2462.4ZM1156.6,2459.9 1154.7,2458.6 1154.2,2452.4 1156.6,2453.7ZM1175.7,2448.7 1167.1,2438.7 1162.2,2426.3 1155.8,2416.3 1147.1,2410.1 1139.8,2399 1131,2389 1122.3,2381.5 1112.4,2371.7 1104.8,2366.6 1103.7,2362.2 1109.9,2360.4 1122.3,2365.3 1133.6,2369.1 1140.9,2367.4 1148.5,2374.1 1154.7,2384.1 1164.6,2395.2 1174.6,2406.5 1187,2416.3 1197,2420.1 1204.3,2418.9 1214.3,2430 1224.2,2438.7 1229.3,2446.2 1236.7,2447.5 1242.2,2453.7 1239.1,2459.9 1244.2,2466.2 1252.8,2469.9 1255.3,2481 1259,2489.7 1266.6,2490.5 1274.1,2495.9 1277.7,2505.9 1276,2520.9 1276.5,2535.8 1275.2,2545.7 1268.5,2542 1261.5,2544.4 1257.1,2546.4 1249.1,2535.8 1239.1,2525.8 1229.3,2515.8 1219.3,2505.9 1209.4,2493.4 1199.4,2481 1193.2,2471.1 1185.7,2458.6ZM1259,2453.7 1261.5,2456.2 1256.1,2456.2 1252.8,2452.4 1254.1,2448.7ZM1449.3,2481 1448,2493.4 1443.1,2503.4 1444.3,2510.9 1433.2,2514.7 1419.4,2518.3 1415.7,2504.7 1403.3,2503.4 1399.5,2498.5 1388.4,2503.4 1374.7,2508.5 1373.4,2498.5 1361,2499.7 1348.6,2498.5 1346.1,2486.1 1341.2,2473.7 1334.8,2468.6 1331.2,2456.2 1328.6,2446.2 1326.2,2436.2 1329.9,2426.3 1334.8,2420.1 1338.6,2418.9 1346.1,2426.3 1353.6,2437.6 1363.4,2435.1 1376,2432.5 1379.6,2427.6 1400.8,2430 1413.2,2426.3 1421.9,2420.1 1424.3,2409 1428.1,2402.7 1433.2,2396.5 1434.3,2384.1 1443.1,2381.5 1462.9,2382 1462.9,2384.1 1468,2391.5 1465.5,2396.5 1469.1,2406.5 1472.9,2418.9 1480.4,2428.9 1490.5,2434.5 1490.5,2435.8 1476.6,2441.3 1470.4,2446.2 1466.7,2458.6 1462.9,2466.2 1452.9,2471.1ZM1229.3,2431.3 1232.9,2436.2 1229.3,2441.3 1224.2,2438.7 1222.9,2432.5ZM1257.1,2436.2 1251.7,2437.6 1249.1,2432.5 1255.3,2431.3ZM1134.7,2427.6 1139.8,2426.3 1147.1,2436.2 1146.7,2441.3 1140.9,2438.7ZM1123.6,2410.9 1122.3,2413.4 1114.8,2409 1112.4,2405.2 1116.1,2404.4ZM1315.1,2382.8 1317.5,2387.7 1315.1,2392 1312,2389.5 1311.3,2384.6ZM1462.9,2598 1455.5,2596.7 1454.2,2591.7 1462.9,2585.4 1472.9,2583 1482.8,2585.4 1490.5,2587.8 1490.5,2596.1 1490.3,2596.2 1477.9,2595.4ZM1451.8,2594.3 1443.1,2595.4 1441.8,2586.8 1450.5,2585.4ZM1418.1,2585.4 1428.1,2583 1434.3,2588.1 1430.6,2594.3 1421.9,2593ZM1490.3,2498.2 1490.5,2497.8 1490.5,2498.3Z"/><path fill="#008080" d="M1418.1,2384.6 1412.7,2377.1 1423.2,2370.9 1425.7,2379ZM1427,2379.5 1427,2371.7 1429.2,2369.5 1429.6,2369.4 1429.6,2379.5Z"/></g><rect x="1098.8" y="2306" width="391.7" height="293.5" fill="none" stroke="#1a1a1a" stroke-width="1.6"/></g>
<g id="inB_waf"><g stroke="#333" stroke-width="1.4" stroke-linejoin="round"><path fill="#2166ac" d="M1587.3,2332.1 1593.7,2331.7 1596.4,2329.3 1600,2330.3 1604.6,2333 1609.1,2333.4 1613.6,2333 1614.1,2334.8 1610.9,2335.8 1606.4,2335.8 1601.8,2333.4 1598.2,2332.1 1594.6,2333.9 1589.1,2334.8 1588.2,2337.6 1580,2337.6 1578.1,2337.5 1577.8,2335.3 1581,2333.4ZM1641.9,2337.6 1644.1,2343.1 1644.6,2346.7 1639.1,2346.2 1632.8,2347.2 1626.4,2345.3 1620.9,2343.1 1615.4,2343.1 1602.8,2343.1 1593.7,2343.1 1584.6,2343.4 1579.1,2343.1 1578.7,2343.1 1579.1,2341.2 1578.2,2338.5 1577.8,2335.3 1579.6,2330.3 1579.1,2327.1 1576.8,2323.9 1574.5,2320.7 1570.9,2317.9 1569.1,2317.6 1573.7,2315.2 1577.3,2310.3 1580,2304.8 1580,2304.7 1621.8,2304.7 1621.9,2304.8 1626.4,2309.4 1631,2313.9 1634.6,2317.6 1635,2323 1637.3,2327.6 1638.2,2333.9ZM1578.1,2337.5 1580,2337.6 1588.2,2337.6 1589.1,2334.8 1594.6,2333.9 1598.2,2332.1 1601.8,2333.4 1606.4,2335.8 1610.9,2335.8 1614.1,2334.8 1613.6,2333 1609.1,2333.4 1604.6,2333 1600,2330.3 1596.4,2329.3 1593.7,2331.7 1587.3,2332.1 1581,2333.4 1577.8,2335.3ZM1587.3,2361.6 1588.6,2363 1586.4,2364 1584.6,2362.6ZM1590.4,2360.3 1592,2359.9 1591.9,2361.4ZM1589.1,2356.7 1589.6,2358.6 1588,2358.7 1587.8,2357.2ZM1607.3,2356.2 1603.7,2359.4 1600,2364.9 1598.2,2363 1595.5,2359.4 1593.7,2356.7 1591.9,2354 1587.3,2352.6 1585.5,2350.3 1584.6,2348 1582.8,2346.2 1580,2344.8 1578.7,2343.1 1579.1,2343.1 1579.2,2343.1 1584.6,2343.4 1593.7,2343.1 1602.8,2343.1 1615.4,2343.1 1616.4,2346.7 1614.6,2348.5 1615.4,2352.1 1611.8,2354.8ZM1685.1,2380.9 1685.4,2383.1 1687.3,2386.8 1686.4,2391.2 1689.1,2394.9 1684.6,2396.8 1683.6,2401.3 1682.8,2405 1678.2,2406.7 1674.5,2410.4 1670,2409.6 1667.2,2403.1 1664.6,2397.7 1661.8,2395.4 1657.3,2396.8 1655,2394.9 1655,2392.2 1652.8,2388.5 1651.8,2384.1 1649.2,2380.3 1646.4,2376.7 1640.9,2376.3 1634.6,2377.1 1629.1,2378.5 1624.5,2383.1 1620.9,2387.6 1619.1,2384.9 1616.4,2381.3 1614.6,2378.5 1611.8,2375.8 1608.1,2374 1605.5,2371.3 1602.8,2367.6 1600,2364.9 1603.7,2359.4 1607.3,2356.2 1611.8,2354.8 1615.4,2352.1 1614.6,2348.5 1616.4,2346.7 1615.4,2343.1 1620.9,2343.1 1626.4,2345.3 1632.8,2347.2 1639.1,2346.2 1644.6,2346.7 1645.8,2348.3 1648.2,2350 1650,2349.4 1652.8,2352.1 1657.3,2349.4 1662.8,2348 1668.2,2346.7 1670,2345.3 1671.9,2345.8 1674.5,2350.3 1676.3,2354.8 1680,2359.4 1679.1,2360.7 1681.2,2364 1682.5,2367.5 1683.6,2369.4 1683.6,2369.5 1686.4,2374 1685.1,2380.9ZM1634.6,2377.1 1640.9,2376.3 1646.4,2376.7 1649.2,2380.3 1651.8,2384.1 1652.8,2388.5 1655,2392.2 1655,2394.9 1652.8,2398.5 1653.7,2400.4 1650,2405 1646.4,2409.6 1643.7,2414 1637.3,2411.3 1632.8,2409.1 1630,2407.2 1628.2,2405 1625.5,2402.2 1623.7,2398.5 1624.5,2395.8 1622.7,2394.1 1622.3,2390.4 1620.9,2387.6 1624.5,2383.1 1629.1,2378.5ZM1645.5,2416.7 1643.7,2414 1646.4,2409.6 1650,2405 1653.7,2400.4 1652.8,2398.5 1655,2394.9 1657.3,2396.8 1661.8,2395.4 1664.6,2397.7 1667.2,2403.1 1670,2409.6 1674.5,2410.4 1678.2,2406.7 1682.8,2405 1681.8,2410.4 1680,2414 1679.6,2416.6 1679.9,2420.2 1647.3,2420.2ZM1669.1,2308.3 1667.7,2308.4 1661.8,2309.4 1655.5,2309.4 1650,2312.1 1648.2,2311.1 1644.3,2307.5 1642.4,2307.1 1636.5,2314.3 1634.6,2317.6 1631,2313.9 1626.4,2309.4 1621.9,2304.8 1621.8,2304.7 1697.7,2304.7 1697.7,2308.3ZM1682.8,2405 1683.6,2401.3 1684.6,2396.8 1687.1,2395.7 1687.2,2395.7 1689.1,2394.9 1686.4,2391.2 1687.3,2386.8 1685.4,2383.1 1685.1,2380.9 1686.4,2374 1686.3,2373.8 1687.2,2373.6 1690.9,2371.3 1692.4,2372 1697.7,2370.4 1697.7,2420.2 1679.9,2420.2 1679.6,2416.6 1680,2414 1681.8,2410.4Z"/><path fill="#4393c3" d="M1670,2345.3 1668.2,2346.7 1663.6,2347.8 1662.8,2348 1657.3,2349.4 1652.8,2352.1 1650,2349.4 1648.1,2350 1645.8,2348.3 1644.6,2346.7 1644.1,2343.1 1641.9,2337.6 1638.2,2333.9 1637.3,2327.6 1635,2323 1634.6,2317.6 1636.5,2314.3 1642.4,2307.1 1644.3,2307.5 1648.2,2311.1 1650,2312.1 1655.5,2309.4 1661.8,2309.4 1667.7,2308.4 1669.1,2308.3 1697.7,2308.3 1697.7,2370.4 1692.4,2372 1690.9,2371.3 1687.2,2373.6 1686.3,2373.8 1683.6,2369.4 1682.5,2367.5 1681.2,2364 1679,2360.7 1680,2359.4 1676.3,2354.8 1674.5,2350.3 1671.9,2345.8 1670,2345.3Z"/></g><rect x="1565.8" y="2304.7" width="131.9" height="115.5" fill="none" stroke="#1a1a1a" stroke-width="1.6"/></g>
<g id="inB_emed"><g stroke="#333" stroke-width="1.4" stroke-linejoin="round"><path fill="#f7f7f7" d="M1756.9,2373.5 1766.3,2371.9 1775.1,2373.2 1778.7,2373.5 1783.1,2377.7 1788.5,2379.5 1796.4,2378.7 1803.6,2378.7 1809.8,2377.4 1815.5,2376.9 1818.7,2385.9 1822.1,2396.1 1824.9,2404 1823.6,2406.2 1821.3,2413.8 1819.1,2421.1 1800,2421.1 1799.1,2419.8 1795.5,2413.8 1792.1,2407.1 1789.8,2399.8 1788,2397.7 1786.2,2399 1786.7,2402.9 1789.3,2409.6 1792.9,2416.4 1795.5,2421.1 1756.8,2421.1 1756.8,2373.7Z"/><path fill="#d1ece8" d="M1850.6,2330.8 1847.9,2336.7 1843.4,2339.3 1841.7,2343.5 1839.1,2346.9 1836.4,2346.4 1832.3,2348.2 1829.8,2347.7 1832.8,2340.9 1835.5,2334.1 1838.1,2328.2 1840,2324.8 1846.2,2324.3 1848.7,2326.4ZM1816.7,2378.2 1820.3,2373.4 1819.5,2371.7 1818.5,2372.8 1818.2,2373.3 1819.5,2371.4 1822.1,2364.7 1824,2357.9 1825.7,2351.9 1829.8,2347.7 1832.3,2348.2 1836.4,2346.4 1839.1,2346.9 1840.8,2351.1 1840,2354.5 1835.5,2357.9 1834.6,2363 1833.2,2358.3 1830.2,2357.4 1827.4,2358.7 1826.2,2361.3 1826.6,2366.4 1829.3,2369 1827.4,2371.4 1824.9,2373.5 1825.7,2375.6 1829.3,2374.8 1832.3,2373.2 1831,2381.6 1829.3,2390.1 1826.6,2398.5 1825.1,2404.4 1824.9,2404 1822.1,2396.1 1818.7,2385.9 1815.5,2376.9 1815.6,2376.8ZM1854.1,2360 1844.4,2357.9 1840,2354.5 1840.8,2351.1 1839.1,2346.9 1841.7,2343.5 1843.4,2339.3 1847.9,2336.7 1850.6,2330.8 1848.7,2326.4 1846.2,2324.3 1840,2324.8 1841.3,2318 1840.4,2312.1 1839.1,2305.8 1880.4,2305.8 1880.4,2343.1Z"/><path fill="#008080" d="M1815.6,2376.8 1818.5,2372.8 1819.5,2371.7 1820.3,2373.4 1816.7,2378.2ZM1834.6,2363 1833.8,2369 1832.3,2373.2 1829.3,2374.8 1825.7,2375.6 1824.9,2373.5 1827.4,2371.4 1829.3,2369 1826.6,2366.4 1826.2,2361.3 1827.4,2358.7 1830.2,2357.4 1833.2,2358.3ZM1831,2381.6 1832.3,2373.2 1833.8,2369 1834.6,2363 1835.5,2357.9 1840,2354.5 1844.4,2357.9 1854.1,2360 1880.4,2343.1 1880.4,2368.7 1880.1,2369 1856.8,2373.5 1871,2388.5 1863.9,2396.4 1852.3,2401.1 1842.6,2407.9 1827.4,2406.2 1824.6,2409.1 1825.1,2404.4 1826.6,2398.5 1829.3,2390.1ZM1852.3,2401.1 1863.9,2396.4 1871,2388.5 1856.8,2373.5 1880.1,2369 1880.4,2368.7 1880.4,2421.1 1821.3,2421.1 1824,2411.4 1824.3,2409.6 1824.6,2409.1 1827.4,2406.2 1842.6,2407.9ZM1786.2,2317.2 1790.2,2315.9 1795.5,2316.7 1800.8,2316.4 1806.2,2318 1809.8,2318.5 1811.5,2319 1809.3,2320.1 1806.2,2320.1 1803.6,2322.2 1799.1,2324 1795.5,2326.4 1792.1,2324.3 1787.6,2323.5 1784.9,2321.4 1784,2319.3Z"/></g><rect x="1756.8" y="2305.8" width="123.6" height="115.3" fill="none" stroke="#1a1a1a" stroke-width="1.6"/></g>
<g id="inB_neu"><g stroke="#333" stroke-width="1.4" stroke-linejoin="round"><path fill="#d1ece8" d="M1748,2597.4 1753.6,2594.8 1759.3,2593.8 1763.6,2595.6 1766.7,2599 1745.1,2599ZM1762.2,2587.7 1762.9,2587.9 1765.5,2588.4 1765.5,2588.5 1764.1,2592.5 1763.6,2595.6 1759.3,2593.8 1753.6,2594.8 1748,2597.4 1745.1,2599 1733.7,2599 1733.4,2595.2 1733.7,2594.9 1733.3,2593.3 1733.3,2593.2 1734.8,2590.8 1739.9,2588.4 1744.2,2584.6 1749.2,2587.2 1749.4,2587.3 1750.4,2587.4 1756,2586.5 1756.3,2586.6 1757.9,2586 1762.2,2587.7ZM1762.3,2503.2 1761.7,2500.3 1769.2,2497.4 1767.5,2501.3ZM1770.9,2497.4 1770.9,2495.8 1791.6,2495.8 1791.6,2507.6 1788.1,2508 1781.2,2503.2 1776.1,2504.1ZM1764,2496 1763.9,2495.8 1767.5,2495.8 1767.5,2496Z"/><path fill="#92c5de" d="M1789.1,2597.4 1791.3,2595.2 1791.6,2595.2 1791.6,2599 1791.1,2599ZM1788.7,2525.2 1788.7,2531 1784.1,2532.9 1782.9,2539.6 1776.1,2542.5 1770.9,2542 1766.9,2538.2 1766.9,2532.9 1762.3,2531 1757.1,2529.1 1756.8,2521.4 1762.3,2518.5 1778.9,2518.5Z"/><path fill="#a3e4d7" d="M1789.1,2597.4 1791.1,2599 1785.7,2599ZM1673.4,2581.8 1672.5,2585.1 1669.4,2584.1 1669.1,2580.8 1671.4,2578.4ZM1669.7,2568.8 1668.8,2572.2 1670.5,2572.6 1672.8,2576.5 1671.4,2578.4 1669.1,2580.8 1669.4,2584.1 1664.2,2581.8 1664,2579.1 1664,2566 1664.8,2565.9ZM1670.5,2562.1 1671.7,2566.4 1670.5,2572.6 1668.8,2572.2 1669.7,2568.8 1664.8,2565.9 1664,2566 1664,2551.1 1667.1,2549.2 1675.7,2547.3 1677.4,2548.2 1676.6,2556.8 1675.1,2561.2ZM1664.2,2581.8 1669.4,2584.1 1672.5,2585.1 1676.3,2587.5 1683.2,2589.4 1680.7,2599 1664,2599 1664,2579.1ZM1709.5,2597.6 1713,2595.2 1715.3,2591.8 1720.4,2593.3 1722.2,2589.4 1728.5,2591.8 1733.3,2593.3 1733.7,2594.9 1733.4,2595.2 1733.7,2599 1709.8,2599ZM1733,2577.9 1737.6,2577 1744.2,2584.6 1739.9,2588.5 1734.8,2590.9 1733.3,2593.3 1728.5,2591.8 1722.2,2589.4 1720.4,2593.3 1715.3,2591.8 1707.8,2580.8 1706.7,2577.9 1710.7,2575.5 1718.1,2569.8 1721,2571.7 1723.9,2572.2 1729.6,2573.6ZM1719.9,2555.4 1720.7,2560.2 1722.2,2570.3 1721,2571.7 1718.1,2569.8 1710.7,2575.5 1706.7,2577.9 1707.8,2580.8 1715.3,2591.8 1713,2595.2 1709.5,2597.6 1709.8,2599 1680.7,2599 1683.2,2589.4 1676.3,2587.5 1672.5,2585.1 1673.4,2581.8 1671.4,2578.4 1672.8,2576.5 1670.5,2572.6 1671.7,2566.4 1670.5,2562.1 1675.1,2561.2 1676.6,2556.8 1677.4,2548.2 1682.6,2545.3 1685.4,2542.5 1687.2,2541.5 1685.7,2532.9 1690.3,2533.4 1693.5,2536.7 1699.2,2537.7 1698.6,2542 1705.5,2539.6 1713,2535.8 1717.6,2542.5 1718.7,2548.2 1717.3,2552.5ZM1773.2,2554 1769.2,2557.8 1771.5,2559.7 1771.5,2565.5 1773.8,2574.1 1766.3,2583.7 1765.4,2588.5 1762.9,2587.9 1762.2,2587.7 1757.9,2586 1756.3,2586.6 1756,2586.5 1750.4,2587.4 1749.4,2587.3 1749.2,2587.2 1744.2,2584.6 1737.6,2577 1733,2577.9 1729.6,2573.6 1723.9,2572.2 1721,2571.7 1722.2,2570.3 1720.7,2560.2 1719.9,2555.4 1717.3,2552.5 1718.7,2548.2 1717.6,2542.5 1729,2538.6 1741.6,2533.8 1743.4,2537.7 1748.5,2537.2 1766.9,2538.2 1770.9,2542Z"/><path fill="#76a98a" d="M1699.2,2533.4 1704.4,2532.9 1703.8,2535.8 1699.8,2534.8ZM1720.4,2530 1722.7,2530.5 1722.2,2531.9ZM1708.4,2521.9 1708.4,2526.2 1706.1,2531.9 1700.4,2530 1699.8,2525.2 1703.8,2522.3ZM1690.3,2533.4 1685.7,2532.9 1682.6,2526.7 1682.9,2516.6 1685.4,2511.8 1696.9,2505.6 1695.2,2516.6 1698.6,2518.5 1694.6,2524.3 1692.9,2527.1 1698.1,2527.1 1697.5,2531.4 1692.9,2531 1692.4,2527.9 1691.2,2530ZM1682,2502.2 1674,2502.2 1669.2,2495.8 1689.7,2495.8ZM1733,2509.9 1734.2,2509.4 1730.2,2520.4 1730.2,2517.6ZM1741.1,2513.2 1739.9,2512.8 1743.9,2504.1 1746.2,2504.1 1743.9,2509.9ZM1731.3,2498.4 1731.3,2508.9 1727.9,2520.4 1720.4,2521.4 1717.6,2528.1 1710.7,2528.1 1707.8,2519.5 1704.9,2506.1 1700.9,2495.8 1734.2,2495.8Z"/><path fill="#4393c3" d="M1766.9,2538.2 1748.5,2537.2 1750.8,2532.4 1757.1,2529.1 1762.3,2531 1766.9,2532.9ZM1763.6,2595.7 1763.6,2595.6 1764.1,2592.5 1765.4,2588.5 1766.3,2583.7 1773.8,2574.1 1771.5,2565.5 1781.2,2561.6 1791.6,2564.4 1791.6,2595.2 1791.3,2595.2 1791.2,2595.2 1790.5,2595.9 1789.1,2597.4 1785.7,2599 1766.7,2599Z"/><path fill="#f7f7f7" d="M1791.6,2507.6 1791.6,2524.7 1788.7,2525.2 1778.9,2518.5 1762.3,2518.5 1756.8,2521.4 1756.6,2512.8 1760,2507.5 1765.7,2505.6 1769.2,2511.8 1774.3,2512.3 1776.1,2504.1 1781.2,2503.2 1788.1,2508ZM1773.2,2554 1770.9,2542 1776.1,2542.5 1782.9,2539.6 1784.1,2532.9 1788.7,2531 1788.7,2525.2 1791.6,2524.7 1791.6,2564.4 1781.2,2561.6 1771.5,2565.5 1771.5,2559.7 1769.2,2557.8Z"/></g><rect x="1664" y="2495.8" width="127.6" height="103.2" fill="none" stroke="#1a1a1a" stroke-width="1.6"/></g>
<text x="239" y="2291.6" font-size="23" text-anchor="middle">Caribbean and central America</text><text x="624" y="2291.6" font-size="23" text-anchor="middle">Persian Gulf</text><text x="911" y="2288.3" font-size="23" text-anchor="middle">Balkan Peninsula</text><text x="1285" y="2293" font-size="23" text-anchor="middle">Southeast Asia</text><text x="1632.1" y="2288.6" font-size="23" text-anchor="middle">West Africa</text><text x="1818.8" y="2267.3" font-size="23" text-anchor="middle">Eastern</text><text x="1821.7" y="2292.5" font-size="23" text-anchor="middle">Mediterranean</text><text x="1729.4" y="2481.6" font-size="23" text-anchor="middle">Northern Europe</text>
<text x="8" y="54.6" font-size="67">A</text><text x="8.5" y="1373.4" font-size="67">B</text>
</svg></body></html>
